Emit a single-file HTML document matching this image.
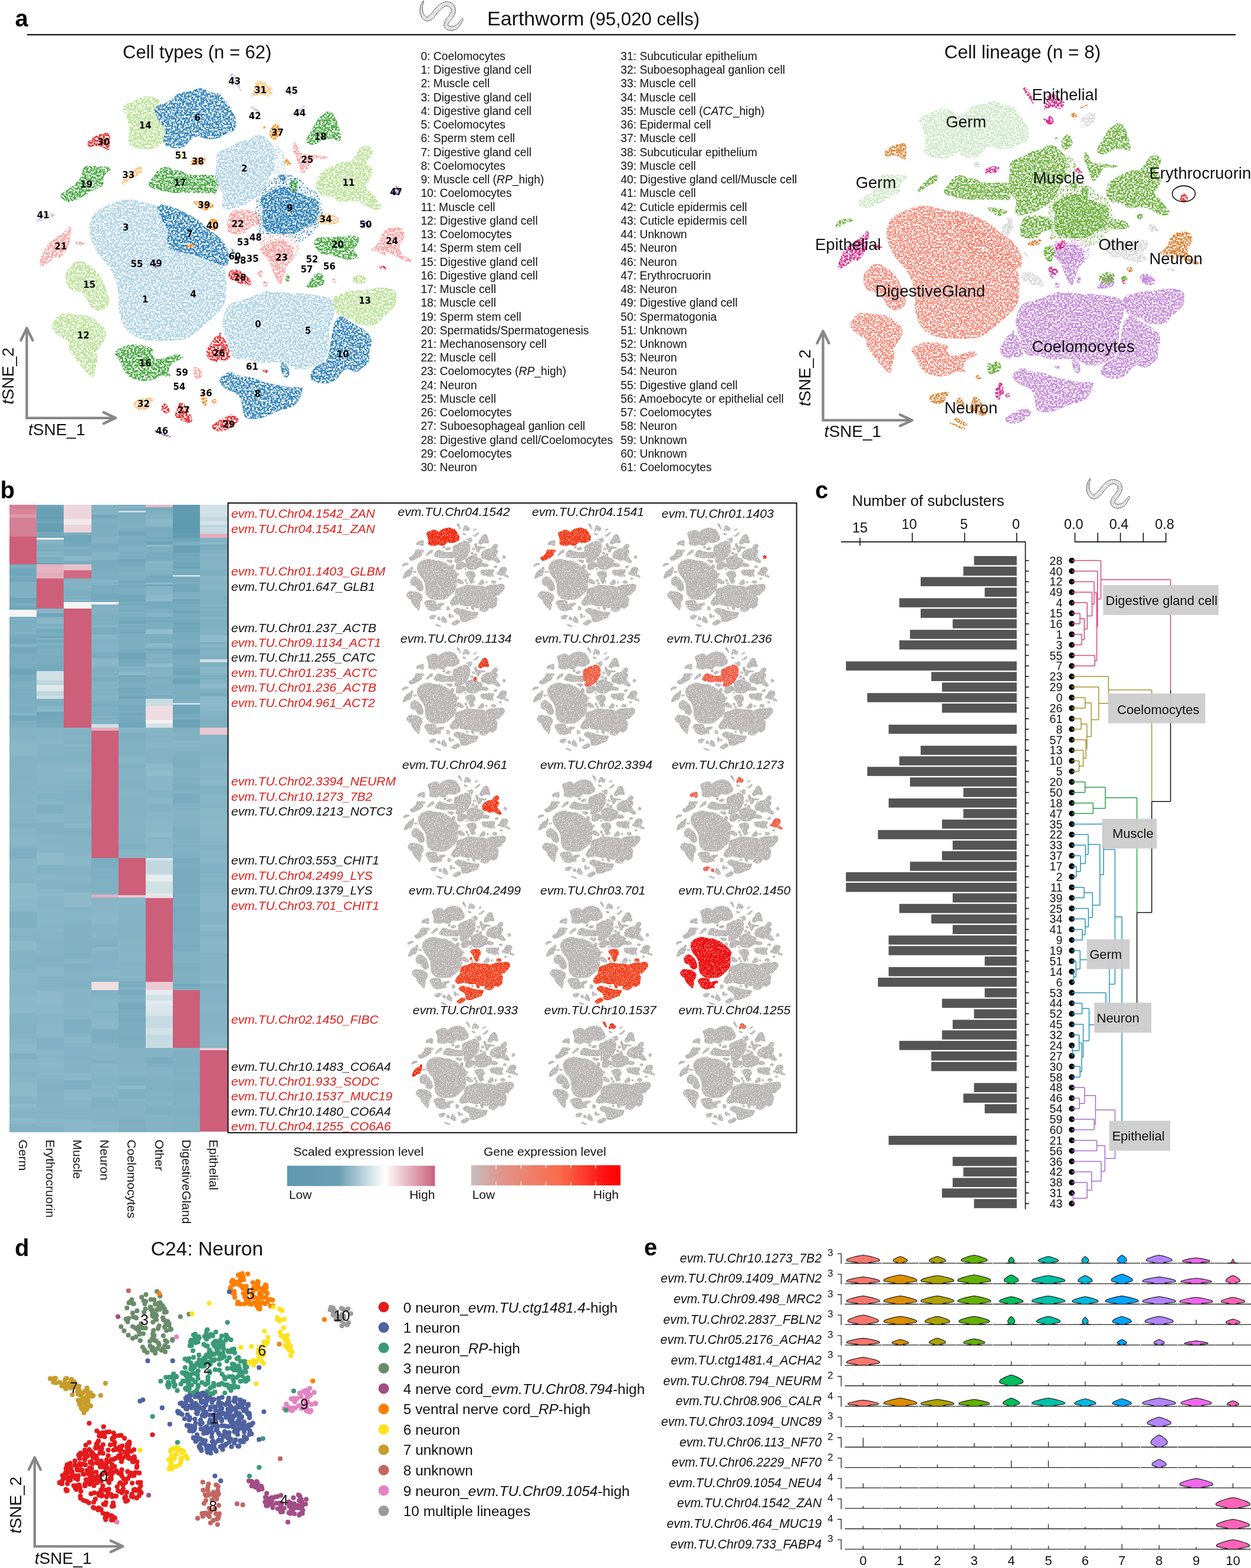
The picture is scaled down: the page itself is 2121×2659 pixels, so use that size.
<!DOCTYPE html>
<html><head><meta charset="utf-8"><title>Earthworm</title>
<style>html,body{margin:0;padding:0;background:#fff;} body{width:2121px;height:2659px;overflow:hidden;} svg{display:block;}</style>
</head><body>
<svg width="2121" height="2659" viewBox="0 0 2121 2659">
<rect width="2121" height="2659" fill="#fff"/>
<text x="25.5" y="45.0" font-size="40" text-anchor="start" font-weight="bold" font-style="normal" fill="#000" font-family='"Liberation Sans", Arial, sans-serif' >a</text>
<line x1="46" y1="58.8" x2="2095" y2="58.8" stroke="#111" stroke-width="2.2"/>
<text x="826" y="42.7" font-family='"Liberation Sans", Arial, sans-serif' fill="#111"><tspan font-size="34">Earthworm</tspan><tspan font-size="31.2"> (95,020 cells)</tspan></text>
<g id="worm1"><path d="M717.53,1.32 L717.15,1.83 L716.71,2.51 L716.21,3.32 L715.65,4.26 L715.08,5.30 L714.51,6.42 L713.96,7.60 L713.47,8.84 L713.06,10.11 L712.76,11.38 L712.54,12.65 L712.35,13.97 L712.20,15.36 L712.10,16.80 L712.04,18.26 L712.06,19.74 L712.15,21.21 L712.32,22.66 L712.61,24.08 L713.03,25.44 L713.57,26.74 L714.22,28.00 L714.97,29.23 L715.82,30.40 L716.73,31.52 L717.73,32.55 L718.79,33.49 L719.94,34.32 L721.20,35.01 L722.60,35.50 L724.11,35.71 L725.57,35.63 L726.93,35.34 L728.20,34.90 L729.39,34.35 L730.51,33.72 L731.55,33.01 L732.53,32.25 L733.48,31.48 L734.44,30.66 L735.47,29.70 L736.49,28.60 L737.45,27.46 L738.38,26.29 L739.28,25.10 L740.15,23.93 L741.00,22.80 L741.82,21.72 L742.61,20.74 L743.40,19.85 L744.24,18.94 L745.10,18.00 L745.95,17.09 L746.78,16.22 L747.60,15.39 L748.40,14.61 L749.17,13.90 L749.92,13.27 L750.63,12.72 L751.32,12.25 L752.04,11.83 L752.76,11.44 L753.48,11.10 L754.17,10.81 L754.85,10.58 L755.50,10.40 L756.12,10.27 L756.72,10.19 L757.28,10.15 L757.82,10.17 L758.38,10.24 L759.01,10.36 L759.67,10.55 L760.35,10.78 L761.02,11.07 L761.66,11.39 L762.25,11.74 L762.75,12.10 L763.17,12.46 L763.47,12.78 L763.74,13.13 L764.02,13.60 L764.28,14.16 L764.53,14.78 L764.74,15.47 L764.91,16.18 L765.03,16.89 L765.10,17.60 L765.12,18.27 L765.09,18.85 L765.02,19.38 L764.88,19.95 L764.66,20.58 L764.38,21.26 L764.03,21.99 L763.62,22.76 L763.17,23.55 L762.68,24.37 L762.16,25.20 L761.68,25.98 L761.22,26.66 L760.69,27.34 L760.07,28.06 L759.38,28.82 L758.64,29.62 L757.87,30.46 L757.10,31.35 L756.34,32.31 L755.63,33.34 L755.02,34.41 L754.55,35.42 L754.13,36.41 L753.74,37.44 L753.40,38.50 L753.12,39.60 L752.91,40.73 L752.80,41.90 L752.82,43.12 L753.03,44.40 L753.50,45.68 L754.19,46.83 L755.01,47.78 L755.92,48.60 L756.90,49.30 L757.95,49.91 L759.04,50.44 L760.18,50.87 L761.35,51.22 L762.56,51.47 L763.77,51.60 L764.96,51.63 L766.17,51.58 L767.42,51.44 L768.70,51.25 L769.97,50.86 L771.24,50.38 L772.50,49.82 L773.72,49.16 L774.90,48.41 L776.04,47.54 L777.14,46.50 L778.15,45.31 L779.09,44.03 L779.96,42.70 L780.78,41.34 L781.54,40.01 L782.24,38.75 L782.87,37.60 L783.41,36.61 L783.87,35.81 L784.26,35.15 L784.58,34.59 L784.83,34.11 L785.02,33.71 L785.16,33.37 L785.26,33.09 L785.33,32.87 L785.37,32.73 L785.38,32.67 L785.41,32.57 L783.19,31.43 L783.08,31.61 L782.98,31.82 L782.91,31.97 L782.85,32.09 L782.76,32.23 L782.64,32.41 L782.45,32.66 L782.19,33.00 L781.82,33.43 L781.33,33.99 L780.70,34.73 L779.96,35.64 L779.13,36.66 L778.24,37.75 L777.30,38.86 L776.34,39.94 L775.36,40.96 L774.42,41.85 L773.54,42.56 L772.76,43.06 L771.97,43.44 L771.11,43.78 L770.20,44.06 L769.27,44.28 L768.33,44.44 L767.40,44.54 L766.52,44.70 L765.67,44.79 L764.90,44.82 L764.23,44.80 L763.64,44.73 L763.02,44.60 L762.38,44.40 L761.76,44.16 L761.17,43.87 L760.65,43.56 L760.22,43.25 L759.91,42.97 L759.74,42.77 L759.70,42.72 L759.70,42.70 L759.68,42.53 L759.68,42.19 L759.73,41.71 L759.84,41.12 L760.02,40.45 L760.26,39.73 L760.54,38.99 L760.86,38.25 L761.18,37.59 L761.49,37.04 L761.90,36.46 L762.42,35.81 L763.05,35.10 L763.75,34.34 L764.50,33.54 L765.28,32.68 L766.07,31.78 L766.84,30.80 L767.52,29.82 L768.10,28.91 L768.65,28.03 L769.20,27.12 L769.75,26.17 L770.28,25.18 L770.78,24.15 L771.24,23.08 L771.62,21.95 L771.92,20.76 L772.11,19.55 L772.17,18.35 L772.14,17.17 L772.03,15.98 L771.84,14.80 L771.57,13.63 L771.23,12.48 L770.80,11.36 L770.28,10.27 L769.66,9.22 L768.93,8.22 L768.08,7.32 L767.15,6.51 L766.17,5.80 L765.14,5.17 L764.06,4.62 L762.96,4.14 L761.84,3.74 L760.69,3.41 L759.54,3.17 L758.38,3.03 L757.22,2.99 L756.08,3.04 L754.94,3.19 L753.83,3.41 L752.73,3.71 L751.65,4.08 L750.58,4.51 L749.54,5.00 L748.51,5.54 L747.48,6.15 L746.43,6.85 L745.40,7.62 L744.41,8.45 L743.44,9.32 L742.50,10.23 L741.58,11.15 L740.67,12.10 L739.78,13.04 L738.90,13.99 L738.00,14.95 L737.05,16.02 L736.10,17.18 L735.18,18.36 L734.29,19.53 L733.42,20.68 L732.58,21.78 L731.77,22.80 L730.99,23.72 L730.27,24.49 L729.56,25.14 L728.77,25.79 L727.96,26.45 L727.18,27.04 L726.45,27.57 L725.80,28.04 L725.23,28.40 L724.75,28.65 L724.40,28.79 L724.16,28.87 L724.00,28.90 L723.71,28.86 L723.21,28.67 L722.57,28.32 L721.85,27.83 L721.10,27.22 L720.36,26.52 L719.65,25.75 L719.00,24.95 L718.43,24.13 L717.97,23.36 L717.60,22.54 L717.26,21.57 L716.97,20.47 L716.73,19.28 L716.54,18.03 L716.40,16.74 L716.31,15.44 L716.25,14.17 L716.23,12.94 L716.24,11.82 L716.31,10.76 L716.47,9.65 L716.70,8.50 L716.98,7.34 L717.30,6.20 L717.62,5.10 L717.93,4.08 L718.19,3.15 L718.39,2.35 L718.47,1.68Z" fill="#fff" stroke="#333" stroke-width="0.9" stroke-linejoin="round"/><path d="M716.03,3.92L717.61,4.60M714.62,6.65L716.76,7.43M713.48,9.60L716.14,10.21M712.81,12.74L715.96,12.99M712.48,15.85L716.03,15.88M712.40,19.01L716.30,18.71M712.65,22.26L716.83,21.40M713.54,25.63L717.73,23.74M715.16,28.70L719.15,25.83M717.27,31.41L720.94,27.68M720.02,33.78L722.87,29.04M724.33,35.18L724.21,29.37M728.51,34.16L725.74,28.71M731.52,32.33L727.75,27.30M734.05,30.27L729.89,25.58M736.43,27.82L731.70,23.74M738.41,25.33L733.46,21.54M740.22,22.92L735.26,19.16M741.97,20.66L737.21,16.69M743.86,18.55L739.32,14.34M745.87,16.39L741.41,12.12M747.87,14.36L743.64,9.89M749.89,12.61L746.16,7.73M752.00,11.23L749.08,5.85M754.28,10.20L752.27,4.43M756.52,9.67L755.86,3.61M758.63,9.74L759.72,3.76M760.85,10.41L763.23,4.84M762.86,11.53L766.44,6.65M764.20,12.87L769.26,9.58M765.11,14.86L770.84,13.04M765.59,17.17L771.56,16.59M765.56,19.35L771.45,20.39M764.86,21.49L770.30,23.94M763.61,23.84L768.73,26.88M762.11,26.28L767.07,29.54M760.53,28.32L764.98,32.24M758.54,30.51L762.92,34.47M756.40,33.14L761.25,36.47M754.73,36.33L760.15,38.59M753.64,39.65L759.35,40.96M753.46,43.82L759.19,42.73M755.98,47.96L759.79,43.56M759.29,49.99L761.58,44.64M762.92,50.99L763.71,45.25M766.58,51.02L766.03,45.26M769.97,50.33L768.54,44.90M773.15,48.95L771.01,44.28M776.09,46.94L773.22,43.25M778.38,44.38L775.21,41.61M780.16,41.75L777.14,39.53M781.72,39.10L779.01,37.26M783.19,36.49L780.89,34.89" stroke="#555" stroke-width="0.55" fill="none"/></g>
<use href="#worm1" transform="translate(1130.3,810.2)"/>
<defs><filter id="spk" filterUnits="userSpaceOnUse" x="0" y="0" width="2121" height="2659" color-interpolation-filters="sRGB">
<feTurbulence type="fractalNoise" baseFrequency="0.32" numOctaves="2" seed="7" result="noise"/>
<feColorMatrix in="noise" type="matrix" values="0 0 0 0 0  0 0 0 0 0  0 0 0 0 0  7 0 0 0 -2.8" result="mask"/>
<feComposite in="SourceGraphic" in2="mask" operator="in"/>
</filter>
<filter id="spk3" filterUnits="userSpaceOnUse" x="0" y="0" width="2121" height="2659" color-interpolation-filters="sRGB">
<feTurbulence type="fractalNoise" baseFrequency="0.4" numOctaves="2" seed="11" result="noise"/>
<feColorMatrix in="noise" type="matrix" values="0 0 0 0 0  0 0 0 0 0  0 0 0 0 0  9 0 0 0 -5.0" result="mask"/>
<feComposite in="SourceGraphic" in2="mask" operator="in"/>
</filter></defs>
<defs><path id="k0" d="M152.5,397.5Q150.0,385.0 154.0,373.0Q158.0,361.0 168.0,355.0Q178.0,349.0 190.0,344.0Q202.0,339.0 212.0,338.0Q222.0,337.0 236.0,341.0Q250.0,345.0 259.0,347.0Q268.0,349.0 284.0,359.5Q300.0,370.0 320.0,385.0Q340.0,400.0 355.0,415.0Q370.0,430.0 377.0,445.0Q384.0,460.0 384.0,481.5Q384.0,503.0 381.0,513.0Q378.0,523.0 369.0,531.0Q360.0,539.0 350.0,548.5Q340.0,558.0 328.5,567.0Q317.0,576.0 303.0,577.0Q289.0,578.0 273.0,578.0Q257.0,578.0 245.5,576.0Q234.0,574.0 226.0,569.0Q218.0,564.0 212.0,555.5Q206.0,547.0 203.0,535.0Q200.0,523.0 201.0,513.0Q202.0,503.0 200.0,491.0Q198.0,479.0 194.0,469.5Q190.0,460.0 184.0,452.0Q178.0,444.0 171.5,437.0Q165.0,430.0 160.0,420.0Q155.0,410.0 152.5,397.5Z"/><path id="k1" d="M380.8,566.2Q375.8,554.4 377.8,542.5Q379.8,530.7 383.8,522.8Q387.7,514.9 398.5,511.9Q409.4,509.0 419.3,506.0Q429.2,503.0 438.1,498.1Q447.0,493.1 458.9,494.1Q470.7,495.1 480.6,496.1Q490.5,497.1 498.4,497.1Q506.3,497.1 517.1,498.1Q528.0,499.1 538.9,501.1Q549.8,503.0 557.7,505.0Q565.6,507.0 566.6,518.9Q567.6,530.7 562.7,544.5Q557.7,558.4 557.7,573.2Q557.7,588.0 555.7,598.9Q553.7,609.8 545.8,613.8Q537.9,617.7 530.0,621.7Q522.1,625.6 516.1,626.6Q510.2,627.6 504.3,626.6Q498.4,625.6 492.4,620.7Q486.5,615.7 478.6,614.7Q470.7,613.7 460.8,614.7Q450.9,615.7 443.0,615.7Q435.1,615.7 427.2,611.8Q419.3,607.8 409.4,608.8Q399.5,609.8 394.6,603.8Q389.7,597.9 387.7,588.0Q385.7,578.1 380.8,566.2Z"/><path id="k2" d="M366.9,270.0Q365.9,262.1 370.9,258.1Q375.8,254.2 382.8,252.2Q389.7,250.2 398.5,244.3Q407.4,238.4 416.3,237.4Q425.2,236.4 428.2,232.4Q431.2,228.5 438.1,228.5Q445.0,228.5 448.9,232.4Q452.9,236.4 457.9,241.4Q462.8,246.3 464.8,252.2Q466.7,258.1 464.8,266.1Q462.8,274.0 464.8,281.9Q466.7,289.8 461.8,293.8Q456.9,297.7 452.9,307.5Q449.0,317.4 444.1,324.4Q439.1,331.3 432.1,336.2Q425.2,341.2 418.3,345.1Q411.4,349.1 401.5,352.1Q391.6,355.0 384.7,356.0Q377.8,357.0 376.8,350.1Q375.8,343.1 377.8,335.2Q379.8,327.3 373.9,322.4Q367.9,317.4 365.9,307.5Q364.0,297.7 365.9,287.8Q367.9,277.9 366.9,270.0Z"/><path id="k3" d="M208.5,182.6Q209.0,178.1 219.4,174.1Q229.8,170.2 238.7,165.8Q247.6,161.3 259.4,164.8Q271.3,168.2 272.3,175.6Q273.3,183.0 270.3,188.9Q267.3,194.9 271.2,202.8Q275.2,210.7 279.1,216.6Q283.1,222.6 281.1,230.5Q279.2,238.4 273.2,244.3Q267.3,250.2 258.4,252.2Q249.5,254.2 238.7,252.2Q227.8,250.2 221.9,247.2Q215.9,244.3 217.9,235.4Q219.9,226.5 218.9,218.6Q217.9,210.7 215.9,202.8Q214.0,194.9 211.0,190.9Q208.0,187.0 208.5,182.6Z"/><path id="k4" d="M262.4,190.9Q259.4,183.0 265.4,180.1Q271.3,177.1 277.2,176.1Q283.1,175.1 292.0,166.2Q300.9,157.3 310.8,156.3Q320.7,155.3 331.5,151.4Q342.4,147.4 349.4,152.4Q356.3,157.3 368.1,158.3Q380.0,159.3 375.9,160.3Q371.9,161.3 377.8,166.2Q383.7,171.2 389.6,181.1Q395.6,190.9 398.6,198.8Q401.5,206.7 399.6,214.6Q397.6,222.6 390.6,224.6Q383.7,226.5 377.8,230.4Q371.9,234.4 362.1,235.4Q352.3,236.4 342.5,233.4Q332.6,230.5 326.6,234.4Q320.7,238.4 316.8,244.3Q312.8,250.2 305.9,251.2Q299.0,252.2 289.1,250.2Q279.2,248.3 277.2,242.4Q275.2,236.4 279.1,229.5Q283.1,222.6 278.2,216.6Q273.3,210.7 269.3,204.8Q265.3,198.8 262.4,190.9Z"/><path id="k5" d="M147.8,247.2Q144.8,244.3 149.8,239.4Q154.7,234.4 160.6,231.4Q166.5,228.5 172.4,226.5Q178.4,224.5 182.9,225.5Q187.3,226.5 186.8,232.4Q186.3,238.4 186.3,247.3Q186.3,256.2 182.4,254.2Q178.4,252.2 172.4,249.2Q166.5,246.3 158.6,248.2Q150.7,250.2 147.8,247.2Z"/><path id="k6" d="M105.2,336.7Q99.3,330.3 107.2,325.9Q115.1,321.4 123.0,315.4Q130.9,309.5 134.9,303.6Q138.8,297.7 140.3,288.8Q141.8,279.9 150.2,280.9Q158.6,281.9 166.5,281.9Q174.4,281.9 183.3,282.9Q192.2,283.8 189.2,286.8Q186.3,289.8 180.4,293.8Q174.4,297.7 175.4,306.6Q176.4,315.5 169.5,317.4Q162.6,319.4 155.6,324.4Q148.7,329.3 136.8,335.2Q125.0,341.2 118.1,342.1Q111.2,343.1 105.2,336.7Z"/><path id="k7" d="M208.1,313.5Q204.1,313.5 207.1,308.6Q210.0,303.6 216.9,296.7Q223.8,289.8 229.8,285.9Q235.7,281.9 239.1,282.4Q242.6,282.8 241.1,289.2Q239.7,295.7 234.8,297.7Q229.8,299.7 223.9,302.6Q217.9,305.6 214.9,309.6Q212.0,313.5 208.1,313.5Z"/><path id="k8" d="M253.4,315.4Q249.5,311.5 254.4,306.6Q259.4,301.6 262.4,295.7Q265.3,289.8 271.2,285.9Q277.2,281.9 282.1,282.9Q287.1,283.8 292.1,286.8Q297.0,289.8 300.9,288.8Q304.9,287.8 312.8,292.8Q320.7,297.7 334.5,296.7Q348.4,295.7 357.3,296.7Q366.2,297.7 368.1,301.6Q370.1,305.6 369.1,317.5Q368.1,329.3 362.2,328.3Q356.3,327.3 346.4,327.3Q336.5,327.3 326.6,327.3Q316.7,327.3 306.9,327.3Q297.0,327.3 285.1,325.4Q273.3,323.4 265.4,321.4Q257.4,319.4 253.4,315.4Z"/><path id="k9" d="M322.7,278.9Q320.7,277.9 323.6,273.9Q326.6,270.0 333.6,268.0Q340.5,266.0 345.4,267.0Q350.3,268.0 348.4,271.9Q346.4,275.9 343.4,277.9Q340.5,279.9 332.6,279.9Q324.7,279.9 322.7,278.9Z"/><path id="k10" d="M303.9,265.1Q302.9,260.1 308.9,259.1Q314.8,258.1 315.8,263.1Q316.7,268.0 310.8,269.0Q304.9,270.0 303.9,265.1Z"/><path id="k11" d="M267.0,353.0Q266.0,346.0 275.5,347.0Q285.0,348.0 297.5,353.0Q310.0,358.0 322.5,365.0Q335.0,372.0 345.0,381.0Q355.0,390.0 363.5,396.0Q372.0,402.0 378.5,410.0Q385.0,418.0 387.5,429.0Q390.0,440.0 387.5,446.0Q385.0,452.0 377.5,450.0Q370.0,448.0 360.0,444.0Q350.0,440.0 337.5,435.0Q325.0,430.0 312.5,429.0Q300.0,428.0 292.5,424.0Q285.0,420.0 283.5,412.5Q282.0,405.0 284.5,398.5Q287.0,392.0 281.0,383.5Q275.0,375.0 271.5,367.5Q268.0,360.0 267.0,353.0Z"/><path id="k12" d="M328.1,343.1Q327.6,341.2 334.1,341.2Q340.5,341.2 348.4,343.1Q356.3,345.1 360.8,347.1Q365.2,349.1 360.8,351.1Q356.3,353.0 352.4,356.0Q348.4,359.0 342.4,355.0Q336.5,351.0 332.6,348.1Q328.6,345.1 328.1,343.1Z"/><path id="k13" d="M353.3,378.8Q354.3,372.8 359.2,370.8Q364.2,368.8 367.1,372.8Q370.1,376.7 369.1,383.6Q368.1,390.6 363.2,391.6Q358.3,392.6 355.3,388.6Q352.3,384.7 353.3,378.8Z"/><path id="k14" d="M315.8,418.2Q314.8,416.3 319.8,414.3Q324.7,412.3 327.6,414.3Q330.6,416.3 327.6,418.2Q324.7,420.2 320.7,420.2Q316.7,420.2 315.8,418.2Z"/><path id="k15" d="M64.2,377.7Q60.8,378.7 63.2,371.8Q65.7,364.9 72.6,362.9Q79.5,360.9 87.4,361.9Q95.3,362.9 94.3,364.9Q93.4,366.9 86.5,367.9Q79.5,368.8 73.6,372.8Q67.7,376.7 64.2,377.7Z"/><path id="k16" d="M67.7,441.9Q67.7,440.0 71.7,430.1Q75.6,420.2 83.5,412.3Q91.4,404.4 100.3,399.4Q109.2,394.5 114.2,387.6Q119.1,380.7 120.0,384.6Q121.0,388.6 120.0,398.5Q119.1,408.4 115.2,418.2Q111.2,428.1 105.2,434.1Q99.3,440.0 99.3,435.9Q99.3,431.9 89.4,439.8Q79.5,447.7 73.6,450.6Q67.7,453.6 67.7,448.6Q67.7,443.7 67.7,441.9Z"/><path id="k17" d="M128.0,411.4Q127.0,408.4 132.9,409.4Q138.8,410.3 142.8,411.3Q146.7,412.3 141.8,414.3Q136.9,416.3 132.9,415.3Q129.0,414.3 128.0,411.4Z"/><path id="k18" d="M390.6,128.2Q389.7,124.7 393.6,124.7Q397.6,124.7 402.5,135.1Q407.4,145.5 408.4,151.4Q409.4,157.3 406.4,152.4Q403.5,147.4 397.6,139.5Q391.6,131.6 390.6,128.2Z"/><path id="k19" d="M428.2,164.2Q425.2,165.2 428.2,157.3Q431.2,149.4 432.1,143.5Q433.1,137.6 438.1,136.6Q443.0,135.6 446.9,138.6Q450.9,141.5 456.9,144.4Q462.8,147.4 462.3,153.4Q461.8,159.3 458.4,162.2Q454.9,165.2 448.9,162.2Q443.0,159.3 437.1,161.3Q431.2,163.3 428.2,164.2Z"/><path id="k20" d="M491.4,162.3Q488.5,161.3 493.4,159.3Q498.4,157.3 502.4,155.4Q506.3,153.4 500.4,158.4Q494.4,163.3 491.4,162.3Z"/><path id="k21" d="M492.4,196.4Q486.5,193.9 492.4,193.4Q498.4,192.9 504.3,186.9Q510.2,181.0 515.1,178.6Q520.1,176.1 516.2,182.6Q512.2,189.0 505.3,193.9Q498.4,198.8 492.4,196.4Z"/><path id="k22" d="M426.2,183.1Q425.2,179.1 428.2,181.1Q431.2,183.0 437.1,185.0Q443.0,187.0 440.1,188.9Q437.1,190.9 432.1,188.9Q427.2,187.0 426.2,183.1Z"/><path id="k23" d="M458.9,232.4Q454.9,226.5 457.9,220.6Q460.8,214.7 464.8,211.2Q468.7,207.7 471.7,211.2Q474.7,214.7 476.6,220.6Q478.6,226.5 474.6,230.4Q470.7,234.4 466.8,236.4Q462.8,238.4 458.9,232.4Z"/><path id="k24" d="M446.0,217.6Q445.0,216.6 447.9,214.6Q450.9,212.7 451.9,214.1Q452.9,215.6 449.9,217.1Q447.0,218.6 446.0,217.6Z"/><path id="k25" d="M520.1,241.4Q518.1,238.4 522.0,231.4Q526.0,224.5 530.0,217.6Q534.0,210.7 538.0,203.8Q541.9,196.9 546.8,192.9Q551.7,189.0 557.7,189.0Q563.6,189.0 567.5,196.9Q571.5,204.8 573.5,211.7Q575.5,218.6 577.5,227.5Q579.4,236.4 576.5,238.4Q573.5,240.3 569.5,237.4Q565.6,234.4 560.7,235.4Q555.7,236.4 550.8,236.4Q545.8,236.4 539.9,241.4Q534.0,246.3 528.0,245.3Q522.1,244.3 520.1,241.4Z"/><path id="k26" d="M496.4,249.2Q496.4,242.3 499.4,241.3Q502.3,240.3 505.3,249.2Q508.3,258.1 511.2,260.1Q514.2,262.1 521.1,262.1Q528.0,262.1 535.9,263.1Q543.8,264.1 550.8,265.1Q557.7,266.0 555.7,268.0Q553.7,270.0 542.9,269.0Q532.0,268.0 529.0,272.9Q526.0,277.9 523.0,283.9Q520.1,289.8 516.2,292.8Q512.2,295.7 510.2,289.8Q508.3,283.8 505.3,275.9Q502.3,268.0 499.4,262.1Q496.4,256.2 496.4,249.2Z"/><path id="k27" d="M481.6,275.9Q480.6,274.0 483.6,271.0Q486.5,268.0 488.5,271.0Q490.5,274.0 493.4,275.9Q496.4,277.9 492.4,279.4Q488.5,280.9 485.6,279.4Q482.6,277.9 481.6,275.9Z"/><path id="k28" d="M538.0,324.4Q534.0,317.4 536.0,307.5Q537.9,297.7 545.8,291.8Q553.7,285.8 561.6,281.9Q569.5,277.9 575.5,275.9Q581.4,274.0 589.3,274.0Q597.2,274.0 602.2,264.1Q607.1,254.2 612.0,250.2Q617.0,246.3 624.9,248.2Q632.8,250.2 631.8,257.1Q630.8,264.1 623.9,271.0Q617.0,277.9 624.9,280.9Q632.8,283.8 630.8,293.7Q628.8,303.6 622.9,310.5Q617.0,317.4 622.9,320.4Q628.8,323.4 632.8,330.3Q636.7,337.2 643.7,345.1Q650.6,353.0 641.7,355.0Q632.8,357.0 623.9,351.1Q615.0,345.1 606.1,342.1Q597.2,339.2 585.4,342.1Q573.5,345.1 569.5,339.2Q565.6,333.3 559.7,333.3Q553.7,333.3 547.8,332.3Q541.9,331.3 538.0,324.4Z"/><path id="k29" d="M665.4,329.3Q662.4,327.3 666.3,320.4Q670.3,313.5 673.3,315.4Q676.3,317.4 678.2,323.4Q680.2,329.3 674.3,330.3Q668.4,331.3 665.4,329.3Z"/><path id="k30" d="M443.1,347.1Q439.1,337.2 447.0,331.2Q454.9,325.3 466.8,320.4Q478.6,315.5 484.6,316.4Q490.5,317.4 496.4,320.4Q502.3,323.4 510.2,328.4Q518.1,333.3 528.0,335.2Q537.9,337.2 539.9,344.1Q541.9,351.0 539.9,359.9Q537.9,368.8 536.0,374.8Q534.0,380.7 526.0,381.7Q518.1,382.7 514.1,386.6Q510.2,390.6 504.3,393.6Q498.4,396.5 488.5,396.5Q478.6,396.5 470.7,395.5Q462.8,394.5 456.9,393.6Q450.9,392.6 446.9,384.6Q443.0,376.7 445.0,366.9Q447.0,357.0 443.1,347.1Z"/><path id="k31" d="M472.7,301.6Q470.7,297.7 474.6,295.7Q478.6,293.7 482.6,296.7Q486.5,299.7 484.6,303.6Q482.6,307.6 478.6,306.6Q474.7,305.6 472.7,301.6Z"/><path id="k32" d="M492.4,320.4Q488.5,315.5 491.4,310.6Q494.4,305.6 498.4,303.6Q502.3,301.6 504.3,307.6Q506.3,313.5 504.3,319.4Q502.3,325.3 499.4,325.3Q496.4,325.3 492.4,320.4Z"/><path id="k33" d="M539.8,376.8Q535.9,372.8 539.8,367.9Q543.8,362.9 550.8,361.9Q557.7,360.9 565.6,364.9Q573.5,368.8 575.5,372.8Q577.4,376.7 571.5,378.7Q565.6,380.7 554.7,380.7Q543.8,380.7 539.8,376.8Z"/><path id="k34" d="M614.0,385.6Q611.0,384.7 613.0,380.7Q615.0,376.7 621.0,376.7Q626.9,376.7 627.8,380.7Q628.8,384.7 622.9,385.6Q617.0,386.6 614.0,385.6Z"/><path id="k35" d="M390.6,395.6Q381.7,392.6 385.7,374.8Q389.7,357.0 399.5,356.0Q409.4,355.0 419.3,356.0Q429.2,357.0 434.1,360.9Q439.1,364.9 441.1,370.8Q443.0,376.7 439.1,379.7Q435.1,382.7 429.2,383.7Q423.3,384.7 419.3,390.6Q415.3,396.5 407.4,397.5Q399.5,398.5 390.6,395.6Z"/><path id="k36" d="M632.8,425.2Q624.9,424.2 632.8,420.2Q640.7,416.3 644.7,404.5Q648.6,392.6 654.5,388.6Q660.5,384.7 670.4,384.7Q680.2,384.7 684.2,391.6Q688.1,398.5 686.2,403.4Q684.2,408.4 680.2,412.4Q676.3,416.3 678.2,424.2Q680.2,432.1 690.1,436.1Q700.0,440.0 698.0,442.9Q696.0,445.7 688.1,442.8Q680.2,439.8 673.3,435.9Q666.4,431.9 659.5,428.9Q652.6,425.9 654.5,430.9Q656.5,436.0 648.6,431.1Q640.7,426.2 632.8,425.2Z"/><path id="k37" d="M533.0,414.3Q532.0,408.4 535.0,405.4Q537.9,402.4 547.8,402.4Q557.7,402.4 567.5,401.4Q577.4,400.5 587.3,399.5Q597.2,398.5 604.1,400.4Q611.0,402.4 608.0,409.4Q605.1,416.3 601.2,420.2Q597.2,424.2 603.2,430.1Q609.1,436.0 607.1,438.0Q605.1,440.0 606.1,436.9Q607.1,433.8 602.2,437.8Q597.2,441.7 587.3,439.8Q577.4,437.8 567.5,434.9Q557.7,431.9 551.8,432.0Q545.8,432.1 539.9,426.1Q534.0,420.2 533.0,414.3Z"/><path id="k38" d="M441.1,421.1Q443.0,418.3 448.9,415.3Q454.9,412.3 462.8,410.4Q470.7,408.4 476.6,408.4Q482.6,408.4 488.5,412.4Q494.4,416.3 496.4,428.1Q498.4,440.0 496.4,439.9Q494.4,439.8 488.5,449.6Q482.6,459.5 480.6,471.4Q478.6,483.3 473.6,480.3Q468.7,477.3 465.8,468.4Q462.8,459.5 458.9,449.6Q454.9,439.8 447.0,431.9Q439.1,424.0 441.1,421.1Z"/><path id="k39" d="M437.1,465.4Q435.1,459.5 440.1,458.6Q445.0,457.6 446.0,463.5Q447.0,469.4 443.1,470.4Q439.1,471.4 437.1,465.4Z"/><path id="k40" d="M446.0,480.2Q447.0,475.3 450.9,477.3Q454.9,479.3 453.9,483.2Q452.9,487.2 448.9,486.2Q445.0,485.2 446.0,480.2Z"/><path id="k41" d="M111.2,474.4Q109.2,465.5 116.1,455.6Q123.0,445.7 130.9,443.7Q138.8,441.7 146.8,446.6Q154.7,451.6 161.6,458.6Q168.5,465.5 173.4,474.4Q178.4,483.3 180.4,491.2Q182.3,499.1 184.3,504.1Q186.3,509.0 184.3,514.9Q182.3,520.8 175.4,524.8Q168.5,528.7 161.6,525.8Q154.7,522.8 150.7,514.9Q146.7,507.0 142.8,501.1Q138.8,495.1 129.9,494.1Q121.0,493.1 117.0,488.2Q113.1,483.3 111.2,474.4Z"/><path id="k42" d="M88.4,554.5Q87.4,550.5 93.3,541.6Q99.3,532.7 107.2,531.7Q115.1,530.7 122.0,532.7Q129.0,534.7 135.9,533.7Q142.8,532.7 148.8,535.7Q154.7,538.6 160.6,541.5Q166.5,544.5 173.4,551.5Q180.3,558.4 179.4,567.3Q178.4,576.2 173.4,582.1Q168.5,588.0 165.6,594.0Q162.6,599.9 164.6,601.8Q166.5,603.8 164.6,612.7Q162.6,621.6 160.6,632.5Q158.6,643.4 154.6,639.5Q150.7,635.5 142.8,626.6Q134.9,617.7 129.9,610.8Q125.0,603.8 121.0,597.9Q117.1,592.0 116.1,585.0Q115.1,578.1 107.2,574.2Q99.3,570.2 94.3,564.3Q89.4,558.4 88.4,554.5Z"/><path id="k43" d="M197.1,603.8Q192.2,597.9 197.1,594.0Q202.1,590.0 210.0,587.0Q217.9,584.1 227.8,584.1Q237.7,584.1 249.5,587.0Q261.4,590.0 259.4,596.0Q257.4,601.9 260.4,605.8Q263.4,609.8 270.3,608.8Q277.2,607.8 285.1,604.8Q293.0,601.9 298.9,600.9Q304.9,599.9 308.9,602.8Q312.8,605.8 306.9,608.8Q300.9,611.7 295.0,614.7Q289.1,617.7 287.1,623.6Q285.1,629.5 289.1,634.5Q293.0,639.4 283.1,638.4Q273.3,637.4 267.4,640.4Q261.4,643.4 253.5,645.3Q245.6,647.3 236.7,645.3Q227.8,643.4 220.9,639.5Q214.0,635.5 211.0,630.5Q208.0,625.6 205.1,617.7Q202.1,609.8 197.1,603.8Z"/><path id="k44" d="M327.6,633.5Q326.6,623.6 329.6,622.6Q332.6,621.6 338.5,625.5Q344.4,629.5 343.4,635.5Q342.4,641.4 335.5,642.4Q328.6,643.4 327.6,633.5Z"/><path id="k45" d="M226.8,688.8Q223.8,684.9 228.8,681.0Q233.7,677.0 240.6,676.0Q247.6,675.0 252.5,674.0Q257.4,673.0 260.4,675.0Q263.4,677.0 258.4,681.0Q253.5,684.9 253.5,688.8Q253.5,692.8 247.6,694.8Q241.6,696.7 235.7,694.8Q229.8,692.8 226.8,688.8Z"/><path id="k46" d="M274.2,696.8Q271.3,692.8 274.2,687.8Q277.2,682.9 281.1,684.9Q285.1,686.9 287.1,693.8Q289.1,700.7 283.1,700.7Q277.2,700.7 274.2,696.8Z"/><path id="k47" d="M298.9,707.7Q295.0,704.7 297.9,698.8Q300.9,692.8 302.9,685.9Q304.9,679.0 308.9,682.0Q312.8,684.9 314.8,688.8Q316.7,692.8 320.7,698.8Q324.7,704.7 325.6,710.6Q326.6,716.5 322.6,717.5Q318.7,718.5 310.8,714.5Q302.9,710.6 298.9,707.7Z"/><path id="k48" d="M341.4,677.0Q340.5,667.1 344.4,666.1Q348.4,665.1 350.4,671.0Q352.3,677.0 351.3,682.9Q350.3,688.8 346.4,687.8Q342.4,686.9 341.4,677.0Z"/><path id="k49" d="M359.2,682.0Q358.3,679.0 362.2,677.0Q366.2,675.0 367.1,679.0Q368.1,682.9 364.1,683.9Q360.2,684.9 359.2,682.0Z"/><path id="k50" d="M264.4,732.3Q257.4,728.4 262.4,729.3Q267.3,730.3 272.2,732.3Q277.2,734.3 284.1,737.2Q291.0,740.2 289.1,741.2Q287.1,742.2 279.2,739.2Q271.3,736.3 264.4,732.3Z"/><path id="k51" d="M350.4,601.9Q348.4,594.0 352.4,589.0Q356.3,584.1 360.2,577.2Q364.2,570.2 372.1,567.2Q380.0,564.3 373.9,564.3Q367.9,564.3 372.9,567.2Q377.8,570.2 381.8,576.2Q385.7,582.1 387.7,590.0Q389.7,597.9 390.6,603.8Q391.6,609.8 385.7,610.8Q379.8,611.7 373.9,610.8Q367.9,609.8 368.0,612.8Q368.1,615.7 360.2,612.8Q352.3,609.8 350.4,601.9Z"/><path id="k52" d="M361.2,727.3Q356.3,722.4 364.2,717.5Q372.1,712.6 372.0,712.6Q371.9,712.6 377.8,709.6Q383.7,706.6 388.6,703.7Q393.6,700.7 400.5,705.7Q407.4,710.6 403.4,714.5Q399.5,718.5 394.6,722.5Q389.7,726.4 382.8,729.3Q375.8,732.3 369.9,731.3Q364.0,730.3 365.1,731.3Q366.2,732.3 361.2,727.3Z"/><path id="k53" d="M387.7,469.4Q385.7,465.5 389.6,460.6Q393.6,455.6 399.6,456.6Q405.5,457.6 411.4,462.5Q417.3,467.4 422.2,471.4Q427.2,475.3 427.2,479.3Q427.2,483.3 421.2,484.2Q415.3,485.2 409.4,482.2Q403.5,479.3 396.6,476.4Q389.7,473.4 387.7,469.4Z"/><path id="k54" d="M565.6,516.9Q563.6,503.0 570.5,500.1Q577.4,497.1 587.3,495.1Q597.2,493.1 611.0,492.1Q624.9,491.2 634.8,489.2Q644.7,487.2 656.5,488.2Q668.4,489.2 671.3,496.1Q674.3,503.0 671.3,512.9Q668.4,522.8 662.5,526.8Q656.5,530.7 651.5,536.7Q646.6,542.6 643.7,546.5Q640.7,550.5 631.8,551.5Q622.9,552.4 615.0,551.5Q607.1,550.5 601.2,545.5Q595.2,540.6 588.3,538.6Q581.4,536.6 574.5,533.7Q567.6,530.7 565.6,516.9Z"/><path id="k55" d="M597.2,476.4Q595.2,473.4 599.2,469.4Q603.1,465.5 611.0,466.4Q619.0,467.4 621.0,472.4Q622.9,477.3 617.0,480.3Q611.0,483.3 605.1,481.3Q599.2,479.3 597.2,476.4Z"/><path id="k56" d="M559.7,586.0Q561.6,574.2 563.6,561.4Q565.6,548.5 568.5,543.5Q571.5,538.6 575.5,536.7Q579.4,534.7 584.3,538.7Q589.3,542.6 595.2,546.5Q601.2,550.5 609.1,554.5Q617.0,558.4 622.9,564.3Q628.8,570.2 629.8,576.2Q630.8,582.1 627.8,590.0Q624.9,597.9 625.9,605.8Q626.9,613.7 622.0,617.7Q617.0,621.6 610.0,627.5Q603.1,633.5 598.2,629.5Q593.3,625.6 587.3,626.6Q581.4,627.6 577.5,634.5Q573.5,641.4 565.6,646.3Q557.7,651.3 547.8,650.3Q537.9,649.3 531.0,646.3Q524.1,643.4 526.0,636.5Q528.0,629.5 533.0,623.6Q537.9,617.7 545.8,615.7Q553.7,613.7 555.7,605.8Q557.7,597.9 559.7,586.0Z"/><path id="k57" d="M376.8,654.2Q369.9,647.3 373.9,641.4Q377.8,635.5 384.7,632.5Q391.6,629.5 397.6,633.5Q403.5,637.4 415.4,638.4Q427.2,639.4 435.1,643.3Q443.0,647.3 452.9,649.3Q462.8,651.3 472.7,653.2Q482.6,655.2 490.5,656.2Q498.4,657.2 507.3,656.2Q516.2,655.2 513.2,662.2Q510.2,669.1 508.2,676.0Q506.3,682.9 498.4,687.8Q490.5,692.8 480.6,694.8Q470.7,696.7 462.8,700.7Q454.9,704.7 447.0,707.7Q439.1,710.6 427.2,710.6Q415.3,710.6 413.4,703.7Q411.4,696.7 410.4,686.9Q409.4,677.0 404.4,671.0Q399.5,665.1 391.6,663.2Q383.7,661.2 376.8,654.2Z"/><path id="k58" d="M475.6,622.6Q474.7,615.7 478.6,614.7Q482.6,613.7 486.6,619.7Q490.5,625.6 490.5,632.5Q490.5,639.4 486.6,640.4Q482.6,641.4 479.6,635.5Q476.6,629.5 475.6,622.6Z"/><path id="k59" d="M521.1,487.2Q518.1,485.2 522.0,480.2Q526.0,475.3 530.0,470.4Q534.0,465.5 538.0,462.5Q541.9,459.5 545.8,464.4Q549.8,469.4 549.8,476.4Q549.8,483.3 543.8,485.2Q537.9,487.2 531.0,488.2Q524.1,489.2 521.1,487.2Z"/><path id="k60" d="M486.6,477.3Q482.6,475.3 484.6,469.4Q486.5,463.5 489.4,464.5Q492.4,465.5 491.4,472.4Q490.5,479.3 486.6,477.3Z"/><path id="k61" d="M563.6,476.9Q561.6,473.4 564.6,472.4Q567.6,471.4 569.5,474.4Q571.5,477.3 568.5,478.8Q565.6,480.3 563.6,476.9Z"/><path id="k62" d="M436.6,397.5Q436.1,394.5 438.6,393.6Q441.0,392.6 442.0,395.6Q443.0,398.5 440.1,399.5Q437.1,400.5 436.6,397.5Z"/><path id="k63" d="M261.4,451.6Q259.4,447.7 262.4,445.7Q265.3,443.7 266.3,447.6Q267.3,451.6 265.4,453.6Q263.4,455.6 261.4,451.6Z"/><path id="k64" d="M391.6,424.1Q389.7,420.2 393.6,422.2Q397.6,424.2 398.6,428.1Q399.5,432.1 396.6,430.1Q393.6,428.1 391.6,424.1Z"/><path id="k65" d="M445.0,629.5Q443.0,627.6 447.9,626.6Q452.9,625.6 454.9,629.5Q456.9,633.5 451.9,632.5Q447.0,631.5 445.0,629.5Z"/><path id="k66" d="M642.7,453.6Q640.7,451.6 646.7,450.6Q652.6,449.7 654.5,453.6Q656.5,457.6 650.6,456.6Q644.7,455.6 642.7,453.6Z"/></defs>
<g transform="" filter="url(#spk3)">
<path d="M433.1,347.1Q435.1,327.3 444.0,318.4Q452.9,309.5 461.8,302.6Q470.7,295.7 484.5,295.7Q498.4,295.7 508.2,304.6Q518.1,313.5 528.0,319.4Q537.9,325.3 543.8,341.1Q549.8,357.0 544.8,372.8Q539.9,388.6 529.0,398.5Q518.1,408.4 503.3,412.4Q488.5,416.3 473.6,414.3Q458.8,412.3 449.0,404.4Q439.1,396.5 435.1,381.7Q431.2,366.9 433.1,347.1Z" fill="#1f78b4"/>
<path d="M458.9,262.1Q462.8,246.3 470.7,248.2Q478.6,250.2 482.6,264.0Q486.5,277.9 482.6,287.8Q478.6,297.7 470.7,297.7Q462.8,297.7 458.9,287.8Q454.9,277.9 458.9,262.1Z" fill="#a6cee3"/>
<path d="M442.1,424.2Q435.1,408.4 447.0,402.4Q458.8,396.5 478.6,398.5Q498.4,400.5 504.3,412.4Q510.2,424.2 504.3,432.1Q498.4,440.0 473.7,440.0Q449.0,440.0 442.1,424.2Z" fill="#fb9a99"/>
</g>
<g transform="" fill-opacity="0.9" filter="url(#spk)">
<use href="#k0" fill="#a6cee3"/>
<use href="#k1" fill="#a6cee3"/>
<use href="#k2" fill="#a6cee3"/>
<use href="#k3" fill="#b2df8a"/>
<use href="#k4" fill="#1f78b4"/>
<use href="#k5" fill="#e31a1c"/>
<use href="#k6" fill="#33a02c"/>
<use href="#k7" fill="#fdbf6f"/>
<use href="#k8" fill="#33a02c"/>
<use href="#k9" fill="#ff7f00"/>
<use href="#k10" fill="#ffff99"/>
<use href="#k11" fill="#1f78b4"/>
<use href="#k12" fill="#ff7f00"/>
<use href="#k13" fill="#ff7f00"/>
<use href="#k14" fill="#ff7f00"/>
<use href="#k15" fill="#cab2d6"/>
<use href="#k16" fill="#fb9a99"/>
<use href="#k17" fill="#fb9a99"/>
<use href="#k18" fill="#cab2d6"/>
<use href="#k19" fill="#fdbf6f"/>
<use href="#k20" fill="#cab2d6"/>
<use href="#k21" fill="#cab2d6"/>
<use href="#k22" fill="#cab2d6"/>
<use href="#k23" fill="#ff7f00"/>
<use href="#k24" fill="#ff7f00"/>
<use href="#k25" fill="#33a02c"/>
<use href="#k26" fill="#fb9a99"/>
<use href="#k27" fill="#ff7f00"/>
<use href="#k28" fill="#b2df8a"/>
<use href="#k29" fill="#6a3d9a"/>
<use href="#k30" fill="#1f78b4"/>
<use href="#k31" fill="#1f78b4"/>
<use href="#k32" fill="#33a02c"/>
<use href="#k33" fill="#fdbf6f"/>
<use href="#k34" fill="#6a3d9a"/>
<use href="#k35" fill="#fb9a99"/>
<use href="#k36" fill="#fb9a99"/>
<use href="#k37" fill="#33a02c"/>
<use href="#k38" fill="#fb9a99"/>
<use href="#k39" fill="#fb9a99"/>
<use href="#k40" fill="#fb9a99"/>
<use href="#k41" fill="#b2df8a"/>
<use href="#k42" fill="#b2df8a"/>
<use href="#k43" fill="#33a02c"/>
<use href="#k44" fill="#fb9a99"/>
<use href="#k45" fill="#fdbf6f"/>
<use href="#k46" fill="#e31a1c"/>
<use href="#k47" fill="#e31a1c"/>
<use href="#k48" fill="#ff7f00"/>
<use href="#k49" fill="#ff7f00"/>
<use href="#k50" fill="#6a3d9a"/>
<use href="#k51" fill="#e31a1c"/>
<use href="#k52" fill="#e31a1c"/>
<use href="#k53" fill="#e31a1c"/>
<use href="#k54" fill="#b2df8a"/>
<use href="#k55" fill="#b2df8a"/>
<use href="#k56" fill="#1f78b4"/>
<use href="#k57" fill="#1f78b4"/>
<use href="#k58" fill="#1f78b4"/>
<use href="#k59" fill="#33a02c"/>
<use href="#k60" fill="#33a02c"/>
<use href="#k61" fill="#fb9a99"/>
<use href="#k62" fill="#6a3d9a"/>
<use href="#k63" fill="#6a3d9a"/>
<use href="#k64" fill="#1f78b4"/>
<use href="#k65" fill="#e31a1c"/>
<use href="#k66" fill="#e31a1c"/>
</g>
<g>
<text x="397.6" y="142.5" font-size="15" font-weight="bold" text-anchor="middle" font-family="DejaVu Sans, sans-serif">43</text>
<text x="441.6" y="157.9" font-size="15" font-weight="bold" text-anchor="middle" font-family="DejaVu Sans, sans-serif">31</text>
<text x="494.5" y="159.1" font-size="15" font-weight="bold" text-anchor="middle" font-family="DejaVu Sans, sans-serif">45</text>
<text x="432.2" y="202.3" font-size="15" font-weight="bold" text-anchor="middle" font-family="DejaVu Sans, sans-serif">42</text>
<text x="508.0" y="196.6" font-size="15" font-weight="bold" text-anchor="middle" font-family="DejaVu Sans, sans-serif">44</text>
<text x="334.6" y="204.7" font-size="15" font-weight="bold" text-anchor="middle" font-family="DejaVu Sans, sans-serif">6</text>
<text x="246.2" y="218.2" font-size="15" font-weight="bold" text-anchor="middle" font-family="DejaVu Sans, sans-serif">14</text>
<text x="175.8" y="246.3" font-size="15" font-weight="bold" text-anchor="middle" font-family="DejaVu Sans, sans-serif">30</text>
<text x="470.5" y="230.0" font-size="15" font-weight="bold" text-anchor="middle" font-family="DejaVu Sans, sans-serif">37</text>
<text x="543.3" y="236.5" font-size="15" font-weight="bold" text-anchor="middle" font-family="DejaVu Sans, sans-serif">18</text>
<text x="307.3" y="269.0" font-size="15" font-weight="bold" text-anchor="middle" font-family="DejaVu Sans, sans-serif">51</text>
<text x="335.4" y="279.2" font-size="15" font-weight="bold" text-anchor="middle" font-family="DejaVu Sans, sans-serif">38</text>
<text x="521.0" y="276.0" font-size="15" font-weight="bold" text-anchor="middle" font-family="DejaVu Sans, sans-serif">25</text>
<text x="414.3" y="291.0" font-size="15" font-weight="bold" text-anchor="middle" font-family="DejaVu Sans, sans-serif">2</text>
<text x="217.7" y="302.4" font-size="15" font-weight="bold" text-anchor="middle" font-family="DejaVu Sans, sans-serif">33</text>
<text x="305.2" y="315.4" font-size="15" font-weight="bold" text-anchor="middle" font-family="DejaVu Sans, sans-serif">17</text>
<text x="146.5" y="317.5" font-size="15" font-weight="bold" text-anchor="middle" font-family="DejaVu Sans, sans-serif">19</text>
<text x="591.0" y="314.6" font-size="15" font-weight="bold" text-anchor="middle" font-family="DejaVu Sans, sans-serif">11</text>
<text x="671.6" y="330.9" font-size="15" font-weight="bold" text-anchor="middle" font-family="DejaVu Sans, sans-serif">47</text>
<text x="73.3" y="369.6" font-size="15" font-weight="bold" text-anchor="middle" font-family="DejaVu Sans, sans-serif">41</text>
<text x="346.0" y="352.5" font-size="15" font-weight="bold" text-anchor="middle" font-family="DejaVu Sans, sans-serif">39</text>
<text x="491.2" y="357.8" font-size="15" font-weight="bold" text-anchor="middle" font-family="DejaVu Sans, sans-serif">9</text>
<text x="552.3" y="376.9" font-size="15" font-weight="bold" text-anchor="middle" font-family="DejaVu Sans, sans-serif">34</text>
<text x="619.9" y="385.8" font-size="15" font-weight="bold" text-anchor="middle" font-family="DejaVu Sans, sans-serif">50</text>
<text x="213.3" y="391.1" font-size="15" font-weight="bold" text-anchor="middle" font-family="DejaVu Sans, sans-serif">3</text>
<text x="403.0" y="384.6" font-size="15" font-weight="bold" text-anchor="middle" font-family="DejaVu Sans, sans-serif">22</text>
<text x="360.2" y="387.9" font-size="15" font-weight="bold" text-anchor="middle" font-family="DejaVu Sans, sans-serif">40</text>
<text x="321.5" y="402.1" font-size="15" font-weight="bold" text-anchor="middle" font-family="DejaVu Sans, sans-serif">7</text>
<text x="412.3" y="415.6" font-size="15" font-weight="bold" text-anchor="middle" font-family="DejaVu Sans, sans-serif">53</text>
<text x="433.5" y="408.3" font-size="15" font-weight="bold" text-anchor="middle" font-family="DejaVu Sans, sans-serif">48</text>
<text x="664.6" y="414.3" font-size="15" font-weight="bold" text-anchor="middle" font-family="DejaVu Sans, sans-serif">24</text>
<text x="572.6" y="420.4" font-size="15" font-weight="bold" text-anchor="middle" font-family="DejaVu Sans, sans-serif">20</text>
<text x="103.0" y="422.5" font-size="15" font-weight="bold" text-anchor="middle" font-family="DejaVu Sans, sans-serif">21</text>
<text x="398.0" y="440.0" font-size="15" font-weight="bold" text-anchor="middle" font-family="DejaVu Sans, sans-serif">60</text>
<text x="407.0" y="446.9" font-size="15" font-weight="bold" text-anchor="middle" font-family="DejaVu Sans, sans-serif">58</text>
<text x="428.2" y="444.0" font-size="15" font-weight="bold" text-anchor="middle" font-family="DejaVu Sans, sans-serif">35</text>
<text x="477.4" y="441.6" font-size="15" font-weight="bold" text-anchor="middle" font-family="DejaVu Sans, sans-serif">23</text>
<text x="529.1" y="444.9" font-size="15" font-weight="bold" text-anchor="middle" font-family="DejaVu Sans, sans-serif">52</text>
<text x="558.4" y="457.1" font-size="15" font-weight="bold" text-anchor="middle" font-family="DejaVu Sans, sans-serif">56</text>
<text x="520.1" y="462.4" font-size="15" font-weight="bold" text-anchor="middle" font-family="DejaVu Sans, sans-serif">57</text>
<text x="232.0" y="453.0" font-size="15" font-weight="bold" text-anchor="middle" font-family="DejaVu Sans, sans-serif">55</text>
<text x="264.5" y="451.8" font-size="15" font-weight="bold" text-anchor="middle" font-family="DejaVu Sans, sans-serif">49</text>
<text x="407.0" y="476.2" font-size="15" font-weight="bold" text-anchor="middle" font-family="DejaVu Sans, sans-serif">28</text>
<text x="151.4" y="488.4" font-size="15" font-weight="bold" text-anchor="middle" font-family="DejaVu Sans, sans-serif">15</text>
<text x="618.6" y="514.9" font-size="15" font-weight="bold" text-anchor="middle" font-family="DejaVu Sans, sans-serif">13</text>
<text x="246.2" y="513.3" font-size="15" font-weight="bold" text-anchor="middle" font-family="DejaVu Sans, sans-serif">1</text>
<text x="327.6" y="503.9" font-size="15" font-weight="bold" text-anchor="middle" font-family="DejaVu Sans, sans-serif">4</text>
<text x="437.5" y="554.8" font-size="15" font-weight="bold" text-anchor="middle" font-family="DejaVu Sans, sans-serif">0</text>
<text x="522.2" y="565.7" font-size="15" font-weight="bold" text-anchor="middle" font-family="DejaVu Sans, sans-serif">5</text>
<text x="141.2" y="573.9" font-size="15" font-weight="bold" text-anchor="middle" font-family="DejaVu Sans, sans-serif">12</text>
<text x="581.2" y="605.6" font-size="15" font-weight="bold" text-anchor="middle" font-family="DejaVu Sans, sans-serif">10</text>
<text x="371.2" y="603.6" font-size="15" font-weight="bold" text-anchor="middle" font-family="DejaVu Sans, sans-serif">26</text>
<text x="246.2" y="620.7" font-size="15" font-weight="bold" text-anchor="middle" font-family="DejaVu Sans, sans-serif">16</text>
<text x="427.4" y="626.8" font-size="15" font-weight="bold" text-anchor="middle" font-family="DejaVu Sans, sans-serif">61</text>
<text x="308.5" y="637.0" font-size="15" font-weight="bold" text-anchor="middle" font-family="DejaVu Sans, sans-serif">59</text>
<text x="304.0" y="660.6" font-size="15" font-weight="bold" text-anchor="middle" font-family="DejaVu Sans, sans-serif">54</text>
<text x="349.2" y="671.6" font-size="15" font-weight="bold" text-anchor="middle" font-family="DejaVu Sans, sans-serif">36</text>
<text x="436.7" y="672.8" font-size="15" font-weight="bold" text-anchor="middle" font-family="DejaVu Sans, sans-serif">8</text>
<text x="243.4" y="689.9" font-size="15" font-weight="bold" text-anchor="middle" font-family="DejaVu Sans, sans-serif">32</text>
<text x="311.4" y="701.3" font-size="15" font-weight="bold" text-anchor="middle" font-family="DejaVu Sans, sans-serif">27</text>
<text x="387.9" y="724.9" font-size="15" font-weight="bold" text-anchor="middle" font-family="DejaVu Sans, sans-serif">29</text>
<text x="274.7" y="736.3" font-size="15" font-weight="bold" text-anchor="middle" font-family="DejaVu Sans, sans-serif">46</text>
</g>
<text x="208.0" y="99.0" font-size="31" text-anchor="start" font-weight="normal" font-style="normal" fill="#111" font-family='"Liberation Sans", Arial, sans-serif' >Cell types (n = 62)</text>
<path d="M45.4,557 V708.8 H195.6" fill="none" stroke="#878787" stroke-width="4.3"/>
<path d="M35.4,577 L45.4,556.5 L55.4,577" fill="none" stroke="#878787" stroke-width="4.3" stroke-linecap="round" stroke-linejoin="round"/>
<path d="M175.6,699.3 L196.1,708.8 L175.6,718.3" fill="none" stroke="#878787" stroke-width="4.3" stroke-linecap="round" stroke-linejoin="round"/>
<text x="48" y="737.6" font-size="28" font-family='"Liberation Sans", Arial, sans-serif' fill="#111"><tspan font-style="italic">t</tspan>SNE_1</text>
<text transform="translate(23,685.8) rotate(-90)" font-size="28" font-family='"Liberation Sans", Arial, sans-serif' fill="#111"><tspan font-style="italic">t</tspan>SNE_2</text>
<g font-size="19.3" font-family='"Liberation Sans", Arial, sans-serif' fill="#111">
<text x="713.4" y="101.9">0: Coelomocytes</text>
<text x="713.4" y="125.1">1: Digestive gland cell</text>
<text x="713.4" y="148.4">2: Muscle cell</text>
<text x="713.4" y="171.6">3: Digestive gland cell</text>
<text x="713.4" y="194.9">4: Digestive gland cell</text>
<text x="713.4" y="218.1">5: Coelomocytes</text>
<text x="713.4" y="241.3">6: Sperm stem cell</text>
<text x="713.4" y="264.6">7: Digestive gland cell</text>
<text x="713.4" y="287.8">8: Coelomocytes</text>
<text x="713.4" y="311.1">9: Muscle cell (<tspan font-style="italic">RP</tspan>_high)</text>
<text x="713.4" y="334.3">10: Coelomocytes</text>
<text x="713.4" y="357.5">11: Muscle cell</text>
<text x="713.4" y="380.8">12: Digestive gland cell</text>
<text x="713.4" y="404.0">13: Coelomocytes</text>
<text x="713.4" y="427.3">14: Sperm stem cell</text>
<text x="713.4" y="450.5">15: Digestive gland cell</text>
<text x="713.4" y="473.7">16: Digestive gland cell</text>
<text x="713.4" y="497.0">17: Muscle cell</text>
<text x="713.4" y="520.2">18: Muscle cell</text>
<text x="713.4" y="543.5">19: Sperm stem cell</text>
<text x="713.4" y="566.7">20: Spermatids/Spermatogenesis</text>
<text x="713.4" y="589.9">21: Mechanosensory cell</text>
<text x="713.4" y="613.2">22: Muscle cell</text>
<text x="713.4" y="636.4">23: Coelomocytes (<tspan font-style="italic">RP</tspan>_high)</text>
<text x="713.4" y="659.7">24: Neuron</text>
<text x="713.4" y="682.9">25: Muscle cell</text>
<text x="713.4" y="706.1">26: Coelomocytes</text>
<text x="713.4" y="729.4">27: Suboesophageal ganlion cell</text>
<text x="713.4" y="752.6">28: Digestive gland cell/Coelomocytes</text>
<text x="713.4" y="775.9">29: Coelomocytes</text>
<text x="713.4" y="799.1">30: Neuron</text>
<text x="1052.3" y="101.9">31: Subcuticular epithelium</text>
<text x="1052.3" y="125.1">32: Suboesophageal ganlion cell</text>
<text x="1052.3" y="148.4">33: Muscle cell</text>
<text x="1052.3" y="171.6">34: Muscle cell</text>
<text x="1052.3" y="194.9">35: Muscle cell (<tspan font-style="italic">CATC</tspan>_high)</text>
<text x="1052.3" y="218.1">36: Epidermal cell</text>
<text x="1052.3" y="241.3">37: Muscle cell</text>
<text x="1052.3" y="264.6">38: Subcuticular epithelium</text>
<text x="1052.3" y="287.8">39: Muscle cell</text>
<text x="1052.3" y="311.1">40: Digestive gland cell/Muscle cell</text>
<text x="1052.3" y="334.3">41: Muscle cell</text>
<text x="1052.3" y="357.5">42: Cuticle epidermis cell</text>
<text x="1052.3" y="380.8">43: Cuticle epidermis cell</text>
<text x="1052.3" y="404.0">44: Unknown</text>
<text x="1052.3" y="427.3">45: Neuron</text>
<text x="1052.3" y="450.5">46: Neuron</text>
<text x="1052.3" y="473.7">47: Erythrocruorin</text>
<text x="1052.3" y="497.0">48: Neuron</text>
<text x="1052.3" y="520.2">49: Digestive gland cell</text>
<text x="1052.3" y="543.5">50: Spermatogonia</text>
<text x="1052.3" y="566.7">51: Unknown</text>
<text x="1052.3" y="589.9">52: Unknown</text>
<text x="1052.3" y="613.2">53: Neuron</text>
<text x="1052.3" y="636.4">54: Neuron</text>
<text x="1052.3" y="659.7">55: Digestive gland cell</text>
<text x="1052.3" y="682.9">56: Amoebocyte or epithelial cell</text>
<text x="1052.3" y="706.1">57: Coelomocytes</text>
<text x="1052.3" y="729.4">58: Neuron</text>
<text x="1052.3" y="752.6">59: Unknown</text>
<text x="1052.3" y="775.9">60: Unknown</text>
<text x="1052.3" y="799.1">61: Coelomocytes</text>
</g>
<g transform="matrix(0.97,0,0,0.94,1356,31)" filter="url(#spk3)">
<path d="M433.1,347.1Q435.1,327.3 444.0,318.4Q452.9,309.5 461.8,302.6Q470.7,295.7 484.5,295.7Q498.4,295.7 508.2,304.6Q518.1,313.5 528.0,319.4Q537.9,325.3 543.8,341.1Q549.8,357.0 544.8,372.8Q539.9,388.6 529.0,398.5Q518.1,408.4 503.3,412.4Q488.5,416.3 473.6,414.3Q458.8,412.3 449.0,404.4Q439.1,396.5 435.1,381.7Q431.2,366.9 433.1,347.1Z" fill="#5fa82a"/>
<path d="M458.9,262.1Q462.8,246.3 470.7,248.2Q478.6,250.2 482.6,264.0Q486.5,277.9 482.6,287.8Q478.6,297.7 470.7,297.7Q462.8,297.7 458.9,287.8Q454.9,277.9 458.9,262.1Z" fill="#5fa82a"/>
<path d="M442.1,424.2Q435.1,408.4 447.0,402.4Q458.8,396.5 478.6,398.5Q498.4,400.5 504.3,412.4Q510.2,424.2 504.3,432.1Q498.4,440.0 473.7,440.0Q449.0,440.0 442.1,424.2Z" fill="#c07fd6"/>
</g>
<g transform="matrix(0.97,0,0,0.94,1356,31)" fill-opacity="0.9" filter="url(#spk)">
<use href="#k0" fill="#f4806e"/>
<use href="#k1" fill="#c07fd6"/>
<use href="#k2" fill="#5fa82a"/>
<use href="#k3" fill="#c8e6c0"/>
<use href="#k4" fill="#c8e6c0"/>
<use href="#k5" fill="#d9731a"/>
<use href="#k6" fill="#c8e6c0"/>
<use href="#k7" fill="#5fa82a"/>
<use href="#k8" fill="#5fa82a"/>
<use href="#k9" fill="#d4157f"/>
<use href="#k10" fill="#d4d4d4"/>
<use href="#k11" fill="#f4806e"/>
<use href="#k12" fill="#5fa82a"/>
<use href="#k13" fill="#d4d4d4"/>
<use href="#k14" fill="#d4d4d4"/>
<use href="#k15" fill="#5fa82a"/>
<use href="#k16" fill="#d4157f"/>
<use href="#k17" fill="#d4157f"/>
<use href="#k18" fill="#d4157f"/>
<use href="#k19" fill="#d4157f"/>
<use href="#k20" fill="#d9731a"/>
<use href="#k21" fill="#d4d4d4"/>
<use href="#k22" fill="#d4157f"/>
<use href="#k23" fill="#5fa82a"/>
<use href="#k24" fill="#5fa82a"/>
<use href="#k25" fill="#5fa82a"/>
<use href="#k26" fill="#5fa82a"/>
<use href="#k27" fill="#d4157f"/>
<use href="#k28" fill="#5fa82a"/>
<use href="#k29" fill="#e41a1c"/>
<use href="#k30" fill="#5fa82a"/>
<use href="#k31" fill="#5fa82a"/>
<use href="#k32" fill="#5fa82a"/>
<use href="#k33" fill="#5fa82a"/>
<use href="#k34" fill="#d4d4d4"/>
<use href="#k35" fill="#5fa82a"/>
<use href="#k36" fill="#d9731a"/>
<use href="#k37" fill="#d4d4d4"/>
<use href="#k38" fill="#c07fd6"/>
<use href="#k39" fill="#c07fd6"/>
<use href="#k40" fill="#c07fd6"/>
<use href="#k41" fill="#f4806e"/>
<use href="#k42" fill="#f4806e"/>
<use href="#k43" fill="#f4806e"/>
<use href="#k44" fill="#5fa82a"/>
<use href="#k45" fill="#d9731a"/>
<use href="#k46" fill="#d9731a"/>
<use href="#k47" fill="#d9731a"/>
<use href="#k48" fill="#d4157f"/>
<use href="#k49" fill="#d4157f"/>
<use href="#k50" fill="#d9731a"/>
<use href="#k51" fill="#c07fd6"/>
<use href="#k52" fill="#c07fd6"/>
<use href="#k53" fill="#d4d4d4"/>
<use href="#k54" fill="#c07fd6"/>
<use href="#k55" fill="#c07fd6"/>
<use href="#k56" fill="#c07fd6"/>
<use href="#k57" fill="#c07fd6"/>
<use href="#k58" fill="#c07fd6"/>
<use href="#k59" fill="#c07fd6"/>
<use href="#k60" fill="#c07fd6"/>
<use href="#k61" fill="#d4157f"/>
<use href="#k62" fill="#d9731a"/>
<use href="#k63" fill="#f4806e"/>
<use href="#k64" fill="#d4d4d4"/>
<use href="#k65" fill="#c07fd6"/>
<use href="#k66" fill="#d4d4d4"/>
</g>
<g filter="url(#spk)" fill-opacity="0.9"><path d="M1789.2,421.7Q1787.0,418.4 1792.5,412.9Q1798.0,407.3 1803.5,408.4Q1809.1,409.5 1806.9,415.1Q1804.7,420.6 1798.1,422.8Q1791.4,425.0 1789.2,421.7Z" fill="#d4157f"/><path d="M1778.1,459.3Q1775.9,453.8 1780.3,451.6Q1784.7,449.3 1790.2,454.9Q1795.8,460.4 1793.6,464.9Q1791.4,469.3 1785.8,467.1Q1780.3,464.8 1778.1,459.3Z" fill="#d4157f"/><path d="M1692.9,659.5Q1691.8,648.4 1696.2,648.4Q1700.7,648.4 1701.8,659.5Q1702.9,670.6 1698.5,670.6Q1694.0,670.6 1692.9,659.5Z" fill="#d4157f"/><path d="M1774.8,207.8Q1771.5,201.6 1777.0,198.2Q1782.5,194.9 1785.4,201.6Q1788.3,208.2 1783.2,211.1Q1778.1,214.0 1774.8,207.8Z" fill="#d4157f"/><path d="M1744.9,416.2Q1740.5,414.0 1744.9,410.6Q1749.3,407.3 1758.2,406.2Q1767.0,405.1 1765.9,409.6Q1764.8,414.0 1757.0,416.2Q1749.3,418.4 1744.9,416.2Z" fill="#d9731a"/><path d="M1816.8,196.7Q1813.5,192.7 1818.0,191.6Q1822.4,190.5 1825.7,193.8Q1829.0,197.2 1824.5,198.9Q1820.1,200.7 1816.8,196.7Z" fill="#d9731a"/><path d="M1654.2,640.7Q1652.0,637.4 1656.5,636.3Q1660.9,635.2 1663.1,638.5Q1665.3,641.8 1660.8,642.9Q1656.4,644.0 1654.2,640.7Z" fill="#d9731a"/><path d="M1624.3,717.0Q1614.4,710.4 1620.0,709.3Q1625.5,708.2 1634.3,714.9Q1643.2,721.5 1638.8,722.6Q1634.3,723.7 1624.3,717.0Z" fill="#d9731a"/><path d="M1910.4,458.2Q1908.6,453.8 1913.5,452.7Q1918.4,451.6 1920.2,456.0Q1921.9,460.4 1917.1,461.5Q1912.2,462.6 1910.4,458.2Z" fill="#d9731a"/><path d="M1770.3,432.8Q1767.0,422.8 1772.5,418.4Q1778.1,414.0 1783.7,418.4Q1789.2,422.8 1787.0,433.9Q1784.7,444.9 1779.2,443.8Q1773.7,442.7 1770.3,432.8Z" fill="#5fa82a"/><path d="M1864.4,477.0Q1860.0,471.5 1866.6,465.9Q1873.2,460.4 1882.1,461.5Q1890.9,462.6 1889.8,471.5Q1888.7,480.3 1878.8,481.4Q1868.8,482.5 1864.4,477.0Z" fill="#5fa82a"/><path d="M1900.9,473.7Q1899.8,469.3 1905.3,468.1Q1910.8,467.0 1911.9,471.4Q1913.1,475.9 1907.5,477.0Q1902.0,478.1 1900.9,473.7Z" fill="#5fa82a"/><path d="M1680.8,626.3Q1678.6,621.9 1683.0,616.3Q1687.4,610.8 1693.0,614.1Q1698.5,617.5 1697.4,624.1Q1696.3,630.8 1689.7,630.8Q1683.0,630.8 1680.8,626.3Z" fill="#5fa82a"/><path d="M1928.5,369.7Q1926.3,365.3 1930.8,363.1Q1935.2,360.9 1937.4,365.3Q1939.6,369.7 1935.2,371.9Q1930.8,374.1 1928.5,369.7Z" fill="#5fa82a"/><path d="M1933.0,472.6Q1930.8,467.0 1937.4,464.8Q1944.0,462.6 1950.7,467.1Q1957.3,471.5 1952.8,475.9Q1948.4,480.3 1941.8,479.2Q1935.2,478.1 1933.0,472.6Z" fill="#c07fd6"/><path d="M1832.3,208.2Q1829.0,206.0 1835.7,199.3Q1842.3,192.7 1851.2,190.5Q1860.0,188.3 1855.5,197.2Q1851.1,206.0 1843.3,208.2Q1835.6,210.4 1832.3,208.2Z" fill="#d4d4d4"/><path d="M1707.3,380.8Q1705.1,369.7 1709.5,367.5Q1714.0,365.3 1717.3,376.4Q1720.6,387.4 1715.0,389.6Q1709.5,391.8 1707.3,380.8Z" fill="#d4d4d4"/><path d="M1947.3,386.9Q1944.0,383.0 1949.5,380.8Q1955.1,378.6 1958.4,383.0Q1961.7,387.4 1956.2,389.1Q1950.7,390.9 1947.3,386.9Z" fill="#d4d4d4"/></g>
<text x="1601.0" y="99.0" font-size="31.5" text-anchor="start" font-weight="normal" font-style="normal" fill="#111" font-family='"Liberation Sans", Arial, sans-serif' >Cell lineage (n = 8)</text>
<g font-size="27.5" font-family='"Liberation Sans", Arial, sans-serif' fill="#111">
<text x="1603.4" y="215.8">Germ</text>
<text x="1749.4" y="169.7">Epithelial</text>
<text x="1450.7" y="318.8">Germ</text>
<text x="1751.6" y="311.3">Muscle</text>
<text x="1948.5" y="303.4">Erythrocruorin</text>
<text x="1382" y="423.7">Epithelial</text>
<text x="1862.2" y="423.7">Other</text>
<text x="1948.5" y="448">Neuron</text>
<text x="1483.9" y="502.5">DigestiveGland</text>
<text x="1749.4" y="596.7">Coelomocytes</text>
<text x="1601.2" y="700.7">Neuron</text>
</g>
<ellipse cx="2007" cy="328.6" rx="19.5" ry="13.5" fill="none" stroke="#111" stroke-width="1.6"/>
<path d="M1395.4,562 V712.7 H1546" fill="none" stroke="#878787" stroke-width="4.3"/>
<path d="M1385.4,582 L1395.4,561.5 L1405.4,582" fill="none" stroke="#878787" stroke-width="4.3" stroke-linecap="round" stroke-linejoin="round"/>
<path d="M1526,703.2 L1546.5,712.7 L1526,722.2" fill="none" stroke="#878787" stroke-width="4.3" stroke-linecap="round" stroke-linejoin="round"/>
<text x="1397.6" y="741.2" font-size="28" font-family='"Liberation Sans", Arial, sans-serif' fill="#111"><tspan font-style="italic">t</tspan>SNE_1</text>
<text transform="translate(1373.5,688.9) rotate(-90)" font-size="28" font-family='"Liberation Sans", Arial, sans-serif' fill="#111"><tspan font-style="italic">t</tspan>SNE_2</text>
<text x="0.5" y="845.4" font-size="40" text-anchor="start" font-weight="bold" font-style="normal" fill="#000" font-family='"Liberation Sans", Arial, sans-serif' >b</text>
<g shape-rendering="crispEdges">
<rect x="16.3" y="855.8" width="46.0" height="6.3" fill="#d57d94"/>
<rect x="16.3" y="861.8" width="46.0" height="10.3" fill="#d7869a"/>
<rect x="16.3" y="871.8" width="46.0" height="6.3" fill="#dc98a9"/>
<rect x="16.3" y="877.8" width="46.0" height="24.3" fill="#d58096"/>
<rect x="16.3" y="901.8" width="46.0" height="8.5" fill="#d57e94"/>
<rect x="16.3" y="910.0" width="46.0" height="47.0" fill="#cd5f7b"/>
<rect x="16.3" y="957.0" width="46.0" height="3.3" fill="#78abbe"/>
<rect x="16.3" y="960.0" width="46.0" height="4.3" fill="#7dafc0"/>
<rect x="16.3" y="964.0" width="46.0" height="12.3" fill="#71a7ba"/>
<rect x="16.3" y="976.0" width="46.0" height="2.3" fill="#7aadbf"/>
<rect x="16.3" y="978.0" width="46.0" height="3.3" fill="#75a9bc"/>
<rect x="16.3" y="981.0" width="46.0" height="6.3" fill="#72a7ba"/>
<rect x="16.3" y="987.0" width="46.0" height="8.3" fill="#80b1c2"/>
<rect x="16.3" y="995.0" width="46.0" height="2.3" fill="#7dafc0"/>
<rect x="16.3" y="997.0" width="46.0" height="12.3" fill="#80b1c2"/>
<rect x="16.3" y="1009.0" width="46.0" height="5.3" fill="#80b1c2"/>
<rect x="16.3" y="1014.0" width="46.0" height="6.3" fill="#6fa5b9"/>
<rect x="16.3" y="1020.0" width="46.0" height="4.3" fill="#73a8bb"/>
<rect x="16.3" y="1024.0" width="46.0" height="3.3" fill="#7eafc1"/>
<rect x="16.3" y="1027.0" width="46.0" height="7.3" fill="#6ea5b8"/>
<rect x="16.3" y="1034.0" width="46.0" height="12.3" fill="#f4f4f4"/>
<rect x="16.3" y="1046.0" width="46.0" height="3.3" fill="#7aadbf"/>
<rect x="16.3" y="1049.0" width="46.0" height="3.3" fill="#7fb0c1"/>
<rect x="16.3" y="1052.0" width="46.0" height="3.3" fill="#78acbe"/>
<rect x="16.3" y="1055.0" width="46.0" height="5.3" fill="#7baec0"/>
<rect x="16.3" y="1060.0" width="46.0" height="12.3" fill="#7dafc1"/>
<rect x="16.3" y="1072.0" width="46.0" height="2.3" fill="#81b2c3"/>
<rect x="16.3" y="1074.0" width="46.0" height="2.3" fill="#7eb0c1"/>
<rect x="16.3" y="1076.0" width="46.0" height="6.3" fill="#77abbd"/>
<rect x="16.3" y="1082.0" width="46.0" height="10.3" fill="#72a8bb"/>
<rect x="16.3" y="1092.0" width="46.0" height="5.3" fill="#84b4c4"/>
<rect x="16.3" y="1097.0" width="46.0" height="12.3" fill="#73a8bb"/>
<rect x="16.3" y="1109.0" width="46.0" height="8.3" fill="#7aadbf"/>
<rect x="16.3" y="1117.0" width="46.0" height="3.3" fill="#7aadbf"/>
<rect x="16.3" y="1120.0" width="46.0" height="3.3" fill="#7caec0"/>
<rect x="16.3" y="1123.0" width="46.0" height="3.3" fill="#7eafc1"/>
<rect x="16.3" y="1126.0" width="46.0" height="8.3" fill="#77abbd"/>
<rect x="16.3" y="1134.0" width="46.0" height="10.3" fill="#6ea4b8"/>
<rect x="16.3" y="1144.0" width="46.0" height="2.3" fill="#7aadbf"/>
<rect x="16.3" y="1146.0" width="46.0" height="3.3" fill="#79acbe"/>
<rect x="16.3" y="1149.0" width="46.0" height="6.3" fill="#76aabd"/>
<rect x="16.3" y="1155.0" width="46.0" height="8.3" fill="#7dafc0"/>
<rect x="16.3" y="1163.0" width="46.0" height="5.3" fill="#7dafc0"/>
<rect x="16.3" y="1168.0" width="46.0" height="3.3" fill="#7aadbf"/>
<rect x="16.3" y="1171.0" width="46.0" height="12.3" fill="#7caec0"/>
<rect x="16.3" y="1183.0" width="46.0" height="3.3" fill="#7aadbf"/>
<rect x="16.3" y="1186.0" width="46.0" height="12.3" fill="#7fb0c1"/>
<rect x="16.3" y="1198.0" width="46.0" height="6.3" fill="#7aadbf"/>
<rect x="16.3" y="1204.0" width="46.0" height="5.3" fill="#7cafc0"/>
<rect x="16.3" y="1209.0" width="46.0" height="4.3" fill="#86b5c5"/>
<rect x="16.3" y="1213.0" width="46.0" height="10.3" fill="#73a8bb"/>
<rect x="16.3" y="1223.0" width="46.0" height="10.8" fill="#7dafc0"/>
<rect x="16.3" y="1233.5" width="46.0" height="24.3" fill="#84b4c4"/>
<rect x="16.3" y="1257.5" width="46.0" height="24.3" fill="#88b7c6"/>
<rect x="16.3" y="1281.5" width="46.0" height="24.3" fill="#83b3c4"/>
<rect x="16.3" y="1305.5" width="46.0" height="8.3" fill="#85b4c5"/>
<rect x="16.3" y="1313.5" width="46.0" height="12.3" fill="#83b3c3"/>
<rect x="16.3" y="1325.5" width="46.0" height="24.3" fill="#83b3c4"/>
<rect x="16.3" y="1349.5" width="46.0" height="4.3" fill="#87b5c6"/>
<rect x="16.3" y="1353.5" width="46.0" height="8.3" fill="#85b5c5"/>
<rect x="16.3" y="1361.5" width="46.0" height="4.3" fill="#86b5c5"/>
<rect x="16.3" y="1365.5" width="46.0" height="4.3" fill="#87b5c6"/>
<rect x="16.3" y="1369.5" width="46.0" height="20.3" fill="#85b4c5"/>
<rect x="16.3" y="1389.5" width="46.0" height="6.3" fill="#85b4c4"/>
<rect x="16.3" y="1395.5" width="46.0" height="8.3" fill="#7fb0c1"/>
<rect x="16.3" y="1403.5" width="46.0" height="16.3" fill="#86b5c5"/>
<rect x="16.3" y="1419.5" width="46.0" height="16.3" fill="#87b6c6"/>
<rect x="16.3" y="1435.5" width="46.0" height="4.3" fill="#81b2c3"/>
<rect x="16.3" y="1439.5" width="46.0" height="16.3" fill="#7dafc1"/>
<rect x="16.3" y="1455.5" width="46.0" height="6.3" fill="#86b5c5"/>
<rect x="16.3" y="1461.5" width="46.0" height="16.3" fill="#88b6c6"/>
<rect x="16.3" y="1477.5" width="46.0" height="20.3" fill="#86b5c5"/>
<rect x="16.3" y="1497.5" width="46.0" height="24.3" fill="#8dbac9"/>
<rect x="16.3" y="1521.5" width="46.0" height="24.3" fill="#8ab8c8"/>
<rect x="16.3" y="1545.5" width="46.0" height="8.3" fill="#7eb0c1"/>
<rect x="16.3" y="1553.5" width="46.0" height="20.3" fill="#7fb0c2"/>
<rect x="16.3" y="1573.5" width="46.0" height="6.3" fill="#87b5c6"/>
<rect x="16.3" y="1579.5" width="46.0" height="16.3" fill="#85b4c5"/>
<rect x="16.3" y="1595.5" width="46.0" height="16.3" fill="#8cb9c8"/>
<rect x="16.3" y="1611.5" width="46.0" height="24.3" fill="#84b3c4"/>
<rect x="16.3" y="1635.5" width="46.0" height="8.3" fill="#83b3c3"/>
<rect x="16.3" y="1643.5" width="46.0" height="24.3" fill="#89b7c7"/>
<rect x="16.3" y="1667.5" width="46.0" height="20.3" fill="#87b6c6"/>
<rect x="16.3" y="1687.5" width="46.0" height="24.3" fill="#8bb8c8"/>
<rect x="16.3" y="1711.5" width="46.0" height="6.3" fill="#8dbac9"/>
<rect x="16.3" y="1717.5" width="46.0" height="6.3" fill="#85b4c5"/>
<rect x="16.3" y="1723.5" width="46.0" height="8.3" fill="#84b3c4"/>
<rect x="16.3" y="1731.5" width="46.0" height="4.3" fill="#83b3c4"/>
<rect x="16.3" y="1735.5" width="46.0" height="24.3" fill="#83b3c4"/>
<rect x="16.3" y="1759.5" width="46.0" height="10.3" fill="#87b6c6"/>
<rect x="16.3" y="1769.5" width="46.0" height="16.3" fill="#8bb8c8"/>
<rect x="16.3" y="1785.5" width="46.0" height="10.3" fill="#7eb0c1"/>
<rect x="16.3" y="1795.5" width="46.0" height="4.3" fill="#88b6c6"/>
<rect x="16.3" y="1799.5" width="46.0" height="6.3" fill="#88b6c6"/>
<rect x="16.3" y="1805.5" width="46.0" height="12.3" fill="#87b6c6"/>
<rect x="16.3" y="1817.5" width="46.0" height="8.3" fill="#84b4c4"/>
<rect x="16.3" y="1825.5" width="46.0" height="10.3" fill="#87b6c6"/>
<rect x="16.3" y="1835.5" width="46.0" height="24.3" fill="#8cb9c8"/>
<rect x="16.3" y="1859.5" width="46.0" height="6.3" fill="#86b5c5"/>
<rect x="16.3" y="1865.5" width="46.0" height="6.3" fill="#85b4c5"/>
<rect x="16.3" y="1871.5" width="46.0" height="6.3" fill="#8dbac9"/>
<rect x="16.3" y="1877.5" width="46.0" height="8.3" fill="#85b5c5"/>
<rect x="16.3" y="1885.5" width="46.0" height="10.3" fill="#84b3c4"/>
<rect x="16.3" y="1895.5" width="46.0" height="10.3" fill="#8bb9c8"/>
<rect x="16.3" y="1905.5" width="46.0" height="14.1" fill="#82b2c3"/>
<rect x="62.3" y="855.8" width="46.0" height="2.3" fill="#73a8bb"/>
<rect x="62.3" y="857.8" width="46.0" height="5.3" fill="#6ca3b7"/>
<rect x="62.3" y="862.8" width="46.0" height="10.3" fill="#67a0b5"/>
<rect x="62.3" y="872.8" width="46.0" height="3.3" fill="#6aa2b6"/>
<rect x="62.3" y="875.8" width="46.0" height="3.3" fill="#639db3"/>
<rect x="62.3" y="878.8" width="46.0" height="3.3" fill="#69a1b6"/>
<rect x="62.3" y="881.8" width="46.0" height="2.3" fill="#68a1b5"/>
<rect x="62.3" y="883.8" width="46.0" height="2.3" fill="#74a9bc"/>
<rect x="62.3" y="885.8" width="46.0" height="4.3" fill="#69a1b6"/>
<rect x="62.3" y="889.8" width="46.0" height="12.3" fill="#659fb4"/>
<rect x="62.3" y="901.8" width="46.0" height="8.3" fill="#73a8bb"/>
<rect x="62.3" y="909.8" width="46.0" height="2.5" fill="#6aa2b6"/>
<rect x="62.3" y="912.0" width="46.0" height="2.8" fill="#f4f4f4"/>
<rect x="62.3" y="914.5" width="46.0" height="8.3" fill="#85b5c5"/>
<rect x="62.3" y="922.5" width="46.0" height="8.3" fill="#7eafc1"/>
<rect x="62.3" y="930.5" width="46.0" height="4.3" fill="#7baebf"/>
<rect x="62.3" y="934.5" width="46.0" height="2.3" fill="#86b5c5"/>
<rect x="62.3" y="936.5" width="46.0" height="4.3" fill="#80b1c2"/>
<rect x="62.3" y="940.5" width="46.0" height="4.3" fill="#88b6c6"/>
<rect x="62.3" y="944.5" width="46.0" height="4.3" fill="#79acbe"/>
<rect x="62.3" y="948.5" width="46.0" height="5.3" fill="#7fb0c1"/>
<rect x="62.3" y="953.5" width="46.0" height="3.8" fill="#70a6b9"/>
<rect x="62.3" y="957.0" width="46.0" height="4.3" fill="#e5b0bf"/>
<rect x="62.3" y="961.0" width="46.0" height="10.3" fill="#e6b4c2"/>
<rect x="62.3" y="971.0" width="46.0" height="10.3" fill="#e4acbb"/>
<rect x="62.3" y="981.0" width="46.0" height="51.0" fill="#cd5f7b"/>
<rect x="62.3" y="1032.0" width="46.0" height="8.3" fill="#86b5c5"/>
<rect x="62.3" y="1040.0" width="46.0" height="6.3" fill="#6da4b8"/>
<rect x="62.3" y="1046.0" width="46.0" height="4.3" fill="#83b3c3"/>
<rect x="62.3" y="1050.0" width="46.0" height="8.3" fill="#89b7c7"/>
<rect x="62.3" y="1058.0" width="46.0" height="4.3" fill="#7caec0"/>
<rect x="62.3" y="1062.0" width="46.0" height="3.3" fill="#88b7c6"/>
<rect x="62.3" y="1065.0" width="46.0" height="3.3" fill="#78acbe"/>
<rect x="62.3" y="1068.0" width="46.0" height="5.3" fill="#74a9bc"/>
<rect x="62.3" y="1073.0" width="46.0" height="5.3" fill="#7caec0"/>
<rect x="62.3" y="1078.0" width="46.0" height="4.3" fill="#71a6ba"/>
<rect x="62.3" y="1082.0" width="46.0" height="3.3" fill="#83b3c3"/>
<rect x="62.3" y="1085.0" width="46.0" height="5.3" fill="#73a8bb"/>
<rect x="62.3" y="1090.0" width="46.0" height="4.3" fill="#82b2c3"/>
<rect x="62.3" y="1094.0" width="46.0" height="6.3" fill="#76aabd"/>
<rect x="62.3" y="1100.0" width="46.0" height="10.3" fill="#7eafc1"/>
<rect x="62.3" y="1110.0" width="46.0" height="3.3" fill="#7aadbf"/>
<rect x="62.3" y="1113.0" width="46.0" height="6.3" fill="#78acbe"/>
<rect x="62.3" y="1119.0" width="46.0" height="4.3" fill="#7aadbf"/>
<rect x="62.3" y="1123.0" width="46.0" height="2.3" fill="#79acbe"/>
<rect x="62.3" y="1125.0" width="46.0" height="10.3" fill="#75a9bc"/>
<rect x="62.3" y="1135.0" width="46.0" height="3.3" fill="#76aabd"/>
<rect x="62.3" y="1138.0" width="46.0" height="16.3" fill="#cedfe5"/>
<rect x="62.3" y="1154.0" width="46.0" height="8.3" fill="#bed6de"/>
<rect x="62.3" y="1162.0" width="46.0" height="4.3" fill="#e1eaed"/>
<rect x="62.3" y="1166.0" width="46.0" height="6.3" fill="#dce7ea"/>
<rect x="62.3" y="1172.0" width="46.0" height="8.3" fill="#bfd7df"/>
<rect x="62.3" y="1180.0" width="46.0" height="5.3" fill="#cddee4"/>
<rect x="62.3" y="1185.0" width="46.0" height="12.3" fill="#7caec0"/>
<rect x="62.3" y="1197.0" width="46.0" height="10.3" fill="#87b6c6"/>
<rect x="62.3" y="1207.0" width="46.0" height="12.3" fill="#71a7ba"/>
<rect x="62.3" y="1219.0" width="46.0" height="12.3" fill="#75a9bc"/>
<rect x="62.3" y="1231.0" width="46.0" height="2.8" fill="#79acbe"/>
<rect x="62.3" y="1233.5" width="46.0" height="20.3" fill="#86b5c5"/>
<rect x="62.3" y="1253.5" width="46.0" height="8.3" fill="#87b6c6"/>
<rect x="62.3" y="1261.5" width="46.0" height="20.3" fill="#84b3c4"/>
<rect x="62.3" y="1281.5" width="46.0" height="10.3" fill="#81b2c2"/>
<rect x="62.3" y="1291.5" width="46.0" height="12.3" fill="#88b6c6"/>
<rect x="62.3" y="1303.5" width="46.0" height="24.3" fill="#88b6c6"/>
<rect x="62.3" y="1327.5" width="46.0" height="6.3" fill="#87b5c6"/>
<rect x="62.3" y="1333.5" width="46.0" height="6.3" fill="#83b3c4"/>
<rect x="62.3" y="1339.5" width="46.0" height="4.3" fill="#87b6c6"/>
<rect x="62.3" y="1343.5" width="46.0" height="16.3" fill="#81b2c3"/>
<rect x="62.3" y="1359.5" width="46.0" height="4.3" fill="#8ab7c7"/>
<rect x="62.3" y="1363.5" width="46.0" height="16.3" fill="#7eafc1"/>
<rect x="62.3" y="1379.5" width="46.0" height="16.3" fill="#87b6c6"/>
<rect x="62.3" y="1395.5" width="46.0" height="16.3" fill="#81b1c2"/>
<rect x="62.3" y="1411.5" width="46.0" height="8.3" fill="#85b4c4"/>
<rect x="62.3" y="1419.5" width="46.0" height="10.3" fill="#85b4c5"/>
<rect x="62.3" y="1429.5" width="46.0" height="16.3" fill="#86b5c5"/>
<rect x="62.3" y="1445.5" width="46.0" height="20.3" fill="#8ebaca"/>
<rect x="62.3" y="1465.5" width="46.0" height="16.3" fill="#81b2c3"/>
<rect x="62.3" y="1481.5" width="46.0" height="4.3" fill="#89b7c7"/>
<rect x="62.3" y="1485.5" width="46.0" height="6.3" fill="#88b6c6"/>
<rect x="62.3" y="1491.5" width="46.0" height="16.3" fill="#84b4c4"/>
<rect x="62.3" y="1507.5" width="46.0" height="16.3" fill="#89b7c7"/>
<rect x="62.3" y="1523.5" width="46.0" height="16.3" fill="#86b5c5"/>
<rect x="62.3" y="1539.5" width="46.0" height="24.3" fill="#87b6c6"/>
<rect x="62.3" y="1563.5" width="46.0" height="12.3" fill="#86b5c5"/>
<rect x="62.3" y="1575.5" width="46.0" height="4.3" fill="#87b6c6"/>
<rect x="62.3" y="1579.5" width="46.0" height="8.3" fill="#86b5c5"/>
<rect x="62.3" y="1587.5" width="46.0" height="6.3" fill="#86b5c5"/>
<rect x="62.3" y="1593.5" width="46.0" height="6.3" fill="#84b3c4"/>
<rect x="62.3" y="1599.5" width="46.0" height="12.3" fill="#85b4c5"/>
<rect x="62.3" y="1611.5" width="46.0" height="6.3" fill="#86b5c5"/>
<rect x="62.3" y="1617.5" width="46.0" height="4.3" fill="#84b4c4"/>
<rect x="62.3" y="1621.5" width="46.0" height="16.3" fill="#82b2c3"/>
<rect x="62.3" y="1637.5" width="46.0" height="8.3" fill="#89b7c7"/>
<rect x="62.3" y="1645.5" width="46.0" height="10.3" fill="#89b7c7"/>
<rect x="62.3" y="1655.5" width="46.0" height="4.3" fill="#82b2c3"/>
<rect x="62.3" y="1659.5" width="46.0" height="16.3" fill="#85b4c5"/>
<rect x="62.3" y="1675.5" width="46.0" height="4.3" fill="#85b4c5"/>
<rect x="62.3" y="1679.5" width="46.0" height="20.3" fill="#8db9c9"/>
<rect x="62.3" y="1699.5" width="46.0" height="20.3" fill="#8bb8c8"/>
<rect x="62.3" y="1719.5" width="46.0" height="16.3" fill="#88b6c6"/>
<rect x="62.3" y="1735.5" width="46.0" height="24.3" fill="#89b7c7"/>
<rect x="62.3" y="1759.5" width="46.0" height="20.3" fill="#81b1c2"/>
<rect x="62.3" y="1779.5" width="46.0" height="8.3" fill="#88b6c6"/>
<rect x="62.3" y="1787.5" width="46.0" height="6.3" fill="#85b4c5"/>
<rect x="62.3" y="1793.5" width="46.0" height="16.3" fill="#89b7c7"/>
<rect x="62.3" y="1809.5" width="46.0" height="20.3" fill="#87b6c6"/>
<rect x="62.3" y="1829.5" width="46.0" height="10.3" fill="#84b4c4"/>
<rect x="62.3" y="1839.5" width="46.0" height="10.3" fill="#82b2c3"/>
<rect x="62.3" y="1849.5" width="46.0" height="8.3" fill="#84b4c4"/>
<rect x="62.3" y="1857.5" width="46.0" height="20.3" fill="#83b3c4"/>
<rect x="62.3" y="1877.5" width="46.0" height="20.3" fill="#85b4c5"/>
<rect x="62.3" y="1897.5" width="46.0" height="4.3" fill="#88b6c6"/>
<rect x="62.3" y="1901.5" width="46.0" height="10.3" fill="#87b6c6"/>
<rect x="62.3" y="1911.5" width="46.0" height="8.1" fill="#82b2c3"/>
<rect x="108.3" y="855.8" width="46.4" height="24.3" fill="#edd5dc"/>
<rect x="108.3" y="879.8" width="46.4" height="10.3" fill="#f2eaec"/>
<rect x="108.3" y="889.8" width="46.4" height="8.3" fill="#edd3da"/>
<rect x="108.3" y="897.8" width="46.4" height="5.5" fill="#edd3da"/>
<rect x="108.3" y="903.0" width="46.4" height="5.3" fill="#7dafc1"/>
<rect x="108.3" y="908.0" width="46.4" height="12.3" fill="#6fa6b9"/>
<rect x="108.3" y="920.0" width="46.4" height="5.3" fill="#73a8bb"/>
<rect x="108.3" y="925.0" width="46.4" height="3.3" fill="#79acbe"/>
<rect x="108.3" y="928.0" width="46.4" height="2.3" fill="#85b4c4"/>
<rect x="108.3" y="930.0" width="46.4" height="12.3" fill="#79acbe"/>
<rect x="108.3" y="942.0" width="46.4" height="10.3" fill="#89b7c7"/>
<rect x="108.3" y="952.0" width="46.4" height="2.3" fill="#77abbd"/>
<rect x="108.3" y="954.0" width="46.4" height="3.3" fill="#79acbe"/>
<rect x="108.3" y="957.0" width="46.4" height="10.3" fill="#e7c1cb"/>
<rect x="108.3" y="967.0" width="46.4" height="14.3" fill="#d06a84"/>
<rect x="108.3" y="981.0" width="46.4" height="3.3" fill="#7dafc1"/>
<rect x="108.3" y="984.0" width="46.4" height="2.3" fill="#80b1c2"/>
<rect x="108.3" y="986.0" width="46.4" height="5.3" fill="#83b3c3"/>
<rect x="108.3" y="991.0" width="46.4" height="8.3" fill="#81b2c3"/>
<rect x="108.3" y="999.0" width="46.4" height="4.3" fill="#80b1c2"/>
<rect x="108.3" y="1003.0" width="46.4" height="5.3" fill="#7aadbf"/>
<rect x="108.3" y="1008.0" width="46.4" height="8.3" fill="#7caec0"/>
<rect x="108.3" y="1016.0" width="46.4" height="3.3" fill="#86b5c5"/>
<rect x="108.3" y="1019.0" width="46.4" height="2.3" fill="#7caec0"/>
<rect x="108.3" y="1021.0" width="46.4" height="8.3" fill="#f4f4f4"/>
<rect x="108.3" y="1029.0" width="46.4" height="3.3" fill="#f4f4f4"/>
<rect x="108.3" y="1032.0" width="46.4" height="201.5" fill="#cd5f7b"/>
<rect x="108.3" y="1233.5" width="46.4" height="24.3" fill="#83b3c3"/>
<rect x="108.3" y="1257.5" width="46.4" height="4.3" fill="#80b1c2"/>
<rect x="108.3" y="1261.5" width="46.4" height="4.3" fill="#87b6c6"/>
<rect x="108.3" y="1265.5" width="46.4" height="10.3" fill="#84b3c4"/>
<rect x="108.3" y="1275.5" width="46.4" height="10.3" fill="#81b2c3"/>
<rect x="108.3" y="1285.5" width="46.4" height="8.3" fill="#81b2c2"/>
<rect x="108.3" y="1293.5" width="46.4" height="10.3" fill="#87b5c6"/>
<rect x="108.3" y="1303.5" width="46.4" height="6.3" fill="#8ab8c7"/>
<rect x="108.3" y="1309.5" width="46.4" height="10.3" fill="#87b6c6"/>
<rect x="108.3" y="1319.5" width="46.4" height="20.3" fill="#83b3c3"/>
<rect x="108.3" y="1339.5" width="46.4" height="24.3" fill="#80b1c2"/>
<rect x="108.3" y="1363.5" width="46.4" height="20.3" fill="#86b5c5"/>
<rect x="108.3" y="1383.5" width="46.4" height="12.3" fill="#85b4c5"/>
<rect x="108.3" y="1395.5" width="46.4" height="4.3" fill="#8cb9c8"/>
<rect x="108.3" y="1399.5" width="46.4" height="4.3" fill="#89b7c7"/>
<rect x="108.3" y="1403.5" width="46.4" height="10.3" fill="#80b1c2"/>
<rect x="108.3" y="1413.5" width="46.4" height="24.3" fill="#82b2c3"/>
<rect x="108.3" y="1437.5" width="46.4" height="10.3" fill="#87b5c5"/>
<rect x="108.3" y="1447.5" width="46.4" height="20.3" fill="#89b7c7"/>
<rect x="108.3" y="1467.5" width="46.4" height="20.3" fill="#83b3c4"/>
<rect x="108.3" y="1487.5" width="46.4" height="6.3" fill="#87b6c6"/>
<rect x="108.3" y="1493.5" width="46.4" height="20.3" fill="#83b3c3"/>
<rect x="108.3" y="1513.5" width="46.4" height="24.3" fill="#8db9c9"/>
<rect x="108.3" y="1537.5" width="46.4" height="6.3" fill="#84b3c4"/>
<rect x="108.3" y="1543.5" width="46.4" height="16.3" fill="#87b6c6"/>
<rect x="108.3" y="1559.5" width="46.4" height="4.3" fill="#82b3c3"/>
<rect x="108.3" y="1563.5" width="46.4" height="8.3" fill="#81b2c3"/>
<rect x="108.3" y="1571.5" width="46.4" height="20.3" fill="#81b1c2"/>
<rect x="108.3" y="1591.5" width="46.4" height="24.3" fill="#81b1c2"/>
<rect x="108.3" y="1615.5" width="46.4" height="10.3" fill="#80b1c2"/>
<rect x="108.3" y="1625.5" width="46.4" height="8.3" fill="#87b5c6"/>
<rect x="108.3" y="1633.5" width="46.4" height="10.3" fill="#81b1c2"/>
<rect x="108.3" y="1643.5" width="46.4" height="6.3" fill="#83b3c4"/>
<rect x="108.3" y="1649.5" width="46.4" height="6.3" fill="#84b3c4"/>
<rect x="108.3" y="1655.5" width="46.4" height="10.3" fill="#83b3c4"/>
<rect x="108.3" y="1665.5" width="46.4" height="10.3" fill="#81b2c3"/>
<rect x="108.3" y="1675.5" width="46.4" height="20.3" fill="#87b5c6"/>
<rect x="108.3" y="1695.5" width="46.4" height="16.3" fill="#86b5c5"/>
<rect x="108.3" y="1711.5" width="46.4" height="6.3" fill="#89b7c7"/>
<rect x="108.3" y="1717.5" width="46.4" height="10.3" fill="#86b5c5"/>
<rect x="108.3" y="1727.5" width="46.4" height="24.3" fill="#7eb0c1"/>
<rect x="108.3" y="1751.5" width="46.4" height="4.3" fill="#84b4c4"/>
<rect x="108.3" y="1755.5" width="46.4" height="20.3" fill="#87b6c6"/>
<rect x="108.3" y="1775.5" width="46.4" height="20.3" fill="#82b2c3"/>
<rect x="108.3" y="1795.5" width="46.4" height="24.3" fill="#84b4c4"/>
<rect x="108.3" y="1819.5" width="46.4" height="12.3" fill="#8bb8c8"/>
<rect x="108.3" y="1831.5" width="46.4" height="16.3" fill="#7eafc1"/>
<rect x="108.3" y="1847.5" width="46.4" height="16.3" fill="#8ab8c7"/>
<rect x="108.3" y="1863.5" width="46.4" height="16.3" fill="#86b5c5"/>
<rect x="108.3" y="1879.5" width="46.4" height="6.3" fill="#84b3c4"/>
<rect x="108.3" y="1885.5" width="46.4" height="12.3" fill="#85b4c5"/>
<rect x="108.3" y="1897.5" width="46.4" height="20.3" fill="#8bb8c8"/>
<rect x="108.3" y="1917.5" width="46.4" height="2.1" fill="#89b7c7"/>
<rect x="154.7" y="855.8" width="46.0" height="3.3" fill="#85b4c5"/>
<rect x="154.7" y="858.8" width="46.0" height="8.3" fill="#81b1c2"/>
<rect x="154.7" y="866.8" width="46.0" height="6.3" fill="#83b3c4"/>
<rect x="154.7" y="872.8" width="46.0" height="6.3" fill="#73a8bb"/>
<rect x="154.7" y="878.8" width="46.0" height="10.3" fill="#7dafc1"/>
<rect x="154.7" y="888.8" width="46.0" height="5.3" fill="#7baebf"/>
<rect x="154.7" y="893.8" width="46.0" height="3.3" fill="#7aadbf"/>
<rect x="154.7" y="896.8" width="46.0" height="3.3" fill="#7dafc1"/>
<rect x="154.7" y="899.8" width="46.0" height="5.3" fill="#7eafc1"/>
<rect x="154.7" y="904.8" width="46.0" height="5.3" fill="#7baebf"/>
<rect x="154.7" y="909.8" width="46.0" height="8.3" fill="#81b1c2"/>
<rect x="154.7" y="917.8" width="46.0" height="3.3" fill="#82b2c3"/>
<rect x="154.7" y="920.8" width="46.0" height="3.3" fill="#78acbe"/>
<rect x="154.7" y="923.8" width="46.0" height="10.3" fill="#79acbe"/>
<rect x="154.7" y="933.8" width="46.0" height="3.3" fill="#7dafc0"/>
<rect x="154.7" y="936.8" width="46.0" height="2.3" fill="#84b4c4"/>
<rect x="154.7" y="938.8" width="46.0" height="10.3" fill="#83b3c4"/>
<rect x="154.7" y="948.8" width="46.0" height="10.3" fill="#77abbd"/>
<rect x="154.7" y="958.8" width="46.0" height="5.3" fill="#79acbe"/>
<rect x="154.7" y="963.8" width="46.0" height="5.3" fill="#78abbe"/>
<rect x="154.7" y="968.8" width="46.0" height="8.3" fill="#7eafc1"/>
<rect x="154.7" y="976.8" width="46.0" height="6.3" fill="#7aadbf"/>
<rect x="154.7" y="982.8" width="46.0" height="5.3" fill="#87b5c6"/>
<rect x="154.7" y="987.8" width="46.0" height="2.3" fill="#7eafc1"/>
<rect x="154.7" y="989.8" width="46.0" height="2.3" fill="#84b4c4"/>
<rect x="154.7" y="991.8" width="46.0" height="5.3" fill="#77abbd"/>
<rect x="154.7" y="996.8" width="46.0" height="4.3" fill="#78acbe"/>
<rect x="154.7" y="1000.8" width="46.0" height="5.3" fill="#79acbe"/>
<rect x="154.7" y="1005.8" width="46.0" height="3.3" fill="#74a9bc"/>
<rect x="154.7" y="1008.8" width="46.0" height="5.3" fill="#74a8bb"/>
<rect x="154.7" y="1013.8" width="46.0" height="2.3" fill="#74a9bc"/>
<rect x="154.7" y="1015.8" width="46.0" height="5.3" fill="#78abbe"/>
<rect x="154.7" y="1020.8" width="46.0" height="0.5" fill="#7eafc1"/>
<rect x="154.7" y="1021.0" width="46.0" height="4.3" fill="#f4f4f4"/>
<rect x="154.7" y="1025.0" width="46.0" height="12.3" fill="#82b2c3"/>
<rect x="154.7" y="1037.0" width="46.0" height="5.3" fill="#81b2c3"/>
<rect x="154.7" y="1042.0" width="46.0" height="10.3" fill="#7baebf"/>
<rect x="154.7" y="1052.0" width="46.0" height="5.3" fill="#7fb0c1"/>
<rect x="154.7" y="1057.0" width="46.0" height="3.3" fill="#7aadbf"/>
<rect x="154.7" y="1060.0" width="46.0" height="4.3" fill="#85b4c5"/>
<rect x="154.7" y="1064.0" width="46.0" height="12.3" fill="#78acbe"/>
<rect x="154.7" y="1076.0" width="46.0" height="8.3" fill="#86b5c5"/>
<rect x="154.7" y="1084.0" width="46.0" height="5.3" fill="#80b1c2"/>
<rect x="154.7" y="1089.0" width="46.0" height="6.3" fill="#82b2c3"/>
<rect x="154.7" y="1095.0" width="46.0" height="12.3" fill="#82b2c3"/>
<rect x="154.7" y="1107.0" width="46.0" height="4.3" fill="#7aadbf"/>
<rect x="154.7" y="1111.0" width="46.0" height="5.3" fill="#79acbe"/>
<rect x="154.7" y="1116.0" width="46.0" height="3.3" fill="#88b6c6"/>
<rect x="154.7" y="1119.0" width="46.0" height="10.3" fill="#8ab7c7"/>
<rect x="154.7" y="1129.0" width="46.0" height="4.3" fill="#81b2c3"/>
<rect x="154.7" y="1133.0" width="46.0" height="12.3" fill="#7dafc0"/>
<rect x="154.7" y="1145.0" width="46.0" height="3.3" fill="#85b4c5"/>
<rect x="154.7" y="1148.0" width="46.0" height="8.3" fill="#7aadbf"/>
<rect x="154.7" y="1156.0" width="46.0" height="5.3" fill="#84b4c4"/>
<rect x="154.7" y="1161.0" width="46.0" height="4.3" fill="#80b1c2"/>
<rect x="154.7" y="1165.0" width="46.0" height="3.3" fill="#84b4c4"/>
<rect x="154.7" y="1168.0" width="46.0" height="6.3" fill="#7eb0c1"/>
<rect x="154.7" y="1174.0" width="46.0" height="5.3" fill="#80b1c2"/>
<rect x="154.7" y="1179.0" width="46.0" height="10.3" fill="#82b2c3"/>
<rect x="154.7" y="1189.0" width="46.0" height="4.3" fill="#7aadbf"/>
<rect x="154.7" y="1193.0" width="46.0" height="6.3" fill="#79acbe"/>
<rect x="154.7" y="1199.0" width="46.0" height="3.3" fill="#80b1c2"/>
<rect x="154.7" y="1202.0" width="46.0" height="12.3" fill="#7baec0"/>
<rect x="154.7" y="1214.0" width="46.0" height="4.3" fill="#81b1c2"/>
<rect x="154.7" y="1218.0" width="46.0" height="2.3" fill="#7baebf"/>
<rect x="154.7" y="1220.0" width="46.0" height="3.3" fill="#86b5c5"/>
<rect x="154.7" y="1223.0" width="46.0" height="3.3" fill="#7fb0c1"/>
<rect x="154.7" y="1226.0" width="46.0" height="2.3" fill="#83b3c3"/>
<rect x="154.7" y="1228.0" width="46.0" height="5.8" fill="#cfdfe5"/>
<rect x="154.7" y="1233.5" width="46.0" height="5.8" fill="#e4adbc"/>
<rect x="154.7" y="1239.0" width="46.0" height="215.5" fill="#cd5f7b"/>
<rect x="154.7" y="1454.5" width="46.0" height="16.3" fill="#7aadbf"/>
<rect x="154.7" y="1470.5" width="46.0" height="12.3" fill="#7eb0c1"/>
<rect x="154.7" y="1482.5" width="46.0" height="6.3" fill="#7dafc0"/>
<rect x="154.7" y="1488.5" width="46.0" height="24.3" fill="#80b1c2"/>
<rect x="154.7" y="1512.5" width="46.0" height="4.3" fill="#83b3c3"/>
<rect x="154.7" y="1516.5" width="46.0" height="0.8" fill="#81b1c2"/>
<rect x="154.7" y="1517.0" width="46.0" height="5.3" fill="#e4aebd"/>
<rect x="154.7" y="1522.0" width="46.0" height="6.3" fill="#85b4c5"/>
<rect x="154.7" y="1528.0" width="46.0" height="24.3" fill="#88b6c6"/>
<rect x="154.7" y="1552.0" width="46.0" height="16.3" fill="#8ab8c7"/>
<rect x="154.7" y="1568.0" width="46.0" height="16.3" fill="#86b5c5"/>
<rect x="154.7" y="1584.0" width="46.0" height="6.3" fill="#89b7c7"/>
<rect x="154.7" y="1590.0" width="46.0" height="8.3" fill="#82b2c3"/>
<rect x="154.7" y="1598.0" width="46.0" height="8.3" fill="#80b1c2"/>
<rect x="154.7" y="1606.0" width="46.0" height="6.3" fill="#89b7c7"/>
<rect x="154.7" y="1612.0" width="46.0" height="12.3" fill="#84b4c4"/>
<rect x="154.7" y="1624.0" width="46.0" height="20.3" fill="#83b3c4"/>
<rect x="154.7" y="1644.0" width="46.0" height="6.3" fill="#87b6c6"/>
<rect x="154.7" y="1650.0" width="46.0" height="6.3" fill="#87b5c6"/>
<rect x="154.7" y="1656.0" width="46.0" height="9.3" fill="#81b2c3"/>
<rect x="154.7" y="1665.0" width="46.0" height="14.3" fill="#efdee2"/>
<rect x="154.7" y="1679.0" width="46.0" height="4.3" fill="#82b2c3"/>
<rect x="154.7" y="1683.0" width="46.0" height="10.3" fill="#81b2c2"/>
<rect x="154.7" y="1693.0" width="46.0" height="20.3" fill="#87b6c6"/>
<rect x="154.7" y="1713.0" width="46.0" height="6.3" fill="#81b2c3"/>
<rect x="154.7" y="1719.0" width="46.0" height="10.3" fill="#87b6c6"/>
<rect x="154.7" y="1729.0" width="46.0" height="16.3" fill="#89b7c7"/>
<rect x="154.7" y="1745.0" width="46.0" height="24.3" fill="#7caec0"/>
<rect x="154.7" y="1769.0" width="46.0" height="10.3" fill="#86b5c5"/>
<rect x="154.7" y="1779.0" width="46.0" height="12.3" fill="#84b4c4"/>
<rect x="154.7" y="1791.0" width="46.0" height="6.3" fill="#87b5c5"/>
<rect x="154.7" y="1797.0" width="46.0" height="6.3" fill="#80b1c2"/>
<rect x="154.7" y="1803.0" width="46.0" height="4.3" fill="#87b6c6"/>
<rect x="154.7" y="1807.0" width="46.0" height="20.3" fill="#86b5c5"/>
<rect x="154.7" y="1827.0" width="46.0" height="12.3" fill="#82b3c3"/>
<rect x="154.7" y="1839.0" width="46.0" height="6.3" fill="#86b5c5"/>
<rect x="154.7" y="1845.0" width="46.0" height="6.3" fill="#86b5c5"/>
<rect x="154.7" y="1851.0" width="46.0" height="10.3" fill="#87b6c6"/>
<rect x="154.7" y="1861.0" width="46.0" height="16.3" fill="#80b1c2"/>
<rect x="154.7" y="1877.0" width="46.0" height="24.3" fill="#84b4c4"/>
<rect x="154.7" y="1901.0" width="46.0" height="16.3" fill="#87b6c6"/>
<rect x="154.7" y="1917.0" width="46.0" height="2.6" fill="#87b6c6"/>
<rect x="200.7" y="855.8" width="46.3" height="2.3" fill="#7aadbf"/>
<rect x="200.7" y="857.8" width="46.3" height="4.3" fill="#87b5c6"/>
<rect x="200.7" y="861.8" width="46.3" height="4.3" fill="#78abbe"/>
<rect x="200.7" y="865.8" width="46.3" height="3.3" fill="#cfdfe5"/>
<rect x="200.7" y="868.8" width="46.3" height="8.3" fill="#79acbe"/>
<rect x="200.7" y="876.8" width="46.3" height="12.3" fill="#7caec0"/>
<rect x="200.7" y="888.8" width="46.3" height="6.3" fill="#81b1c2"/>
<rect x="200.7" y="894.8" width="46.3" height="2.3" fill="#7caec0"/>
<rect x="200.7" y="896.8" width="46.3" height="3.3" fill="#7baec0"/>
<rect x="200.7" y="899.8" width="46.3" height="8.3" fill="#71a7ba"/>
<rect x="200.7" y="907.8" width="46.3" height="8.3" fill="#7caec0"/>
<rect x="200.7" y="915.8" width="46.3" height="10.3" fill="#77abbd"/>
<rect x="200.7" y="925.8" width="46.3" height="6.3" fill="#80b1c2"/>
<rect x="200.7" y="931.8" width="46.3" height="8.3" fill="#7caec0"/>
<rect x="200.7" y="939.8" width="46.3" height="8.3" fill="#7dafc0"/>
<rect x="200.7" y="947.8" width="46.3" height="3.3" fill="#70a6b9"/>
<rect x="200.7" y="950.8" width="46.3" height="3.3" fill="#73a8bb"/>
<rect x="200.7" y="953.8" width="46.3" height="6.3" fill="#76aabd"/>
<rect x="200.7" y="959.8" width="46.3" height="3.3" fill="#77abbd"/>
<rect x="200.7" y="962.8" width="46.3" height="3.3" fill="#7aadbf"/>
<rect x="200.7" y="965.8" width="46.3" height="3.3" fill="#7badbf"/>
<rect x="200.7" y="968.8" width="46.3" height="10.3" fill="#7fb0c2"/>
<rect x="200.7" y="978.8" width="46.3" height="6.3" fill="#7caec0"/>
<rect x="200.7" y="984.8" width="46.3" height="3.3" fill="#71a7ba"/>
<rect x="200.7" y="987.8" width="46.3" height="5.3" fill="#79acbe"/>
<rect x="200.7" y="992.8" width="46.3" height="3.3" fill="#70a6b9"/>
<rect x="200.7" y="995.8" width="46.3" height="10.3" fill="#7caec0"/>
<rect x="200.7" y="1005.8" width="46.3" height="3.3" fill="#78abbe"/>
<rect x="200.7" y="1008.8" width="46.3" height="12.3" fill="#71a7ba"/>
<rect x="200.7" y="1020.8" width="46.3" height="2.3" fill="#7caec0"/>
<rect x="200.7" y="1022.8" width="46.3" height="4.3" fill="#74a9bc"/>
<rect x="200.7" y="1026.8" width="46.3" height="2.3" fill="#7caec0"/>
<rect x="200.7" y="1028.8" width="46.3" height="6.3" fill="#79acbe"/>
<rect x="200.7" y="1034.8" width="46.3" height="2.3" fill="#76aabd"/>
<rect x="200.7" y="1036.8" width="46.3" height="10.3" fill="#7eafc1"/>
<rect x="200.7" y="1046.8" width="46.3" height="6.3" fill="#76aabd"/>
<rect x="200.7" y="1052.8" width="46.3" height="5.3" fill="#6fa6b9"/>
<rect x="200.7" y="1057.8" width="46.3" height="2.3" fill="#7dafc0"/>
<rect x="200.7" y="1059.8" width="46.3" height="6.3" fill="#79acbe"/>
<rect x="200.7" y="1065.8" width="46.3" height="5.3" fill="#78abbe"/>
<rect x="200.7" y="1070.8" width="46.3" height="3.3" fill="#73a8bb"/>
<rect x="200.7" y="1073.8" width="46.3" height="6.3" fill="#7dafc0"/>
<rect x="200.7" y="1079.8" width="46.3" height="8.3" fill="#7dafc0"/>
<rect x="200.7" y="1087.8" width="46.3" height="12.3" fill="#7dafc0"/>
<rect x="200.7" y="1099.8" width="46.3" height="6.3" fill="#7aadbf"/>
<rect x="200.7" y="1105.8" width="46.3" height="12.3" fill="#6fa5b9"/>
<rect x="200.7" y="1117.8" width="46.3" height="8.3" fill="#76aabc"/>
<rect x="200.7" y="1125.8" width="46.3" height="4.3" fill="#77abbd"/>
<rect x="200.7" y="1129.8" width="46.3" height="10.3" fill="#80b1c2"/>
<rect x="200.7" y="1139.8" width="46.3" height="5.3" fill="#8fbbca"/>
<rect x="200.7" y="1144.8" width="46.3" height="3.3" fill="#70a6b9"/>
<rect x="200.7" y="1147.8" width="46.3" height="12.3" fill="#76aabd"/>
<rect x="200.7" y="1159.8" width="46.3" height="6.3" fill="#7caec0"/>
<rect x="200.7" y="1165.8" width="46.3" height="3.3" fill="#71a7ba"/>
<rect x="200.7" y="1168.8" width="46.3" height="3.3" fill="#76aabd"/>
<rect x="200.7" y="1171.8" width="46.3" height="4.3" fill="#75a9bc"/>
<rect x="200.7" y="1175.8" width="46.3" height="5.3" fill="#77abbd"/>
<rect x="200.7" y="1180.8" width="46.3" height="4.3" fill="#6da4b8"/>
<rect x="200.7" y="1184.8" width="46.3" height="10.3" fill="#7aadbf"/>
<rect x="200.7" y="1194.8" width="46.3" height="10.3" fill="#75a9bc"/>
<rect x="200.7" y="1204.8" width="46.3" height="5.3" fill="#78abbe"/>
<rect x="200.7" y="1209.8" width="46.3" height="3.3" fill="#70a6ba"/>
<rect x="200.7" y="1212.8" width="46.3" height="3.3" fill="#78abbe"/>
<rect x="200.7" y="1215.8" width="46.3" height="6.3" fill="#75aabc"/>
<rect x="200.7" y="1221.8" width="46.3" height="3.3" fill="#75aabc"/>
<rect x="200.7" y="1224.8" width="46.3" height="3.3" fill="#70a6b9"/>
<rect x="200.7" y="1227.8" width="46.3" height="5.3" fill="#70a6ba"/>
<rect x="200.7" y="1232.8" width="46.3" height="1.0" fill="#79acbe"/>
<rect x="200.7" y="1233.5" width="46.3" height="8.3" fill="#86b5c5"/>
<rect x="200.7" y="1241.5" width="46.3" height="16.3" fill="#7dafc0"/>
<rect x="200.7" y="1257.5" width="46.3" height="24.3" fill="#81b2c3"/>
<rect x="200.7" y="1281.5" width="46.3" height="8.3" fill="#86b5c5"/>
<rect x="200.7" y="1289.5" width="46.3" height="6.3" fill="#86b5c5"/>
<rect x="200.7" y="1295.5" width="46.3" height="6.3" fill="#7fb1c2"/>
<rect x="200.7" y="1301.5" width="46.3" height="20.3" fill="#83b3c4"/>
<rect x="200.7" y="1321.5" width="46.3" height="20.3" fill="#82b2c3"/>
<rect x="200.7" y="1341.5" width="46.3" height="6.3" fill="#86b5c5"/>
<rect x="200.7" y="1347.5" width="46.3" height="24.3" fill="#84b4c4"/>
<rect x="200.7" y="1371.5" width="46.3" height="10.3" fill="#84b3c4"/>
<rect x="200.7" y="1381.5" width="46.3" height="20.3" fill="#85b4c5"/>
<rect x="200.7" y="1401.5" width="46.3" height="20.3" fill="#83b3c4"/>
<rect x="200.7" y="1421.5" width="46.3" height="8.3" fill="#83b3c4"/>
<rect x="200.7" y="1429.5" width="46.3" height="10.3" fill="#7fb0c2"/>
<rect x="200.7" y="1439.5" width="46.3" height="15.3" fill="#86b5c5"/>
<rect x="200.7" y="1454.5" width="46.3" height="63.1" fill="#cd5f7b"/>
<rect x="200.7" y="1517.6" width="46.3" height="4.7" fill="#ebc9d2"/>
<rect x="200.7" y="1522.0" width="46.3" height="12.3" fill="#87b6c6"/>
<rect x="200.7" y="1534.0" width="46.3" height="24.3" fill="#85b4c5"/>
<rect x="200.7" y="1558.0" width="46.3" height="16.3" fill="#84b4c4"/>
<rect x="200.7" y="1574.0" width="46.3" height="12.3" fill="#83b3c4"/>
<rect x="200.7" y="1586.0" width="46.3" height="4.3" fill="#83b3c3"/>
<rect x="200.7" y="1590.0" width="46.3" height="6.3" fill="#85b4c4"/>
<rect x="200.7" y="1596.0" width="46.3" height="12.3" fill="#86b5c5"/>
<rect x="200.7" y="1608.0" width="46.3" height="6.3" fill="#86b5c5"/>
<rect x="200.7" y="1614.0" width="46.3" height="20.3" fill="#87b6c6"/>
<rect x="200.7" y="1634.0" width="46.3" height="6.3" fill="#83b3c4"/>
<rect x="200.7" y="1640.0" width="46.3" height="20.3" fill="#86b5c5"/>
<rect x="200.7" y="1660.0" width="46.3" height="4.3" fill="#84b4c4"/>
<rect x="200.7" y="1664.0" width="46.3" height="10.3" fill="#7aadbf"/>
<rect x="200.7" y="1674.0" width="46.3" height="5.3" fill="#83b3c3"/>
<rect x="200.7" y="1679.0" width="46.3" height="8.3" fill="#78abbe"/>
<rect x="200.7" y="1687.0" width="46.3" height="12.3" fill="#80b1c2"/>
<rect x="200.7" y="1699.0" width="46.3" height="12.3" fill="#76aabd"/>
<rect x="200.7" y="1711.0" width="46.3" height="16.3" fill="#7badbf"/>
<rect x="200.7" y="1727.0" width="46.3" height="6.3" fill="#76aabc"/>
<rect x="200.7" y="1733.0" width="46.3" height="24.3" fill="#7aadbf"/>
<rect x="200.7" y="1757.0" width="46.3" height="6.3" fill="#79acbe"/>
<rect x="200.7" y="1763.0" width="46.3" height="6.3" fill="#78acbe"/>
<rect x="200.7" y="1769.0" width="46.3" height="8.3" fill="#7caec0"/>
<rect x="200.7" y="1777.0" width="46.3" height="20.3" fill="#84b3c4"/>
<rect x="200.7" y="1797.0" width="46.3" height="16.3" fill="#84b3c4"/>
<rect x="200.7" y="1813.0" width="46.3" height="12.3" fill="#85b4c5"/>
<rect x="200.7" y="1825.0" width="46.3" height="16.3" fill="#80b1c2"/>
<rect x="200.7" y="1841.0" width="46.3" height="6.3" fill="#8bb9c8"/>
<rect x="200.7" y="1847.0" width="46.3" height="16.3" fill="#7eb0c1"/>
<rect x="200.7" y="1863.0" width="46.3" height="4.3" fill="#86b5c5"/>
<rect x="200.7" y="1867.0" width="46.3" height="20.3" fill="#83b3c4"/>
<rect x="200.7" y="1887.0" width="46.3" height="12.3" fill="#82b2c3"/>
<rect x="200.7" y="1899.0" width="46.3" height="4.3" fill="#7eafc1"/>
<rect x="200.7" y="1903.0" width="46.3" height="12.3" fill="#7fb0c1"/>
<rect x="200.7" y="1915.0" width="46.3" height="4.6" fill="#7eb0c1"/>
<rect x="247.0" y="855.8" width="46.0" height="4.5" fill="#e7b8c5"/>
<rect x="247.0" y="860.0" width="46.0" height="3.3" fill="#7aadbf"/>
<rect x="247.0" y="863.0" width="46.0" height="3.3" fill="#77abbd"/>
<rect x="247.0" y="866.0" width="46.0" height="5.3" fill="#7fb0c2"/>
<rect x="247.0" y="871.0" width="46.0" height="10.3" fill="#82b2c3"/>
<rect x="247.0" y="881.0" width="46.0" height="10.3" fill="#8ab8c8"/>
<rect x="247.0" y="891.0" width="46.0" height="3.3" fill="#85b4c4"/>
<rect x="247.0" y="894.0" width="46.0" height="10.3" fill="#78abbe"/>
<rect x="247.0" y="904.0" width="46.0" height="6.3" fill="#79acbe"/>
<rect x="247.0" y="910.0" width="46.0" height="5.3" fill="#74a9bb"/>
<rect x="247.0" y="915.0" width="46.0" height="3.3" fill="#7badbf"/>
<rect x="247.0" y="918.0" width="46.0" height="6.3" fill="#6ca4b7"/>
<rect x="247.0" y="924.0" width="46.0" height="3.3" fill="#8ebac9"/>
<rect x="247.0" y="927.0" width="46.0" height="10.3" fill="#7eafc1"/>
<rect x="247.0" y="937.0" width="46.0" height="12.3" fill="#77abbd"/>
<rect x="247.0" y="949.0" width="46.0" height="3.3" fill="#7badbf"/>
<rect x="247.0" y="952.0" width="46.0" height="3.3" fill="#87b6c6"/>
<rect x="247.0" y="955.0" width="46.0" height="10.3" fill="#82b3c3"/>
<rect x="247.0" y="965.0" width="46.0" height="8.3" fill="#81b1c2"/>
<rect x="247.0" y="973.0" width="46.0" height="3.3" fill="#7caec0"/>
<rect x="247.0" y="976.0" width="46.0" height="12.3" fill="#75aabc"/>
<rect x="247.0" y="988.0" width="46.0" height="3.3" fill="#8dbac9"/>
<rect x="247.0" y="991.0" width="46.0" height="3.3" fill="#6ea5b8"/>
<rect x="247.0" y="994.0" width="46.0" height="3.3" fill="#87b5c6"/>
<rect x="247.0" y="997.0" width="46.0" height="5.3" fill="#83b3c4"/>
<rect x="247.0" y="1002.0" width="46.0" height="6.3" fill="#85b5c5"/>
<rect x="247.0" y="1008.0" width="46.0" height="12.3" fill="#8cb9c8"/>
<rect x="247.0" y="1020.0" width="46.0" height="12.3" fill="#75aabc"/>
<rect x="247.0" y="1032.0" width="46.0" height="5.3" fill="#7caec0"/>
<rect x="247.0" y="1037.0" width="46.0" height="3.3" fill="#7dafc0"/>
<rect x="247.0" y="1040.0" width="46.0" height="6.3" fill="#85b4c5"/>
<rect x="247.0" y="1046.0" width="46.0" height="2.3" fill="#76aabd"/>
<rect x="247.0" y="1048.0" width="46.0" height="5.3" fill="#77abbd"/>
<rect x="247.0" y="1053.0" width="46.0" height="2.3" fill="#73a8bb"/>
<rect x="247.0" y="1055.0" width="46.0" height="12.3" fill="#7aadbf"/>
<rect x="247.0" y="1067.0" width="46.0" height="8.3" fill="#93becc"/>
<rect x="247.0" y="1075.0" width="46.0" height="3.3" fill="#7dafc1"/>
<rect x="247.0" y="1078.0" width="46.0" height="10.3" fill="#7badbf"/>
<rect x="247.0" y="1088.0" width="46.0" height="3.3" fill="#7aadbf"/>
<rect x="247.0" y="1091.0" width="46.0" height="6.3" fill="#8bb9c8"/>
<rect x="247.0" y="1097.0" width="46.0" height="3.3" fill="#80b1c2"/>
<rect x="247.0" y="1100.0" width="46.0" height="4.3" fill="#75a9bc"/>
<rect x="247.0" y="1104.0" width="46.0" height="5.3" fill="#7badbf"/>
<rect x="247.0" y="1109.0" width="46.0" height="8.3" fill="#81b1c2"/>
<rect x="247.0" y="1117.0" width="46.0" height="8.3" fill="#7fb0c2"/>
<rect x="247.0" y="1125.0" width="46.0" height="6.3" fill="#90bccb"/>
<rect x="247.0" y="1131.0" width="46.0" height="6.3" fill="#81b2c2"/>
<rect x="247.0" y="1137.0" width="46.0" height="10.3" fill="#84b3c4"/>
<rect x="247.0" y="1147.0" width="46.0" height="5.3" fill="#7baec0"/>
<rect x="247.0" y="1152.0" width="46.0" height="10.3" fill="#7fb0c2"/>
<rect x="247.0" y="1162.0" width="46.0" height="4.3" fill="#7dafc0"/>
<rect x="247.0" y="1166.0" width="46.0" height="10.3" fill="#7eafc1"/>
<rect x="247.0" y="1176.0" width="46.0" height="2.3" fill="#84b4c4"/>
<rect x="247.0" y="1178.0" width="46.0" height="6.3" fill="#78abbe"/>
<rect x="247.0" y="1184.0" width="46.0" height="1.3" fill="#82b2c3"/>
<rect x="247.0" y="1185.0" width="46.0" height="12.3" fill="#c8dce2"/>
<rect x="247.0" y="1197.0" width="46.0" height="24.3" fill="#efdce1"/>
<rect x="247.0" y="1221.0" width="46.0" height="6.3" fill="#f4f0f1"/>
<rect x="247.0" y="1227.0" width="46.0" height="6.8" fill="#d5e3e8"/>
<rect x="247.0" y="1233.5" width="46.0" height="12.3" fill="#86b5c5"/>
<rect x="247.0" y="1245.5" width="46.0" height="8.3" fill="#83b3c4"/>
<rect x="247.0" y="1253.5" width="46.0" height="4.3" fill="#84b3c4"/>
<rect x="247.0" y="1257.5" width="46.0" height="12.3" fill="#87b6c6"/>
<rect x="247.0" y="1269.5" width="46.0" height="24.3" fill="#82b2c3"/>
<rect x="247.0" y="1293.5" width="46.0" height="12.3" fill="#8bb9c8"/>
<rect x="247.0" y="1305.5" width="46.0" height="10.3" fill="#8fbbca"/>
<rect x="247.0" y="1315.5" width="46.0" height="24.3" fill="#88b6c6"/>
<rect x="247.0" y="1339.5" width="46.0" height="10.3" fill="#82b2c3"/>
<rect x="247.0" y="1349.5" width="46.0" height="4.3" fill="#82b3c3"/>
<rect x="247.0" y="1353.5" width="46.0" height="10.3" fill="#8ab7c7"/>
<rect x="247.0" y="1363.5" width="46.0" height="4.3" fill="#84b3c4"/>
<rect x="247.0" y="1367.5" width="46.0" height="8.3" fill="#84b4c4"/>
<rect x="247.0" y="1375.5" width="46.0" height="20.3" fill="#88b6c6"/>
<rect x="247.0" y="1395.5" width="46.0" height="16.3" fill="#8ab8c7"/>
<rect x="247.0" y="1411.5" width="46.0" height="8.3" fill="#8ebac9"/>
<rect x="247.0" y="1419.5" width="46.0" height="4.3" fill="#87b6c6"/>
<rect x="247.0" y="1423.5" width="46.0" height="16.3" fill="#89b7c7"/>
<rect x="247.0" y="1439.5" width="46.0" height="15.3" fill="#8ab8c7"/>
<rect x="247.0" y="1454.5" width="46.0" height="4.3" fill="#d8e5e9"/>
<rect x="247.0" y="1458.5" width="46.0" height="24.3" fill="#c1d8df"/>
<rect x="247.0" y="1482.5" width="46.0" height="12.3" fill="#e6edef"/>
<rect x="247.0" y="1494.5" width="46.0" height="20.3" fill="#d0e0e5"/>
<rect x="247.0" y="1514.5" width="46.0" height="3.4" fill="#e4ebee"/>
<rect x="247.0" y="1517.6" width="46.0" height="5.2" fill="#f0e0e5"/>
<rect x="247.0" y="1522.5" width="46.0" height="142.5" fill="#cd5f7b"/>
<rect x="247.0" y="1665.0" width="46.0" height="12.3" fill="#ebcad3"/>
<rect x="247.0" y="1677.0" width="46.0" height="2.3" fill="#ecced6"/>
<rect x="247.0" y="1679.0" width="46.0" height="8.3" fill="#e4ebee"/>
<rect x="247.0" y="1687.0" width="46.0" height="10.3" fill="#d1e1e6"/>
<rect x="247.0" y="1697.0" width="46.0" height="8.3" fill="#e3ebee"/>
<rect x="247.0" y="1705.0" width="46.0" height="10.3" fill="#dbe6ea"/>
<rect x="247.0" y="1715.0" width="46.0" height="8.3" fill="#d8e4e9"/>
<rect x="247.0" y="1723.0" width="46.0" height="20.3" fill="#c6dae1"/>
<rect x="247.0" y="1743.0" width="46.0" height="12.3" fill="#d1e1e6"/>
<rect x="247.0" y="1755.0" width="46.0" height="10.3" fill="#c4dae1"/>
<rect x="247.0" y="1765.0" width="46.0" height="12.3" fill="#c9dce3"/>
<rect x="247.0" y="1777.0" width="46.0" height="16.3" fill="#84b3c4"/>
<rect x="247.0" y="1793.0" width="46.0" height="10.3" fill="#79acbe"/>
<rect x="247.0" y="1803.0" width="46.0" height="6.3" fill="#7eb0c1"/>
<rect x="247.0" y="1809.0" width="46.0" height="20.3" fill="#83b3c4"/>
<rect x="247.0" y="1829.0" width="46.0" height="24.3" fill="#80b1c2"/>
<rect x="247.0" y="1853.0" width="46.0" height="6.3" fill="#84b4c4"/>
<rect x="247.0" y="1859.0" width="46.0" height="8.3" fill="#80b1c2"/>
<rect x="247.0" y="1867.0" width="46.0" height="8.3" fill="#85b4c5"/>
<rect x="247.0" y="1875.0" width="46.0" height="16.3" fill="#7eb0c1"/>
<rect x="247.0" y="1891.0" width="46.0" height="6.3" fill="#84b3c4"/>
<rect x="247.0" y="1897.0" width="46.0" height="22.6" fill="#82b2c3"/>
<rect x="293.0" y="855.8" width="46.4" height="20.3" fill="#609bb1"/>
<rect x="293.0" y="875.8" width="46.4" height="8.3" fill="#609bb1"/>
<rect x="293.0" y="883.8" width="46.4" height="4.3" fill="#5e9ab0"/>
<rect x="293.0" y="887.8" width="46.4" height="6.3" fill="#5f9bb0"/>
<rect x="293.0" y="893.8" width="46.4" height="4.3" fill="#5f9ab0"/>
<rect x="293.0" y="897.8" width="46.4" height="6.3" fill="#5e9ab0"/>
<rect x="293.0" y="903.8" width="46.4" height="4.3" fill="#629db2"/>
<rect x="293.0" y="907.8" width="46.4" height="4.5" fill="#619cb1"/>
<rect x="293.0" y="912.0" width="46.4" height="5.3" fill="#70a6ba"/>
<rect x="293.0" y="917.0" width="46.4" height="2.3" fill="#72a7ba"/>
<rect x="293.0" y="919.0" width="46.4" height="6.3" fill="#7baebf"/>
<rect x="293.0" y="925.0" width="46.4" height="12.3" fill="#68a1b5"/>
<rect x="293.0" y="937.0" width="46.4" height="12.3" fill="#72a7bb"/>
<rect x="293.0" y="949.0" width="46.4" height="4.3" fill="#76aabc"/>
<rect x="293.0" y="953.0" width="46.4" height="5.3" fill="#6fa6b9"/>
<rect x="293.0" y="958.0" width="46.4" height="2.3" fill="#73a8bb"/>
<rect x="293.0" y="960.0" width="46.4" height="4.3" fill="#6aa2b6"/>
<rect x="293.0" y="964.0" width="46.4" height="8.3" fill="#77abbd"/>
<rect x="293.0" y="972.0" width="46.4" height="3.3" fill="#6ea5b8"/>
<rect x="293.0" y="975.0" width="46.4" height="3.3" fill="#cfdfe5"/>
<rect x="293.0" y="978.0" width="46.4" height="8.3" fill="#76aabc"/>
<rect x="293.0" y="986.0" width="46.4" height="5.3" fill="#78acbe"/>
<rect x="293.0" y="991.0" width="46.4" height="2.3" fill="#73a8bb"/>
<rect x="293.0" y="993.0" width="46.4" height="6.3" fill="#73a8bb"/>
<rect x="293.0" y="999.0" width="46.4" height="5.3" fill="#72a7ba"/>
<rect x="293.0" y="1004.0" width="46.4" height="12.3" fill="#7eb0c1"/>
<rect x="293.0" y="1016.0" width="46.4" height="3.3" fill="#6ea5b9"/>
<rect x="293.0" y="1019.0" width="46.4" height="5.3" fill="#71a7ba"/>
<rect x="293.0" y="1024.0" width="46.4" height="10.3" fill="#77abbd"/>
<rect x="293.0" y="1034.0" width="46.4" height="6.3" fill="#6ea5b8"/>
<rect x="293.0" y="1040.0" width="46.4" height="12.3" fill="#77abbd"/>
<rect x="293.0" y="1052.0" width="46.4" height="4.3" fill="#75a9bc"/>
<rect x="293.0" y="1056.0" width="46.4" height="3.3" fill="#6ba3b7"/>
<rect x="293.0" y="1059.0" width="46.4" height="12.3" fill="#73a8bb"/>
<rect x="293.0" y="1071.0" width="46.4" height="2.3" fill="#72a7ba"/>
<rect x="293.0" y="1073.0" width="46.4" height="12.3" fill="#76aabd"/>
<rect x="293.0" y="1085.0" width="46.4" height="12.3" fill="#7badbf"/>
<rect x="293.0" y="1097.0" width="46.4" height="4.3" fill="#73a8bb"/>
<rect x="293.0" y="1101.0" width="46.4" height="10.3" fill="#6ea4b8"/>
<rect x="293.0" y="1111.0" width="46.4" height="10.3" fill="#78abbe"/>
<rect x="293.0" y="1121.0" width="46.4" height="12.3" fill="#78acbe"/>
<rect x="293.0" y="1133.0" width="46.4" height="5.3" fill="#73a8bb"/>
<rect x="293.0" y="1138.0" width="46.4" height="4.3" fill="#6ea5b9"/>
<rect x="293.0" y="1142.0" width="46.4" height="2.3" fill="#6ca3b7"/>
<rect x="293.0" y="1144.0" width="46.4" height="2.3" fill="#78abbe"/>
<rect x="293.0" y="1146.0" width="46.4" height="3.3" fill="#7aadbf"/>
<rect x="293.0" y="1149.0" width="46.4" height="3.3" fill="#73a8bb"/>
<rect x="293.0" y="1152.0" width="46.4" height="8.3" fill="#6ca3b7"/>
<rect x="293.0" y="1160.0" width="46.4" height="8.3" fill="#7caec0"/>
<rect x="293.0" y="1168.0" width="46.4" height="12.3" fill="#7baebf"/>
<rect x="293.0" y="1180.0" width="46.4" height="12.3" fill="#7caec0"/>
<rect x="293.0" y="1192.0" width="46.4" height="3.3" fill="#cfdfe5"/>
<rect x="293.0" y="1195.0" width="46.4" height="2.3" fill="#70a6b9"/>
<rect x="293.0" y="1197.0" width="46.4" height="10.3" fill="#71a6ba"/>
<rect x="293.0" y="1207.0" width="46.4" height="4.3" fill="#6ea4b8"/>
<rect x="293.0" y="1211.0" width="46.4" height="6.3" fill="#76aabd"/>
<rect x="293.0" y="1217.0" width="46.4" height="3.3" fill="#77abbd"/>
<rect x="293.0" y="1220.0" width="46.4" height="8.3" fill="#6aa2b6"/>
<rect x="293.0" y="1228.0" width="46.4" height="4.3" fill="#6ba3b7"/>
<rect x="293.0" y="1232.0" width="46.4" height="1.8" fill="#6fa5b9"/>
<rect x="293.0" y="1233.5" width="46.4" height="4.3" fill="#7eb0c1"/>
<rect x="293.0" y="1237.5" width="46.4" height="4.3" fill="#7eb0c1"/>
<rect x="293.0" y="1241.5" width="46.4" height="4.3" fill="#82b2c3"/>
<rect x="293.0" y="1245.5" width="46.4" height="10.3" fill="#81b2c2"/>
<rect x="293.0" y="1255.5" width="46.4" height="12.3" fill="#88b6c6"/>
<rect x="293.0" y="1267.5" width="46.4" height="6.3" fill="#84b4c4"/>
<rect x="293.0" y="1273.5" width="46.4" height="10.3" fill="#80b1c2"/>
<rect x="293.0" y="1283.5" width="46.4" height="6.3" fill="#7eafc1"/>
<rect x="293.0" y="1289.5" width="46.4" height="12.3" fill="#7eafc1"/>
<rect x="293.0" y="1301.5" width="46.4" height="16.3" fill="#81b2c2"/>
<rect x="293.0" y="1317.5" width="46.4" height="6.3" fill="#7dafc1"/>
<rect x="293.0" y="1323.5" width="46.4" height="6.3" fill="#80b1c2"/>
<rect x="293.0" y="1329.5" width="46.4" height="10.3" fill="#7caec0"/>
<rect x="293.0" y="1339.5" width="46.4" height="6.3" fill="#83b3c3"/>
<rect x="293.0" y="1345.5" width="46.4" height="16.3" fill="#79acbe"/>
<rect x="293.0" y="1361.5" width="46.4" height="6.3" fill="#7eb0c1"/>
<rect x="293.0" y="1367.5" width="46.4" height="6.3" fill="#82b2c3"/>
<rect x="293.0" y="1373.5" width="46.4" height="12.3" fill="#85b4c5"/>
<rect x="293.0" y="1385.5" width="46.4" height="10.3" fill="#83b3c4"/>
<rect x="293.0" y="1395.5" width="46.4" height="4.3" fill="#82b2c3"/>
<rect x="293.0" y="1399.5" width="46.4" height="24.3" fill="#7fb0c1"/>
<rect x="293.0" y="1423.5" width="46.4" height="8.3" fill="#82b2c3"/>
<rect x="293.0" y="1431.5" width="46.4" height="4.3" fill="#7eb0c1"/>
<rect x="293.0" y="1435.5" width="46.4" height="8.3" fill="#82b2c3"/>
<rect x="293.0" y="1443.5" width="46.4" height="11.3" fill="#80b1c2"/>
<rect x="293.0" y="1454.5" width="46.4" height="8.3" fill="#78abbd"/>
<rect x="293.0" y="1462.5" width="46.4" height="10.3" fill="#7baebf"/>
<rect x="293.0" y="1472.5" width="46.4" height="24.3" fill="#78abbe"/>
<rect x="293.0" y="1496.5" width="46.4" height="20.3" fill="#77abbd"/>
<rect x="293.0" y="1516.5" width="46.4" height="20.3" fill="#7aadbf"/>
<rect x="293.0" y="1536.5" width="46.4" height="12.3" fill="#77abbd"/>
<rect x="293.0" y="1548.5" width="46.4" height="8.3" fill="#79acbe"/>
<rect x="293.0" y="1556.5" width="46.4" height="16.3" fill="#79acbe"/>
<rect x="293.0" y="1572.5" width="46.4" height="8.3" fill="#78abbe"/>
<rect x="293.0" y="1580.5" width="46.4" height="20.3" fill="#7caec0"/>
<rect x="293.0" y="1600.5" width="46.4" height="12.3" fill="#79acbe"/>
<rect x="293.0" y="1612.5" width="46.4" height="20.3" fill="#80b1c2"/>
<rect x="293.0" y="1632.5" width="46.4" height="12.3" fill="#7caec0"/>
<rect x="293.0" y="1644.5" width="46.4" height="24.3" fill="#7eb0c1"/>
<rect x="293.0" y="1668.5" width="46.4" height="4.3" fill="#73a8bb"/>
<rect x="293.0" y="1672.5" width="46.4" height="4.3" fill="#79acbe"/>
<rect x="293.0" y="1676.5" width="46.4" height="2.8" fill="#7dafc0"/>
<rect x="293.0" y="1679.0" width="46.4" height="98.0" fill="#cd5f7b"/>
<rect x="293.0" y="1777.0" width="46.4" height="6.3" fill="#83b3c3"/>
<rect x="293.0" y="1783.0" width="46.4" height="24.3" fill="#7eb0c1"/>
<rect x="293.0" y="1807.0" width="46.4" height="20.3" fill="#7fb1c2"/>
<rect x="293.0" y="1827.0" width="46.4" height="4.3" fill="#83b3c4"/>
<rect x="293.0" y="1831.0" width="46.4" height="24.3" fill="#7fb0c2"/>
<rect x="293.0" y="1855.0" width="46.4" height="24.3" fill="#80b1c2"/>
<rect x="293.0" y="1879.0" width="46.4" height="16.3" fill="#7fb0c1"/>
<rect x="293.0" y="1895.0" width="46.4" height="6.3" fill="#80b1c2"/>
<rect x="293.0" y="1901.0" width="46.4" height="8.3" fill="#80b1c2"/>
<rect x="293.0" y="1909.0" width="46.4" height="10.3" fill="#80b1c2"/>
<rect x="293.0" y="1919.0" width="46.4" height="0.6" fill="#7dafc0"/>
<rect x="339.4" y="855.8" width="46.4" height="20.3" fill="#d2e1e6"/>
<rect x="339.4" y="875.8" width="46.4" height="8.3" fill="#c5dae1"/>
<rect x="339.4" y="883.8" width="46.4" height="6.3" fill="#d6e3e8"/>
<rect x="339.4" y="889.8" width="46.4" height="4.3" fill="#bbd5dd"/>
<rect x="339.4" y="893.8" width="46.4" height="11.5" fill="#c9dce3"/>
<rect x="339.4" y="905.0" width="46.4" height="7.3" fill="#e4adbc"/>
<rect x="339.4" y="912.0" width="46.4" height="2.3" fill="#81b2c3"/>
<rect x="339.4" y="914.0" width="46.4" height="6.3" fill="#80b1c2"/>
<rect x="339.4" y="920.0" width="46.4" height="3.3" fill="#8cb9c8"/>
<rect x="339.4" y="923.0" width="46.4" height="10.3" fill="#7aadbf"/>
<rect x="339.4" y="933.0" width="46.4" height="3.3" fill="#80b1c2"/>
<rect x="339.4" y="936.0" width="46.4" height="2.3" fill="#7eafc1"/>
<rect x="339.4" y="938.0" width="46.4" height="6.3" fill="#86b5c5"/>
<rect x="339.4" y="944.0" width="46.4" height="8.3" fill="#82b2c3"/>
<rect x="339.4" y="952.0" width="46.4" height="5.3" fill="#84b4c4"/>
<rect x="339.4" y="957.0" width="46.4" height="8.3" fill="#85b5c5"/>
<rect x="339.4" y="965.0" width="46.4" height="12.3" fill="#7dafc1"/>
<rect x="339.4" y="977.0" width="46.4" height="3.3" fill="#8ab8c7"/>
<rect x="339.4" y="980.0" width="46.4" height="6.3" fill="#88b6c6"/>
<rect x="339.4" y="986.0" width="46.4" height="6.3" fill="#84b4c4"/>
<rect x="339.4" y="992.0" width="46.4" height="8.3" fill="#87b6c6"/>
<rect x="339.4" y="1000.0" width="46.4" height="10.3" fill="#81b2c2"/>
<rect x="339.4" y="1010.0" width="46.4" height="6.3" fill="#7dafc0"/>
<rect x="339.4" y="1016.0" width="46.4" height="8.3" fill="#80b1c2"/>
<rect x="339.4" y="1024.0" width="46.4" height="5.3" fill="#85b4c4"/>
<rect x="339.4" y="1029.0" width="46.4" height="3.3" fill="#79acbe"/>
<rect x="339.4" y="1032.0" width="46.4" height="3.3" fill="#82b2c3"/>
<rect x="339.4" y="1035.0" width="46.4" height="2.3" fill="#7dafc0"/>
<rect x="339.4" y="1037.0" width="46.4" height="10.3" fill="#7fb0c1"/>
<rect x="339.4" y="1047.0" width="46.4" height="3.3" fill="#85b5c5"/>
<rect x="339.4" y="1050.0" width="46.4" height="12.3" fill="#7dafc0"/>
<rect x="339.4" y="1062.0" width="46.4" height="6.3" fill="#80b1c2"/>
<rect x="339.4" y="1068.0" width="46.4" height="6.3" fill="#82b3c3"/>
<rect x="339.4" y="1074.0" width="46.4" height="3.3" fill="#81b2c3"/>
<rect x="339.4" y="1077.0" width="46.4" height="12.3" fill="#8fbbca"/>
<rect x="339.4" y="1089.0" width="46.4" height="3.3" fill="#79acbe"/>
<rect x="339.4" y="1092.0" width="46.4" height="3.3" fill="#85b4c5"/>
<rect x="339.4" y="1095.0" width="46.4" height="3.3" fill="#86b5c5"/>
<rect x="339.4" y="1098.0" width="46.4" height="5.3" fill="#7caec0"/>
<rect x="339.4" y="1103.0" width="46.4" height="5.3" fill="#85b4c5"/>
<rect x="339.4" y="1108.0" width="46.4" height="10.3" fill="#7fb0c1"/>
<rect x="339.4" y="1118.0" width="46.4" height="5.3" fill="#cfdfe5"/>
<rect x="339.4" y="1123.0" width="46.4" height="8.3" fill="#7eb0c1"/>
<rect x="339.4" y="1131.0" width="46.4" height="6.3" fill="#89b7c7"/>
<rect x="339.4" y="1137.0" width="46.4" height="8.3" fill="#86b5c5"/>
<rect x="339.4" y="1145.0" width="46.4" height="3.3" fill="#78abbe"/>
<rect x="339.4" y="1148.0" width="46.4" height="4.3" fill="#7eb0c1"/>
<rect x="339.4" y="1152.0" width="46.4" height="6.3" fill="#82b3c3"/>
<rect x="339.4" y="1158.0" width="46.4" height="10.3" fill="#8bb9c8"/>
<rect x="339.4" y="1168.0" width="46.4" height="5.3" fill="#80b1c2"/>
<rect x="339.4" y="1173.0" width="46.4" height="8.3" fill="#79acbe"/>
<rect x="339.4" y="1181.0" width="46.4" height="12.3" fill="#8cb9c8"/>
<rect x="339.4" y="1193.0" width="46.4" height="12.3" fill="#8bb8c8"/>
<rect x="339.4" y="1205.0" width="46.4" height="4.3" fill="#83b3c4"/>
<rect x="339.4" y="1209.0" width="46.4" height="5.3" fill="#83b3c4"/>
<rect x="339.4" y="1214.0" width="46.4" height="8.3" fill="#80b1c2"/>
<rect x="339.4" y="1222.0" width="46.4" height="3.3" fill="#7fb0c2"/>
<rect x="339.4" y="1225.0" width="46.4" height="8.3" fill="#7fb0c1"/>
<rect x="339.4" y="1233.0" width="46.4" height="0.8" fill="#7badbf"/>
<rect x="339.4" y="1233.5" width="46.4" height="12.4" fill="#eac8d1"/>
<rect x="339.4" y="1245.6" width="46.4" height="16.3" fill="#87b6c6"/>
<rect x="339.4" y="1261.6" width="46.4" height="12.3" fill="#84b4c4"/>
<rect x="339.4" y="1273.6" width="46.4" height="6.3" fill="#80b1c2"/>
<rect x="339.4" y="1279.6" width="46.4" height="8.3" fill="#84b4c4"/>
<rect x="339.4" y="1287.6" width="46.4" height="4.3" fill="#83b3c4"/>
<rect x="339.4" y="1291.6" width="46.4" height="16.3" fill="#89b7c7"/>
<rect x="339.4" y="1307.6" width="46.4" height="6.3" fill="#85b4c5"/>
<rect x="339.4" y="1313.6" width="46.4" height="10.3" fill="#87b6c6"/>
<rect x="339.4" y="1323.6" width="46.4" height="8.3" fill="#8bb9c8"/>
<rect x="339.4" y="1331.6" width="46.4" height="16.3" fill="#81b2c2"/>
<rect x="339.4" y="1347.6" width="46.4" height="6.3" fill="#87b6c6"/>
<rect x="339.4" y="1353.6" width="46.4" height="4.3" fill="#83b3c4"/>
<rect x="339.4" y="1357.6" width="46.4" height="6.3" fill="#86b5c5"/>
<rect x="339.4" y="1363.6" width="46.4" height="6.3" fill="#84b4c4"/>
<rect x="339.4" y="1369.6" width="46.4" height="24.3" fill="#88b7c6"/>
<rect x="339.4" y="1393.6" width="46.4" height="20.3" fill="#8ab8c7"/>
<rect x="339.4" y="1413.6" width="46.4" height="6.3" fill="#89b7c7"/>
<rect x="339.4" y="1419.6" width="46.4" height="6.3" fill="#89b7c7"/>
<rect x="339.4" y="1425.6" width="46.4" height="6.3" fill="#86b5c5"/>
<rect x="339.4" y="1431.6" width="46.4" height="8.3" fill="#82b2c3"/>
<rect x="339.4" y="1439.6" width="46.4" height="16.3" fill="#85b5c5"/>
<rect x="339.4" y="1455.6" width="46.4" height="8.3" fill="#87b6c6"/>
<rect x="339.4" y="1463.6" width="46.4" height="16.3" fill="#81b2c3"/>
<rect x="339.4" y="1479.6" width="46.4" height="8.3" fill="#82b3c3"/>
<rect x="339.4" y="1487.6" width="46.4" height="8.3" fill="#87b6c6"/>
<rect x="339.4" y="1495.6" width="46.4" height="6.3" fill="#80b1c2"/>
<rect x="339.4" y="1501.6" width="46.4" height="12.3" fill="#83b3c4"/>
<rect x="339.4" y="1513.6" width="46.4" height="20.3" fill="#8ab7c7"/>
<rect x="339.4" y="1533.6" width="46.4" height="12.3" fill="#89b7c7"/>
<rect x="339.4" y="1545.6" width="46.4" height="16.3" fill="#83b3c4"/>
<rect x="339.4" y="1561.6" width="46.4" height="6.3" fill="#84b4c4"/>
<rect x="339.4" y="1567.6" width="46.4" height="10.3" fill="#8ab8c7"/>
<rect x="339.4" y="1577.6" width="46.4" height="12.3" fill="#84b3c4"/>
<rect x="339.4" y="1589.6" width="46.4" height="10.3" fill="#88b6c6"/>
<rect x="339.4" y="1599.6" width="46.4" height="16.3" fill="#88b6c6"/>
<rect x="339.4" y="1615.6" width="46.4" height="6.3" fill="#83b3c3"/>
<rect x="339.4" y="1621.6" width="46.4" height="24.3" fill="#84b4c4"/>
<rect x="339.4" y="1645.6" width="46.4" height="6.3" fill="#82b2c3"/>
<rect x="339.4" y="1651.6" width="46.4" height="12.3" fill="#85b4c4"/>
<rect x="339.4" y="1663.6" width="46.4" height="4.3" fill="#8bb9c8"/>
<rect x="339.4" y="1667.6" width="46.4" height="8.3" fill="#80b1c2"/>
<rect x="339.4" y="1675.6" width="46.4" height="24.3" fill="#82b2c3"/>
<rect x="339.4" y="1699.6" width="46.4" height="16.3" fill="#86b5c5"/>
<rect x="339.4" y="1715.6" width="46.4" height="20.3" fill="#84b4c4"/>
<rect x="339.4" y="1735.6" width="46.4" height="8.3" fill="#86b5c5"/>
<rect x="339.4" y="1743.6" width="46.4" height="10.3" fill="#86b5c5"/>
<rect x="339.4" y="1753.6" width="46.4" height="20.3" fill="#89b7c7"/>
<rect x="339.4" y="1773.6" width="46.4" height="3.7" fill="#83b3c4"/>
<rect x="339.4" y="1777.0" width="46.4" height="4.3" fill="#ebcad3"/>
<rect x="339.4" y="1781.0" width="46.4" height="138.3" fill="#cd5f7b"/>
</g>
<rect x="386.6" y="853" width="964" height="1067.8" fill="none" stroke="#111" stroke-width="2"/>
<g font-size="21.1" font-style="italic" font-family='"Liberation Sans", Arial, sans-serif'>
<text x="392" y="878" fill="#e0201c">evm.TU.Chr04.1542_ZAN</text>
<text x="392" y="903.8" fill="#e0201c">evm.TU.Chr04.1541_ZAN</text>
<text x="392" y="976.2" fill="#e0201c">evm.TU.Chr01.1403_GLBM</text>
<text x="392" y="1001.5" fill="#111">evm.TU.Chr01.647_GLB1</text>
<text x="392" y="1071.9" fill="#111">evm.TU.Chr01.237_ACTB</text>
<text x="392" y="1097.1" fill="#e0201c">evm.TU.Chr09.1134_ACT1</text>
<text x="392" y="1122.3" fill="#111">evm.TU.Chr11.255_CATC</text>
<text x="392" y="1148" fill="#e0201c">evm.TU.Chr01.235_ACTC</text>
<text x="392" y="1173.2" fill="#e0201c">evm.TU.Chr01.236_ACTB</text>
<text x="392" y="1198.9" fill="#e0201c">evm.TU.Chr04.961_ACT2</text>
<text x="392" y="1332.3" fill="#e0201c">evm.TU.Chr02.3394_NEURM</text>
<text x="392" y="1357.6" fill="#e0201c">evm.TU.Chr10.1273_7B2</text>
<text x="392" y="1382.8" fill="#111">evm.TU.Chr09.1213_NOTC3</text>
<text x="392" y="1466.3" fill="#111">evm.TU.Chr03.553_CHIT1</text>
<text x="392" y="1491.9" fill="#e0201c">evm.TU.Chr04.2499_LYS</text>
<text x="392" y="1517.2" fill="#111">evm.TU.Chr09.1379_LYS</text>
<text x="392" y="1542.8" fill="#e0201c">evm.TU.Chr03.701_CHIT1</text>
<text x="392" y="1736.1" fill="#e0201c">evm.TU.Chr02.1450_FIBC</text>
<text x="392" y="1815.5" fill="#111">evm.TU.Chr10.1483_CO6A4</text>
<text x="392" y="1841.1" fill="#e0201c">evm.TU.Chr01.933_SODC</text>
<text x="392" y="1866.4" fill="#e0201c">evm.TU.Chr10.1537_MUC19</text>
<text x="392" y="1892" fill="#111">evm.TU.Chr10.1480_CO6A4</text>
<text x="392" y="1917.2" fill="#e0201c">evm.TU.Chr04.1255_CO6A6</text>
</g>
<g font-size="21.1" font-family='"Liberation Sans", Arial, sans-serif' fill="#111">
<text transform="translate(31.9,1932.5) rotate(90)">Germ</text>
<text transform="translate(77.9,1932.5) rotate(90)">Erythrocruorin</text>
<text transform="translate(124.1,1932.5) rotate(90)">Muscle</text>
<text transform="translate(170.3,1932.5) rotate(90)">Neuron</text>
<text transform="translate(216.4,1932.5) rotate(90)">Coelomocytes</text>
<text transform="translate(262.6,1932.5) rotate(90)">Other</text>
<text transform="translate(308.8,1932.5) rotate(90)">DigestiveGland</text>
<text transform="translate(355.2,1932.5) rotate(90)">Epithelial</text>
</g>
<defs><linearGradient id="gsc" x1="0" x2="1" y1="0" y2="0"><stop offset="0" stop-color="#5e98ae"/><stop offset="0.35" stop-color="#6a9fb4"/><stop offset="0.66" stop-color="#ffffff"/><stop offset="1" stop-color="#c9617c"/></linearGradient>
<linearGradient id="gge" x1="0" x2="1" y1="0" y2="0"><stop offset="0" stop-color="#c4c0c0"/><stop offset="0.2" stop-color="#e0958a"/><stop offset="0.6" stop-color="#fb6a4a"/><stop offset="0.9" stop-color="#ff1010"/><stop offset="1" stop-color="#ff0000"/></linearGradient></defs>
<rect x="486.8" y="1976.8" width="250.6" height="34.5" fill="url(#gsc)"/>
<rect x="798.8" y="1976" width="253.2" height="34.2" fill="url(#gge)"/>
<line x1="841" y1="1976" x2="841" y2="1982" stroke="#fff" stroke-width="1.2"/><line x1="841" y1="2004" x2="841" y2="2010.2" stroke="#fff" stroke-width="1.2"/>
<line x1="883.2" y1="1976" x2="883.2" y2="1982" stroke="#fff" stroke-width="1.2"/><line x1="883.2" y1="2004" x2="883.2" y2="2010.2" stroke="#fff" stroke-width="1.2"/>
<line x1="925.4" y1="1976" x2="925.4" y2="1982" stroke="#fff" stroke-width="1.2"/><line x1="925.4" y1="2004" x2="925.4" y2="2010.2" stroke="#fff" stroke-width="1.2"/>
<line x1="967.6" y1="1976" x2="967.6" y2="1982" stroke="#fff" stroke-width="1.2"/><line x1="967.6" y1="2004" x2="967.6" y2="2010.2" stroke="#fff" stroke-width="1.2"/>
<line x1="1009.8" y1="1976" x2="1009.8" y2="1982" stroke="#fff" stroke-width="1.2"/><line x1="1009.8" y1="2004" x2="1009.8" y2="2010.2" stroke="#fff" stroke-width="1.2"/>
<g font-size="21" font-family='"Liberation Sans", Arial, sans-serif' fill="#111">
<text x="497.6" y="1959.5">Scaled expression level</text><text x="819.9" y="1959.5">Gene expression level</text>
<text x="489.9" y="2033.2">Low</text><text x="737.4" y="2033.2" text-anchor="end">High</text>
<text x="800.7" y="2033.2">Low</text><text x="1049" y="2033.2" text-anchor="end">High</text>
</g>
<defs><filter id="spk2" filterUnits="userSpaceOnUse" x="0" y="0" width="2121" height="2659" color-interpolation-filters="sRGB">
<feTurbulence type="fractalNoise" baseFrequency="0.2" numOctaves="2" seed="3" result="noise"/>
<feColorMatrix in="noise" type="matrix" values="0 0 0 0 0  0 0 0 0 0  0 0 0 0 0  7 0 0 0 -1.9" result="mask"/>
<feComposite in="SourceGraphic" in2="mask" operator="in"/>
</filter></defs>
<defs><g id="lay">
<use href="#k0"/>
<use href="#k1"/>
<use href="#k2"/>
<use href="#k3"/>
<use href="#k4"/>
<use href="#k5"/>
<use href="#k6"/>
<use href="#k7"/>
<use href="#k8"/>
<use href="#k9"/>
<use href="#k10"/>
<use href="#k11"/>
<use href="#k12"/>
<use href="#k13"/>
<use href="#k14"/>
<use href="#k15"/>
<use href="#k16"/>
<use href="#k17"/>
<use href="#k18"/>
<use href="#k19"/>
<use href="#k20"/>
<use href="#k21"/>
<use href="#k22"/>
<use href="#k23"/>
<use href="#k24"/>
<use href="#k25"/>
<use href="#k26"/>
<use href="#k27"/>
<use href="#k28"/>
<use href="#k29"/>
<use href="#k30"/>
<use href="#k31"/>
<use href="#k32"/>
<use href="#k33"/>
<use href="#k34"/>
<use href="#k35"/>
<use href="#k36"/>
<use href="#k37"/>
<use href="#k38"/>
<use href="#k39"/>
<use href="#k40"/>
<use href="#k41"/>
<use href="#k42"/>
<use href="#k43"/>
<use href="#k44"/>
<use href="#k45"/>
<use href="#k46"/>
<use href="#k47"/>
<use href="#k48"/>
<use href="#k49"/>
<use href="#k50"/>
<use href="#k51"/>
<use href="#k52"/>
<use href="#k53"/>
<use href="#k54"/>
<use href="#k55"/>
<use href="#k56"/>
<use href="#k57"/>
<use href="#k58"/>
<use href="#k59"/>
<use href="#k60"/>
<use href="#k61"/>
<use href="#k62"/>
<use href="#k63"/>
<use href="#k64"/>
<use href="#k65"/>
<use href="#k66"/>
</g></defs>
<g transform="matrix(0.282,0,0,0.282,665.1,853.4)" filter="url(#spk2)"><use href="#lay" fill="#bab5b5" stroke="#bab5b5" stroke-width="7" stroke-linejoin="round"/>
<g fill="#f42a10" stroke="#f42a10" stroke-width="7" stroke-linejoin="round"><use href="#k3"/><use href="#k4"/></g>
</g>
<text x="674.5" y="875.3" font-size="21.1" font-style="italic" font-family='"Liberation Sans", Arial, sans-serif' fill="#111">evm.TU.Chr04.1542</text>
<g transform="matrix(0.282,0,0,0.282,888.1,853.4)" filter="url(#spk2)"><use href="#lay" fill="#bab5b5" stroke="#bab5b5" stroke-width="7" stroke-linejoin="round"/>
<g fill="#f43a18" stroke="#f43a18" stroke-width="7" stroke-linejoin="round"><use href="#k3"/><use href="#k4"/><use href="#k6"/></g>
</g>
<text x="902" y="875.3" font-size="21.1" font-style="italic" font-family='"Liberation Sans", Arial, sans-serif' fill="#111">evm.TU.Chr04.1541</text>
<g transform="matrix(0.282,0,0,0.282,1107.1,853.4)" filter="url(#spk2)"><use href="#lay" fill="#bab5b5" stroke="#bab5b5" stroke-width="7" stroke-linejoin="round"/>
<g fill="#f42a10" stroke="#f42a10" stroke-width="7" stroke-linejoin="round"><use href="#k29"/></g>
</g>
<text x="1121.7" y="877.6" font-size="21.1" font-style="italic" font-family='"Liberation Sans", Arial, sans-serif' fill="#111">evm.TU.Chr01.1403</text>
<g transform="matrix(0.282,0,0,0.282,665.1,1063.2)" filter="url(#spk2)"><use href="#lay" fill="#bab5b5" stroke="#bab5b5" stroke-width="7" stroke-linejoin="round"/>
<g fill="#f43a18" stroke="#f43a18" stroke-width="7" stroke-linejoin="round"><use href="#k25"/><use href="#k32"/></g>
</g>
<text x="679" y="1089.7" font-size="21.1" font-style="italic" font-family='"Liberation Sans", Arial, sans-serif' fill="#111">evm.TU.Chr09.1134</text>
<g transform="matrix(0.282,0,0,0.282,886.1,1063.2)" filter="url(#spk2)"><use href="#lay" fill="#bab5b5" stroke="#bab5b5" stroke-width="7" stroke-linejoin="round"/>
<g fill="#f45a40" stroke="#f45a40" stroke-width="7" stroke-linejoin="round"><use href="#k2"/></g>
</g>
<text x="907.3" y="1089.7" font-size="21.1" font-style="italic" font-family='"Liberation Sans", Arial, sans-serif' fill="#111">evm.TU.Chr01.235</text>
<g transform="matrix(0.282,0,0,0.282,1120.1,1063.2)" filter="url(#spk2)"><use href="#lay" fill="#bab5b5" stroke="#bab5b5" stroke-width="7" stroke-linejoin="round"/>
<g fill="#f45a40" stroke="#f45a40" stroke-width="7" stroke-linejoin="round"><use href="#k2"/><use href="#k8"/></g>
</g>
<text x="1130.5" y="1089.7" font-size="21.1" font-style="italic" font-family='"Liberation Sans", Arial, sans-serif' fill="#111">evm.TU.Chr01.236</text>
<g transform="matrix(0.282,0,0,0.282,667.1,1280.2)" filter="url(#spk2)"><use href="#lay" fill="#bab5b5" stroke="#bab5b5" stroke-width="7" stroke-linejoin="round"/>
<g fill="#f43a18" stroke="#f43a18" stroke-width="7" stroke-linejoin="round"><use href="#k28"/></g>
</g>
<text x="682" y="1304" font-size="21.1" font-style="italic" font-family='"Liberation Sans", Arial, sans-serif' fill="#111">evm.TU.Chr04.961</text>
<g transform="matrix(0.282,0,0,0.282,895.1,1280.2)" filter="url(#spk2)"><use href="#lay" fill="#bab5b5" stroke="#bab5b5" stroke-width="7" stroke-linejoin="round"/>
</g>
<text x="916" y="1304" font-size="21.1" font-style="italic" font-family='"Liberation Sans", Arial, sans-serif' fill="#111">evm.TU.Chr02.3394</text>
<g transform="matrix(0.282,0,0,0.282,1129.1,1280.2)" filter="url(#spk2)"><use href="#lay" fill="#bab5b5" stroke="#bab5b5" stroke-width="7" stroke-linejoin="round"/>
<g fill="#f45a40" stroke="#f45a40" stroke-width="7" stroke-linejoin="round"><use href="#k5"/><use href="#k36"/><use href="#k45"/><use href="#k46"/><use href="#k19"/></g>
</g>
<text x="1139" y="1304" font-size="21.1" font-style="italic" font-family='"Liberation Sans", Arial, sans-serif' fill="#111">evm.TU.Chr10.1273</text>
<g transform="matrix(0.282,0,0,0.282,674.1,1494.5)" filter="url(#spk2)"><use href="#lay" fill="#bab5b5" stroke="#bab5b5" stroke-width="7" stroke-linejoin="round"/>
<g fill="#f5401c" stroke="#f5401c" stroke-width="7" stroke-linejoin="round"><use href="#k1"/><use href="#k51"/><use href="#k52"/><use href="#k54"/><use href="#k55"/><use href="#k56"/><use href="#k57"/><use href="#k58"/><use href="#k38"/><use href="#k39"/></g>
</g>
<text x="693" y="1516.5" font-size="21.1" font-style="italic" font-family='"Liberation Sans", Arial, sans-serif' fill="#111">evm.TU.Chr04.2499</text>
<g transform="matrix(0.282,0,0,0.282,908.1,1494.5)" filter="url(#spk2)"><use href="#lay" fill="#bab5b5" stroke="#bab5b5" stroke-width="7" stroke-linejoin="round"/>
<g fill="#f5401c" stroke="#f5401c" stroke-width="7" stroke-linejoin="round"><use href="#k1"/><use href="#k51"/><use href="#k52"/><use href="#k54"/><use href="#k55"/><use href="#k56"/><use href="#k57"/><use href="#k58"/><use href="#k38"/><use href="#k39"/></g>
</g>
<text x="916" y="1516.5" font-size="21.1" font-style="italic" font-family='"Liberation Sans", Arial, sans-serif' fill="#111">evm.TU.Chr03.701</text>
<g transform="matrix(0.282,0,0,0.282,1129.1,1494.5)" filter="url(#spk2)"><use href="#lay" fill="#bab5b5" stroke="#bab5b5" stroke-width="7" stroke-linejoin="round"/>
<g fill="#f00a0a" stroke="#f00a0a" stroke-width="7" stroke-linejoin="round"><use href="#k0"/><use href="#k11"/><use href="#k41"/><use href="#k42"/><use href="#k43"/></g>
</g>
<text x="1150.4" y="1516.5" font-size="21.1" font-style="italic" font-family='"Liberation Sans", Arial, sans-serif' fill="#111">evm.TU.Chr02.1450</text>
<g transform="matrix(0.282,0,0,0.282,680.8,1697.8)" filter="url(#spk2)"><use href="#lay" fill="#bab5b5" stroke="#bab5b5" stroke-width="7" stroke-linejoin="round"/>
<g fill="#f42a10" stroke="#f42a10" stroke-width="7" stroke-linejoin="round"><use href="#k16"/></g>
</g>
<text x="699.7" y="1719.8" font-size="21.1" font-style="italic" font-family='"Liberation Sans", Arial, sans-serif' fill="#111">evm.TU.Chr01.933</text>
<g transform="matrix(0.282,0,0,0.282,912.7,1697.8)" filter="url(#spk2)"><use href="#lay" fill="#bab5b5" stroke="#bab5b5" stroke-width="7" stroke-linejoin="round"/>
<g fill="#f42a10" stroke="#f42a10" stroke-width="7" stroke-linejoin="round"><use href="#k19"/><use href="#k18"/></g>
</g>
<text x="922.8" y="1719.8" font-size="21.1" font-style="italic" font-family='"Liberation Sans", Arial, sans-serif' fill="#111">evm.TU.Chr10.1537</text>
<g transform="matrix(0.282,0,0,0.282,1133.7,1697.8)" filter="url(#spk2)"><use href="#lay" fill="#bab5b5" stroke="#bab5b5" stroke-width="7" stroke-linejoin="round"/>
<g fill="#f45a40" stroke="#f45a40" stroke-width="7" stroke-linejoin="round"><use href="#k19"/></g>
</g>
<text x="1150.4" y="1719.8" font-size="21.1" font-style="italic" font-family='"Liberation Sans", Arial, sans-serif' fill="#111">evm.TU.Chr04.1255</text>
<text x="1382.0" y="845.2" font-size="40" text-anchor="start" font-weight="bold" font-style="normal" fill="#000" font-family='"Liberation Sans", Arial, sans-serif' >c</text>
<text x="1444.6" y="858.2" font-size="25.8" text-anchor="start" font-weight="normal" font-style="normal" fill="#111" font-family='"Liberation Sans", Arial, sans-serif' >Number of subclusters</text>
<g fill="#555555">
<rect x="1651.4" y="942.9" width="72.4" height="15.5"/>
<rect x="1633.3" y="960.8" width="90.5" height="15.5"/>
<rect x="1560.9" y="978.6" width="162.9" height="15.5"/>
<rect x="1669.5" y="996.5" width="54.3" height="15.5"/>
<rect x="1524.7" y="1014.4" width="199.1" height="15.5"/>
<rect x="1560.9" y="1032.3" width="162.9" height="15.5"/>
<rect x="1615.2" y="1050.1" width="108.6" height="15.5"/>
<rect x="1542.8" y="1068.0" width="181.0" height="15.5"/>
<rect x="1524.7" y="1085.9" width="199.1" height="15.5"/>
<rect x="1434.2" y="1121.6" width="289.6" height="15.5"/>
<rect x="1579.0" y="1139.5" width="144.8" height="15.5"/>
<rect x="1597.1" y="1157.4" width="126.7" height="15.5"/>
<rect x="1470.4" y="1175.3" width="253.4" height="15.5"/>
<rect x="1597.1" y="1193.1" width="126.7" height="15.5"/>
<rect x="1506.6" y="1228.9" width="217.2" height="15.5"/>
<rect x="1560.9" y="1264.6" width="162.9" height="15.5"/>
<rect x="1524.7" y="1282.5" width="199.1" height="15.5"/>
<rect x="1470.4" y="1300.4" width="253.4" height="15.5"/>
<rect x="1542.8" y="1318.3" width="181.0" height="15.5"/>
<rect x="1633.3" y="1336.1" width="90.5" height="15.5"/>
<rect x="1506.6" y="1354.0" width="217.2" height="15.5"/>
<rect x="1633.3" y="1371.9" width="90.5" height="15.5"/>
<rect x="1597.1" y="1389.8" width="126.7" height="15.5"/>
<rect x="1488.5" y="1407.6" width="235.3" height="15.5"/>
<rect x="1615.2" y="1425.5" width="108.6" height="15.5"/>
<rect x="1597.1" y="1443.4" width="126.7" height="15.5"/>
<rect x="1542.8" y="1461.3" width="181.0" height="15.5"/>
<rect x="1434.2" y="1479.1" width="289.6" height="15.5"/>
<rect x="1434.2" y="1497.0" width="289.6" height="15.5"/>
<rect x="1615.2" y="1514.9" width="108.6" height="15.5"/>
<rect x="1524.7" y="1532.8" width="199.1" height="15.5"/>
<rect x="1579.0" y="1550.6" width="144.8" height="15.5"/>
<rect x="1615.2" y="1568.5" width="108.6" height="15.5"/>
<rect x="1506.6" y="1586.4" width="217.2" height="15.5"/>
<rect x="1506.6" y="1604.3" width="217.2" height="15.5"/>
<rect x="1669.5" y="1622.1" width="54.3" height="15.5"/>
<rect x="1506.6" y="1640.0" width="217.2" height="15.5"/>
<rect x="1488.5" y="1657.9" width="235.3" height="15.5"/>
<rect x="1669.5" y="1675.8" width="54.3" height="15.5"/>
<rect x="1597.1" y="1693.6" width="126.7" height="15.5"/>
<rect x="1651.4" y="1711.5" width="72.4" height="15.5"/>
<rect x="1615.2" y="1729.4" width="108.6" height="15.5"/>
<rect x="1597.1" y="1747.3" width="126.7" height="15.5"/>
<rect x="1524.7" y="1765.1" width="199.1" height="15.5"/>
<rect x="1579.0" y="1783.0" width="144.8" height="15.5"/>
<rect x="1579.0" y="1800.9" width="144.8" height="15.5"/>
<rect x="1651.4" y="1836.6" width="72.4" height="15.5"/>
<rect x="1633.3" y="1854.5" width="90.5" height="15.5"/>
<rect x="1669.5" y="1872.4" width="54.3" height="15.5"/>
<rect x="1506.6" y="1926.0" width="217.2" height="15.5"/>
<rect x="1615.2" y="1961.8" width="108.6" height="15.5"/>
<rect x="1633.3" y="1979.6" width="90.5" height="15.5"/>
<rect x="1615.2" y="1997.5" width="108.6" height="15.5"/>
<rect x="1597.1" y="2015.4" width="126.7" height="15.5"/>
<rect x="1651.4" y="2033.3" width="72.4" height="15.5"/>
</g>
<g stroke="#111" stroke-width="1.6" fill="none">
<line x1="1426" y1="918.9" x2="1739" y2="918.9"/>
<line x1="1738.5" y1="918.1" x2="1738.5" y2="2050.6"/>
<line x1="1458" y1="912" x2="1458" y2="925.5"/>
<line x1="1546.7" y1="903.4" x2="1546.7" y2="918.9"/>
<line x1="1635.5" y1="903.4" x2="1635.5" y2="918.9"/>
<line x1="1723.8" y1="903.4" x2="1723.8" y2="918.9"/>
<line x1="1738.5" y1="950.6" x2="1744.5" y2="950.6"/>
<line x1="1738.5" y1="968.5" x2="1744.5" y2="968.5"/>
<line x1="1738.5" y1="986.4" x2="1744.5" y2="986.4"/>
<line x1="1738.5" y1="1004.2" x2="1744.5" y2="1004.2"/>
<line x1="1738.5" y1="1022.1" x2="1744.5" y2="1022.1"/>
<line x1="1738.5" y1="1040.0" x2="1744.5" y2="1040.0"/>
<line x1="1738.5" y1="1057.8" x2="1744.5" y2="1057.8"/>
<line x1="1738.5" y1="1075.7" x2="1744.5" y2="1075.7"/>
<line x1="1738.5" y1="1093.6" x2="1744.5" y2="1093.6"/>
<line x1="1738.5" y1="1111.5" x2="1744.5" y2="1111.5"/>
<line x1="1738.5" y1="1129.3" x2="1744.5" y2="1129.3"/>
<line x1="1738.5" y1="1147.2" x2="1744.5" y2="1147.2"/>
<line x1="1738.5" y1="1165.1" x2="1744.5" y2="1165.1"/>
<line x1="1738.5" y1="1183.0" x2="1744.5" y2="1183.0"/>
<line x1="1738.5" y1="1200.8" x2="1744.5" y2="1200.8"/>
<line x1="1738.5" y1="1218.7" x2="1744.5" y2="1218.7"/>
<line x1="1738.5" y1="1236.6" x2="1744.5" y2="1236.6"/>
<line x1="1738.5" y1="1254.5" x2="1744.5" y2="1254.5"/>
<line x1="1738.5" y1="1272.3" x2="1744.5" y2="1272.3"/>
<line x1="1738.5" y1="1290.2" x2="1744.5" y2="1290.2"/>
<line x1="1738.5" y1="1308.1" x2="1744.5" y2="1308.1"/>
<line x1="1738.5" y1="1326.0" x2="1744.5" y2="1326.0"/>
<line x1="1738.5" y1="1343.8" x2="1744.5" y2="1343.8"/>
<line x1="1738.5" y1="1361.7" x2="1744.5" y2="1361.7"/>
<line x1="1738.5" y1="1379.6" x2="1744.5" y2="1379.6"/>
<line x1="1738.5" y1="1397.5" x2="1744.5" y2="1397.5"/>
<line x1="1738.5" y1="1415.3" x2="1744.5" y2="1415.3"/>
<line x1="1738.5" y1="1433.2" x2="1744.5" y2="1433.2"/>
<line x1="1738.5" y1="1451.1" x2="1744.5" y2="1451.1"/>
<line x1="1738.5" y1="1469.0" x2="1744.5" y2="1469.0"/>
<line x1="1738.5" y1="1486.8" x2="1744.5" y2="1486.8"/>
<line x1="1738.5" y1="1504.7" x2="1744.5" y2="1504.7"/>
<line x1="1738.5" y1="1522.6" x2="1744.5" y2="1522.6"/>
<line x1="1738.5" y1="1540.5" x2="1744.5" y2="1540.5"/>
<line x1="1738.5" y1="1558.3" x2="1744.5" y2="1558.3"/>
<line x1="1738.5" y1="1576.2" x2="1744.5" y2="1576.2"/>
<line x1="1738.5" y1="1594.1" x2="1744.5" y2="1594.1"/>
<line x1="1738.5" y1="1612.0" x2="1744.5" y2="1612.0"/>
<line x1="1738.5" y1="1629.8" x2="1744.5" y2="1629.8"/>
<line x1="1738.5" y1="1647.7" x2="1744.5" y2="1647.7"/>
<line x1="1738.5" y1="1665.6" x2="1744.5" y2="1665.6"/>
<line x1="1738.5" y1="1683.5" x2="1744.5" y2="1683.5"/>
<line x1="1738.5" y1="1701.3" x2="1744.5" y2="1701.3"/>
<line x1="1738.5" y1="1719.2" x2="1744.5" y2="1719.2"/>
<line x1="1738.5" y1="1737.1" x2="1744.5" y2="1737.1"/>
<line x1="1738.5" y1="1755.0" x2="1744.5" y2="1755.0"/>
<line x1="1738.5" y1="1772.8" x2="1744.5" y2="1772.8"/>
<line x1="1738.5" y1="1790.7" x2="1744.5" y2="1790.7"/>
<line x1="1738.5" y1="1808.6" x2="1744.5" y2="1808.6"/>
<line x1="1738.5" y1="1826.5" x2="1744.5" y2="1826.5"/>
<line x1="1738.5" y1="1844.3" x2="1744.5" y2="1844.3"/>
<line x1="1738.5" y1="1862.2" x2="1744.5" y2="1862.2"/>
<line x1="1738.5" y1="1880.1" x2="1744.5" y2="1880.1"/>
<line x1="1738.5" y1="1898.0" x2="1744.5" y2="1898.0"/>
<line x1="1738.5" y1="1915.8" x2="1744.5" y2="1915.8"/>
<line x1="1738.5" y1="1933.7" x2="1744.5" y2="1933.7"/>
<line x1="1738.5" y1="1951.6" x2="1744.5" y2="1951.6"/>
<line x1="1738.5" y1="1969.5" x2="1744.5" y2="1969.5"/>
<line x1="1738.5" y1="1987.3" x2="1744.5" y2="1987.3"/>
<line x1="1738.5" y1="2005.2" x2="1744.5" y2="2005.2"/>
<line x1="1738.5" y1="2023.1" x2="1744.5" y2="2023.1"/>
<line x1="1738.5" y1="2041.0" x2="1744.5" y2="2041.0"/>
</g>
<g font-size="23.5" font-family='"Liberation Sans", Arial, sans-serif' fill="#111" text-anchor="middle">
<text x="1458" y="903.4">15</text><text x="1541.6" y="896.5">10</text><text x="1634.2" y="896.5">5</text><text x="1722.5" y="896.5">0</text>
<text x="1820.3" y="897">0.0</text><text x="1897" y="897">0.4</text><text x="1974.6" y="897">0.8</text>
</g>
<g stroke="#111" stroke-width="1.6" fill="none">
<line x1="1822.5" y1="918.9" x2="1976.7" y2="918.9"/>
<line x1="1822.5" y1="903.4" x2="1822.5" y2="919.5"/>
<line x1="1861.2" y1="903.4" x2="1861.2" y2="919.5"/>
<line x1="1899.6" y1="903.4" x2="1899.6" y2="919.5"/>
<line x1="1938.4" y1="903.4" x2="1938.4" y2="919.5"/>
<line x1="1976.7" y1="903.4" x2="1976.7" y2="919.5"/>
</g>
<g font-size="19.5" font-family='"Liberation Sans", Arial, sans-serif' fill="#111" text-anchor="end">
<text x="1801.3" y="957.6">28</text>
<text x="1801.3" y="975.5">40</text>
<text x="1801.3" y="993.4">12</text>
<text x="1801.3" y="1011.2">49</text>
<text x="1801.3" y="1029.1">4</text>
<text x="1801.3" y="1047.0">15</text>
<text x="1801.3" y="1064.8">16</text>
<text x="1801.3" y="1082.7">1</text>
<text x="1801.3" y="1100.6">3</text>
<text x="1801.3" y="1118.5">55</text>
<text x="1801.3" y="1136.3">7</text>
<text x="1801.3" y="1154.2">23</text>
<text x="1801.3" y="1172.1">29</text>
<text x="1801.3" y="1190.0">0</text>
<text x="1801.3" y="1207.8">26</text>
<text x="1801.3" y="1225.7">61</text>
<text x="1801.3" y="1243.6">8</text>
<text x="1801.3" y="1261.5">57</text>
<text x="1801.3" y="1279.3">13</text>
<text x="1801.3" y="1297.2">10</text>
<text x="1801.3" y="1315.1">5</text>
<text x="1801.3" y="1333.0">20</text>
<text x="1801.3" y="1350.8">50</text>
<text x="1801.3" y="1368.7">18</text>
<text x="1801.3" y="1386.6">47</text>
<text x="1801.3" y="1404.5">35</text>
<text x="1801.3" y="1422.3">22</text>
<text x="1801.3" y="1440.2">33</text>
<text x="1801.3" y="1458.1">37</text>
<text x="1801.3" y="1476.0">17</text>
<text x="1801.3" y="1493.8">2</text>
<text x="1801.3" y="1511.7">11</text>
<text x="1801.3" y="1529.6">39</text>
<text x="1801.3" y="1547.5">25</text>
<text x="1801.3" y="1565.3">34</text>
<text x="1801.3" y="1583.2">41</text>
<text x="1801.3" y="1601.1">9</text>
<text x="1801.3" y="1619.0">19</text>
<text x="1801.3" y="1636.8">51</text>
<text x="1801.3" y="1654.7">14</text>
<text x="1801.3" y="1672.6">6</text>
<text x="1801.3" y="1690.5">53</text>
<text x="1801.3" y="1708.3">44</text>
<text x="1801.3" y="1726.2">52</text>
<text x="1801.3" y="1744.1">45</text>
<text x="1801.3" y="1762.0">32</text>
<text x="1801.3" y="1779.8">24</text>
<text x="1801.3" y="1797.7">27</text>
<text x="1801.3" y="1815.6">30</text>
<text x="1801.3" y="1833.5">58</text>
<text x="1801.3" y="1851.3">48</text>
<text x="1801.3" y="1869.2">46</text>
<text x="1801.3" y="1887.1">54</text>
<text x="1801.3" y="1905.0">59</text>
<text x="1801.3" y="1922.8">60</text>
<text x="1801.3" y="1940.7">21</text>
<text x="1801.3" y="1958.6">56</text>
<text x="1801.3" y="1976.5">36</text>
<text x="1801.3" y="1994.3">42</text>
<text x="1801.3" y="2012.2">38</text>
<text x="1801.3" y="2030.1">31</text>
<text x="1801.3" y="2048.0">43</text>
</g><g fill="#000">
<circle cx="1817.1" cy="950.6" r="4.9"/>
<circle cx="1817.1" cy="968.5" r="4.9"/>
<circle cx="1817.1" cy="986.4" r="4.9"/>
<circle cx="1817.1" cy="1004.2" r="4.9"/>
<circle cx="1817.1" cy="1022.1" r="4.9"/>
<circle cx="1817.1" cy="1040.0" r="4.9"/>
<circle cx="1817.1" cy="1057.8" r="4.9"/>
<circle cx="1817.1" cy="1075.7" r="4.9"/>
<circle cx="1817.1" cy="1093.6" r="4.9"/>
<circle cx="1817.1" cy="1111.5" r="4.9"/>
<circle cx="1817.1" cy="1129.3" r="4.9"/>
<circle cx="1817.1" cy="1147.2" r="4.9"/>
<circle cx="1817.1" cy="1165.1" r="4.9"/>
<circle cx="1817.1" cy="1183.0" r="4.9"/>
<circle cx="1817.1" cy="1200.8" r="4.9"/>
<circle cx="1817.1" cy="1218.7" r="4.9"/>
<circle cx="1817.1" cy="1236.6" r="4.9"/>
<circle cx="1817.1" cy="1254.5" r="4.9"/>
<circle cx="1817.1" cy="1272.3" r="4.9"/>
<circle cx="1817.1" cy="1290.2" r="4.9"/>
<circle cx="1817.1" cy="1308.1" r="4.9"/>
<circle cx="1817.1" cy="1326.0" r="4.9"/>
<circle cx="1817.1" cy="1343.8" r="4.9"/>
<circle cx="1817.1" cy="1361.7" r="4.9"/>
<circle cx="1817.1" cy="1379.6" r="4.9"/>
<circle cx="1817.1" cy="1397.5" r="4.9"/>
<circle cx="1817.1" cy="1415.3" r="4.9"/>
<circle cx="1817.1" cy="1433.2" r="4.9"/>
<circle cx="1817.1" cy="1451.1" r="4.9"/>
<circle cx="1817.1" cy="1469.0" r="4.9"/>
<circle cx="1817.1" cy="1486.8" r="4.9"/>
<circle cx="1817.1" cy="1504.7" r="4.9"/>
<circle cx="1817.1" cy="1522.6" r="4.9"/>
<circle cx="1817.1" cy="1540.5" r="4.9"/>
<circle cx="1817.1" cy="1558.3" r="4.9"/>
<circle cx="1817.1" cy="1576.2" r="4.9"/>
<circle cx="1817.1" cy="1594.1" r="4.9"/>
<circle cx="1817.1" cy="1612.0" r="4.9"/>
<circle cx="1817.1" cy="1629.8" r="4.9"/>
<circle cx="1817.1" cy="1647.7" r="4.9"/>
<circle cx="1817.1" cy="1665.6" r="4.9"/>
<circle cx="1817.1" cy="1683.5" r="4.9"/>
<circle cx="1817.1" cy="1701.3" r="4.9"/>
<circle cx="1817.1" cy="1719.2" r="4.9"/>
<circle cx="1817.1" cy="1737.1" r="4.9"/>
<circle cx="1817.1" cy="1755.0" r="4.9"/>
<circle cx="1817.1" cy="1772.8" r="4.9"/>
<circle cx="1817.1" cy="1790.7" r="4.9"/>
<circle cx="1817.1" cy="1808.6" r="4.9"/>
<circle cx="1817.1" cy="1826.5" r="4.9"/>
<circle cx="1817.1" cy="1844.3" r="4.9"/>
<circle cx="1817.1" cy="1862.2" r="4.9"/>
<circle cx="1817.1" cy="1880.1" r="4.9"/>
<circle cx="1817.1" cy="1898.0" r="4.9"/>
<circle cx="1817.1" cy="1915.8" r="4.9"/>
<circle cx="1817.1" cy="1933.7" r="4.9"/>
<circle cx="1817.1" cy="1951.6" r="4.9"/>
<circle cx="1817.1" cy="1969.5" r="4.9"/>
<circle cx="1817.1" cy="1987.3" r="4.9"/>
<circle cx="1817.1" cy="2005.2" r="4.9"/>
<circle cx="1817.1" cy="2023.1" r="4.9"/>
<circle cx="1817.1" cy="2041.0" r="4.9"/>
</g>
<path d="M1817.1,1040.0L1831.0,1040.0M1817.1,1057.8L1831.0,1057.8M1831.0,1040.0L1831.0,1057.8M1817.1,1075.7L1834.0,1075.7M1817.1,1093.6L1834.0,1093.6M1834.0,1075.7L1834.0,1093.6M1831.0,1048.9L1838.3,1048.9M1834.0,1084.7L1838.3,1084.7M1838.3,1048.9L1838.3,1084.7M1817.1,1022.1L1843.3,1022.1M1838.3,1066.8L1843.3,1066.8M1843.3,1022.1L1843.3,1066.8M1817.1,1004.2L1851.5,1004.2M1843.3,1044.4L1851.5,1044.4M1851.5,1004.2L1851.5,1044.4M1817.1,986.4L1855.0,986.4M1851.5,1024.3L1855.0,1024.3M1855.0,986.4L1855.0,1024.3M1817.1,1111.5L1856.3,1111.5M1817.1,1129.3L1856.3,1129.3M1856.3,1111.5L1856.3,1129.3M1855.0,1005.3L1859.5,1005.3M1856.3,1120.4L1859.5,1120.4M1859.5,1005.3L1859.5,1120.4M1817.1,968.5L1860.8,968.5M1859.5,1062.9L1860.8,1062.9M1860.8,968.5L1860.8,1062.9M1817.1,950.6L1866.5,950.6M1860.8,1015.7L1866.5,1015.7M1866.5,950.6L1866.5,1015.7M1866.5,983.1L1984.6,983.1M1984.6,983.1L1984.6,1170.0" stroke="#d4487a" stroke-width="1.5" fill="none"/>
<path d="M1817.1,1290.2L1829.6,1290.2M1817.1,1308.1L1829.6,1308.1M1829.6,1290.2L1829.6,1308.1M1817.1,1272.3L1836.5,1272.3M1829.6,1299.2L1836.5,1299.2M1836.5,1272.3L1836.5,1299.2M1817.1,1254.5L1841.1,1254.5M1836.5,1285.8L1841.1,1285.8M1841.1,1254.5L1841.1,1285.8M1817.1,1218.7L1833.0,1218.7M1817.1,1236.6L1833.0,1236.6M1833.0,1218.7L1833.0,1236.6M1833.0,1227.7L1842.8,1227.7M1841.1,1270.1L1842.8,1270.1M1842.8,1227.7L1842.8,1270.1M1817.1,1183.0L1839.8,1183.0M1817.1,1200.8L1839.8,1200.8M1839.8,1183.0L1839.8,1200.8M1839.8,1191.9L1850.2,1191.9M1842.8,1248.9L1850.2,1248.9M1850.2,1191.9L1850.2,1248.9M1817.1,1165.1L1862.8,1165.1M1850.2,1220.4L1862.8,1220.4M1862.8,1165.1L1862.8,1220.4M1817.1,1147.2L1879.4,1147.2M1862.8,1192.8L1879.4,1192.8M1879.4,1147.2L1879.4,1192.8M1879.4,1170.0L1952.7,1170.0M1952.7,1170.0L1952.7,1359.3" stroke="#a8942c" stroke-width="1.5" fill="none"/>
<path d="M1817.1,1326.0L1839.6,1326.0M1817.1,1343.8L1839.6,1343.8M1839.6,1326.0L1839.6,1343.8M1817.1,1361.7L1853.3,1361.7M1817.1,1379.6L1853.3,1379.6M1853.3,1361.7L1853.3,1379.6M1839.6,1334.9L1874.0,1334.9M1853.3,1370.7L1874.0,1370.7M1874.0,1334.9L1874.0,1370.7M1874.0,1352.8L1927.6,1352.8M1927.6,1352.8L1927.6,1547.5" stroke="#2f9e49" stroke-width="1.5" fill="none"/>
<path d="M1817.1,1469.0L1825.0,1469.0M1817.1,1486.8L1825.0,1486.8M1825.0,1469.0L1825.0,1486.8M1817.1,1451.1L1831.9,1451.1M1825.0,1477.9L1831.9,1477.9M1831.9,1451.1L1831.9,1477.9M1817.1,1433.2L1840.3,1433.2M1831.9,1464.5L1840.3,1464.5M1840.3,1433.2L1840.3,1464.5M1817.1,1415.3L1845.0,1415.3M1840.3,1448.9L1845.0,1448.9M1845.0,1415.3L1845.0,1448.9M1817.1,1504.7L1838.0,1504.7M1817.1,1522.6L1838.0,1522.6M1838.0,1504.7L1838.0,1522.6M1817.1,1576.2L1835.0,1576.2M1817.1,1594.1L1835.0,1594.1M1835.0,1576.2L1835.0,1594.1M1817.1,1558.3L1839.9,1558.3M1835.0,1585.2L1839.9,1585.2M1839.9,1558.3L1839.9,1585.2M1817.1,1540.5L1845.4,1540.5M1839.9,1571.8L1845.4,1571.8M1845.4,1540.5L1845.4,1571.8M1838.0,1513.7L1852.3,1513.7M1845.4,1556.1L1852.3,1556.1M1852.3,1513.7L1852.3,1556.1M1845.0,1432.1L1864.8,1432.1M1852.3,1534.9L1864.8,1534.9M1864.8,1432.1L1864.8,1534.9M1817.1,1397.5L1871.0,1397.5M1864.8,1483.5L1871.0,1483.5M1871.0,1397.5L1871.0,1483.5M1817.1,1647.7L1820.4,1647.7M1817.1,1665.6L1820.4,1665.6M1820.4,1647.7L1820.4,1665.6M1817.1,1629.8L1824.3,1629.8M1820.4,1656.7L1824.3,1656.7M1824.3,1629.8L1824.3,1656.7M1817.1,1612.0L1831.2,1612.0M1824.3,1643.3L1831.2,1643.3M1831.2,1612.0L1831.2,1643.3M1817.1,1701.3L1834.5,1701.3M1817.1,1719.2L1834.5,1719.2M1834.5,1701.3L1834.5,1719.2M1817.1,1772.8L1818.0,1772.8M1817.1,1790.7L1818.0,1790.7M1818.0,1772.8L1818.0,1790.7M1817.1,1755.0L1829.6,1755.0M1818.0,1781.8L1829.6,1781.8M1829.6,1755.0L1829.6,1781.8M1817.1,1808.6L1831.2,1808.6M1817.1,1826.5L1831.2,1826.5M1831.2,1808.6L1831.2,1826.5M1829.6,1768.4L1834.0,1768.4M1831.2,1817.5L1834.0,1817.5M1834.0,1768.4L1834.0,1817.5M1817.1,1737.1L1836.5,1737.1M1834.0,1793.0L1836.5,1793.0M1836.5,1737.1L1836.5,1793.0M1834.5,1710.3L1846.5,1710.3M1836.5,1765.0L1846.5,1765.0M1846.5,1710.3L1846.5,1765.0M1817.1,1683.5L1875.0,1683.5M1846.5,1737.7L1875.0,1737.7M1875.0,1683.5L1875.0,1737.7M1831.2,1627.6L1880.9,1627.6M1875.0,1710.6L1880.9,1710.6M1880.9,1627.6L1880.9,1710.6M1871.0,1440.5L1890.4,1440.5M1880.9,1669.1L1890.4,1669.1M1890.4,1440.5L1890.4,1669.1M1890.4,1554.8L1902.2,1554.8M1890.5,1923.4L1902.2,1923.4M1902.2,1554.8L1902.2,1923.4" stroke="#2a93b8" stroke-width="1.5" fill="none"/>
<path d="M1817.1,1862.2L1830.2,1862.2M1817.1,1880.1L1830.2,1880.1M1830.2,1862.2L1830.2,1880.1M1817.1,1844.3L1838.9,1844.3M1830.2,1871.2L1838.9,1871.2M1838.9,1844.3L1838.9,1871.2M1817.1,1898.0L1855.2,1898.0M1817.1,1915.8L1855.2,1915.8M1855.2,1898.0L1855.2,1915.8M1838.9,1857.8L1857.4,1857.8M1855.2,1906.9L1857.4,1906.9M1857.4,1857.8L1857.4,1906.9M1817.1,2023.1L1819.5,2023.1M1817.1,2041.0L1819.5,2041.0M1819.5,2023.1L1819.5,2041.0M1817.1,2005.2L1843.2,2005.2M1819.5,2032.0L1843.2,2032.0M1843.2,2005.2L1843.2,2032.0M1817.1,1987.3L1850.9,1987.3M1843.2,2018.6L1850.9,2018.6M1850.9,1987.3L1850.9,2018.6M1817.1,1969.5L1866.9,1969.5M1850.9,2003.0L1866.9,2003.0M1866.9,1969.5L1866.9,2003.0M1817.1,1933.7L1859.5,1933.7M1817.1,1951.6L1859.5,1951.6M1859.5,1933.7L1859.5,1951.6M1859.5,1942.7L1873.3,1942.7M1866.9,1986.2L1873.3,1986.2M1873.3,1942.7L1873.3,1986.2M1857.4,1882.3L1890.5,1882.3M1873.3,1964.4L1890.5,1964.4M1890.5,1882.3L1890.5,1964.4" stroke="#a86bd0" stroke-width="1.5" fill="none"/>
<path d="M1984.6,1170.0L1984.6,1359.3M1952.7,1359.3L1984.6,1359.3M1952.7,1359.3L1952.7,1547.5M1927.6,1547.5L1952.7,1547.5M1927.6,1547.5L1927.6,1739.1M1902.2,1739.1L1927.6,1739.1" stroke="#111" stroke-width="1.5" fill="none"/>
<rect x="1870.3" y="992" width="195.7" height="51" fill="#cccccc" fill-opacity="0.95"/>
<text x="1874.6" y="1026.2" font-size="22" font-family='"Liberation Sans", Arial, sans-serif' fill="#111">Digestive gland cell</text>
<rect x="1879" y="1176" width="164.5" height="50.5" fill="#cccccc" fill-opacity="0.95"/>
<text x="1894" y="1210.6" font-size="22" font-family='"Liberation Sans", Arial, sans-serif' fill="#111">Coelomocytes</text>
<rect x="1868.6" y="1388.4" width="92.6" height="50.5" fill="#cccccc" fill-opacity="0.95"/>
<text x="1886" y="1421.3" font-size="22" font-family='"Liberation Sans", Arial, sans-serif' fill="#111">Muscle</text>
<rect x="1842.6" y="1592.8" width="72.7" height="50.5" fill="#cccccc" fill-opacity="0.95"/>
<text x="1847.2" y="1626" font-size="22" font-family='"Liberation Sans", Arial, sans-serif' fill="#111">Germ</text>
<rect x="1855.2" y="1700.4" width="96.8" height="50.8" fill="#cccccc" fill-opacity="0.95"/>
<text x="1859.5" y="1733.6" font-size="22" font-family='"Liberation Sans", Arial, sans-serif' fill="#111">Neuron</text>
<rect x="1880.6" y="1900.6" width="103.4" height="50.9" fill="#cccccc" fill-opacity="0.95"/>
<text x="1885.4" y="1934.3" font-size="22" font-family='"Liberation Sans", Arial, sans-serif' fill="#111">Epithelial</text>
<text x="25.0" y="2129.6" font-size="40" text-anchor="start" font-weight="bold" font-style="normal" fill="#000" font-family='"Liberation Sans", Arial, sans-serif' >d</text>
<text x="255.8" y="2129.2" font-size="33.6" text-anchor="start" font-weight="normal" font-style="normal" fill="#111" font-family='"Liberation Sans", Arial, sans-serif' >C24: Neuron</text>
<g>
<g fill="#e41a1c"><circle cx="145.5" cy="2450.6" r="4.1"/><circle cx="192.3" cy="2438.1" r="4.1"/><circle cx="175.8" cy="2484.9" r="4.1"/><circle cx="107.4" cy="2507.5" r="4.1"/><circle cx="189.0" cy="2577.7" r="4.1"/><circle cx="181.7" cy="2489.8" r="4.1"/><circle cx="222.1" cy="2472.7" r="4.1"/><circle cx="125.0" cy="2519.3" r="4.1"/><circle cx="190.6" cy="2485.9" r="4.1"/><circle cx="177.5" cy="2436.5" r="4.1"/><circle cx="196.5" cy="2494.7" r="4.1"/><circle cx="144.1" cy="2519.9" r="4.1"/><circle cx="164.0" cy="2474.3" r="4.1"/><circle cx="212.9" cy="2538.0" r="4.1"/><circle cx="134.0" cy="2518.2" r="4.1"/><circle cx="174.3" cy="2566.1" r="4.1"/><circle cx="203.6" cy="2472.4" r="4.1"/><circle cx="159.0" cy="2547.3" r="4.1"/><circle cx="120.8" cy="2504.5" r="4.1"/><circle cx="208.6" cy="2517.9" r="4.1"/><circle cx="224.5" cy="2476.6" r="4.1"/><circle cx="198.7" cy="2521.3" r="4.1"/><circle cx="182.1" cy="2499.3" r="4.1"/><circle cx="167.0" cy="2532.5" r="4.1"/><circle cx="216.8" cy="2471.9" r="4.1"/><circle cx="154.3" cy="2533.2" r="4.1"/><circle cx="110.6" cy="2498.2" r="4.1"/><circle cx="177.8" cy="2567.4" r="4.1"/><circle cx="139.0" cy="2492.8" r="4.1"/><circle cx="132.5" cy="2503.9" r="4.1"/><circle cx="183.5" cy="2468.4" r="4.1"/><circle cx="152.0" cy="2516.9" r="4.1"/><circle cx="235.6" cy="2536.7" r="4.1"/><circle cx="172.9" cy="2525.0" r="4.1"/><circle cx="195.9" cy="2435.1" r="4.1"/><circle cx="155.3" cy="2490.2" r="4.1"/><circle cx="113.9" cy="2527.7" r="4.1"/><circle cx="113.6" cy="2484.5" r="4.1"/><circle cx="187.0" cy="2450.2" r="4.1"/><circle cx="135.2" cy="2481.9" r="4.1"/><circle cx="151.2" cy="2446.1" r="4.1"/><circle cx="165.8" cy="2503.7" r="4.1"/><circle cx="148.2" cy="2468.7" r="4.1"/><circle cx="217.8" cy="2452.3" r="4.1"/><circle cx="174.7" cy="2449.9" r="4.1"/><circle cx="176.9" cy="2430.8" r="4.1"/><circle cx="222.7" cy="2537.6" r="4.1"/><circle cx="136.5" cy="2485.0" r="4.1"/><circle cx="175.4" cy="2550.8" r="4.1"/><circle cx="146.3" cy="2462.1" r="4.1"/><circle cx="216.3" cy="2544.5" r="4.1"/><circle cx="131.6" cy="2509.1" r="4.1"/><circle cx="136.2" cy="2537.0" r="4.1"/><circle cx="236.1" cy="2497.9" r="4.1"/><circle cx="188.5" cy="2570.1" r="4.1"/><circle cx="219.5" cy="2503.0" r="4.1"/><circle cx="192.6" cy="2554.1" r="4.1"/><circle cx="206.5" cy="2502.8" r="4.1"/><circle cx="202.9" cy="2453.6" r="4.1"/><circle cx="239.5" cy="2531.4" r="4.1"/><circle cx="149.3" cy="2514.0" r="4.1"/><circle cx="238.2" cy="2530.2" r="4.1"/><circle cx="217.4" cy="2460.2" r="4.1"/><circle cx="135.1" cy="2473.3" r="4.1"/><circle cx="133.5" cy="2520.1" r="4.1"/><circle cx="136.2" cy="2493.4" r="4.1"/><circle cx="149.8" cy="2499.6" r="4.1"/><circle cx="182.6" cy="2570.8" r="4.1"/><circle cx="170.9" cy="2511.4" r="4.1"/><circle cx="174.1" cy="2429.5" r="4.1"/><circle cx="162.1" cy="2455.7" r="4.1"/><circle cx="123.8" cy="2502.1" r="4.1"/><circle cx="203.0" cy="2515.3" r="4.1"/><circle cx="145.8" cy="2509.2" r="4.1"/><circle cx="178.6" cy="2551.6" r="4.1"/><circle cx="114.3" cy="2515.9" r="4.1"/><circle cx="134.7" cy="2470.7" r="4.1"/><circle cx="209.7" cy="2507.5" r="4.1"/><circle cx="179.5" cy="2547.8" r="4.1"/><circle cx="229.8" cy="2497.2" r="4.1"/><circle cx="186.8" cy="2507.2" r="4.1"/><circle cx="172.4" cy="2537.0" r="4.1"/><circle cx="163.9" cy="2511.6" r="4.1"/><circle cx="179.2" cy="2577.0" r="4.1"/><circle cx="219.4" cy="2448.4" r="4.1"/><circle cx="116.5" cy="2497.0" r="4.1"/><circle cx="193.7" cy="2449.3" r="4.1"/><circle cx="156.1" cy="2504.2" r="4.1"/><circle cx="122.2" cy="2495.4" r="4.1"/><circle cx="172.9" cy="2480.6" r="4.1"/><circle cx="127.1" cy="2477.3" r="4.1"/><circle cx="178.4" cy="2496.8" r="4.1"/><circle cx="188.5" cy="2508.2" r="4.1"/><circle cx="216.4" cy="2467.8" r="4.1"/><circle cx="180.8" cy="2538.3" r="4.1"/><circle cx="197.7" cy="2494.4" r="4.1"/><circle cx="190.0" cy="2554.4" r="4.1"/><circle cx="164.1" cy="2480.6" r="4.1"/><circle cx="178.3" cy="2574.3" r="4.1"/><circle cx="174.6" cy="2464.6" r="4.1"/><circle cx="143.8" cy="2475.2" r="4.1"/><circle cx="207.9" cy="2472.8" r="4.1"/><circle cx="170.7" cy="2454.9" r="4.1"/><circle cx="204.1" cy="2514.4" r="4.1"/><circle cx="126.2" cy="2502.3" r="4.1"/><circle cx="216.4" cy="2495.5" r="4.1"/><circle cx="170.0" cy="2559.7" r="4.1"/><circle cx="155.4" cy="2507.3" r="4.1"/><circle cx="200.3" cy="2528.0" r="4.1"/><circle cx="157.0" cy="2482.0" r="4.1"/><circle cx="223.8" cy="2533.5" r="4.1"/><circle cx="139.5" cy="2465.2" r="4.1"/><circle cx="141.1" cy="2499.8" r="4.1"/><circle cx="121.6" cy="2497.6" r="4.1"/><circle cx="238.4" cy="2513.8" r="4.1"/><circle cx="143.4" cy="2483.4" r="4.1"/><circle cx="167.1" cy="2506.7" r="4.1"/><circle cx="127.9" cy="2507.0" r="4.1"/><circle cx="111.9" cy="2490.2" r="4.1"/><circle cx="142.7" cy="2463.7" r="4.1"/><circle cx="183.0" cy="2510.9" r="4.1"/><circle cx="206.6" cy="2531.4" r="4.1"/><circle cx="154.9" cy="2478.5" r="4.1"/><circle cx="202.8" cy="2529.1" r="4.1"/><circle cx="226.8" cy="2526.6" r="4.1"/><circle cx="119.0" cy="2510.1" r="4.1"/><circle cx="171.3" cy="2559.7" r="4.1"/><circle cx="182.7" cy="2568.9" r="4.1"/><circle cx="196.9" cy="2537.1" r="4.1"/><circle cx="118.1" cy="2484.1" r="4.1"/><circle cx="179.1" cy="2526.7" r="4.1"/><circle cx="188.8" cy="2535.1" r="4.1"/><circle cx="213.3" cy="2545.9" r="4.1"/><circle cx="171.1" cy="2511.9" r="4.1"/><circle cx="193.5" cy="2437.0" r="4.1"/><circle cx="204.6" cy="2466.7" r="4.1"/><circle cx="203.6" cy="2459.3" r="4.1"/><circle cx="169.8" cy="2487.5" r="4.1"/><circle cx="167.7" cy="2535.6" r="4.1"/><circle cx="208.9" cy="2524.9" r="4.1"/><circle cx="191.1" cy="2438.9" r="4.1"/><circle cx="205.5" cy="2475.1" r="4.1"/><circle cx="180.4" cy="2428.5" r="4.1"/><circle cx="195.3" cy="2536.9" r="4.1"/><circle cx="195.9" cy="2472.9" r="4.1"/><circle cx="173.1" cy="2500.6" r="4.1"/><circle cx="165.9" cy="2445.4" r="4.1"/><circle cx="227.1" cy="2458.3" r="4.1"/><circle cx="163.5" cy="2469.4" r="4.1"/><circle cx="129.3" cy="2519.3" r="4.1"/><circle cx="119.4" cy="2510.1" r="4.1"/><circle cx="216.6" cy="2507.7" r="4.1"/><circle cx="226.1" cy="2538.7" r="4.1"/><circle cx="168.7" cy="2430.5" r="4.1"/><circle cx="163.6" cy="2474.7" r="4.1"/><circle cx="119.2" cy="2481.4" r="4.1"/><circle cx="219.3" cy="2445.7" r="4.1"/><circle cx="231.8" cy="2540.3" r="4.1"/><circle cx="228.2" cy="2472.8" r="4.1"/><circle cx="152.4" cy="2489.2" r="4.1"/><circle cx="150.7" cy="2494.8" r="4.1"/><circle cx="134.8" cy="2468.9" r="4.1"/><circle cx="172.3" cy="2456.8" r="4.1"/><circle cx="189.4" cy="2572.2" r="4.1"/><circle cx="233.8" cy="2514.1" r="4.1"/><circle cx="202.2" cy="2434.4" r="4.1"/><circle cx="204.0" cy="2498.4" r="4.1"/><circle cx="206.9" cy="2529.3" r="4.1"/><circle cx="166.7" cy="2481.3" r="4.1"/><circle cx="141.7" cy="2544.4" r="4.1"/><circle cx="193.0" cy="2474.5" r="4.1"/><circle cx="178.9" cy="2489.4" r="4.1"/><circle cx="170.3" cy="2461.6" r="4.1"/><circle cx="163.5" cy="2448.8" r="4.1"/><circle cx="133.3" cy="2467.7" r="4.1"/><circle cx="180.7" cy="2568.1" r="4.1"/><circle cx="206.5" cy="2492.4" r="4.1"/><circle cx="158.4" cy="2510.1" r="4.1"/><circle cx="153.1" cy="2480.5" r="4.1"/><circle cx="171.2" cy="2527.0" r="4.1"/><circle cx="222.7" cy="2461.0" r="4.1"/><circle cx="137.9" cy="2466.1" r="4.1"/><circle cx="156.3" cy="2497.6" r="4.1"/><circle cx="227.4" cy="2502.0" r="4.1"/><circle cx="173.9" cy="2535.3" r="4.1"/><circle cx="191.8" cy="2548.5" r="4.1"/><circle cx="164.6" cy="2514.5" r="4.1"/><circle cx="191.5" cy="2475.0" r="4.1"/><circle cx="190.2" cy="2538.0" r="4.1"/><circle cx="174.2" cy="2519.5" r="4.1"/><circle cx="154.7" cy="2462.2" r="4.1"/><circle cx="185.2" cy="2428.2" r="4.1"/><circle cx="142.3" cy="2500.0" r="4.1"/><circle cx="236.4" cy="2529.3" r="4.1"/><circle cx="225.7" cy="2502.3" r="4.1"/><circle cx="170.5" cy="2534.1" r="4.1"/><circle cx="159.2" cy="2467.6" r="4.1"/><circle cx="194.7" cy="2574.1" r="4.1"/><circle cx="147.5" cy="2493.6" r="4.1"/><circle cx="196.9" cy="2458.1" r="4.1"/><circle cx="213.3" cy="2544.4" r="4.1"/><circle cx="171.4" cy="2459.3" r="4.1"/><circle cx="216.5" cy="2463.3" r="4.1"/><circle cx="170.1" cy="2456.4" r="4.1"/><circle cx="131.1" cy="2493.0" r="4.1"/><circle cx="194.4" cy="2577.9" r="4.1"/><circle cx="120.0" cy="2489.3" r="4.1"/><circle cx="232.5" cy="2479.0" r="4.1"/><circle cx="194.3" cy="2486.9" r="4.1"/><circle cx="152.6" cy="2479.4" r="4.1"/><circle cx="139.2" cy="2482.6" r="4.1"/><circle cx="216.8" cy="2495.5" r="4.1"/><circle cx="106.1" cy="2502.0" r="4.1"/><circle cx="126.7" cy="2484.6" r="4.1"/><circle cx="157.9" cy="2556.0" r="4.1"/><circle cx="147.6" cy="2470.0" r="4.1"/><circle cx="236.3" cy="2524.9" r="4.1"/><circle cx="136.6" cy="2540.8" r="4.1"/><circle cx="144.4" cy="2470.5" r="4.1"/><circle cx="230.4" cy="2527.7" r="4.1"/><circle cx="132.6" cy="2502.3" r="4.1"/><circle cx="154.4" cy="2466.6" r="4.1"/><circle cx="160.7" cy="2505.2" r="4.1"/><circle cx="214.0" cy="2544.3" r="4.1"/><circle cx="186.1" cy="2478.8" r="4.1"/><circle cx="144.8" cy="2484.2" r="4.1"/><circle cx="211.1" cy="2439.1" r="4.1"/><circle cx="103.9" cy="2514.7" r="4.1"/><circle cx="112.9" cy="2506.0" r="4.1"/><circle cx="200.7" cy="2497.8" r="4.1"/><circle cx="132.6" cy="2493.0" r="4.1"/><circle cx="187.9" cy="2534.1" r="4.1"/><circle cx="194.3" cy="2445.8" r="4.1"/><circle cx="219.5" cy="2473.4" r="4.1"/><circle cx="180.3" cy="2486.0" r="4.1"/><circle cx="204.8" cy="2458.3" r="4.1"/><circle cx="181.9" cy="2478.6" r="4.1"/><circle cx="171.7" cy="2463.4" r="4.1"/><circle cx="214.9" cy="2530.7" r="4.1"/><circle cx="167.1" cy="2557.2" r="4.1"/><circle cx="238.5" cy="2519.6" r="4.1"/><circle cx="232.3" cy="2485.9" r="4.1"/><circle cx="223.1" cy="2498.2" r="4.1"/><circle cx="184.5" cy="2525.4" r="4.1"/><circle cx="130.2" cy="2485.3" r="4.1"/><circle cx="135.6" cy="2522.1" r="4.1"/><circle cx="192.4" cy="2459.0" r="4.1"/><circle cx="196.2" cy="2456.0" r="4.1"/><circle cx="143.8" cy="2459.0" r="4.1"/><circle cx="213.0" cy="2513.9" r="4.1"/><circle cx="155.7" cy="2514.3" r="4.1"/><circle cx="190.6" cy="2441.1" r="4.1"/><circle cx="157.8" cy="2471.7" r="4.1"/><circle cx="143.8" cy="2516.9" r="4.1"/><circle cx="150.2" cy="2492.9" r="4.1"/><circle cx="151.2" cy="2458.0" r="4.1"/><circle cx="203.4" cy="2459.0" r="4.1"/><circle cx="159.8" cy="2557.4" r="4.1"/><circle cx="165.1" cy="2452.4" r="4.1"/><circle cx="101.2" cy="2514.5" r="4.1"/><circle cx="190.8" cy="2571.7" r="4.1"/><circle cx="111.8" cy="2525.8" r="4.1"/><circle cx="152.2" cy="2507.0" r="4.1"/><circle cx="114.7" cy="2504.8" r="4.1"/><circle cx="168.2" cy="2435.0" r="4.1"/><circle cx="231.7" cy="2488.4" r="4.1"/><circle cx="228.6" cy="2525.5" r="4.1"/><circle cx="217.2" cy="2452.1" r="4.1"/><circle cx="211.6" cy="2461.9" r="4.1"/><circle cx="217.9" cy="2455.7" r="4.1"/><circle cx="130.3" cy="2490.3" r="4.1"/><circle cx="173.3" cy="2487.7" r="4.1"/><circle cx="105.0" cy="2516.2" r="4.1"/><circle cx="219.1" cy="2445.3" r="4.1"/><circle cx="185.0" cy="2514.3" r="4.1"/><circle cx="188.9" cy="2475.4" r="4.1"/><circle cx="159.2" cy="2519.5" r="4.1"/><circle cx="160.1" cy="2531.6" r="4.1"/><circle cx="163.1" cy="2496.4" r="4.1"/><circle cx="169.2" cy="2464.0" r="4.1"/><circle cx="164.7" cy="2455.2" r="4.1"/><circle cx="166.9" cy="2443.6" r="4.1"/><circle cx="117.5" cy="2495.2" r="4.1"/><circle cx="112.2" cy="2497.0" r="4.1"/><circle cx="172.2" cy="2433.0" r="4.1"/><circle cx="190.2" cy="2439.6" r="4.1"/><circle cx="172.3" cy="2435.2" r="4.1"/><circle cx="171.3" cy="2486.8" r="4.1"/><circle cx="207.4" cy="2451.8" r="4.1"/><circle cx="227.5" cy="2470.4" r="4.1"/><circle cx="215.9" cy="2449.4" r="4.1"/><circle cx="171.6" cy="2477.4" r="4.1"/><circle cx="115.6" cy="2511.2" r="4.1"/><circle cx="190.2" cy="2483.9" r="4.1"/><circle cx="224.1" cy="2515.1" r="4.1"/><circle cx="182.2" cy="2567.3" r="4.1"/><circle cx="189.3" cy="2489.4" r="4.1"/><circle cx="213.3" cy="2468.7" r="4.1"/><circle cx="150.7" cy="2548.5" r="4.1"/><circle cx="162.4" cy="2454.7" r="4.1"/><circle cx="205.6" cy="2434.2" r="4.1"/><circle cx="216.5" cy="2467.0" r="4.1"/><circle cx="183.0" cy="2532.4" r="4.1"/><circle cx="187.3" cy="2495.5" r="4.1"/><circle cx="192.6" cy="2430.1" r="4.1"/><circle cx="114.3" cy="2483.5" r="4.1"/><circle cx="131.2" cy="2519.6" r="4.1"/><circle cx="183.5" cy="2459.1" r="4.1"/><circle cx="188.5" cy="2502.3" r="4.1"/><circle cx="112.8" cy="2528.3" r="4.1"/><circle cx="156.7" cy="2468.7" r="4.1"/><circle cx="179.6" cy="2482.4" r="4.1"/><circle cx="191.6" cy="2497.3" r="4.1"/><circle cx="105.4" cy="2511.3" r="4.1"/><circle cx="157.2" cy="2464.4" r="4.1"/><circle cx="100.8" cy="2514.4" r="4.1"/><circle cx="127.7" cy="2523.5" r="4.1"/><circle cx="171.7" cy="2528.9" r="4.1"/><circle cx="215.6" cy="2454.4" r="4.1"/><circle cx="143.4" cy="2474.4" r="4.1"/><circle cx="211.2" cy="2540.6" r="4.1"/><circle cx="205.8" cy="2500.7" r="4.1"/><circle cx="205.3" cy="2498.7" r="4.1"/><circle cx="147.1" cy="2546.1" r="4.1"/><circle cx="201.0" cy="2468.9" r="4.1"/><circle cx="178.4" cy="2496.1" r="4.1"/><circle cx="212.0" cy="2510.0" r="4.1"/><circle cx="137.1" cy="2528.9" r="4.1"/><circle cx="136.4" cy="2464.2" r="4.1"/><circle cx="206.0" cy="2478.7" r="4.1"/><circle cx="225.2" cy="2478.9" r="4.1"/><circle cx="189.4" cy="2537.0" r="4.1"/><circle cx="166.3" cy="2560.5" r="4.1"/><circle cx="161.7" cy="2542.1" r="4.1"/><circle cx="180.8" cy="2475.6" r="4.1"/><circle cx="129.4" cy="2525.8" r="4.1"/></g>
<g fill="#c79c2b"><circle cx="94.1" cy="2337.0" r="4.1"/><circle cx="109.7" cy="2344.1" r="4.1"/><circle cx="85.0" cy="2337.9" r="4.1"/><circle cx="136.9" cy="2374.6" r="4.1"/><circle cx="137.3" cy="2380.9" r="4.1"/><circle cx="146.8" cy="2390.5" r="4.1"/><circle cx="91.5" cy="2337.5" r="4.1"/><circle cx="149.0" cy="2385.6" r="4.1"/><circle cx="132.1" cy="2353.1" r="4.1"/><circle cx="90.6" cy="2341.4" r="4.1"/><circle cx="111.5" cy="2355.2" r="4.1"/><circle cx="158.1" cy="2366.5" r="4.1"/><circle cx="149.3" cy="2373.6" r="4.1"/><circle cx="124.8" cy="2348.7" r="4.1"/><circle cx="142.3" cy="2395.8" r="4.1"/><circle cx="105.0" cy="2348.6" r="4.1"/><circle cx="137.4" cy="2366.2" r="4.1"/><circle cx="137.3" cy="2384.0" r="4.1"/><circle cx="131.9" cy="2357.3" r="4.1"/><circle cx="153.2" cy="2366.4" r="4.1"/><circle cx="141.6" cy="2375.3" r="4.1"/><circle cx="134.5" cy="2381.2" r="4.1"/><circle cx="143.2" cy="2371.2" r="4.1"/><circle cx="137.7" cy="2387.5" r="4.1"/><circle cx="94.9" cy="2345.0" r="4.1"/><circle cx="123.6" cy="2345.3" r="4.1"/><circle cx="108.4" cy="2347.1" r="4.1"/><circle cx="140.1" cy="2362.3" r="4.1"/><circle cx="113.1" cy="2337.4" r="4.1"/><circle cx="137.0" cy="2366.3" r="4.1"/><circle cx="132.2" cy="2364.0" r="4.1"/><circle cx="153.7" cy="2362.0" r="4.1"/><circle cx="115.7" cy="2349.5" r="4.1"/><circle cx="139.2" cy="2389.8" r="4.1"/><circle cx="143.3" cy="2378.7" r="4.1"/><circle cx="149.4" cy="2377.4" r="4.1"/><circle cx="132.9" cy="2363.4" r="4.1"/><circle cx="143.9" cy="2379.5" r="4.1"/><circle cx="132.0" cy="2350.8" r="4.1"/><circle cx="131.4" cy="2360.7" r="4.1"/><circle cx="143.6" cy="2359.4" r="4.1"/><circle cx="156.3" cy="2367.5" r="4.1"/><circle cx="147.6" cy="2367.6" r="4.1"/><circle cx="110.6" cy="2338.9" r="4.1"/><circle cx="110.3" cy="2351.8" r="4.1"/><circle cx="156.2" cy="2368.0" r="4.1"/><circle cx="113.4" cy="2348.5" r="4.1"/><circle cx="146.1" cy="2374.6" r="4.1"/><circle cx="146.8" cy="2385.8" r="4.1"/><circle cx="119.4" cy="2353.6" r="4.1"/><circle cx="125.6" cy="2343.1" r="4.1"/><circle cx="147.9" cy="2357.3" r="4.1"/><circle cx="112.2" cy="2351.0" r="4.1"/><circle cx="116.1" cy="2346.8" r="4.1"/><circle cx="104.8" cy="2350.5" r="4.1"/><circle cx="134.3" cy="2357.8" r="4.1"/><circle cx="153.6" cy="2383.8" r="4.1"/><circle cx="134.0" cy="2350.8" r="4.1"/><circle cx="90.7" cy="2344.2" r="4.1"/><circle cx="109.9" cy="2344.8" r="4.1"/><circle cx="153.4" cy="2384.3" r="4.1"/><circle cx="144.4" cy="2387.2" r="4.1"/><circle cx="126.2" cy="2351.7" r="4.1"/><circle cx="101.1" cy="2344.0" r="4.1"/><circle cx="121.3" cy="2339.0" r="4.1"/><circle cx="119.3" cy="2344.3" r="4.1"/><circle cx="132.6" cy="2374.7" r="4.1"/><circle cx="122.7" cy="2365.3" r="4.1"/><circle cx="138.9" cy="2374.0" r="4.1"/><circle cx="147.4" cy="2353.5" r="4.1"/><circle cx="147.5" cy="2360.3" r="4.1"/><circle cx="122.2" cy="2352.2" r="4.1"/></g>
<g fill="#6b8c6b"><circle cx="249.5" cy="2293.6" r="4.1"/><circle cx="263.9" cy="2273.9" r="4.1"/><circle cx="232.3" cy="2222.9" r="4.1"/><circle cx="229.2" cy="2251.8" r="4.1"/><circle cx="262.0" cy="2273.1" r="4.1"/><circle cx="286.5" cy="2247.4" r="4.1"/><circle cx="290.0" cy="2254.2" r="4.1"/><circle cx="264.3" cy="2273.6" r="4.1"/><circle cx="288.9" cy="2254.6" r="4.1"/><circle cx="260.2" cy="2256.2" r="4.1"/><circle cx="268.0" cy="2252.9" r="4.1"/><circle cx="266.5" cy="2211.7" r="4.1"/><circle cx="265.1" cy="2238.0" r="4.1"/><circle cx="275.7" cy="2287.0" r="4.1"/><circle cx="264.0" cy="2228.5" r="4.1"/><circle cx="280.3" cy="2273.3" r="4.1"/><circle cx="254.9" cy="2216.6" r="4.1"/><circle cx="229.5" cy="2234.2" r="4.1"/><circle cx="231.1" cy="2235.1" r="4.1"/><circle cx="262.7" cy="2289.2" r="4.1"/><circle cx="205.3" cy="2249.8" r="4.1"/><circle cx="279.1" cy="2250.7" r="4.1"/><circle cx="257.8" cy="2289.6" r="4.1"/><circle cx="240.3" cy="2199.8" r="4.1"/><circle cx="263.0" cy="2211.6" r="4.1"/><circle cx="270.3" cy="2214.9" r="4.1"/><circle cx="271.6" cy="2209.0" r="4.1"/><circle cx="269.7" cy="2280.8" r="4.1"/><circle cx="271.3" cy="2197.9" r="4.1"/><circle cx="261.4" cy="2265.0" r="4.1"/><circle cx="245.0" cy="2289.0" r="4.1"/><circle cx="230.4" cy="2267.2" r="4.1"/><circle cx="247.5" cy="2195.3" r="4.1"/><circle cx="235.9" cy="2250.6" r="4.1"/><circle cx="242.9" cy="2261.6" r="4.1"/><circle cx="235.5" cy="2258.1" r="4.1"/><circle cx="261.5" cy="2233.7" r="4.1"/><circle cx="237.7" cy="2273.3" r="4.1"/><circle cx="292.3" cy="2273.1" r="4.1"/><circle cx="255.4" cy="2220.3" r="4.1"/><circle cx="268.7" cy="2277.7" r="4.1"/><circle cx="232.4" cy="2253.9" r="4.1"/><circle cx="258.7" cy="2222.0" r="4.1"/><circle cx="241.9" cy="2284.3" r="4.1"/><circle cx="236.8" cy="2262.4" r="4.1"/><circle cx="258.8" cy="2285.1" r="4.1"/><circle cx="278.9" cy="2219.3" r="4.1"/><circle cx="241.3" cy="2251.9" r="4.1"/><circle cx="279.7" cy="2284.2" r="4.1"/><circle cx="279.3" cy="2282.0" r="4.1"/><circle cx="255.9" cy="2218.3" r="4.1"/><circle cx="283.1" cy="2275.5" r="4.1"/><circle cx="266.9" cy="2287.0" r="4.1"/><circle cx="254.1" cy="2274.5" r="4.1"/><circle cx="259.3" cy="2261.6" r="4.1"/><circle cx="245.5" cy="2211.0" r="4.1"/><circle cx="224.9" cy="2269.5" r="4.1"/><circle cx="277.3" cy="2238.2" r="4.1"/><circle cx="275.4" cy="2213.9" r="4.1"/><circle cx="256.6" cy="2285.2" r="4.1"/><circle cx="286.5" cy="2244.9" r="4.1"/><circle cx="246.6" cy="2252.2" r="4.1"/><circle cx="218.5" cy="2209.5" r="4.1"/><circle cx="217.6" cy="2264.2" r="4.1"/><circle cx="235.4" cy="2249.5" r="4.1"/><circle cx="239.3" cy="2244.4" r="4.1"/><circle cx="210.4" cy="2256.8" r="4.1"/><circle cx="258.3" cy="2225.9" r="4.1"/><circle cx="284.6" cy="2241.1" r="4.1"/><circle cx="255.4" cy="2216.9" r="4.1"/><circle cx="276.1" cy="2234.6" r="4.1"/><circle cx="292.4" cy="2271.3" r="4.1"/><circle cx="280.0" cy="2292.4" r="4.1"/><circle cx="219.6" cy="2208.3" r="4.1"/><circle cx="254.4" cy="2282.4" r="4.1"/><circle cx="244.8" cy="2290.6" r="4.1"/><circle cx="258.4" cy="2231.5" r="4.1"/><circle cx="225.1" cy="2249.5" r="4.1"/><circle cx="262.6" cy="2291.6" r="4.1"/><circle cx="265.4" cy="2231.1" r="4.1"/><circle cx="243.8" cy="2206.0" r="4.1"/><circle cx="225.0" cy="2226.7" r="4.1"/><circle cx="276.8" cy="2265.1" r="4.1"/><circle cx="263.2" cy="2294.7" r="4.1"/><circle cx="273.7" cy="2289.8" r="4.1"/><circle cx="266.1" cy="2220.9" r="4.1"/><circle cx="257.8" cy="2270.3" r="4.1"/><circle cx="247.0" cy="2206.9" r="4.1"/><circle cx="223.3" cy="2204.2" r="4.1"/><circle cx="266.2" cy="2190.2" r="4.1"/><circle cx="270.1" cy="2209.8" r="4.1"/><circle cx="284.7" cy="2284.3" r="4.1"/><circle cx="213.7" cy="2236.9" r="4.1"/><circle cx="282.3" cy="2256.4" r="4.1"/><circle cx="244.2" cy="2225.3" r="4.1"/><circle cx="280.4" cy="2240.1" r="4.1"/><circle cx="261.4" cy="2204.2" r="4.1"/><circle cx="269.7" cy="2248.3" r="4.1"/><circle cx="226.0" cy="2233.1" r="4.1"/><circle cx="215.2" cy="2218.0" r="4.1"/><circle cx="282.0" cy="2224.8" r="4.1"/><circle cx="216.4" cy="2241.6" r="4.1"/><circle cx="265.3" cy="2211.5" r="4.1"/><circle cx="246.6" cy="2219.6" r="4.1"/><circle cx="225.2" cy="2210.5" r="4.1"/><circle cx="271.0" cy="2220.4" r="4.1"/><circle cx="278.8" cy="2225.5" r="4.1"/><circle cx="281.3" cy="2245.4" r="4.1"/><circle cx="218.1" cy="2235.6" r="4.1"/><circle cx="255.8" cy="2203.7" r="4.1"/><circle cx="269.5" cy="2210.0" r="4.1"/><circle cx="259.4" cy="2242.1" r="4.1"/><circle cx="226.8" cy="2211.0" r="4.1"/><circle cx="259.8" cy="2264.9" r="4.1"/></g>
<g fill="#3a9a77"><circle cx="392.6" cy="2320.4" r="4.1"/><circle cx="380.5" cy="2300.5" r="4.1"/><circle cx="392.4" cy="2292.2" r="4.1"/><circle cx="397.2" cy="2352.5" r="4.1"/><circle cx="407.7" cy="2308.3" r="4.1"/><circle cx="296.8" cy="2348.7" r="4.1"/><circle cx="324.5" cy="2272.6" r="4.1"/><circle cx="325.2" cy="2321.7" r="4.1"/><circle cx="336.6" cy="2312.7" r="4.1"/><circle cx="286.9" cy="2335.4" r="4.1"/><circle cx="393.3" cy="2352.6" r="4.1"/><circle cx="317.5" cy="2335.0" r="4.1"/><circle cx="326.7" cy="2339.6" r="4.1"/><circle cx="414.4" cy="2310.3" r="4.1"/><circle cx="346.9" cy="2314.4" r="4.1"/><circle cx="350.6" cy="2256.3" r="4.1"/><circle cx="306.7" cy="2347.1" r="4.1"/><circle cx="375.3" cy="2276.2" r="4.1"/><circle cx="356.6" cy="2313.5" r="4.1"/><circle cx="375.9" cy="2265.7" r="4.1"/><circle cx="401.4" cy="2335.7" r="4.1"/><circle cx="343.9" cy="2311.0" r="4.1"/><circle cx="330.4" cy="2269.6" r="4.1"/><circle cx="358.9" cy="2352.1" r="4.1"/><circle cx="382.6" cy="2272.7" r="4.1"/><circle cx="327.9" cy="2301.9" r="4.1"/><circle cx="396.9" cy="2313.8" r="4.1"/><circle cx="328.9" cy="2361.2" r="4.1"/><circle cx="387.3" cy="2292.5" r="4.1"/><circle cx="335.0" cy="2365.8" r="4.1"/><circle cx="391.5" cy="2358.0" r="4.1"/><circle cx="393.1" cy="2350.5" r="4.1"/><circle cx="365.2" cy="2295.5" r="4.1"/><circle cx="349.6" cy="2261.8" r="4.1"/><circle cx="334.6" cy="2311.5" r="4.1"/><circle cx="416.8" cy="2342.4" r="4.1"/><circle cx="411.7" cy="2326.1" r="4.1"/><circle cx="392.2" cy="2354.7" r="4.1"/><circle cx="366.5" cy="2284.2" r="4.1"/><circle cx="372.2" cy="2285.1" r="4.1"/><circle cx="351.3" cy="2359.3" r="4.1"/><circle cx="363.4" cy="2282.5" r="4.1"/><circle cx="348.0" cy="2303.4" r="4.1"/><circle cx="315.1" cy="2327.7" r="4.1"/><circle cx="414.7" cy="2312.5" r="4.1"/><circle cx="350.1" cy="2270.9" r="4.1"/><circle cx="396.9" cy="2323.5" r="4.1"/><circle cx="355.6" cy="2328.1" r="4.1"/><circle cx="299.2" cy="2334.9" r="4.1"/><circle cx="338.9" cy="2316.4" r="4.1"/><circle cx="362.1" cy="2307.4" r="4.1"/><circle cx="327.0" cy="2320.7" r="4.1"/><circle cx="353.6" cy="2310.0" r="4.1"/><circle cx="313.6" cy="2341.9" r="4.1"/><circle cx="401.7" cy="2304.1" r="4.1"/><circle cx="335.7" cy="2337.8" r="4.1"/><circle cx="415.2" cy="2338.1" r="4.1"/><circle cx="322.3" cy="2330.9" r="4.1"/><circle cx="362.7" cy="2350.8" r="4.1"/><circle cx="394.0" cy="2313.0" r="4.1"/><circle cx="381.4" cy="2338.7" r="4.1"/><circle cx="384.6" cy="2308.1" r="4.1"/><circle cx="388.5" cy="2334.7" r="4.1"/><circle cx="385.5" cy="2320.7" r="4.1"/><circle cx="344.6" cy="2363.7" r="4.1"/><circle cx="355.9" cy="2301.6" r="4.1"/><circle cx="388.3" cy="2353.4" r="4.1"/><circle cx="361.3" cy="2297.2" r="4.1"/><circle cx="337.6" cy="2306.1" r="4.1"/><circle cx="379.0" cy="2287.3" r="4.1"/><circle cx="328.2" cy="2317.2" r="4.1"/><circle cx="327.2" cy="2290.6" r="4.1"/><circle cx="388.8" cy="2350.8" r="4.1"/><circle cx="344.8" cy="2304.6" r="4.1"/><circle cx="357.4" cy="2264.0" r="4.1"/><circle cx="397.4" cy="2349.5" r="4.1"/><circle cx="333.6" cy="2357.7" r="4.1"/><circle cx="354.8" cy="2310.6" r="4.1"/><circle cx="409.2" cy="2342.1" r="4.1"/><circle cx="350.8" cy="2367.7" r="4.1"/><circle cx="347.6" cy="2312.9" r="4.1"/><circle cx="373.2" cy="2298.3" r="4.1"/><circle cx="323.1" cy="2321.7" r="4.1"/><circle cx="322.1" cy="2362.0" r="4.1"/><circle cx="371.9" cy="2313.8" r="4.1"/><circle cx="329.7" cy="2317.9" r="4.1"/><circle cx="356.2" cy="2354.2" r="4.1"/><circle cx="416.0" cy="2309.4" r="4.1"/><circle cx="335.7" cy="2325.1" r="4.1"/><circle cx="349.5" cy="2346.9" r="4.1"/><circle cx="346.8" cy="2266.5" r="4.1"/><circle cx="405.3" cy="2332.6" r="4.1"/><circle cx="404.3" cy="2301.9" r="4.1"/><circle cx="346.7" cy="2311.5" r="4.1"/><circle cx="364.8" cy="2322.7" r="4.1"/><circle cx="322.4" cy="2367.2" r="4.1"/><circle cx="365.8" cy="2258.8" r="4.1"/><circle cx="331.3" cy="2343.7" r="4.1"/><circle cx="315.3" cy="2332.7" r="4.1"/><circle cx="397.2" cy="2320.8" r="4.1"/><circle cx="370.6" cy="2276.4" r="4.1"/><circle cx="344.6" cy="2317.0" r="4.1"/><circle cx="309.1" cy="2327.7" r="4.1"/><circle cx="349.7" cy="2367.6" r="4.1"/><circle cx="356.3" cy="2300.8" r="4.1"/><circle cx="384.6" cy="2266.1" r="4.1"/><circle cx="348.3" cy="2347.8" r="4.1"/><circle cx="362.2" cy="2345.9" r="4.1"/><circle cx="386.3" cy="2290.7" r="4.1"/><circle cx="377.9" cy="2294.3" r="4.1"/><circle cx="357.5" cy="2293.7" r="4.1"/><circle cx="337.2" cy="2297.9" r="4.1"/><circle cx="357.5" cy="2363.3" r="4.1"/><circle cx="335.6" cy="2324.6" r="4.1"/><circle cx="316.5" cy="2356.4" r="4.1"/><circle cx="393.2" cy="2288.6" r="4.1"/><circle cx="360.6" cy="2363.4" r="4.1"/><circle cx="344.2" cy="2362.2" r="4.1"/><circle cx="378.3" cy="2279.2" r="4.1"/><circle cx="315.7" cy="2353.7" r="4.1"/><circle cx="342.5" cy="2344.3" r="4.1"/><circle cx="323.2" cy="2275.2" r="4.1"/><circle cx="354.3" cy="2267.0" r="4.1"/><circle cx="350.0" cy="2297.9" r="4.1"/><circle cx="287.2" cy="2348.1" r="4.1"/><circle cx="322.1" cy="2281.9" r="4.1"/><circle cx="370.0" cy="2292.9" r="4.1"/><circle cx="292.2" cy="2334.4" r="4.1"/><circle cx="336.2" cy="2349.3" r="4.1"/><circle cx="391.5" cy="2272.1" r="4.1"/><circle cx="322.4" cy="2336.3" r="4.1"/><circle cx="326.0" cy="2363.2" r="4.1"/><circle cx="345.6" cy="2279.9" r="4.1"/><circle cx="337.6" cy="2268.9" r="4.1"/><circle cx="376.5" cy="2283.7" r="4.1"/><circle cx="406.0" cy="2320.9" r="4.1"/><circle cx="324.7" cy="2282.0" r="4.1"/><circle cx="361.4" cy="2278.2" r="4.1"/><circle cx="346.9" cy="2315.8" r="4.1"/><circle cx="309.8" cy="2341.9" r="4.1"/><circle cx="327.3" cy="2328.9" r="4.1"/><circle cx="355.2" cy="2289.4" r="4.1"/><circle cx="328.0" cy="2263.8" r="4.1"/><circle cx="295.5" cy="2350.9" r="4.1"/><circle cx="317.5" cy="2329.5" r="4.1"/><circle cx="323.7" cy="2311.0" r="4.1"/><circle cx="287.7" cy="2335.6" r="4.1"/><circle cx="407.5" cy="2342.3" r="4.1"/><circle cx="403.5" cy="2352.1" r="4.1"/><circle cx="369.9" cy="2294.0" r="4.1"/><circle cx="331.5" cy="2329.1" r="4.1"/><circle cx="375.4" cy="2282.3" r="4.1"/><circle cx="397.9" cy="2294.1" r="4.1"/><circle cx="364.6" cy="2274.7" r="4.1"/><circle cx="380.7" cy="2335.2" r="4.1"/><circle cx="366.0" cy="2274.4" r="4.1"/><circle cx="396.8" cy="2318.9" r="4.1"/><circle cx="378.0" cy="2283.0" r="4.1"/><circle cx="334.9" cy="2331.9" r="4.1"/><circle cx="396.0" cy="2342.4" r="4.1"/><circle cx="399.1" cy="2323.2" r="4.1"/><circle cx="285.4" cy="2344.1" r="4.1"/><circle cx="300.5" cy="2358.2" r="4.1"/><circle cx="383.1" cy="2263.8" r="4.1"/><circle cx="374.7" cy="2298.8" r="4.1"/><circle cx="382.8" cy="2348.4" r="4.1"/><circle cx="410.7" cy="2332.8" r="4.1"/><circle cx="381.4" cy="2348.5" r="4.1"/><circle cx="364.5" cy="2305.5" r="4.1"/><circle cx="333.9" cy="2312.3" r="4.1"/><circle cx="375.9" cy="2345.8" r="4.1"/><circle cx="416.7" cy="2326.6" r="4.1"/><circle cx="351.6" cy="2282.4" r="4.1"/><circle cx="331.4" cy="2276.9" r="4.1"/><circle cx="376.6" cy="2330.3" r="4.1"/><circle cx="347.2" cy="2304.7" r="4.1"/><circle cx="314.2" cy="2354.8" r="4.1"/><circle cx="319.4" cy="2346.9" r="4.1"/><circle cx="352.3" cy="2340.6" r="4.1"/><circle cx="294.3" cy="2329.9" r="4.1"/><circle cx="360.0" cy="2306.5" r="4.1"/><circle cx="385.6" cy="2348.7" r="4.1"/><circle cx="323.5" cy="2277.5" r="4.1"/><circle cx="298.5" cy="2333.9" r="4.1"/><circle cx="336.9" cy="2266.8" r="4.1"/><circle cx="318.0" cy="2307.4" r="4.1"/><circle cx="323.9" cy="2273.1" r="4.1"/><circle cx="420.2" cy="2339.5" r="4.1"/><circle cx="281.2" cy="2335.7" r="4.1"/><circle cx="418.4" cy="2318.2" r="4.1"/><circle cx="334.8" cy="2275.6" r="4.1"/><circle cx="351.5" cy="2254.9" r="4.1"/><circle cx="409.1" cy="2327.4" r="4.1"/><circle cx="364.4" cy="2360.5" r="4.1"/><circle cx="368.2" cy="2282.6" r="4.1"/><circle cx="272.6" cy="2342.2" r="4.1"/><circle cx="396.8" cy="2287.7" r="4.1"/><circle cx="294.2" cy="2343.4" r="4.1"/><circle cx="395.4" cy="2338.5" r="4.1"/><circle cx="394.7" cy="2290.4" r="4.1"/><circle cx="324.8" cy="2316.8" r="4.1"/><circle cx="324.9" cy="2348.7" r="4.1"/><circle cx="355.1" cy="2325.5" r="4.1"/><circle cx="393.8" cy="2334.4" r="4.1"/><circle cx="344.0" cy="2310.9" r="4.1"/><circle cx="357.3" cy="2263.1" r="4.1"/><circle cx="373.6" cy="2272.6" r="4.1"/><circle cx="336.2" cy="2364.5" r="4.1"/><circle cx="335.6" cy="2275.7" r="4.1"/><circle cx="397.0" cy="2351.4" r="4.1"/><circle cx="388.8" cy="2302.4" r="4.1"/><circle cx="311.7" cy="2329.3" r="4.1"/><circle cx="347.1" cy="2302.0" r="4.1"/><circle cx="320.2" cy="2303.9" r="4.1"/><circle cx="370.3" cy="2348.1" r="4.1"/><circle cx="313.6" cy="2304.5" r="4.1"/><circle cx="354.6" cy="2293.6" r="4.1"/><circle cx="317.9" cy="2306.4" r="4.1"/><circle cx="415.6" cy="2324.6" r="4.1"/><circle cx="371.9" cy="2323.4" r="4.1"/><circle cx="313.8" cy="2319.0" r="4.1"/><circle cx="414.2" cy="2308.7" r="4.1"/><circle cx="367.4" cy="2288.1" r="4.1"/><circle cx="320.9" cy="2354.8" r="4.1"/><circle cx="372.2" cy="2304.9" r="4.1"/><circle cx="325.3" cy="2320.1" r="4.1"/><circle cx="332.1" cy="2314.3" r="4.1"/><circle cx="354.8" cy="2299.1" r="4.1"/><circle cx="404.6" cy="2316.4" r="4.1"/><circle cx="285.6" cy="2352.2" r="4.1"/><circle cx="349.6" cy="2282.6" r="4.1"/><circle cx="343.2" cy="2317.1" r="4.1"/><circle cx="358.4" cy="2263.1" r="4.1"/><circle cx="330.8" cy="2262.3" r="4.1"/><circle cx="335.6" cy="2352.3" r="4.1"/><circle cx="352.6" cy="2335.4" r="4.1"/><circle cx="384.2" cy="2267.0" r="4.1"/><circle cx="420.0" cy="2336.2" r="4.1"/><circle cx="284.0" cy="2348.6" r="4.1"/><circle cx="328.4" cy="2273.5" r="4.1"/><circle cx="415.3" cy="2318.1" r="4.1"/><circle cx="387.0" cy="2269.5" r="4.1"/><circle cx="376.6" cy="2302.5" r="4.1"/><circle cx="404.4" cy="2324.7" r="4.1"/><circle cx="401.8" cy="2318.1" r="4.1"/><circle cx="294.1" cy="2338.9" r="4.1"/><circle cx="320.6" cy="2341.0" r="4.1"/><circle cx="372.5" cy="2348.0" r="4.1"/><circle cx="381.2" cy="2362.0" r="4.1"/><circle cx="360.8" cy="2265.3" r="4.1"/><circle cx="352.4" cy="2345.5" r="4.1"/><circle cx="371.7" cy="2283.0" r="4.1"/></g>
<g fill="#4f62a0"><circle cx="320.8" cy="2407.9" r="4.1"/><circle cx="409.0" cy="2422.0" r="4.1"/><circle cx="319.8" cy="2419.1" r="4.1"/><circle cx="334.1" cy="2433.0" r="4.1"/><circle cx="346.5" cy="2376.4" r="4.1"/><circle cx="414.1" cy="2417.5" r="4.1"/><circle cx="388.7" cy="2445.6" r="4.1"/><circle cx="341.2" cy="2377.1" r="4.1"/><circle cx="363.0" cy="2452.4" r="4.1"/><circle cx="387.3" cy="2402.3" r="4.1"/><circle cx="359.5" cy="2377.9" r="4.1"/><circle cx="410.0" cy="2402.4" r="4.1"/><circle cx="413.8" cy="2425.0" r="4.1"/><circle cx="304.8" cy="2395.7" r="4.1"/><circle cx="317.6" cy="2399.0" r="4.1"/><circle cx="358.4" cy="2421.5" r="4.1"/><circle cx="347.5" cy="2398.2" r="4.1"/><circle cx="340.1" cy="2363.5" r="4.1"/><circle cx="357.2" cy="2464.2" r="4.1"/><circle cx="386.2" cy="2389.8" r="4.1"/><circle cx="331.8" cy="2413.5" r="4.1"/><circle cx="330.3" cy="2420.7" r="4.1"/><circle cx="366.6" cy="2461.1" r="4.1"/><circle cx="371.1" cy="2441.7" r="4.1"/><circle cx="413.7" cy="2442.1" r="4.1"/><circle cx="381.0" cy="2427.5" r="4.1"/><circle cx="344.0" cy="2390.7" r="4.1"/><circle cx="403.2" cy="2452.3" r="4.1"/><circle cx="422.8" cy="2432.4" r="4.1"/><circle cx="336.0" cy="2440.9" r="4.1"/><circle cx="395.5" cy="2414.4" r="4.1"/><circle cx="381.3" cy="2397.9" r="4.1"/><circle cx="369.7" cy="2403.7" r="4.1"/><circle cx="302.7" cy="2396.5" r="4.1"/><circle cx="360.3" cy="2399.7" r="4.1"/><circle cx="327.7" cy="2385.9" r="4.1"/><circle cx="342.2" cy="2375.5" r="4.1"/><circle cx="356.4" cy="2407.8" r="4.1"/><circle cx="372.2" cy="2392.9" r="4.1"/><circle cx="317.5" cy="2368.3" r="4.1"/><circle cx="335.6" cy="2393.5" r="4.1"/><circle cx="393.8" cy="2418.8" r="4.1"/><circle cx="422.6" cy="2396.9" r="4.1"/><circle cx="420.4" cy="2422.2" r="4.1"/><circle cx="305.4" cy="2380.0" r="4.1"/><circle cx="343.2" cy="2442.1" r="4.1"/><circle cx="353.0" cy="2451.9" r="4.1"/><circle cx="417.4" cy="2390.1" r="4.1"/><circle cx="316.9" cy="2389.3" r="4.1"/><circle cx="390.7" cy="2384.1" r="4.1"/><circle cx="349.1" cy="2382.3" r="4.1"/><circle cx="376.9" cy="2451.4" r="4.1"/><circle cx="383.0" cy="2381.9" r="4.1"/><circle cx="376.6" cy="2369.7" r="4.1"/><circle cx="405.1" cy="2452.6" r="4.1"/><circle cx="341.1" cy="2375.6" r="4.1"/><circle cx="320.2" cy="2417.3" r="4.1"/><circle cx="414.1" cy="2428.1" r="4.1"/><circle cx="420.6" cy="2383.5" r="4.1"/><circle cx="339.1" cy="2439.5" r="4.1"/><circle cx="383.2" cy="2403.6" r="4.1"/><circle cx="387.3" cy="2396.6" r="4.1"/><circle cx="340.2" cy="2412.9" r="4.1"/><circle cx="376.2" cy="2388.2" r="4.1"/><circle cx="420.9" cy="2420.2" r="4.1"/><circle cx="378.4" cy="2436.8" r="4.1"/><circle cx="339.4" cy="2371.1" r="4.1"/><circle cx="315.8" cy="2376.3" r="4.1"/><circle cx="399.3" cy="2370.8" r="4.1"/><circle cx="405.7" cy="2405.5" r="4.1"/><circle cx="368.1" cy="2422.7" r="4.1"/><circle cx="370.3" cy="2429.9" r="4.1"/><circle cx="376.7" cy="2395.9" r="4.1"/><circle cx="395.8" cy="2388.3" r="4.1"/><circle cx="391.7" cy="2440.9" r="4.1"/><circle cx="400.5" cy="2393.6" r="4.1"/><circle cx="356.4" cy="2390.4" r="4.1"/><circle cx="366.0" cy="2459.4" r="4.1"/><circle cx="359.5" cy="2429.7" r="4.1"/><circle cx="400.3" cy="2399.2" r="4.1"/><circle cx="397.9" cy="2370.8" r="4.1"/><circle cx="370.3" cy="2380.3" r="4.1"/><circle cx="422.9" cy="2399.5" r="4.1"/><circle cx="314.8" cy="2379.9" r="4.1"/><circle cx="400.8" cy="2386.7" r="4.1"/><circle cx="428.7" cy="2413.4" r="4.1"/><circle cx="381.4" cy="2397.3" r="4.1"/><circle cx="403.9" cy="2409.3" r="4.1"/><circle cx="338.7" cy="2455.5" r="4.1"/><circle cx="349.4" cy="2451.4" r="4.1"/><circle cx="350.5" cy="2457.2" r="4.1"/><circle cx="423.6" cy="2426.7" r="4.1"/><circle cx="325.1" cy="2387.6" r="4.1"/><circle cx="330.3" cy="2406.6" r="4.1"/><circle cx="326.1" cy="2382.6" r="4.1"/><circle cx="398.2" cy="2428.4" r="4.1"/><circle cx="324.0" cy="2420.7" r="4.1"/><circle cx="413.3" cy="2389.2" r="4.1"/><circle cx="397.2" cy="2447.1" r="4.1"/><circle cx="333.1" cy="2395.9" r="4.1"/><circle cx="360.8" cy="2454.2" r="4.1"/><circle cx="376.1" cy="2408.6" r="4.1"/><circle cx="373.6" cy="2453.4" r="4.1"/><circle cx="343.7" cy="2442.6" r="4.1"/><circle cx="412.5" cy="2380.4" r="4.1"/><circle cx="335.1" cy="2363.9" r="4.1"/><circle cx="307.8" cy="2379.0" r="4.1"/><circle cx="387.8" cy="2370.8" r="4.1"/><circle cx="340.8" cy="2457.1" r="4.1"/><circle cx="392.4" cy="2453.3" r="4.1"/><circle cx="363.4" cy="2385.5" r="4.1"/><circle cx="353.3" cy="2372.3" r="4.1"/><circle cx="337.7" cy="2452.9" r="4.1"/><circle cx="313.0" cy="2406.0" r="4.1"/><circle cx="362.9" cy="2373.1" r="4.1"/><circle cx="342.8" cy="2413.1" r="4.1"/><circle cx="420.0" cy="2397.8" r="4.1"/><circle cx="415.2" cy="2437.6" r="4.1"/><circle cx="331.7" cy="2379.9" r="4.1"/><circle cx="330.6" cy="2368.6" r="4.1"/><circle cx="350.2" cy="2419.4" r="4.1"/><circle cx="344.0" cy="2362.5" r="4.1"/><circle cx="388.5" cy="2429.4" r="4.1"/><circle cx="368.8" cy="2418.6" r="4.1"/><circle cx="413.9" cy="2436.2" r="4.1"/><circle cx="349.0" cy="2394.6" r="4.1"/><circle cx="351.7" cy="2462.8" r="4.1"/><circle cx="347.3" cy="2401.6" r="4.1"/><circle cx="350.5" cy="2376.3" r="4.1"/><circle cx="377.5" cy="2457.9" r="4.1"/><circle cx="329.2" cy="2425.0" r="4.1"/><circle cx="346.0" cy="2386.5" r="4.1"/><circle cx="321.6" cy="2373.5" r="4.1"/><circle cx="409.7" cy="2443.1" r="4.1"/><circle cx="389.3" cy="2395.2" r="4.1"/><circle cx="382.8" cy="2418.6" r="4.1"/><circle cx="411.1" cy="2414.5" r="4.1"/><circle cx="326.5" cy="2427.0" r="4.1"/><circle cx="396.1" cy="2400.9" r="4.1"/><circle cx="391.8" cy="2402.4" r="4.1"/><circle cx="366.4" cy="2425.2" r="4.1"/><circle cx="387.0" cy="2395.0" r="4.1"/><circle cx="380.4" cy="2418.0" r="4.1"/><circle cx="324.9" cy="2425.2" r="4.1"/><circle cx="359.1" cy="2436.6" r="4.1"/><circle cx="365.8" cy="2411.1" r="4.1"/><circle cx="324.7" cy="2376.2" r="4.1"/><circle cx="421.2" cy="2416.5" r="4.1"/><circle cx="366.1" cy="2416.4" r="4.1"/><circle cx="405.6" cy="2386.3" r="4.1"/><circle cx="357.4" cy="2428.1" r="4.1"/><circle cx="346.6" cy="2448.1" r="4.1"/><circle cx="406.2" cy="2374.2" r="4.1"/><circle cx="315.5" cy="2387.6" r="4.1"/><circle cx="308.5" cy="2398.6" r="4.1"/><circle cx="404.3" cy="2415.7" r="4.1"/><circle cx="356.3" cy="2370.6" r="4.1"/><circle cx="389.5" cy="2408.2" r="4.1"/><circle cx="359.8" cy="2444.6" r="4.1"/><circle cx="398.2" cy="2377.0" r="4.1"/><circle cx="387.4" cy="2399.6" r="4.1"/><circle cx="365.6" cy="2386.2" r="4.1"/><circle cx="345.1" cy="2396.8" r="4.1"/><circle cx="346.5" cy="2363.2" r="4.1"/><circle cx="321.9" cy="2420.8" r="4.1"/><circle cx="392.6" cy="2390.0" r="4.1"/><circle cx="338.7" cy="2386.6" r="4.1"/><circle cx="381.4" cy="2450.9" r="4.1"/><circle cx="322.0" cy="2405.5" r="4.1"/><circle cx="402.8" cy="2425.8" r="4.1"/><circle cx="345.2" cy="2366.0" r="4.1"/><circle cx="354.9" cy="2399.6" r="4.1"/><circle cx="391.9" cy="2392.2" r="4.1"/><circle cx="350.2" cy="2428.9" r="4.1"/><circle cx="405.3" cy="2398.1" r="4.1"/><circle cx="347.1" cy="2421.7" r="4.1"/><circle cx="420.9" cy="2381.4" r="4.1"/><circle cx="345.3" cy="2430.7" r="4.1"/><circle cx="339.5" cy="2368.8" r="4.1"/><circle cx="397.8" cy="2400.9" r="4.1"/><circle cx="366.3" cy="2413.1" r="4.1"/><circle cx="417.7" cy="2440.3" r="4.1"/><circle cx="357.7" cy="2409.5" r="4.1"/><circle cx="409.2" cy="2404.6" r="4.1"/><circle cx="359.2" cy="2454.2" r="4.1"/><circle cx="354.6" cy="2412.6" r="4.1"/><circle cx="364.4" cy="2447.3" r="4.1"/><circle cx="386.1" cy="2438.5" r="4.1"/><circle cx="349.3" cy="2365.6" r="4.1"/><circle cx="387.4" cy="2419.1" r="4.1"/><circle cx="399.6" cy="2441.6" r="4.1"/><circle cx="310.6" cy="2384.4" r="4.1"/><circle cx="397.4" cy="2420.2" r="4.1"/><circle cx="391.7" cy="2411.7" r="4.1"/><circle cx="351.6" cy="2422.2" r="4.1"/><circle cx="413.7" cy="2376.6" r="4.1"/><circle cx="340.1" cy="2415.4" r="4.1"/><circle cx="332.0" cy="2388.7" r="4.1"/><circle cx="337.2" cy="2388.0" r="4.1"/><circle cx="411.9" cy="2419.3" r="4.1"/><circle cx="364.3" cy="2405.2" r="4.1"/><circle cx="301.4" cy="2393.1" r="4.1"/><circle cx="412.9" cy="2444.9" r="4.1"/><circle cx="411.6" cy="2388.2" r="4.1"/><circle cx="322.0" cy="2366.8" r="4.1"/><circle cx="367.8" cy="2400.3" r="4.1"/><circle cx="357.9" cy="2412.3" r="4.1"/><circle cx="374.2" cy="2399.5" r="4.1"/><circle cx="404.0" cy="2382.3" r="4.1"/><circle cx="420.1" cy="2419.3" r="4.1"/><circle cx="301.4" cy="2394.1" r="4.1"/><circle cx="367.3" cy="2404.0" r="4.1"/><circle cx="371.7" cy="2395.1" r="4.1"/><circle cx="331.8" cy="2444.3" r="4.1"/><circle cx="334.3" cy="2435.4" r="4.1"/><circle cx="404.2" cy="2423.1" r="4.1"/><circle cx="356.6" cy="2458.8" r="4.1"/><circle cx="355.3" cy="2452.9" r="4.1"/><circle cx="376.0" cy="2380.2" r="4.1"/><circle cx="420.6" cy="2419.8" r="4.1"/><circle cx="403.9" cy="2413.3" r="4.1"/><circle cx="386.6" cy="2431.7" r="4.1"/><circle cx="334.7" cy="2383.4" r="4.1"/><circle cx="409.1" cy="2376.6" r="4.1"/><circle cx="419.9" cy="2383.0" r="4.1"/><circle cx="351.1" cy="2430.0" r="4.1"/><circle cx="388.2" cy="2377.5" r="4.1"/><circle cx="334.6" cy="2385.6" r="4.1"/><circle cx="374.0" cy="2394.6" r="4.1"/><circle cx="371.1" cy="2377.4" r="4.1"/><circle cx="419.1" cy="2395.2" r="4.1"/><circle cx="409.5" cy="2377.2" r="4.1"/><circle cx="348.0" cy="2364.8" r="4.1"/><circle cx="346.4" cy="2428.2" r="4.1"/><circle cx="325.0" cy="2418.3" r="4.1"/><circle cx="394.0" cy="2406.2" r="4.1"/><circle cx="387.3" cy="2373.3" r="4.1"/><circle cx="407.7" cy="2374.1" r="4.1"/><circle cx="422.9" cy="2416.2" r="4.1"/><circle cx="334.2" cy="2397.6" r="4.1"/><circle cx="397.0" cy="2413.1" r="4.1"/><circle cx="360.7" cy="2451.4" r="4.1"/><circle cx="376.2" cy="2417.7" r="4.1"/><circle cx="410.0" cy="2385.1" r="4.1"/><circle cx="341.5" cy="2459.8" r="4.1"/><circle cx="340.0" cy="2408.2" r="4.1"/><circle cx="328.2" cy="2438.7" r="4.1"/><circle cx="335.2" cy="2368.6" r="4.1"/><circle cx="370.9" cy="2371.4" r="4.1"/><circle cx="369.8" cy="2443.5" r="4.1"/><circle cx="375.9" cy="2409.5" r="4.1"/><circle cx="342.7" cy="2400.4" r="4.1"/><circle cx="385.1" cy="2378.5" r="4.1"/><circle cx="339.8" cy="2449.2" r="4.1"/><circle cx="413.9" cy="2411.4" r="4.1"/><circle cx="314.8" cy="2371.2" r="4.1"/><circle cx="362.3" cy="2417.2" r="4.1"/><circle cx="316.8" cy="2417.2" r="4.1"/><circle cx="363.7" cy="2399.6" r="4.1"/><circle cx="321.5" cy="2403.5" r="4.1"/><circle cx="322.2" cy="2374.6" r="4.1"/><circle cx="363.0" cy="2454.2" r="4.1"/><circle cx="361.2" cy="2443.8" r="4.1"/><circle cx="372.4" cy="2433.2" r="4.1"/><circle cx="315.4" cy="2388.9" r="4.1"/><circle cx="365.3" cy="2391.8" r="4.1"/><circle cx="373.5" cy="2385.8" r="4.1"/><circle cx="375.8" cy="2443.1" r="4.1"/><circle cx="328.0" cy="2423.8" r="4.1"/><circle cx="379.0" cy="2433.5" r="4.1"/><circle cx="405.8" cy="2397.0" r="4.1"/><circle cx="405.3" cy="2409.5" r="4.1"/><circle cx="423.0" cy="2404.3" r="4.1"/><circle cx="350.1" cy="2370.6" r="4.1"/><circle cx="327.9" cy="2437.8" r="4.1"/><circle cx="387.2" cy="2377.2" r="4.1"/><circle cx="341.5" cy="2376.0" r="4.1"/><circle cx="321.5" cy="2384.3" r="4.1"/><circle cx="360.0" cy="2413.2" r="4.1"/><circle cx="397.2" cy="2427.7" r="4.1"/><circle cx="321.6" cy="2426.5" r="4.1"/><circle cx="410.1" cy="2443.3" r="4.1"/><circle cx="342.2" cy="2378.3" r="4.1"/><circle cx="426.5" cy="2431.5" r="4.1"/><circle cx="396.4" cy="2375.5" r="4.1"/><circle cx="418.1" cy="2439.0" r="4.1"/><circle cx="408.3" cy="2445.0" r="4.1"/><circle cx="375.1" cy="2406.7" r="4.1"/><circle cx="407.3" cy="2443.1" r="4.1"/><circle cx="413.5" cy="2392.5" r="4.1"/><circle cx="425.8" cy="2416.8" r="4.1"/><circle cx="326.2" cy="2382.0" r="4.1"/><circle cx="357.0" cy="2386.1" r="4.1"/><circle cx="361.8" cy="2456.0" r="4.1"/><circle cx="388.1" cy="2435.4" r="4.1"/><circle cx="348.0" cy="2443.1" r="4.1"/><circle cx="402.9" cy="2432.5" r="4.1"/><circle cx="350.0" cy="2370.5" r="4.1"/><circle cx="383.6" cy="2448.5" r="4.1"/><circle cx="340.9" cy="2423.4" r="4.1"/></g>
<g fill="#fe7f00"><circle cx="453.7" cy="2207.9" r="4.1"/><circle cx="451.7" cy="2183.5" r="4.1"/><circle cx="434.8" cy="2186.1" r="4.1"/><circle cx="412.9" cy="2170.2" r="4.1"/><circle cx="414.4" cy="2211.3" r="4.1"/><circle cx="436.0" cy="2175.3" r="4.1"/><circle cx="392.7" cy="2173.9" r="4.1"/><circle cx="442.7" cy="2185.1" r="4.1"/><circle cx="439.4" cy="2208.8" r="4.1"/><circle cx="400.6" cy="2174.0" r="4.1"/><circle cx="435.3" cy="2214.5" r="4.1"/><circle cx="417.7" cy="2188.8" r="4.1"/><circle cx="422.6" cy="2209.0" r="4.1"/><circle cx="406.0" cy="2179.2" r="4.1"/><circle cx="393.8" cy="2192.3" r="4.1"/><circle cx="415.0" cy="2199.3" r="4.1"/><circle cx="437.0" cy="2180.8" r="4.1"/><circle cx="428.1" cy="2200.3" r="4.1"/><circle cx="441.2" cy="2192.6" r="4.1"/><circle cx="422.0" cy="2205.2" r="4.1"/><circle cx="458.1" cy="2203.7" r="4.1"/><circle cx="412.1" cy="2165.2" r="4.1"/><circle cx="463.1" cy="2214.3" r="4.1"/><circle cx="397.3" cy="2194.5" r="4.1"/><circle cx="417.5" cy="2204.9" r="4.1"/><circle cx="437.8" cy="2174.6" r="4.1"/><circle cx="429.9" cy="2183.7" r="4.1"/><circle cx="451.1" cy="2200.3" r="4.1"/><circle cx="443.3" cy="2201.3" r="4.1"/><circle cx="408.2" cy="2166.8" r="4.1"/><circle cx="432.4" cy="2210.1" r="4.1"/><circle cx="450.2" cy="2178.9" r="4.1"/><circle cx="397.0" cy="2189.9" r="4.1"/><circle cx="411.0" cy="2159.8" r="4.1"/><circle cx="409.8" cy="2181.2" r="4.1"/><circle cx="400.8" cy="2176.4" r="4.1"/><circle cx="411.7" cy="2184.8" r="4.1"/><circle cx="394.4" cy="2173.2" r="4.1"/><circle cx="417.6" cy="2181.4" r="4.1"/><circle cx="422.2" cy="2210.8" r="4.1"/><circle cx="437.4" cy="2207.0" r="4.1"/><circle cx="411.2" cy="2166.2" r="4.1"/><circle cx="447.2" cy="2186.9" r="4.1"/><circle cx="431.1" cy="2199.9" r="4.1"/><circle cx="428.7" cy="2175.1" r="4.1"/><circle cx="436.9" cy="2173.2" r="4.1"/><circle cx="452.9" cy="2193.2" r="4.1"/><circle cx="407.2" cy="2172.1" r="4.1"/><circle cx="446.9" cy="2200.4" r="4.1"/><circle cx="419.2" cy="2208.9" r="4.1"/><circle cx="394.6" cy="2176.3" r="4.1"/><circle cx="438.1" cy="2219.3" r="4.1"/><circle cx="437.2" cy="2201.3" r="4.1"/><circle cx="448.6" cy="2182.0" r="4.1"/><circle cx="462.1" cy="2204.6" r="4.1"/><circle cx="413.4" cy="2181.8" r="4.1"/><circle cx="428.9" cy="2190.2" r="4.1"/><circle cx="440.1" cy="2215.0" r="4.1"/><circle cx="396.5" cy="2178.3" r="4.1"/><circle cx="390.9" cy="2183.2" r="4.1"/><circle cx="426.5" cy="2211.8" r="4.1"/><circle cx="439.9" cy="2193.9" r="4.1"/><circle cx="418.4" cy="2193.6" r="4.1"/><circle cx="407.9" cy="2211.3" r="4.1"/><circle cx="449.8" cy="2210.9" r="4.1"/><circle cx="397.9" cy="2200.0" r="4.1"/><circle cx="447.0" cy="2188.9" r="4.1"/><circle cx="458.7" cy="2214.8" r="4.1"/><circle cx="446.1" cy="2209.7" r="4.1"/><circle cx="438.4" cy="2213.5" r="4.1"/><circle cx="442.9" cy="2196.2" r="4.1"/><circle cx="408.0" cy="2160.7" r="4.1"/><circle cx="434.7" cy="2210.0" r="4.1"/><circle cx="407.8" cy="2170.2" r="4.1"/><circle cx="403.8" cy="2162.4" r="4.1"/><circle cx="440.6" cy="2219.8" r="4.1"/><circle cx="450.9" cy="2179.7" r="4.1"/><circle cx="396.9" cy="2174.2" r="4.1"/><circle cx="390.4" cy="2185.3" r="4.1"/><circle cx="430.7" cy="2208.9" r="4.1"/><circle cx="394.6" cy="2170.9" r="4.1"/><circle cx="436.8" cy="2178.4" r="4.1"/><circle cx="412.5" cy="2193.3" r="4.1"/><circle cx="403.3" cy="2207.9" r="4.1"/><circle cx="402.6" cy="2210.9" r="4.1"/><circle cx="451.4" cy="2191.3" r="4.1"/><circle cx="420.1" cy="2160.4" r="4.1"/><circle cx="436.9" cy="2203.5" r="4.1"/><circle cx="433.2" cy="2182.3" r="4.1"/><circle cx="427.3" cy="2194.6" r="4.1"/></g>
<g fill="#fde31c"><circle cx="429.5" cy="2307.2" r="4.1"/><circle cx="437.7" cy="2295.2" r="4.1"/><circle cx="446.8" cy="2280.3" r="4.1"/><circle cx="441.5" cy="2296.4" r="4.1"/><circle cx="447.3" cy="2297.5" r="4.1"/><circle cx="447.3" cy="2291.7" r="4.1"/><circle cx="434.1" cy="2309.2" r="4.1"/><circle cx="450.2" cy="2280.3" r="4.1"/><circle cx="438.5" cy="2304.2" r="4.1"/><circle cx="441.6" cy="2283.8" r="4.1"/><circle cx="422.2" cy="2309.9" r="4.1"/><circle cx="446.8" cy="2312.3" r="4.1"/><circle cx="447.6" cy="2275.7" r="4.1"/><circle cx="443.8" cy="2308.3" r="4.1"/><circle cx="438.7" cy="2292.3" r="4.1"/><circle cx="453.8" cy="2275.6" r="4.1"/><circle cx="437.7" cy="2288.8" r="4.1"/><circle cx="444.2" cy="2296.7" r="4.1"/><circle cx="445.5" cy="2297.2" r="4.1"/><circle cx="446.2" cy="2281.4" r="4.1"/><circle cx="426.5" cy="2309.9" r="4.1"/><circle cx="429.9" cy="2315.0" r="4.1"/><circle cx="444.1" cy="2299.0" r="4.1"/><circle cx="430.0" cy="2311.3" r="4.1"/><circle cx="454.3" cy="2267.8" r="4.1"/><circle cx="448.5" cy="2257.5" r="4.1"/></g>
<g fill="#fde31c"><circle cx="495.2" cy="2292.2" r="4.1"/><circle cx="480.1" cy="2266.1" r="4.1"/><circle cx="483.7" cy="2281.9" r="4.1"/><circle cx="463.5" cy="2216.4" r="4.1"/><circle cx="481.8" cy="2237.2" r="4.1"/><circle cx="492.9" cy="2283.0" r="4.1"/><circle cx="478.4" cy="2222.4" r="4.1"/><circle cx="477.2" cy="2221.3" r="4.1"/><circle cx="474.2" cy="2219.9" r="4.1"/><circle cx="489.0" cy="2286.3" r="4.1"/><circle cx="474.8" cy="2238.2" r="4.1"/><circle cx="487.5" cy="2264.3" r="4.1"/><circle cx="480.8" cy="2251.7" r="4.1"/><circle cx="476.4" cy="2265.3" r="4.1"/><circle cx="489.1" cy="2281.7" r="4.1"/><circle cx="487.1" cy="2286.3" r="4.1"/><circle cx="470.3" cy="2238.0" r="4.1"/><circle cx="474.1" cy="2240.1" r="4.1"/><circle cx="493.2" cy="2299.0" r="4.1"/><circle cx="495.1" cy="2292.6" r="4.1"/><circle cx="490.7" cy="2289.8" r="4.1"/><circle cx="474.8" cy="2258.9" r="4.1"/><circle cx="481.2" cy="2268.8" r="4.1"/><circle cx="487.3" cy="2272.3" r="4.1"/><circle cx="489.6" cy="2277.8" r="4.1"/><circle cx="470.2" cy="2234.2" r="4.1"/><circle cx="483.6" cy="2269.3" r="4.1"/><circle cx="483.8" cy="2272.7" r="4.1"/></g>
<g fill="#fde31c"><circle cx="295.5" cy="2456.7" r="4.1"/><circle cx="285.8" cy="2475.0" r="4.1"/><circle cx="292.1" cy="2489.4" r="4.1"/><circle cx="293.2" cy="2470.6" r="4.1"/><circle cx="308.3" cy="2472.5" r="4.1"/><circle cx="307.6" cy="2463.8" r="4.1"/><circle cx="307.2" cy="2458.7" r="4.1"/><circle cx="306.9" cy="2479.0" r="4.1"/><circle cx="295.6" cy="2486.9" r="4.1"/><circle cx="286.8" cy="2490.4" r="4.1"/><circle cx="291.2" cy="2468.4" r="4.1"/><circle cx="301.8" cy="2455.1" r="4.1"/><circle cx="291.1" cy="2490.8" r="4.1"/><circle cx="292.5" cy="2469.1" r="4.1"/><circle cx="311.3" cy="2461.0" r="4.1"/><circle cx="289.0" cy="2460.7" r="4.1"/><circle cx="296.4" cy="2468.3" r="4.1"/><circle cx="306.5" cy="2473.9" r="4.1"/><circle cx="298.5" cy="2455.3" r="4.1"/><circle cx="299.4" cy="2486.4" r="4.1"/><circle cx="300.1" cy="2458.4" r="4.1"/><circle cx="290.4" cy="2472.2" r="4.1"/><circle cx="295.5" cy="2473.7" r="4.1"/><circle cx="290.8" cy="2458.2" r="4.1"/><circle cx="317.5" cy="2473.3" r="4.1"/><circle cx="299.1" cy="2465.9" r="4.1"/><circle cx="289.4" cy="2483.8" r="4.1"/><circle cx="295.5" cy="2455.5" r="4.1"/><circle cx="306.9" cy="2476.1" r="4.1"/><circle cx="290.5" cy="2475.3" r="4.1"/><circle cx="305.0" cy="2483.2" r="4.1"/><circle cx="287.1" cy="2491.2" r="4.1"/><circle cx="314.9" cy="2468.5" r="4.1"/><circle cx="290.3" cy="2480.5" r="4.1"/><circle cx="298.5" cy="2456.6" r="4.1"/><circle cx="288.9" cy="2488.3" r="4.1"/></g>
<g fill="#9a9a9a"><circle cx="579.6" cy="2248.3" r="4.1"/><circle cx="571.9" cy="2238.2" r="4.1"/><circle cx="564.7" cy="2230.3" r="4.1"/><circle cx="581.2" cy="2220.1" r="4.1"/><circle cx="590.2" cy="2219.5" r="4.1"/><circle cx="568.5" cy="2227.5" r="4.1"/><circle cx="569.4" cy="2237.8" r="4.1"/><circle cx="565.8" cy="2229.4" r="4.1"/><circle cx="578.7" cy="2239.4" r="4.1"/><circle cx="560.7" cy="2221.0" r="4.1"/><circle cx="561.2" cy="2217.0" r="4.1"/><circle cx="577.0" cy="2234.3" r="4.1"/><circle cx="564.8" cy="2218.2" r="4.1"/><circle cx="579.7" cy="2229.3" r="4.1"/><circle cx="582.9" cy="2245.2" r="4.1"/><circle cx="594.8" cy="2227.6" r="4.1"/><circle cx="567.1" cy="2222.9" r="4.1"/><circle cx="572.7" cy="2232.3" r="4.1"/><circle cx="590.8" cy="2243.2" r="4.1"/><circle cx="582.5" cy="2231.7" r="4.1"/><circle cx="559.8" cy="2221.2" r="4.1"/><circle cx="582.7" cy="2234.5" r="4.1"/><circle cx="588.8" cy="2246.7" r="4.1"/><circle cx="579.0" cy="2218.7" r="4.1"/><circle cx="584.2" cy="2221.6" r="4.1"/><circle cx="564.9" cy="2225.9" r="4.1"/></g>
<g fill="#e383c3"><circle cx="510.7" cy="2385.9" r="4.1"/><circle cx="484.3" cy="2389.4" r="4.1"/><circle cx="516.6" cy="2374.5" r="4.1"/><circle cx="519.4" cy="2392.6" r="4.1"/><circle cx="519.7" cy="2387.6" r="4.1"/><circle cx="517.9" cy="2358.3" r="4.1"/><circle cx="493.6" cy="2372.2" r="4.1"/><circle cx="532.7" cy="2361.2" r="4.1"/><circle cx="523.1" cy="2368.3" r="4.1"/><circle cx="518.9" cy="2390.8" r="4.1"/><circle cx="503.8" cy="2371.7" r="4.1"/><circle cx="535.2" cy="2380.3" r="4.1"/><circle cx="500.8" cy="2387.4" r="4.1"/><circle cx="519.6" cy="2357.3" r="4.1"/><circle cx="524.9" cy="2394.6" r="4.1"/><circle cx="517.6" cy="2383.5" r="4.1"/><circle cx="491.5" cy="2390.8" r="4.1"/><circle cx="528.1" cy="2381.6" r="4.1"/><circle cx="514.5" cy="2359.3" r="4.1"/><circle cx="522.5" cy="2363.5" r="4.1"/><circle cx="490.2" cy="2386.9" r="4.1"/><circle cx="495.5" cy="2387.7" r="4.1"/><circle cx="499.7" cy="2377.3" r="4.1"/><circle cx="498.8" cy="2371.5" r="4.1"/><circle cx="508.1" cy="2362.7" r="4.1"/><circle cx="516.6" cy="2386.9" r="4.1"/><circle cx="495.4" cy="2392.2" r="4.1"/><circle cx="522.7" cy="2367.3" r="4.1"/><circle cx="534.4" cy="2379.4" r="4.1"/><circle cx="520.6" cy="2369.7" r="4.1"/><circle cx="522.0" cy="2361.1" r="4.1"/><circle cx="526.7" cy="2392.8" r="4.1"/><circle cx="485.5" cy="2380.8" r="4.1"/><circle cx="491.2" cy="2387.5" r="4.1"/><circle cx="527.1" cy="2392.2" r="4.1"/><circle cx="518.9" cy="2379.6" r="4.1"/><circle cx="517.2" cy="2361.7" r="4.1"/><circle cx="495.2" cy="2371.8" r="4.1"/><circle cx="511.2" cy="2388.5" r="4.1"/><circle cx="481.8" cy="2388.5" r="4.1"/><circle cx="517.5" cy="2386.6" r="4.1"/><circle cx="518.8" cy="2362.8" r="4.1"/><circle cx="525.2" cy="2394.1" r="4.1"/><circle cx="526.6" cy="2365.5" r="4.1"/><circle cx="498.5" cy="2388.3" r="4.1"/><circle cx="510.6" cy="2368.5" r="4.1"/><circle cx="522.0" cy="2377.7" r="4.1"/><circle cx="525.4" cy="2354.3" r="4.1"/><circle cx="508.3" cy="2362.4" r="4.1"/><circle cx="519.2" cy="2360.7" r="4.1"/><circle cx="498.7" cy="2374.8" r="4.1"/><circle cx="521.7" cy="2391.0" r="4.1"/><circle cx="501.8" cy="2373.1" r="4.1"/><circle cx="506.7" cy="2383.6" r="4.1"/></g>
<g fill="#c46660"><circle cx="362.2" cy="2531.3" r="4.1"/><circle cx="342.5" cy="2566.6" r="4.1"/><circle cx="367.6" cy="2542.1" r="4.1"/><circle cx="367.5" cy="2518.5" r="4.1"/><circle cx="343.8" cy="2513.4" r="4.1"/><circle cx="345.9" cy="2549.5" r="4.1"/><circle cx="369.8" cy="2521.1" r="4.1"/><circle cx="346.2" cy="2567.7" r="4.1"/><circle cx="355.2" cy="2534.3" r="4.1"/><circle cx="344.4" cy="2526.9" r="4.1"/><circle cx="349.3" cy="2565.8" r="4.1"/><circle cx="356.9" cy="2582.6" r="4.1"/><circle cx="361.6" cy="2530.5" r="4.1"/><circle cx="356.7" cy="2563.9" r="4.1"/><circle cx="366.3" cy="2518.0" r="4.1"/><circle cx="343.8" cy="2571.5" r="4.1"/><circle cx="352.1" cy="2527.3" r="4.1"/><circle cx="349.1" cy="2544.6" r="4.1"/><circle cx="370.6" cy="2533.0" r="4.1"/><circle cx="346.2" cy="2566.1" r="4.1"/><circle cx="352.2" cy="2522.6" r="4.1"/><circle cx="355.0" cy="2572.1" r="4.1"/><circle cx="370.9" cy="2552.8" r="4.1"/><circle cx="361.7" cy="2578.2" r="4.1"/><circle cx="370.4" cy="2571.9" r="4.1"/><circle cx="349.5" cy="2536.5" r="4.1"/><circle cx="353.4" cy="2535.5" r="4.1"/><circle cx="353.5" cy="2516.5" r="4.1"/><circle cx="354.7" cy="2557.6" r="4.1"/><circle cx="371.8" cy="2566.9" r="4.1"/><circle cx="368.8" cy="2585.3" r="4.1"/><circle cx="366.1" cy="2566.9" r="4.1"/><circle cx="369.1" cy="2527.7" r="4.1"/><circle cx="363.5" cy="2537.7" r="4.1"/><circle cx="359.3" cy="2534.2" r="4.1"/><circle cx="369.4" cy="2534.9" r="4.1"/><circle cx="370.2" cy="2574.2" r="4.1"/><circle cx="364.2" cy="2558.9" r="4.1"/><circle cx="359.6" cy="2543.5" r="4.1"/><circle cx="352.2" cy="2569.1" r="4.1"/><circle cx="368.0" cy="2575.9" r="4.1"/><circle cx="347.7" cy="2534.5" r="4.1"/></g>
<g fill="#a24d86"><circle cx="425.3" cy="2512.1" r="4.1"/><circle cx="499.1" cy="2566.9" r="4.1"/><circle cx="449.4" cy="2547.0" r="4.1"/><circle cx="508.4" cy="2537.0" r="4.1"/><circle cx="508.9" cy="2553.3" r="4.1"/><circle cx="477.4" cy="2559.2" r="4.1"/><circle cx="470.5" cy="2537.8" r="4.1"/><circle cx="514.9" cy="2551.0" r="4.1"/><circle cx="461.8" cy="2552.3" r="4.1"/><circle cx="471.0" cy="2558.7" r="4.1"/><circle cx="507.3" cy="2569.3" r="4.1"/><circle cx="489.8" cy="2565.4" r="4.1"/><circle cx="438.5" cy="2526.6" r="4.1"/><circle cx="451.3" cy="2553.2" r="4.1"/><circle cx="468.6" cy="2549.3" r="4.1"/><circle cx="519.1" cy="2542.6" r="4.1"/><circle cx="510.0" cy="2542.0" r="4.1"/><circle cx="494.8" cy="2561.6" r="4.1"/><circle cx="509.0" cy="2567.0" r="4.1"/><circle cx="481.8" cy="2557.6" r="4.1"/><circle cx="460.9" cy="2545.2" r="4.1"/><circle cx="444.3" cy="2525.0" r="4.1"/><circle cx="460.6" cy="2539.7" r="4.1"/><circle cx="490.5" cy="2554.2" r="4.1"/><circle cx="442.1" cy="2523.7" r="4.1"/><circle cx="479.0" cy="2563.8" r="4.1"/><circle cx="490.9" cy="2554.3" r="4.1"/><circle cx="490.0" cy="2551.9" r="4.1"/><circle cx="426.9" cy="2512.2" r="4.1"/><circle cx="498.6" cy="2549.8" r="4.1"/><circle cx="442.9" cy="2520.2" r="4.1"/><circle cx="434.5" cy="2521.4" r="4.1"/><circle cx="426.7" cy="2519.9" r="4.1"/><circle cx="450.0" cy="2539.1" r="4.1"/><circle cx="435.2" cy="2512.4" r="4.1"/><circle cx="503.9" cy="2553.0" r="4.1"/><circle cx="453.9" cy="2546.9" r="4.1"/><circle cx="474.1" cy="2548.9" r="4.1"/><circle cx="492.3" cy="2566.6" r="4.1"/><circle cx="504.1" cy="2556.8" r="4.1"/><circle cx="477.7" cy="2549.8" r="4.1"/><circle cx="436.6" cy="2515.0" r="4.1"/><circle cx="508.7" cy="2557.4" r="4.1"/><circle cx="466.5" cy="2538.6" r="4.1"/><circle cx="453.4" cy="2540.8" r="4.1"/><circle cx="511.9" cy="2547.4" r="4.1"/><circle cx="457.2" cy="2545.6" r="4.1"/><circle cx="433.0" cy="2522.0" r="4.1"/><circle cx="492.2" cy="2552.5" r="4.1"/><circle cx="510.0" cy="2566.5" r="4.1"/><circle cx="493.6" cy="2561.0" r="4.1"/><circle cx="506.2" cy="2554.5" r="4.1"/><circle cx="422.0" cy="2511.4" r="4.1"/><circle cx="489.6" cy="2546.9" r="4.1"/><circle cx="429.5" cy="2517.9" r="4.1"/><circle cx="443.7" cy="2522.3" r="4.1"/><circle cx="436.3" cy="2517.3" r="4.1"/><circle cx="453.6" cy="2553.5" r="4.1"/><circle cx="462.5" cy="2556.8" r="4.1"/><circle cx="476.2" cy="2535.8" r="4.1"/><circle cx="507.1" cy="2545.1" r="4.1"/><circle cx="452.2" cy="2532.4" r="4.1"/><circle cx="513.4" cy="2561.1" r="4.1"/><circle cx="510.5" cy="2542.6" r="4.1"/><circle cx="432.5" cy="2518.7" r="4.1"/><circle cx="456.8" cy="2550.6" r="4.1"/><circle cx="497.5" cy="2539.8" r="4.1"/><circle cx="459.9" cy="2549.3" r="4.1"/><circle cx="475.7" cy="2553.0" r="4.1"/><circle cx="509.4" cy="2556.9" r="4.1"/><circle cx="497.7" cy="2558.7" r="4.1"/><circle cx="518.1" cy="2550.5" r="4.1"/><circle cx="512.0" cy="2554.7" r="4.1"/><circle cx="476.0" cy="2564.0" r="4.1"/><circle cx="506.1" cy="2535.2" r="4.1"/><circle cx="491.9" cy="2548.0" r="4.1"/><circle cx="461.2" cy="2543.3" r="4.1"/><circle cx="499.7" cy="2554.8" r="4.1"/></g>
<g><circle cx="151.2" cy="2413.5" r="4.1" fill="#e41a1c"/><circle cx="164.2" cy="2426.5" r="4.1" fill="#e41a1c"/><circle cx="175.6" cy="2419.4" r="4.1" fill="#e41a1c"/><circle cx="258.6" cy="2433.0" r="4.1" fill="#e41a1c"/><circle cx="170.7" cy="2366.3" r="4.1" fill="#c79c2b"/><circle cx="178.8" cy="2345.8" r="4.1" fill="#c79c2b"/><circle cx="200.0" cy="2232.8" r="4.1" fill="#a24d86"/><circle cx="217.9" cy="2188.8" r="4.1" fill="#c46660"/><circle cx="299.3" cy="2267.0" r="4.1" fill="#e383c3"/><circle cx="305.8" cy="2232.8" r="4.1" fill="#6b8c6b"/><circle cx="320.5" cy="2228.6" r="4.1" fill="#6b8c6b"/><circle cx="325.4" cy="2227.9" r="4.1" fill="#fde31c"/><circle cx="354.7" cy="2210.0" r="4.1" fill="#fde31c"/><circle cx="385.6" cy="2242.6" r="4.1" fill="#3a9a77"/><circle cx="237.4" cy="2376.0" r="4.1" fill="#4f62a0"/><circle cx="242.3" cy="2373.8" r="4.1" fill="#4f62a0"/><circle cx="274.9" cy="2387.4" r="4.1" fill="#4f62a0"/><circle cx="287.9" cy="2415.1" r="4.1" fill="#4f62a0"/><circle cx="250.5" cy="2307.7" r="4.1" fill="#4f62a0"/><circle cx="292.8" cy="2307.7" r="4.1" fill="#4f62a0"/><circle cx="258.6" cy="2402.1" r="4.1" fill="#3a9a77"/><circle cx="439.3" cy="2319.1" r="4.1" fill="#4f62a0"/><circle cx="447.4" cy="2394.0" r="4.1" fill="#4f62a0"/><circle cx="439.3" cy="2441.2" r="4.1" fill="#4f62a0"/><circle cx="445.8" cy="2439.5" r="4.1" fill="#3a9a77"/><circle cx="475.1" cy="2473.7" r="4.1" fill="#c46660"/><circle cx="439.3" cy="2488.4" r="4.1" fill="#3a9a77"/><circle cx="423.0" cy="2503.0" r="4.1" fill="#3a9a77"/><circle cx="401.9" cy="2550.2" r="4.1" fill="#c46660"/><circle cx="411.6" cy="2551.9" r="4.1" fill="#c46660"/><circle cx="335.1" cy="2574.7" r="4.1" fill="#c46660"/><circle cx="364.4" cy="2503.0" r="4.1" fill="#4f62a0"/><circle cx="374.2" cy="2511.2" r="4.1" fill="#4f62a0"/><circle cx="497.9" cy="2358.8" r="4.1" fill="#3a9a77"/><circle cx="484.9" cy="2391.4" r="4.1" fill="#3a9a77"/><circle cx="530.5" cy="2341.9" r="4.1" fill="#fe7f00"/><circle cx="550.0" cy="2237.7" r="4.1" fill="#fe7f00"/><circle cx="473.5" cy="2279.4" r="4.1" fill="#fe7f00"/><circle cx="388.8" cy="2190.5" r="4.1" fill="#4f62a0"/><circle cx="270.0" cy="2193.7" r="4.1" fill="#fe7f00"/><circle cx="237.4" cy="2459.1" r="4.1" fill="#fde31c"/><circle cx="434.4" cy="2346.7" r="4.1" fill="#fde31c"/><circle cx="408.4" cy="2284.9" r="4.1" fill="#fde31c"/><circle cx="426.3" cy="2283.3" r="4.1" fill="#fde31c"/><circle cx="300.9" cy="2446.0" r="4.1" fill="#3a9a77"/><circle cx="252.1" cy="2535.6" r="4.1" fill="#a24d86"/><circle cx="198.4" cy="2581.2" r="4.1" fill="#e383c3"/><circle cx="488.1" cy="2581.2" r="4.1" fill="#a24d86"/><circle cx="512.6" cy="2566.5" r="4.1" fill="#a24d86"/></g>
</g>
<g font-size="25" font-family='"Liberation Sans", Arial, sans-serif' fill="#111" text-anchor="middle">
<text x="175.6" y="2512">0</text>
<text x="125.1" y="2362.3">7</text>
<text x="245" y="2246.7">3</text>
<text x="351.4" y="2328.1">2</text>
<text x="362.8" y="2414.4">1</text>
<text x="424.7" y="2202.7">5</text>
<text x="444.2" y="2298.8">6</text>
<text x="579.4" y="2240.2">10</text>
<text x="515.9" y="2390">9</text>
<text x="361.2" y="2562.5">8</text>
<text x="481.7" y="2552.8">4</text>
</g>
<path d="M58.8,2472 V2622.3 H207.8" fill="none" stroke="#878787" stroke-width="4.3"/>
<path d="M48.8,2492 L58.8,2471.5 L68.8,2492" fill="none" stroke="#878787" stroke-width="4.3" stroke-linecap="round" stroke-linejoin="round"/>
<path d="M187.8,2612.8 L208.3,2622.3 L187.8,2631.8" fill="none" stroke="#878787" stroke-width="4.3" stroke-linecap="round" stroke-linejoin="round"/>
<text x="58.8" y="2652.4" font-size="28" font-family='"Liberation Sans", Arial, sans-serif' fill="#111"><tspan font-style="italic">t</tspan>SNE_1</text>
<text transform="translate(35.5,2600.4) rotate(-90)" font-size="28" font-family='"Liberation Sans", Arial, sans-serif' fill="#111"><tspan font-style="italic">t</tspan>SNE_2</text>
<circle cx="650.5" cy="2216.5" r="9" fill="#e41a1c"/>
<text x="683.8" y="2225.5" font-size="24.4" font-family='"Liberation Sans", Arial, sans-serif' fill="#111">0 neuron_<tspan font-style="italic">evm.TU.ctg1481.4</tspan>-high</text>
<circle cx="650.5" cy="2251.1" r="9" fill="#4f62a0"/>
<text x="683.8" y="2260.1" font-size="24.4" font-family='"Liberation Sans", Arial, sans-serif' fill="#111">1 neuron</text>
<circle cx="650.5" cy="2285.6" r="9" fill="#3a9a77"/>
<text x="683.8" y="2294.6" font-size="24.4" font-family='"Liberation Sans", Arial, sans-serif' fill="#111">2 neuron_<tspan font-style="italic">RP</tspan>-high</text>
<circle cx="650.5" cy="2320.2" r="9" fill="#6b8c6b"/>
<text x="683.8" y="2329.2" font-size="24.4" font-family='"Liberation Sans", Arial, sans-serif' fill="#111">3 neuron</text>
<circle cx="650.5" cy="2354.7" r="9" fill="#a24d86"/>
<text x="683.8" y="2363.7" font-size="24.4" font-family='"Liberation Sans", Arial, sans-serif' fill="#111">4 nerve cord_<tspan font-style="italic">evm.TU.Chr08.794</tspan>-high</text>
<circle cx="650.5" cy="2389.3" r="9" fill="#fe7f00"/>
<text x="683.8" y="2398.3" font-size="24.4" font-family='"Liberation Sans", Arial, sans-serif' fill="#111">5 ventral nerve cord_<tspan font-style="italic">RP</tspan>-high</text>
<circle cx="650.5" cy="2423.9" r="9" fill="#fde31c"/>
<text x="683.8" y="2432.9" font-size="24.4" font-family='"Liberation Sans", Arial, sans-serif' fill="#111">6 neuron</text>
<circle cx="650.5" cy="2458.4" r="9" fill="#c79c2b"/>
<text x="683.8" y="2467.4" font-size="24.4" font-family='"Liberation Sans", Arial, sans-serif' fill="#111">7 unknown</text>
<circle cx="650.5" cy="2493.0" r="9" fill="#c46660"/>
<text x="683.8" y="2502.0" font-size="24.4" font-family='"Liberation Sans", Arial, sans-serif' fill="#111">8 unknown</text>
<circle cx="650.5" cy="2527.5" r="9" fill="#e383c3"/>
<text x="683.8" y="2536.5" font-size="24.4" font-family='"Liberation Sans", Arial, sans-serif' fill="#111">9 neuron_<tspan font-style="italic">evm.TU.Chr09.1054</tspan>-high</text>
<circle cx="650.5" cy="2562.1" r="9" fill="#9a9a9a"/>
<text x="683.8" y="2571.1" font-size="24.4" font-family='"Liberation Sans", Arial, sans-serif' fill="#111">10 multiple lineages</text>
<text x="1092.0" y="2129.0" font-size="40" text-anchor="start" font-weight="bold" font-style="normal" fill="#000" font-family='"Liberation Sans", Arial, sans-serif' >e</text>
<g font-size="21.2" font-style="italic" font-family='"Liberation Sans", Arial, sans-serif' fill="#111" text-anchor="end">
<text x="1393" y="2140.7">evm.TU.Chr10.1273_7B2</text>
<text x="1393" y="2175.3">evm.TU.Chr09.1409_MATN2</text>
<text x="1393" y="2210.0">evm.TU.Chr09.498_MRC2</text>
<text x="1393" y="2244.6">evm.TU.Chr02.2837_FBLN2</text>
<text x="1393" y="2279.3">evm.TU.Chr05.2176_ACHA2</text>
<text x="1393" y="2313.9">evm.TU.ctg1481.4_ACHA2</text>
<text x="1393" y="2348.5">evm.TU.Chr08.794_NEURM</text>
<text x="1393" y="2383.2">evm.TU.Chr08.906_CALR</text>
<text x="1393" y="2417.8">evm.TU.Chr03.1094_UNC89</text>
<text x="1393" y="2452.5">evm.TU.Chr06.113_NF70</text>
<text x="1393" y="2487.1">evm.TU.Chr06.2229_NF70</text>
<text x="1393" y="2521.7">evm.TU.Chr09.1054_NEU4</text>
<text x="1393" y="2556.4">evm.TU.Chr04.1542_ZAN</text>
<text x="1393" y="2591.0">evm.TU.Chr06.464_MUC19</text>
<text x="1393" y="2625.7">evm.TU.Chr09.733_FABP4</text>
</g>
<g font-size="17" font-family='"Liberation Sans", Arial, sans-serif' fill="#111">
<text x="1403" y="2130.2">3</text>
<text x="1403" y="2164.8">3</text>
<text x="1403" y="2199.5">3</text>
<text x="1403" y="2234.1">3</text>
<text x="1403" y="2268.8">3</text>
<text x="1403" y="2303.4">3</text>
<text x="1403" y="2338.0">2</text>
<text x="1403" y="2372.7">4</text>
<text x="1403" y="2407.3">3</text>
<text x="1403" y="2442.0">2</text>
<text x="1403" y="2476.6">2</text>
<text x="1403" y="2511.2">4</text>
<text x="1403" y="2545.9">4</text>
<text x="1403" y="2580.5">4</text>
<text x="1403" y="2615.2">3</text>
</g>
<g stroke="#222" stroke-width="1.3" fill="none">
<path d="M1420,2126.2 H1426.2 V2143.2"/>
<line x1="1432.4" y1="2142.2" x2="1494.4" y2="2142.2"/>
<line x1="1495.4" y1="2142.2" x2="1557.4" y2="2142.2"/>
<line x1="1558.3" y1="2142.2" x2="1620.3" y2="2142.2"/>
<line x1="1620.7" y1="2142.2" x2="1682.7" y2="2142.2"/>
<line x1="1683.6" y1="2142.2" x2="1745.6" y2="2142.2"/>
<line x1="1746.5" y1="2142.2" x2="1808.5" y2="2142.2"/>
<line x1="1808.9" y1="2142.2" x2="1870.9" y2="2142.2"/>
<line x1="1871.2" y1="2142.2" x2="1933.2" y2="2142.2"/>
<line x1="1934.2" y1="2142.2" x2="1996.2" y2="2142.2"/>
<line x1="1997.1" y1="2142.2" x2="2059.1" y2="2142.2"/>
<line x1="2059.4" y1="2142.2" x2="2121.4" y2="2142.2"/>
<path d="M1420,2160.8 H1426.2 V2177.8"/>
<line x1="1432.4" y1="2176.8" x2="1494.4" y2="2176.8"/>
<line x1="1495.4" y1="2176.8" x2="1557.4" y2="2176.8"/>
<line x1="1558.3" y1="2176.8" x2="1620.3" y2="2176.8"/>
<line x1="1620.7" y1="2176.8" x2="1682.7" y2="2176.8"/>
<line x1="1683.6" y1="2176.8" x2="1745.6" y2="2176.8"/>
<line x1="1746.5" y1="2176.8" x2="1808.5" y2="2176.8"/>
<line x1="1808.9" y1="2176.8" x2="1870.9" y2="2176.8"/>
<line x1="1871.2" y1="2176.8" x2="1933.2" y2="2176.8"/>
<line x1="1934.2" y1="2176.8" x2="1996.2" y2="2176.8"/>
<line x1="1997.1" y1="2176.8" x2="2059.1" y2="2176.8"/>
<line x1="2059.4" y1="2176.8" x2="2121.4" y2="2176.8"/>
<path d="M1420,2195.5 H1426.2 V2212.5"/>
<line x1="1432.4" y1="2211.5" x2="1494.4" y2="2211.5"/>
<line x1="1495.4" y1="2211.5" x2="1557.4" y2="2211.5"/>
<line x1="1558.3" y1="2211.5" x2="1620.3" y2="2211.5"/>
<line x1="1620.7" y1="2211.5" x2="1682.7" y2="2211.5"/>
<line x1="1683.6" y1="2211.5" x2="1745.6" y2="2211.5"/>
<line x1="1746.5" y1="2211.5" x2="1808.5" y2="2211.5"/>
<line x1="1808.9" y1="2211.5" x2="1870.9" y2="2211.5"/>
<line x1="1871.2" y1="2211.5" x2="1933.2" y2="2211.5"/>
<line x1="1934.2" y1="2211.5" x2="1996.2" y2="2211.5"/>
<line x1="1997.1" y1="2211.5" x2="2059.1" y2="2211.5"/>
<line x1="2059.4" y1="2211.5" x2="2121.4" y2="2211.5"/>
<path d="M1420,2230.1 H1426.2 V2247.1"/>
<line x1="1432.4" y1="2246.1" x2="1494.4" y2="2246.1"/>
<line x1="1495.4" y1="2246.1" x2="1557.4" y2="2246.1"/>
<line x1="1558.3" y1="2246.1" x2="1620.3" y2="2246.1"/>
<line x1="1620.7" y1="2246.1" x2="1682.7" y2="2246.1"/>
<line x1="1683.6" y1="2246.1" x2="1745.6" y2="2246.1"/>
<line x1="1746.5" y1="2246.1" x2="1808.5" y2="2246.1"/>
<line x1="1808.9" y1="2246.1" x2="1870.9" y2="2246.1"/>
<line x1="1871.2" y1="2246.1" x2="1933.2" y2="2246.1"/>
<line x1="1934.2" y1="2246.1" x2="1996.2" y2="2246.1"/>
<line x1="1997.1" y1="2246.1" x2="2059.1" y2="2246.1"/>
<line x1="2059.4" y1="2246.1" x2="2121.4" y2="2246.1"/>
<path d="M1420,2264.8 H1426.2 V2281.8"/>
<line x1="1432.4" y1="2280.8" x2="1494.4" y2="2280.8"/>
<line x1="1495.4" y1="2280.8" x2="1557.4" y2="2280.8"/>
<line x1="1558.3" y1="2280.8" x2="1620.3" y2="2280.8"/>
<line x1="1620.7" y1="2280.8" x2="1682.7" y2="2280.8"/>
<line x1="1683.6" y1="2280.8" x2="1745.6" y2="2280.8"/>
<line x1="1746.5" y1="2280.8" x2="1808.5" y2="2280.8"/>
<line x1="1808.9" y1="2280.8" x2="1870.9" y2="2280.8"/>
<line x1="1871.2" y1="2280.8" x2="1933.2" y2="2280.8"/>
<line x1="1934.2" y1="2280.8" x2="1996.2" y2="2280.8"/>
<line x1="1997.1" y1="2280.8" x2="2059.1" y2="2280.8"/>
<line x1="2059.4" y1="2280.8" x2="2121.4" y2="2280.8"/>
<path d="M1420,2299.4 H1426.2 V2316.4"/>
<line x1="1432.4" y1="2315.4" x2="1494.4" y2="2315.4"/>
<line x1="1495.4" y1="2315.4" x2="1557.4" y2="2315.4"/>
<line x1="1558.3" y1="2315.4" x2="1620.3" y2="2315.4"/>
<line x1="1620.7" y1="2315.4" x2="1682.7" y2="2315.4"/>
<line x1="1683.6" y1="2315.4" x2="1745.6" y2="2315.4"/>
<line x1="1746.5" y1="2315.4" x2="1808.5" y2="2315.4"/>
<line x1="1808.9" y1="2315.4" x2="1870.9" y2="2315.4"/>
<line x1="1871.2" y1="2315.4" x2="1933.2" y2="2315.4"/>
<line x1="1934.2" y1="2315.4" x2="1996.2" y2="2315.4"/>
<line x1="1997.1" y1="2315.4" x2="2059.1" y2="2315.4"/>
<line x1="2059.4" y1="2315.4" x2="2121.4" y2="2315.4"/>
<path d="M1420,2334.0 H1426.2 V2351.0"/>
<line x1="1432.4" y1="2350.0" x2="1494.4" y2="2350.0"/>
<line x1="1495.4" y1="2350.0" x2="1557.4" y2="2350.0"/>
<line x1="1558.3" y1="2350.0" x2="1620.3" y2="2350.0"/>
<line x1="1620.7" y1="2350.0" x2="1682.7" y2="2350.0"/>
<line x1="1683.6" y1="2350.0" x2="1745.6" y2="2350.0"/>
<line x1="1746.5" y1="2350.0" x2="1808.5" y2="2350.0"/>
<line x1="1808.9" y1="2350.0" x2="1870.9" y2="2350.0"/>
<line x1="1871.2" y1="2350.0" x2="1933.2" y2="2350.0"/>
<line x1="1934.2" y1="2350.0" x2="1996.2" y2="2350.0"/>
<line x1="1997.1" y1="2350.0" x2="2059.1" y2="2350.0"/>
<line x1="2059.4" y1="2350.0" x2="2121.4" y2="2350.0"/>
<path d="M1420,2368.7 H1426.2 V2385.7"/>
<line x1="1432.4" y1="2384.7" x2="1494.4" y2="2384.7"/>
<line x1="1495.4" y1="2384.7" x2="1557.4" y2="2384.7"/>
<line x1="1558.3" y1="2384.7" x2="1620.3" y2="2384.7"/>
<line x1="1620.7" y1="2384.7" x2="1682.7" y2="2384.7"/>
<line x1="1683.6" y1="2384.7" x2="1745.6" y2="2384.7"/>
<line x1="1746.5" y1="2384.7" x2="1808.5" y2="2384.7"/>
<line x1="1808.9" y1="2384.7" x2="1870.9" y2="2384.7"/>
<line x1="1871.2" y1="2384.7" x2="1933.2" y2="2384.7"/>
<line x1="1934.2" y1="2384.7" x2="1996.2" y2="2384.7"/>
<line x1="1997.1" y1="2384.7" x2="2059.1" y2="2384.7"/>
<line x1="2059.4" y1="2384.7" x2="2121.4" y2="2384.7"/>
<path d="M1420,2403.3 H1426.2 V2420.3"/>
<line x1="1432.4" y1="2419.3" x2="1494.4" y2="2419.3"/>
<line x1="1495.4" y1="2419.3" x2="1557.4" y2="2419.3"/>
<line x1="1558.3" y1="2419.3" x2="1620.3" y2="2419.3"/>
<line x1="1620.7" y1="2419.3" x2="1682.7" y2="2419.3"/>
<line x1="1683.6" y1="2419.3" x2="1745.6" y2="2419.3"/>
<line x1="1746.5" y1="2419.3" x2="1808.5" y2="2419.3"/>
<line x1="1808.9" y1="2419.3" x2="1870.9" y2="2419.3"/>
<line x1="1871.2" y1="2419.3" x2="1933.2" y2="2419.3"/>
<line x1="1934.2" y1="2419.3" x2="1996.2" y2="2419.3"/>
<line x1="1997.1" y1="2419.3" x2="2059.1" y2="2419.3"/>
<line x1="2059.4" y1="2419.3" x2="2121.4" y2="2419.3"/>
<path d="M1420,2438.0 H1426.2 V2455.0"/>
<line x1="1432.4" y1="2454.0" x2="1494.4" y2="2454.0"/>
<line x1="1495.4" y1="2454.0" x2="1557.4" y2="2454.0"/>
<line x1="1558.3" y1="2454.0" x2="1620.3" y2="2454.0"/>
<line x1="1620.7" y1="2454.0" x2="1682.7" y2="2454.0"/>
<line x1="1683.6" y1="2454.0" x2="1745.6" y2="2454.0"/>
<line x1="1746.5" y1="2454.0" x2="1808.5" y2="2454.0"/>
<line x1="1808.9" y1="2454.0" x2="1870.9" y2="2454.0"/>
<line x1="1871.2" y1="2454.0" x2="1933.2" y2="2454.0"/>
<line x1="1934.2" y1="2454.0" x2="1996.2" y2="2454.0"/>
<line x1="1997.1" y1="2454.0" x2="2059.1" y2="2454.0"/>
<line x1="2059.4" y1="2454.0" x2="2121.4" y2="2454.0"/>
<path d="M1420,2472.6 H1426.2 V2489.6"/>
<line x1="1432.4" y1="2488.6" x2="1494.4" y2="2488.6"/>
<line x1="1495.4" y1="2488.6" x2="1557.4" y2="2488.6"/>
<line x1="1558.3" y1="2488.6" x2="1620.3" y2="2488.6"/>
<line x1="1620.7" y1="2488.6" x2="1682.7" y2="2488.6"/>
<line x1="1683.6" y1="2488.6" x2="1745.6" y2="2488.6"/>
<line x1="1746.5" y1="2488.6" x2="1808.5" y2="2488.6"/>
<line x1="1808.9" y1="2488.6" x2="1870.9" y2="2488.6"/>
<line x1="1871.2" y1="2488.6" x2="1933.2" y2="2488.6"/>
<line x1="1934.2" y1="2488.6" x2="1996.2" y2="2488.6"/>
<line x1="1997.1" y1="2488.6" x2="2059.1" y2="2488.6"/>
<line x1="2059.4" y1="2488.6" x2="2121.4" y2="2488.6"/>
<path d="M1420,2507.2 H1426.2 V2524.2"/>
<line x1="1432.4" y1="2523.2" x2="1494.4" y2="2523.2"/>
<line x1="1495.4" y1="2523.2" x2="1557.4" y2="2523.2"/>
<line x1="1558.3" y1="2523.2" x2="1620.3" y2="2523.2"/>
<line x1="1620.7" y1="2523.2" x2="1682.7" y2="2523.2"/>
<line x1="1683.6" y1="2523.2" x2="1745.6" y2="2523.2"/>
<line x1="1746.5" y1="2523.2" x2="1808.5" y2="2523.2"/>
<line x1="1808.9" y1="2523.2" x2="1870.9" y2="2523.2"/>
<line x1="1871.2" y1="2523.2" x2="1933.2" y2="2523.2"/>
<line x1="1934.2" y1="2523.2" x2="1996.2" y2="2523.2"/>
<line x1="1997.1" y1="2523.2" x2="2059.1" y2="2523.2"/>
<line x1="2059.4" y1="2523.2" x2="2121.4" y2="2523.2"/>
<path d="M1420,2541.9 H1426.2 V2558.9"/>
<line x1="1432.4" y1="2557.9" x2="1494.4" y2="2557.9"/>
<line x1="1495.4" y1="2557.9" x2="1557.4" y2="2557.9"/>
<line x1="1558.3" y1="2557.9" x2="1620.3" y2="2557.9"/>
<line x1="1620.7" y1="2557.9" x2="1682.7" y2="2557.9"/>
<line x1="1683.6" y1="2557.9" x2="1745.6" y2="2557.9"/>
<line x1="1746.5" y1="2557.9" x2="1808.5" y2="2557.9"/>
<line x1="1808.9" y1="2557.9" x2="1870.9" y2="2557.9"/>
<line x1="1871.2" y1="2557.9" x2="1933.2" y2="2557.9"/>
<line x1="1934.2" y1="2557.9" x2="1996.2" y2="2557.9"/>
<line x1="1997.1" y1="2557.9" x2="2059.1" y2="2557.9"/>
<line x1="2059.4" y1="2557.9" x2="2121.4" y2="2557.9"/>
<path d="M1420,2576.5 H1426.2 V2593.5"/>
<line x1="1432.4" y1="2592.5" x2="1494.4" y2="2592.5"/>
<line x1="1495.4" y1="2592.5" x2="1557.4" y2="2592.5"/>
<line x1="1558.3" y1="2592.5" x2="1620.3" y2="2592.5"/>
<line x1="1620.7" y1="2592.5" x2="1682.7" y2="2592.5"/>
<line x1="1683.6" y1="2592.5" x2="1745.6" y2="2592.5"/>
<line x1="1746.5" y1="2592.5" x2="1808.5" y2="2592.5"/>
<line x1="1808.9" y1="2592.5" x2="1870.9" y2="2592.5"/>
<line x1="1871.2" y1="2592.5" x2="1933.2" y2="2592.5"/>
<line x1="1934.2" y1="2592.5" x2="1996.2" y2="2592.5"/>
<line x1="1997.1" y1="2592.5" x2="2059.1" y2="2592.5"/>
<line x1="2059.4" y1="2592.5" x2="2121.4" y2="2592.5"/>
<path d="M1420,2611.2 H1426.2 V2628.2"/>
<line x1="1432.4" y1="2627.2" x2="1494.4" y2="2627.2"/>
<line x1="1495.4" y1="2627.2" x2="1557.4" y2="2627.2"/>
<line x1="1558.3" y1="2627.2" x2="1620.3" y2="2627.2"/>
<line x1="1620.7" y1="2627.2" x2="1682.7" y2="2627.2"/>
<line x1="1683.6" y1="2627.2" x2="1745.6" y2="2627.2"/>
<line x1="1746.5" y1="2627.2" x2="1808.5" y2="2627.2"/>
<line x1="1808.9" y1="2627.2" x2="1870.9" y2="2627.2"/>
<line x1="1871.2" y1="2627.2" x2="1933.2" y2="2627.2"/>
<line x1="1934.2" y1="2627.2" x2="1996.2" y2="2627.2"/>
<line x1="1997.1" y1="2627.2" x2="2059.1" y2="2627.2"/>
<line x1="2059.4" y1="2627.2" x2="2121.4" y2="2627.2"/>
</g>
<path d="M1484.4,2142.2 L1478.3,2141.8 L1472.9,2141.3 L1473.7,2140.8 L1477.4,2140.2 L1483.4,2139.5 L1489.2,2138.8 L1491.2,2137.8 L1491.4,2136.7 L1490.6,2135.6 L1488.6,2134.5 L1485.1,2133.2 L1480.8,2132.0 L1476.3,2130.8 L1471.8,2129.8 L1467.0,2129.0 L1463.4,2128.4 L1463.4,2128.4 L1459.8,2129.0 L1455.0,2129.8 L1450.5,2130.8 L1446.0,2132.0 L1441.7,2133.2 L1438.2,2134.5 L1436.2,2135.6 L1435.4,2136.7 L1435.6,2137.8 L1437.6,2138.8 L1443.4,2139.5 L1449.4,2140.2 L1453.1,2140.8 L1454.0,2141.3 L1448.5,2141.8 L1442.4,2142.2Z" fill="#F8766D" stroke="#222" stroke-width="1.2"/>
<path d="M1535.4,2142.2 L1532.8,2141.8 L1530.5,2141.3 L1530.8,2140.7 L1532.4,2140.2 L1535.0,2139.8 L1537.4,2139.3 L1538.3,2138.5 L1538.4,2137.6 L1538.1,2136.7 L1537.2,2135.8 L1535.7,2134.7 L1533.8,2133.7 L1531.9,2132.7 L1530.0,2131.8 L1528.0,2131.2 L1526.4,2130.7 L1526.4,2130.7 L1524.8,2131.2 L1522.8,2131.8 L1520.9,2132.7 L1519.0,2133.7 L1517.1,2134.7 L1515.6,2135.8 L1514.7,2136.7 L1514.4,2137.6 L1514.5,2138.5 L1515.4,2139.3 L1517.8,2139.8 L1520.4,2140.2 L1522.0,2140.7 L1522.4,2141.3 L1520.0,2141.8 L1517.4,2142.2Z" fill="#DB8E00" stroke="#222" stroke-width="1.2"/>
<path d="M1599.8,2142.2 L1596.8,2141.8 L1594.0,2141.3 L1594.4,2140.7 L1596.3,2140.2 L1599.3,2139.8 L1602.2,2139.3 L1603.2,2138.5 L1603.3,2137.6 L1602.9,2136.7 L1601.9,2135.8 L1600.1,2134.7 L1598.0,2133.7 L1595.8,2132.7 L1593.5,2131.8 L1591.1,2131.2 L1589.3,2130.7 L1589.3,2130.7 L1587.5,2131.2 L1585.1,2131.8 L1582.8,2132.7 L1580.6,2133.7 L1578.5,2134.7 L1576.7,2135.8 L1575.7,2136.7 L1575.3,2137.6 L1575.4,2138.5 L1576.4,2139.3 L1579.3,2139.8 L1582.3,2140.2 L1584.2,2140.7 L1584.6,2141.3 L1581.8,2141.8 L1578.8,2142.2Z" fill="#AEA200" stroke="#222" stroke-width="1.2"/>
<path d="M1668.2,2142.2 L1663.4,2141.8 L1659.1,2141.3 L1659.8,2140.8 L1662.7,2140.2 L1667.4,2139.5 L1671.9,2138.8 L1673.5,2137.8 L1673.7,2136.7 L1673.1,2135.6 L1671.5,2134.5 L1668.7,2133.2 L1665.3,2132.0 L1661.8,2130.8 L1658.3,2129.8 L1654.6,2129.0 L1651.7,2128.4 L1651.7,2128.4 L1648.8,2129.0 L1645.1,2129.8 L1641.6,2130.8 L1638.1,2132.0 L1634.7,2133.2 L1631.9,2134.5 L1630.3,2135.6 L1629.7,2136.7 L1629.9,2137.8 L1631.5,2138.8 L1636.0,2139.5 L1640.7,2140.2 L1643.6,2140.8 L1644.3,2141.3 L1640.0,2141.8 L1635.2,2142.2Z" fill="#64B200" stroke="#222" stroke-width="1.2"/>
<path d="M1723.6,2142.2 L1721.2,2141.8 L1718.6,2141.3 L1717.4,2140.7 L1717.1,2140.2 L1718.0,2139.9 L1719.2,2139.6 L1719.6,2138.9 L1719.6,2138.1 L1719.5,2137.3 L1719.1,2136.4 L1718.5,2135.5 L1717.7,2134.5 L1716.9,2133.7 L1716.1,2132.9 L1715.2,2132.3 L1714.6,2131.8 L1714.6,2131.8 L1714.0,2132.3 L1713.1,2132.9 L1712.3,2133.7 L1711.5,2134.5 L1710.7,2135.5 L1710.1,2136.4 L1709.7,2137.3 L1709.6,2138.1 L1709.6,2138.9 L1710.0,2139.6 L1711.2,2139.9 L1712.1,2140.2 L1711.8,2140.7 L1710.5,2141.3 L1708.0,2141.8 L1705.6,2142.2Z" fill="#00BD5C" stroke="#222" stroke-width="1.2"/>
<path d="M1790.2,2142.2 L1786.6,2141.8 L1783.2,2141.3 L1783.7,2140.7 L1786.0,2140.2 L1789.7,2139.8 L1793.1,2139.3 L1794.4,2138.5 L1794.5,2137.6 L1794.0,2136.7 L1792.8,2135.8 L1790.7,2134.7 L1788.0,2133.7 L1785.3,2132.7 L1782.6,2131.8 L1779.7,2131.2 L1777.5,2130.7 L1777.5,2130.7 L1775.3,2131.2 L1772.4,2131.8 L1769.7,2132.7 L1767.0,2133.7 L1764.3,2134.7 L1762.2,2135.8 L1761.0,2136.7 L1760.5,2137.6 L1760.6,2138.5 L1761.9,2139.3 L1765.3,2139.8 L1769.0,2140.2 L1771.3,2140.7 L1771.8,2141.3 L1768.4,2141.8 L1764.8,2142.2Z" fill="#00C1A7" stroke="#222" stroke-width="1.2"/>
<path d="M1848.9,2142.2 L1846.5,2141.8 L1844.0,2141.3 L1843.0,2140.7 L1842.9,2140.2 L1844.1,2139.8 L1845.4,2139.3 L1845.9,2138.5 L1845.9,2137.6 L1845.7,2136.7 L1845.3,2135.8 L1844.5,2134.7 L1843.6,2133.7 L1842.7,2132.7 L1841.7,2131.8 L1840.7,2131.2 L1839.9,2130.7 L1839.9,2130.7 L1839.1,2131.2 L1838.1,2131.8 L1837.1,2132.7 L1836.2,2133.7 L1835.3,2134.7 L1834.5,2135.8 L1834.1,2136.7 L1833.9,2137.6 L1833.9,2138.5 L1834.4,2139.3 L1835.7,2139.8 L1836.9,2140.2 L1836.8,2140.7 L1835.9,2141.3 L1833.3,2141.8 L1830.9,2142.2Z" fill="#00BADE" stroke="#222" stroke-width="1.2"/>
<path d="M1911.2,2142.2 L1908.7,2141.8 L1906.2,2141.3 L1905.7,2140.8 L1906.2,2140.2 L1907.8,2139.5 L1909.6,2138.8 L1910.1,2137.8 L1910.2,2136.7 L1910.0,2135.6 L1909.4,2134.5 L1908.4,2133.2 L1907.2,2132.0 L1905.9,2130.8 L1904.6,2129.8 L1903.2,2129.0 L1902.2,2128.4 L1902.2,2128.4 L1901.2,2129.0 L1899.8,2129.8 L1898.5,2130.8 L1897.2,2132.0 L1896.0,2133.2 L1895.0,2134.5 L1894.4,2135.6 L1894.2,2136.7 L1894.3,2137.8 L1894.8,2138.8 L1896.6,2139.5 L1898.2,2140.2 L1898.7,2140.8 L1898.2,2141.3 L1895.7,2141.8 L1893.2,2142.2Z" fill="#00A6FF" stroke="#222" stroke-width="1.2"/>
<path d="M1981.7,2142.2 L1976.9,2141.8 L1972.6,2141.3 L1973.3,2140.8 L1976.2,2140.2 L1980.9,2139.5 L1985.4,2138.8 L1987.0,2137.8 L1987.2,2136.7 L1986.6,2135.6 L1985.0,2134.5 L1982.2,2133.2 L1978.8,2132.0 L1975.3,2130.8 L1971.8,2129.8 L1968.1,2129.0 L1965.2,2128.4 L1965.2,2128.4 L1962.3,2129.0 L1958.6,2129.8 L1955.1,2130.8 L1951.6,2132.0 L1948.2,2133.2 L1945.4,2134.5 L1943.8,2135.6 L1943.2,2136.7 L1943.4,2137.8 L1945.0,2138.8 L1949.5,2139.5 L1954.2,2140.2 L1957.1,2140.8 L1957.8,2141.3 L1953.5,2141.8 L1948.7,2142.2Z" fill="#B385FF" stroke="#222" stroke-width="1.2"/>
<path d="M2045.3,2142.2 L2040.4,2141.8 L2035.9,2141.3 L2036.5,2140.7 L2039.6,2140.2 L2044.5,2140.1 L2049.3,2139.9 L2050.9,2139.3 L2051.1,2138.5 L2050.5,2137.8 L2048.8,2137.0 L2045.9,2136.2 L2042.4,2135.4 L2038.7,2134.6 L2035.0,2133.9 L2031.1,2133.4 L2028.1,2133.0 L2028.1,2133.0 L2025.1,2133.4 L2021.2,2133.9 L2017.5,2134.6 L2013.8,2135.4 L2010.3,2136.2 L2007.4,2137.0 L2005.7,2137.8 L2005.1,2138.5 L2005.3,2139.3 L2006.9,2139.9 L2011.7,2140.1 L2016.6,2140.2 L2019.7,2140.7 L2020.3,2141.3 L2015.8,2141.8 L2010.8,2142.2Z" fill="#EF67EB" stroke="#222" stroke-width="1.2"/>
<path d="M2099.4,2142.2 L2097.1,2141.8 L2094.5,2141.3 L2092.6,2140.7 L2091.4,2140.2 L2091.6,2140.3 L2092.2,2140.5 L2092.4,2140.0 L2092.4,2139.4 L2092.3,2138.9 L2092.2,2138.3 L2091.9,2137.7 L2091.6,2137.1 L2091.3,2136.5 L2091.0,2136.0 L2090.7,2135.6 L2090.4,2135.3 L2090.4,2135.3 L2090.1,2135.6 L2089.8,2136.0 L2089.5,2136.5 L2089.2,2137.1 L2088.9,2137.7 L2088.6,2138.3 L2088.5,2138.9 L2088.4,2139.4 L2088.4,2140.0 L2088.6,2140.5 L2089.2,2140.3 L2089.4,2140.2 L2088.2,2140.7 L2086.3,2141.3 L2083.7,2141.8 L2081.4,2142.2Z" fill="#FF63B6" stroke="#222" stroke-width="1.2"/>
<path d="M1484.4,2176.8 L1478.3,2176.5 L1472.9,2175.9 L1473.7,2175.4 L1477.4,2174.8 L1483.4,2174.4 L1489.2,2174.0 L1491.2,2173.2 L1491.4,2172.2 L1490.6,2171.3 L1488.6,2170.4 L1485.1,2169.4 L1480.8,2168.3 L1476.3,2167.4 L1471.8,2166.5 L1467.0,2165.8 L1463.4,2165.3 L1463.4,2165.3 L1459.8,2165.8 L1455.0,2166.5 L1450.5,2167.4 L1446.0,2168.3 L1441.7,2169.4 L1438.2,2170.4 L1436.2,2171.3 L1435.4,2172.2 L1435.6,2173.2 L1437.6,2174.0 L1443.4,2174.4 L1449.4,2174.8 L1453.1,2175.4 L1454.0,2175.9 L1448.5,2176.5 L1442.4,2176.8Z" fill="#F8766D" stroke="#222" stroke-width="1.2"/>
<path d="M1547.4,2176.8 L1541.3,2176.5 L1535.9,2175.9 L1536.7,2175.4 L1540.4,2174.8 L1546.4,2174.0 L1552.2,2173.1 L1554.2,2172.0 L1554.4,2170.9 L1553.6,2169.7 L1551.6,2168.5 L1548.1,2167.1 L1543.8,2165.8 L1539.3,2164.5 L1534.8,2163.4 L1530.0,2162.5 L1526.4,2161.9 L1526.4,2161.9 L1522.8,2162.5 L1518.0,2163.4 L1513.5,2164.5 L1509.0,2165.8 L1504.7,2167.1 L1501.2,2168.5 L1499.2,2169.7 L1498.4,2170.9 L1498.6,2172.0 L1500.6,2173.1 L1506.4,2174.0 L1512.4,2174.8 L1516.1,2175.4 L1517.0,2175.9 L1511.5,2176.5 L1505.4,2176.8Z" fill="#DB8E00" stroke="#222" stroke-width="1.2"/>
<path d="M1610.3,2176.8 L1604.2,2176.5 L1598.8,2175.9 L1599.6,2175.4 L1603.3,2174.8 L1609.3,2174.2 L1615.1,2173.4 L1617.1,2172.4 L1617.3,2171.3 L1616.5,2170.2 L1614.5,2169.1 L1611.0,2167.9 L1606.7,2166.6 L1602.2,2165.5 L1597.7,2164.4 L1592.9,2163.6 L1589.3,2163.0 L1589.3,2163.0 L1585.7,2163.6 L1580.9,2164.4 L1576.4,2165.5 L1571.9,2166.6 L1567.6,2167.9 L1564.1,2169.1 L1562.1,2170.2 L1561.3,2171.3 L1561.5,2172.4 L1563.5,2173.4 L1569.3,2174.2 L1575.3,2174.8 L1579.0,2175.4 L1579.8,2175.9 L1574.4,2176.5 L1568.3,2176.8Z" fill="#AEA200" stroke="#222" stroke-width="1.2"/>
<path d="M1672.7,2176.8 L1666.6,2176.5 L1661.2,2175.9 L1662.0,2175.4 L1665.7,2174.8 L1671.7,2174.0 L1677.5,2173.1 L1679.5,2172.0 L1679.7,2170.9 L1678.9,2169.7 L1676.9,2168.5 L1673.4,2167.1 L1669.1,2165.8 L1664.6,2164.5 L1660.1,2163.4 L1655.3,2162.5 L1651.7,2161.9 L1651.7,2161.9 L1648.1,2162.5 L1643.3,2163.4 L1638.8,2164.5 L1634.3,2165.8 L1630.0,2167.1 L1626.5,2168.5 L1624.5,2169.7 L1623.7,2170.9 L1623.9,2172.0 L1625.9,2173.1 L1631.7,2174.0 L1637.7,2174.8 L1641.4,2175.4 L1642.2,2175.9 L1636.8,2176.5 L1630.7,2176.8Z" fill="#64B200" stroke="#222" stroke-width="1.2"/>
<path d="M1723.6,2176.8 L1721.0,2176.5 L1718.6,2175.9 L1719.0,2175.4 L1720.6,2174.8 L1723.2,2174.0 L1725.6,2173.1 L1726.5,2172.0 L1726.6,2170.9 L1726.3,2169.7 L1725.4,2168.5 L1723.9,2167.1 L1722.0,2165.8 L1720.1,2164.5 L1718.2,2163.4 L1716.2,2162.5 L1714.6,2161.9 L1714.6,2161.9 L1713.0,2162.5 L1711.0,2163.4 L1709.1,2164.5 L1707.2,2165.8 L1705.3,2167.1 L1703.8,2168.5 L1702.9,2169.7 L1702.6,2170.9 L1702.7,2172.0 L1703.6,2173.1 L1706.0,2174.0 L1708.6,2174.8 L1710.2,2175.4 L1710.5,2175.9 L1708.2,2176.5 L1705.6,2176.8Z" fill="#00BD5C" stroke="#222" stroke-width="1.2"/>
<path d="M1798.5,2176.8 L1792.4,2176.5 L1787.0,2175.9 L1787.8,2175.4 L1791.5,2174.8 L1797.5,2174.2 L1803.3,2173.4 L1805.3,2172.4 L1805.5,2171.3 L1804.7,2170.2 L1802.7,2169.1 L1799.2,2167.9 L1794.9,2166.6 L1790.4,2165.5 L1785.9,2164.4 L1781.1,2163.6 L1777.5,2163.0 L1777.5,2163.0 L1773.9,2163.6 L1769.1,2164.4 L1764.6,2165.5 L1760.1,2166.6 L1755.8,2167.9 L1752.3,2169.1 L1750.3,2170.2 L1749.5,2171.3 L1749.7,2172.4 L1751.7,2173.4 L1757.5,2174.2 L1763.5,2174.8 L1767.2,2175.4 L1768.0,2175.9 L1762.6,2176.5 L1756.5,2176.8Z" fill="#00C1A7" stroke="#222" stroke-width="1.2"/>
<path d="M1848.9,2176.8 L1846.3,2176.5 L1844.0,2175.9 L1844.3,2175.4 L1845.9,2174.8 L1848.5,2174.2 L1850.9,2173.4 L1851.8,2172.4 L1851.9,2171.3 L1851.6,2170.2 L1850.7,2169.1 L1849.2,2167.9 L1847.3,2166.6 L1845.4,2165.5 L1843.5,2164.4 L1841.5,2163.6 L1839.9,2163.0 L1839.9,2163.0 L1838.3,2163.6 L1836.3,2164.4 L1834.4,2165.5 L1832.5,2166.6 L1830.6,2167.9 L1829.1,2169.1 L1828.2,2170.2 L1827.9,2171.3 L1828.0,2172.4 L1828.9,2173.4 L1831.3,2174.2 L1833.9,2174.8 L1835.5,2175.4 L1835.9,2175.9 L1833.5,2176.5 L1830.9,2176.8Z" fill="#00BADE" stroke="#222" stroke-width="1.2"/>
<path d="M1915.7,2176.8 L1911.8,2176.5 L1908.3,2175.9 L1908.8,2175.5 L1911.2,2174.8 L1915.1,2173.9 L1918.8,2172.8 L1920.1,2171.6 L1920.2,2170.4 L1919.7,2169.1 L1918.4,2167.8 L1916.1,2166.4 L1913.4,2164.9 L1910.5,2163.6 L1907.6,2162.3 L1904.5,2161.4 L1902.2,2160.7 L1902.2,2160.7 L1899.9,2161.4 L1896.8,2162.3 L1893.9,2163.6 L1891.0,2164.9 L1888.3,2166.4 L1886.0,2167.8 L1884.7,2169.1 L1884.2,2170.4 L1884.3,2171.6 L1885.6,2172.8 L1889.3,2173.9 L1893.2,2174.8 L1895.6,2175.5 L1896.1,2175.9 L1892.6,2176.5 L1888.7,2176.8Z" fill="#00A6FF" stroke="#222" stroke-width="1.2"/>
<path d="M1986.2,2176.8 L1980.1,2176.5 L1974.7,2175.9 L1975.5,2175.4 L1979.2,2174.8 L1985.2,2174.4 L1991.0,2174.0 L1993.0,2173.2 L1993.2,2172.2 L1992.4,2171.3 L1990.4,2170.4 L1986.9,2169.4 L1982.6,2168.3 L1978.1,2167.4 L1973.6,2166.5 L1968.8,2165.8 L1965.2,2165.3 L1965.2,2165.3 L1961.6,2165.8 L1956.8,2166.5 L1952.3,2167.4 L1947.8,2168.3 L1943.5,2169.4 L1940.0,2170.4 L1938.0,2171.3 L1937.2,2172.2 L1937.4,2173.2 L1939.4,2174.0 L1945.2,2174.4 L1951.2,2174.8 L1954.9,2175.4 L1955.8,2175.9 L1950.3,2176.5 L1944.2,2176.8Z" fill="#B385FF" stroke="#222" stroke-width="1.2"/>
<path d="M2047.6,2176.8 L2042.0,2176.5 L2036.9,2175.9 L2037.6,2175.4 L2041.1,2174.8 L2046.7,2174.7 L2052.0,2174.5 L2053.9,2173.9 L2054.1,2173.2 L2053.4,2172.4 L2051.5,2171.7 L2048.2,2170.9 L2044.2,2170.0 L2040.1,2169.2 L2035.9,2168.6 L2031.5,2168.0 L2028.1,2167.6 L2028.1,2167.6 L2024.7,2168.0 L2020.3,2168.6 L2016.1,2169.2 L2012.0,2170.0 L2008.0,2170.9 L2004.7,2171.7 L2002.8,2172.4 L2002.1,2173.2 L2002.3,2173.9 L2004.2,2174.5 L2009.5,2174.7 L2015.1,2174.8 L2018.6,2175.4 L2019.3,2175.9 L2014.2,2176.5 L2008.6,2176.8Z" fill="#EF67EB" stroke="#222" stroke-width="1.2"/>
<path d="M2099.4,2176.8 L2096.8,2176.5 L2094.5,2175.9 L2094.8,2175.4 L2096.4,2174.8 L2099.0,2174.2 L2101.4,2173.4 L2102.3,2172.4 L2102.4,2171.3 L2102.1,2170.2 L2101.2,2169.1 L2099.7,2167.9 L2097.8,2166.6 L2095.9,2165.5 L2094.0,2164.4 L2092.0,2163.6 L2090.4,2163.0 L2090.4,2163.0 L2088.8,2163.6 L2086.8,2164.4 L2084.9,2165.5 L2083.0,2166.6 L2081.1,2167.9 L2079.6,2169.1 L2078.7,2170.2 L2078.4,2171.3 L2078.5,2172.4 L2079.4,2173.4 L2081.8,2174.2 L2084.4,2174.8 L2086.0,2175.4 L2086.3,2175.9 L2084.0,2176.5 L2081.4,2176.8Z" fill="#FF63B6" stroke="#222" stroke-width="1.2"/>
<path d="M1484.4,2211.5 L1478.3,2211.1 L1472.9,2210.6 L1473.7,2210.1 L1477.4,2209.5 L1483.4,2208.8 L1489.2,2208.0 L1491.2,2207.0 L1491.4,2206.0 L1490.6,2204.9 L1488.6,2203.8 L1485.1,2202.5 L1480.8,2201.3 L1476.3,2200.1 L1471.8,2199.1 L1467.0,2198.2 L1463.4,2197.7 L1463.4,2197.7 L1459.8,2198.2 L1455.0,2199.1 L1450.5,2200.1 L1446.0,2201.3 L1441.7,2202.5 L1438.2,2203.8 L1436.2,2204.9 L1435.4,2206.0 L1435.6,2207.0 L1437.6,2208.0 L1443.4,2208.8 L1449.4,2209.5 L1453.1,2210.1 L1454.0,2210.6 L1448.5,2211.1 L1442.4,2211.5Z" fill="#F8766D" stroke="#222" stroke-width="1.2"/>
<path d="M1547.4,2211.5 L1541.3,2211.1 L1535.9,2210.6 L1536.7,2210.1 L1540.4,2209.5 L1546.4,2208.8 L1552.2,2208.0 L1554.2,2207.0 L1554.4,2206.0 L1553.6,2204.9 L1551.6,2203.8 L1548.1,2202.5 L1543.8,2201.3 L1539.3,2200.1 L1534.8,2199.1 L1530.0,2198.2 L1526.4,2197.7 L1526.4,2197.7 L1522.8,2198.2 L1518.0,2199.1 L1513.5,2200.1 L1509.0,2201.3 L1504.7,2202.5 L1501.2,2203.8 L1499.2,2204.9 L1498.4,2206.0 L1498.6,2207.0 L1500.6,2208.0 L1506.4,2208.8 L1512.4,2209.5 L1516.1,2210.1 L1517.0,2210.6 L1511.5,2211.1 L1505.4,2211.5Z" fill="#DB8E00" stroke="#222" stroke-width="1.2"/>
<path d="M1610.3,2211.5 L1604.2,2211.1 L1598.8,2210.6 L1599.6,2210.1 L1603.3,2209.5 L1609.3,2208.8 L1615.1,2208.0 L1617.1,2207.0 L1617.3,2206.0 L1616.5,2204.9 L1614.5,2203.8 L1611.0,2202.5 L1606.7,2201.3 L1602.2,2200.1 L1597.7,2199.1 L1592.9,2198.2 L1589.3,2197.7 L1589.3,2197.7 L1585.7,2198.2 L1580.9,2199.1 L1576.4,2200.1 L1571.9,2201.3 L1567.6,2202.5 L1564.1,2203.8 L1562.1,2204.9 L1561.3,2206.0 L1561.5,2207.0 L1563.5,2208.0 L1569.3,2208.8 L1575.3,2209.5 L1579.0,2210.1 L1579.8,2210.6 L1574.4,2211.1 L1568.3,2211.5Z" fill="#AEA200" stroke="#222" stroke-width="1.2"/>
<path d="M1672.7,2211.5 L1666.6,2211.1 L1661.2,2210.6 L1662.0,2210.1 L1665.7,2209.5 L1671.7,2208.8 L1677.5,2208.0 L1679.5,2207.0 L1679.7,2206.0 L1678.9,2204.9 L1676.9,2203.8 L1673.4,2202.5 L1669.1,2201.3 L1664.6,2200.1 L1660.1,2199.1 L1655.3,2198.2 L1651.7,2197.7 L1651.7,2197.7 L1648.1,2198.2 L1643.3,2199.1 L1638.8,2200.1 L1634.3,2201.3 L1630.0,2202.5 L1626.5,2203.8 L1624.5,2204.9 L1623.7,2206.0 L1623.9,2207.0 L1625.9,2208.0 L1631.7,2208.8 L1637.7,2209.5 L1641.4,2210.1 L1642.2,2210.6 L1636.8,2211.1 L1630.7,2211.5Z" fill="#64B200" stroke="#222" stroke-width="1.2"/>
<path d="M1729.6,2211.5 L1725.3,2211.1 L1721.3,2210.6 L1721.9,2210.0 L1724.6,2209.5 L1728.9,2208.9 L1733.0,2208.3 L1734.5,2207.4 L1734.6,2206.4 L1734.0,2205.4 L1732.6,2204.4 L1730.1,2203.3 L1727.0,2202.1 L1723.8,2201.0 L1720.6,2200.1 L1717.2,2199.3 L1714.6,2198.8 L1714.6,2198.8 L1712.0,2199.3 L1708.6,2200.1 L1705.4,2201.0 L1702.2,2202.1 L1699.1,2203.3 L1696.6,2204.4 L1695.1,2205.4 L1694.6,2206.4 L1694.7,2207.4 L1696.2,2208.3 L1700.3,2208.9 L1704.6,2209.5 L1707.3,2210.0 L1707.8,2210.6 L1703.9,2211.1 L1699.6,2211.5Z" fill="#00BD5C" stroke="#222" stroke-width="1.2"/>
<path d="M1798.5,2211.5 L1792.4,2211.1 L1787.0,2210.6 L1787.8,2210.1 L1791.5,2209.5 L1797.5,2208.8 L1803.3,2208.0 L1805.3,2207.0 L1805.5,2206.0 L1804.7,2204.9 L1802.7,2203.8 L1799.2,2202.5 L1794.9,2201.3 L1790.4,2200.1 L1785.9,2199.1 L1781.1,2198.2 L1777.5,2197.7 L1777.5,2197.7 L1773.9,2198.2 L1769.1,2199.1 L1764.6,2200.1 L1760.1,2201.3 L1755.8,2202.5 L1752.3,2203.8 L1750.3,2204.9 L1749.5,2206.0 L1749.7,2207.0 L1751.7,2208.0 L1757.5,2208.8 L1763.5,2209.5 L1767.2,2210.1 L1768.0,2210.6 L1762.6,2211.1 L1756.5,2211.5Z" fill="#00C1A7" stroke="#222" stroke-width="1.2"/>
<path d="M1856.4,2211.5 L1851.6,2211.1 L1847.3,2210.6 L1848.0,2210.0 L1850.9,2209.5 L1855.6,2208.9 L1860.1,2208.3 L1861.7,2207.4 L1861.9,2206.4 L1861.3,2205.4 L1859.7,2204.4 L1856.9,2203.3 L1853.5,2202.1 L1850.0,2201.0 L1846.5,2200.1 L1842.8,2199.3 L1839.9,2198.8 L1839.9,2198.8 L1837.0,2199.3 L1833.3,2200.1 L1829.8,2201.0 L1826.3,2202.1 L1822.9,2203.3 L1820.1,2204.4 L1818.5,2205.4 L1817.9,2206.4 L1818.1,2207.4 L1819.7,2208.3 L1824.2,2208.9 L1828.9,2209.5 L1831.8,2210.0 L1832.5,2210.6 L1828.2,2211.1 L1823.4,2211.5Z" fill="#00BADE" stroke="#222" stroke-width="1.2"/>
<path d="M1923.2,2211.5 L1917.1,2211.1 L1911.7,2210.6 L1912.5,2210.1 L1916.2,2209.5 L1922.2,2208.8 L1928.0,2208.0 L1930.0,2207.0 L1930.2,2206.0 L1929.4,2204.9 L1927.4,2203.8 L1923.9,2202.5 L1919.6,2201.3 L1915.1,2200.1 L1910.6,2199.1 L1905.8,2198.2 L1902.2,2197.7 L1902.2,2197.7 L1898.6,2198.2 L1893.8,2199.1 L1889.3,2200.1 L1884.8,2201.3 L1880.5,2202.5 L1877.0,2203.8 L1875.0,2204.9 L1874.2,2206.0 L1874.4,2207.0 L1876.4,2208.0 L1882.2,2208.8 L1888.2,2209.5 L1891.9,2210.1 L1892.8,2210.6 L1887.3,2211.1 L1881.2,2211.5Z" fill="#00A6FF" stroke="#222" stroke-width="1.2"/>
<path d="M1986.2,2211.5 L1980.1,2211.1 L1974.7,2210.6 L1975.5,2210.0 L1979.2,2209.5 L1985.2,2208.9 L1991.0,2208.3 L1993.0,2207.4 L1993.2,2206.4 L1992.4,2205.4 L1990.4,2204.4 L1986.9,2203.3 L1982.6,2202.1 L1978.1,2201.0 L1973.6,2200.1 L1968.8,2199.3 L1965.2,2198.8 L1965.2,2198.8 L1961.6,2199.3 L1956.8,2200.1 L1952.3,2201.0 L1947.8,2202.1 L1943.5,2203.3 L1940.0,2204.4 L1938.0,2205.4 L1937.2,2206.4 L1937.4,2207.4 L1939.4,2208.3 L1945.2,2208.9 L1951.2,2209.5 L1954.9,2210.0 L1955.8,2210.6 L1950.3,2211.1 L1944.2,2211.5Z" fill="#B385FF" stroke="#222" stroke-width="1.2"/>
<path d="M2049.1,2211.5 L2043.0,2211.1 L2037.5,2210.6 L2038.4,2210.0 L2042.1,2209.5 L2048.1,2209.1 L2053.9,2208.6 L2055.9,2207.8 L2056.1,2206.9 L2055.3,2206.0 L2053.3,2205.0 L2049.8,2204.0 L2045.5,2203.0 L2041.0,2202.0 L2036.5,2201.1 L2031.7,2200.4 L2028.1,2200.0 L2028.1,2200.0 L2024.5,2200.4 L2019.7,2201.1 L2015.2,2202.0 L2010.7,2203.0 L2006.4,2204.0 L2002.9,2205.0 L2000.9,2206.0 L2000.1,2206.9 L2000.3,2207.8 L2002.3,2208.6 L2008.1,2209.1 L2014.1,2209.5 L2017.8,2210.0 L2018.6,2210.6 L2013.2,2211.1 L2007.1,2211.5Z" fill="#EF67EB" stroke="#222" stroke-width="1.2"/>
<path d="M2105.4,2211.5 L2101.1,2211.1 L2097.2,2210.6 L2097.7,2210.0 L2100.4,2209.5 L2104.7,2209.1 L2108.8,2208.6 L2110.2,2207.8 L2110.4,2206.9 L2109.9,2206.0 L2108.4,2205.0 L2105.9,2204.0 L2102.8,2203.0 L2099.6,2202.0 L2096.4,2201.1 L2093.0,2200.4 L2090.4,2200.0 L2090.4,2200.0 L2087.8,2200.4 L2084.4,2201.1 L2081.2,2202.0 L2078.0,2203.0 L2074.9,2204.0 L2072.4,2205.0 L2070.9,2206.0 L2070.4,2206.9 L2070.6,2207.8 L2072.0,2208.6 L2076.1,2209.1 L2080.4,2209.5 L2083.1,2210.0 L2083.7,2210.6 L2079.7,2211.1 L2075.4,2211.5Z" fill="#FF63B6" stroke="#222" stroke-width="1.2"/>
<path d="M1482.9,2246.1 L1477.3,2245.7 L1472.2,2245.2 L1472.9,2244.7 L1476.4,2244.1 L1482.0,2243.2 L1487.3,2242.1 L1489.2,2240.9 L1489.4,2239.7 L1488.7,2238.4 L1486.8,2237.1 L1483.5,2235.7 L1479.5,2234.2 L1475.4,2232.8 L1471.2,2231.6 L1466.8,2230.7 L1463.4,2230.0 L1463.4,2230.0 L1460.0,2230.7 L1455.6,2231.6 L1451.4,2232.8 L1447.3,2234.2 L1443.3,2235.7 L1440.0,2237.1 L1438.1,2238.4 L1437.4,2239.7 L1437.6,2240.9 L1439.5,2242.1 L1444.8,2243.2 L1450.4,2244.1 L1453.9,2244.7 L1454.6,2245.2 L1449.5,2245.7 L1443.9,2246.1Z" fill="#F8766D" stroke="#222" stroke-width="1.2"/>
<path d="M1547.4,2246.1 L1541.3,2245.7 L1535.9,2245.2 L1536.7,2244.7 L1540.4,2244.1 L1546.4,2243.5 L1552.2,2242.7 L1554.2,2241.7 L1554.4,2240.6 L1553.6,2239.5 L1551.6,2238.4 L1548.1,2237.1 L1543.8,2235.9 L1539.3,2234.7 L1534.8,2233.7 L1530.0,2232.9 L1526.4,2232.3 L1526.4,2232.3 L1522.8,2232.9 L1518.0,2233.7 L1513.5,2234.7 L1509.0,2235.9 L1504.7,2237.1 L1501.2,2238.4 L1499.2,2239.5 L1498.4,2240.6 L1498.6,2241.7 L1500.6,2242.7 L1506.4,2243.5 L1512.4,2244.1 L1516.1,2244.7 L1517.0,2245.2 L1511.5,2245.7 L1505.4,2246.1Z" fill="#DB8E00" stroke="#222" stroke-width="1.2"/>
<path d="M1605.0,2246.1 L1600.5,2245.7 L1596.4,2245.2 L1597.0,2244.7 L1599.8,2244.1 L1604.3,2243.5 L1608.6,2242.7 L1610.1,2241.7 L1610.3,2240.6 L1609.7,2239.5 L1608.2,2238.4 L1605.5,2237.1 L1602.3,2235.9 L1599.0,2234.7 L1595.6,2233.7 L1592.0,2232.9 L1589.3,2232.3 L1589.3,2232.3 L1586.6,2232.9 L1583.0,2233.7 L1579.6,2234.7 L1576.3,2235.9 L1573.1,2237.1 L1570.4,2238.4 L1568.9,2239.5 L1568.3,2240.6 L1568.5,2241.7 L1570.0,2242.7 L1574.3,2243.5 L1578.8,2244.1 L1581.6,2244.7 L1582.2,2245.2 L1578.1,2245.7 L1573.5,2246.1Z" fill="#AEA200" stroke="#222" stroke-width="1.2"/>
<path d="M1671.2,2246.1 L1665.6,2245.7 L1660.5,2245.2 L1661.2,2244.7 L1664.7,2244.1 L1670.3,2243.5 L1675.6,2242.7 L1677.5,2241.7 L1677.7,2240.6 L1677.0,2239.5 L1675.1,2238.4 L1671.8,2237.1 L1667.8,2235.9 L1663.7,2234.7 L1659.5,2233.7 L1655.1,2232.9 L1651.7,2232.3 L1651.7,2232.3 L1648.3,2232.9 L1643.9,2233.7 L1639.7,2234.7 L1635.6,2235.9 L1631.6,2237.1 L1628.3,2238.4 L1626.4,2239.5 L1625.7,2240.6 L1625.9,2241.7 L1627.8,2242.7 L1633.1,2243.5 L1638.7,2244.1 L1642.2,2244.7 L1642.9,2245.2 L1637.8,2245.7 L1632.2,2246.1Z" fill="#64B200" stroke="#222" stroke-width="1.2"/>
<path d="M1723.6,2246.1 L1721.2,2245.7 L1718.6,2245.2 L1717.7,2244.7 L1717.6,2244.1 L1718.8,2243.5 L1720.1,2242.7 L1720.6,2241.7 L1720.6,2240.6 L1720.4,2239.5 L1720.0,2238.4 L1719.2,2237.1 L1718.3,2235.9 L1717.4,2234.7 L1716.4,2233.7 L1715.4,2232.9 L1714.6,2232.3 L1714.6,2232.3 L1713.8,2232.9 L1712.8,2233.7 L1711.8,2234.7 L1710.9,2235.9 L1710.0,2237.1 L1709.2,2238.4 L1708.8,2239.5 L1708.6,2240.6 L1708.6,2241.7 L1709.1,2242.7 L1710.4,2243.5 L1711.6,2244.1 L1711.5,2244.7 L1710.5,2245.2 L1708.0,2245.7 L1705.6,2246.1Z" fill="#00BD5C" stroke="#222" stroke-width="1.2"/>
<path d="M1792.5,2246.1 L1788.2,2245.7 L1784.2,2245.2 L1784.8,2244.7 L1787.5,2244.1 L1791.8,2243.5 L1795.9,2242.7 L1797.4,2241.7 L1797.5,2240.6 L1797.0,2239.5 L1795.5,2238.4 L1793.0,2237.1 L1789.9,2235.9 L1786.7,2234.7 L1783.5,2233.7 L1780.1,2232.9 L1777.5,2232.3 L1777.5,2232.3 L1774.9,2232.9 L1771.5,2233.7 L1768.3,2234.7 L1765.1,2235.9 L1762.0,2237.1 L1759.5,2238.4 L1758.0,2239.5 L1757.5,2240.6 L1757.6,2241.7 L1759.1,2242.7 L1763.2,2243.5 L1767.5,2244.1 L1770.2,2244.7 L1770.8,2245.2 L1766.8,2245.7 L1762.5,2246.1Z" fill="#00C1A7" stroke="#222" stroke-width="1.2"/>
<path d="M1848.9,2246.1 L1846.5,2245.7 L1844.0,2245.2 L1842.7,2244.7 L1842.4,2244.1 L1843.3,2243.6 L1844.5,2243.0 L1844.9,2242.1 L1844.9,2241.1 L1844.8,2240.1 L1844.4,2239.0 L1843.8,2237.9 L1843.0,2236.8 L1842.2,2235.7 L1841.4,2234.7 L1840.6,2234.0 L1839.9,2233.5 L1839.9,2233.5 L1839.2,2234.0 L1838.4,2234.7 L1837.6,2235.7 L1836.8,2236.8 L1836.0,2237.9 L1835.4,2239.0 L1835.0,2240.1 L1834.9,2241.1 L1834.9,2242.1 L1835.3,2243.0 L1836.5,2243.6 L1837.4,2244.1 L1837.1,2244.7 L1835.9,2245.2 L1833.3,2245.7 L1830.9,2246.1Z" fill="#00BADE" stroke="#222" stroke-width="1.2"/>
<path d="M1914.2,2246.1 L1910.7,2245.7 L1907.6,2245.2 L1908.1,2244.7 L1910.2,2244.1 L1913.6,2243.5 L1916.9,2242.7 L1918.1,2241.7 L1918.2,2240.6 L1917.8,2239.5 L1916.6,2238.4 L1914.6,2237.1 L1912.1,2235.9 L1909.6,2234.7 L1907.0,2233.7 L1904.3,2232.9 L1902.2,2232.3 L1902.2,2232.3 L1900.1,2232.9 L1897.4,2233.7 L1894.8,2234.7 L1892.3,2235.9 L1889.8,2237.1 L1887.8,2238.4 L1886.6,2239.5 L1886.2,2240.6 L1886.3,2241.7 L1887.5,2242.7 L1890.8,2243.5 L1894.2,2244.1 L1896.3,2244.7 L1896.8,2245.2 L1893.7,2245.7 L1890.2,2246.1Z" fill="#00A6FF" stroke="#222" stroke-width="1.2"/>
<path d="M1983.2,2246.1 L1978.0,2245.7 L1973.3,2245.2 L1974.0,2244.7 L1977.2,2244.1 L1982.4,2243.5 L1987.3,2242.7 L1989.0,2241.7 L1989.2,2240.6 L1988.5,2239.5 L1986.8,2238.4 L1983.8,2237.1 L1980.1,2235.9 L1976.3,2234.7 L1972.4,2233.7 L1968.3,2232.9 L1965.2,2232.3 L1965.2,2232.3 L1962.1,2232.9 L1958.0,2233.7 L1954.1,2234.7 L1950.3,2235.9 L1946.6,2237.1 L1943.6,2238.4 L1941.9,2239.5 L1941.2,2240.6 L1941.4,2241.7 L1943.1,2242.7 L1948.0,2243.5 L1953.2,2244.1 L1956.4,2244.7 L1957.1,2245.2 L1952.4,2245.7 L1947.2,2246.1Z" fill="#B385FF" stroke="#222" stroke-width="1.2"/>
<line x1="2028.1" y1="2246.1" x2="2028.1" y2="2238.1" stroke="#222" stroke-width="1.3"/>
<path d="M2099.4,2246.1 L2096.8,2245.7 L2094.5,2245.2 L2094.8,2244.6 L2096.4,2244.1 L2099.0,2244.0 L2101.4,2243.8 L2102.3,2243.2 L2102.4,2242.4 L2102.1,2241.7 L2101.2,2241.0 L2099.7,2240.1 L2097.8,2239.3 L2095.9,2238.5 L2094.0,2237.8 L2092.0,2237.3 L2090.4,2236.9 L2090.4,2236.9 L2088.8,2237.3 L2086.8,2237.8 L2084.9,2238.5 L2083.0,2239.3 L2081.1,2240.1 L2079.6,2241.0 L2078.7,2241.7 L2078.4,2242.4 L2078.5,2243.2 L2079.4,2243.8 L2081.8,2244.0 L2084.4,2244.1 L2086.0,2244.6 L2086.3,2245.2 L2084.0,2245.7 L2081.4,2246.1Z" fill="#FF63B6" stroke="#222" stroke-width="1.2"/>
<path d="M1484.4,2280.8 L1478.3,2280.4 L1472.9,2279.9 L1473.7,2279.3 L1477.4,2278.8 L1483.4,2278.4 L1489.2,2277.9 L1491.2,2277.1 L1491.4,2276.2 L1490.6,2275.3 L1488.6,2274.3 L1485.1,2273.3 L1480.8,2272.2 L1476.3,2271.3 L1471.8,2270.4 L1467.0,2269.7 L1463.4,2269.3 L1463.4,2269.3 L1459.8,2269.7 L1455.0,2270.4 L1450.5,2271.3 L1446.0,2272.2 L1441.7,2273.3 L1438.2,2274.3 L1436.2,2275.3 L1435.4,2276.2 L1435.6,2277.1 L1437.6,2277.9 L1443.4,2278.4 L1449.4,2278.8 L1453.1,2279.3 L1454.0,2279.9 L1448.5,2280.4 L1442.4,2280.8Z" fill="#F8766D" stroke="#222" stroke-width="1.2"/>
<path d="M1536.9,2280.8 L1533.9,2280.4 L1531.1,2279.9 L1531.5,2279.3 L1533.4,2278.8 L1536.4,2278.6 L1539.3,2278.5 L1540.3,2277.8 L1540.4,2277.1 L1540.0,2276.4 L1539.0,2275.6 L1537.2,2274.8 L1535.1,2274.0 L1532.9,2273.2 L1530.6,2272.5 L1528.2,2271.9 L1526.4,2271.6 L1526.4,2271.6 L1524.6,2271.9 L1522.2,2272.5 L1519.9,2273.2 L1517.7,2274.0 L1515.6,2274.8 L1513.8,2275.6 L1512.8,2276.4 L1512.4,2277.1 L1512.5,2277.8 L1513.5,2278.5 L1516.4,2278.6 L1519.4,2278.8 L1521.3,2279.3 L1521.7,2279.9 L1518.9,2280.4 L1515.9,2280.8Z" fill="#DB8E00" stroke="#222" stroke-width="1.2"/>
<path d="M1599.8,2280.8 L1596.8,2280.4 L1594.0,2279.9 L1594.4,2279.3 L1596.3,2278.8 L1599.3,2278.4 L1602.2,2277.9 L1603.2,2277.1 L1603.3,2276.2 L1602.9,2275.3 L1601.9,2274.3 L1600.1,2273.3 L1598.0,2272.2 L1595.8,2271.3 L1593.5,2270.4 L1591.1,2269.7 L1589.3,2269.3 L1589.3,2269.3 L1587.5,2269.7 L1585.1,2270.4 L1582.8,2271.3 L1580.6,2272.2 L1578.5,2273.3 L1576.7,2274.3 L1575.7,2275.3 L1575.3,2276.2 L1575.4,2277.1 L1576.4,2277.9 L1579.3,2278.4 L1582.3,2278.8 L1584.2,2279.3 L1584.6,2279.9 L1581.8,2280.4 L1578.8,2280.8Z" fill="#AEA200" stroke="#222" stroke-width="1.2"/>
<path d="M1665.2,2280.8 L1661.3,2280.4 L1657.8,2279.9 L1658.3,2279.3 L1660.7,2278.8 L1664.6,2278.5 L1668.3,2278.2 L1669.6,2277.5 L1669.7,2276.6 L1669.2,2275.8 L1667.9,2275.0 L1665.6,2274.0 L1662.9,2273.1 L1660.0,2272.2 L1657.1,2271.4 L1654.0,2270.8 L1651.7,2270.4 L1651.7,2270.4 L1649.4,2270.8 L1646.3,2271.4 L1643.4,2272.2 L1640.5,2273.1 L1637.8,2274.0 L1635.5,2275.0 L1634.2,2275.8 L1633.7,2276.6 L1633.8,2277.5 L1635.1,2278.2 L1638.8,2278.5 L1642.7,2278.8 L1645.1,2279.3 L1645.6,2279.9 L1642.1,2280.4 L1638.2,2280.8Z" fill="#64B200" stroke="#222" stroke-width="1.2"/>
<line x1="1714.6" y1="2280.8" x2="1714.6" y2="2274.8" stroke="#222" stroke-width="1.3"/>
<line x1="1777.5" y1="2280.8" x2="1777.5" y2="2277.8" stroke="#222" stroke-width="1.3"/>
<line x1="1839.9" y1="2280.8" x2="1839.9" y2="2275.8" stroke="#222" stroke-width="1.3"/>
<path d="M1911.2,2280.8 L1908.7,2280.4 L1906.2,2279.9 L1905.7,2279.3 L1906.2,2278.8 L1907.8,2278.6 L1909.6,2278.5 L1910.1,2277.8 L1910.2,2277.1 L1910.0,2276.4 L1909.4,2275.6 L1908.4,2274.8 L1907.2,2274.0 L1905.9,2273.2 L1904.6,2272.5 L1903.2,2271.9 L1902.2,2271.6 L1902.2,2271.6 L1901.2,2271.9 L1899.8,2272.5 L1898.5,2273.2 L1897.2,2274.0 L1896.0,2274.8 L1895.0,2275.6 L1894.4,2276.4 L1894.2,2277.1 L1894.3,2277.8 L1894.8,2278.5 L1896.6,2278.6 L1898.2,2278.8 L1898.7,2279.3 L1898.2,2279.9 L1895.7,2280.4 L1893.2,2280.8Z" fill="#00A6FF" stroke="#222" stroke-width="1.2"/>
<path d="M1974.2,2280.8 L1971.7,2280.4 L1969.2,2279.9 L1968.9,2279.3 L1969.7,2278.8 L1971.6,2278.6 L1973.5,2278.5 L1974.1,2277.8 L1974.2,2277.1 L1974.0,2276.4 L1973.3,2275.6 L1972.2,2274.8 L1970.8,2274.0 L1969.4,2273.2 L1967.9,2272.5 L1966.4,2271.9 L1965.2,2271.6 L1965.2,2271.6 L1964.0,2271.9 L1962.5,2272.5 L1961.0,2273.2 L1959.6,2274.0 L1958.2,2274.8 L1957.1,2275.6 L1956.4,2276.4 L1956.2,2277.1 L1956.3,2277.8 L1956.9,2278.5 L1958.8,2278.6 L1960.7,2278.8 L1961.5,2279.3 L1961.2,2279.9 L1958.7,2280.4 L1956.2,2280.8Z" fill="#B385FF" stroke="#222" stroke-width="1.2"/>
<path d="M2043.1,2280.8 L2038.8,2280.4 L2034.8,2279.9 L2035.4,2279.2 L2038.1,2278.8 L2042.4,2278.9 L2046.5,2279.0 L2048.0,2278.6 L2048.1,2278.0 L2047.5,2277.5 L2046.1,2276.9 L2043.6,2276.3 L2040.5,2275.7 L2037.3,2275.1 L2034.1,2274.5 L2030.7,2274.1 L2028.1,2273.9 L2028.1,2273.9 L2025.5,2274.1 L2022.1,2274.5 L2018.9,2275.1 L2015.7,2275.7 L2012.6,2276.3 L2010.1,2276.9 L2008.6,2277.5 L2008.1,2278.0 L2008.2,2278.6 L2009.7,2279.0 L2013.8,2278.9 L2018.1,2278.8 L2020.8,2279.2 L2021.3,2279.9 L2017.4,2280.4 L2013.1,2280.8Z" fill="#EF67EB" stroke="#222" stroke-width="1.2"/>
<line x1="2090.4" y1="2280.8" x2="2090.4" y2="2275.8" stroke="#222" stroke-width="1.3"/>
<path d="M1484.4,2315.4 L1478.3,2315.0 L1472.9,2314.5 L1473.7,2314.0 L1477.4,2313.4 L1483.4,2312.7 L1489.2,2311.9 L1491.2,2311.0 L1491.4,2309.9 L1490.6,2308.8 L1488.6,2307.7 L1485.1,2306.4 L1480.8,2305.2 L1476.3,2304.0 L1471.8,2303.0 L1467.0,2302.2 L1463.4,2301.6 L1463.4,2301.6 L1459.8,2302.2 L1455.0,2303.0 L1450.5,2304.0 L1446.0,2305.2 L1441.7,2306.4 L1438.2,2307.7 L1436.2,2308.8 L1435.4,2309.9 L1435.6,2311.0 L1437.6,2311.9 L1443.4,2312.7 L1449.4,2313.4 L1453.1,2314.0 L1454.0,2314.5 L1448.5,2315.0 L1442.4,2315.4Z" fill="#F8766D" stroke="#222" stroke-width="1.2"/>
<line x1="1526.4" y1="2315.4" x2="1526.4" y2="2312.4" stroke="#222" stroke-width="1.3"/>
<line x1="1651.7" y1="2315.4" x2="1651.7" y2="2312.4" stroke="#222" stroke-width="1.3"/>
<line x1="1714.6" y1="2315.4" x2="1714.6" y2="2308.4" stroke="#222" stroke-width="1.3"/>
<line x1="1839.9" y1="2315.4" x2="1839.9" y2="2309.4" stroke="#222" stroke-width="1.3"/>
<line x1="1902.2" y1="2315.4" x2="1902.2" y2="2309.4" stroke="#222" stroke-width="1.3"/>
<line x1="1965.2" y1="2315.4" x2="1965.2" y2="2311.4" stroke="#222" stroke-width="1.3"/>
<line x1="1463.4" y1="2350.0" x2="1463.4" y2="2345.0" stroke="#222" stroke-width="1.3"/>
<line x1="1526.4" y1="2350.0" x2="1526.4" y2="2346.0" stroke="#222" stroke-width="1.3"/>
<line x1="1589.3" y1="2350.0" x2="1589.3" y2="2346.0" stroke="#222" stroke-width="1.3"/>
<line x1="1651.7" y1="2350.0" x2="1651.7" y2="2346.0" stroke="#222" stroke-width="1.3"/>
<path d="M1729.6,2350.0 L1725.3,2349.7 L1721.3,2349.1 L1721.9,2348.7 L1724.6,2348.0 L1728.9,2346.8 L1733.0,2345.4 L1734.5,2344.1 L1734.6,2342.7 L1734.0,2341.2 L1732.6,2339.7 L1730.1,2338.1 L1727.0,2336.4 L1723.8,2334.9 L1720.6,2333.5 L1717.2,2332.4 L1714.6,2331.6 L1714.6,2331.6 L1712.0,2332.4 L1708.6,2333.5 L1705.4,2334.9 L1702.2,2336.4 L1699.1,2338.1 L1696.6,2339.7 L1695.1,2341.2 L1694.6,2342.7 L1694.7,2344.1 L1696.2,2345.4 L1700.3,2346.8 L1704.6,2348.0 L1707.3,2348.7 L1707.8,2349.1 L1703.9,2349.7 L1699.6,2350.0Z" fill="#00BD5C" stroke="#222" stroke-width="1.2"/>
<line x1="1777.5" y1="2350.0" x2="1777.5" y2="2346.0" stroke="#222" stroke-width="1.3"/>
<line x1="1839.9" y1="2350.0" x2="1839.9" y2="2343.0" stroke="#222" stroke-width="1.3"/>
<line x1="1902.2" y1="2350.0" x2="1902.2" y2="2346.0" stroke="#222" stroke-width="1.3"/>
<line x1="1965.2" y1="2350.0" x2="1965.2" y2="2346.0" stroke="#222" stroke-width="1.3"/>
<line x1="2090.4" y1="2350.0" x2="2090.4" y2="2346.0" stroke="#222" stroke-width="1.3"/>
<path d="M1482.9,2384.7 L1477.3,2384.3 L1472.2,2383.8 L1472.9,2383.2 L1476.4,2382.7 L1482.0,2382.4 L1487.3,2382.1 L1489.2,2381.4 L1489.4,2380.5 L1488.7,2379.7 L1486.8,2378.9 L1483.5,2378.0 L1479.5,2377.0 L1475.4,2376.1 L1471.2,2375.4 L1466.8,2374.7 L1463.4,2374.3 L1463.4,2374.3 L1460.0,2374.7 L1455.6,2375.4 L1451.4,2376.1 L1447.3,2377.0 L1443.3,2378.0 L1440.0,2378.9 L1438.1,2379.7 L1437.4,2380.5 L1437.6,2381.4 L1439.5,2382.1 L1444.8,2382.4 L1450.4,2382.7 L1453.9,2383.2 L1454.6,2383.8 L1449.5,2384.3 L1443.9,2384.7Z" fill="#F8766D" stroke="#222" stroke-width="1.2"/>
<path d="M1547.4,2384.7 L1541.3,2384.3 L1535.9,2383.8 L1536.7,2383.3 L1540.4,2382.7 L1546.4,2382.0 L1552.2,2381.2 L1554.2,2380.2 L1554.4,2379.2 L1553.6,2378.1 L1551.6,2377.0 L1548.1,2375.7 L1543.8,2374.5 L1539.3,2373.3 L1534.8,2372.3 L1530.0,2371.4 L1526.4,2370.9 L1526.4,2370.9 L1522.8,2371.4 L1518.0,2372.3 L1513.5,2373.3 L1509.0,2374.5 L1504.7,2375.7 L1501.2,2377.0 L1499.2,2378.1 L1498.4,2379.2 L1498.6,2380.2 L1500.6,2381.2 L1506.4,2382.0 L1512.4,2382.7 L1516.1,2383.3 L1517.0,2383.8 L1511.5,2384.3 L1505.4,2384.7Z" fill="#DB8E00" stroke="#222" stroke-width="1.2"/>
<path d="M1610.3,2384.7 L1604.2,2384.3 L1598.8,2383.8 L1599.6,2383.2 L1603.3,2382.7 L1609.3,2382.3 L1615.1,2381.8 L1617.1,2381.0 L1617.3,2380.1 L1616.5,2379.2 L1614.5,2378.2 L1611.0,2377.2 L1606.7,2376.2 L1602.2,2375.2 L1597.7,2374.3 L1592.9,2373.6 L1589.3,2373.2 L1589.3,2373.2 L1585.7,2373.6 L1580.9,2374.3 L1576.4,2375.2 L1571.9,2376.2 L1567.6,2377.2 L1564.1,2378.2 L1562.1,2379.2 L1561.3,2380.1 L1561.5,2381.0 L1563.5,2381.8 L1569.3,2382.3 L1575.3,2382.7 L1579.0,2383.2 L1579.8,2383.8 L1574.4,2384.3 L1568.3,2384.7Z" fill="#AEA200" stroke="#222" stroke-width="1.2"/>
<path d="M1671.2,2384.7 L1665.6,2384.3 L1660.5,2383.8 L1661.2,2383.2 L1664.7,2382.7 L1670.3,2382.3 L1675.6,2381.8 L1677.5,2381.0 L1677.7,2380.1 L1677.0,2379.2 L1675.1,2378.2 L1671.8,2377.2 L1667.8,2376.2 L1663.7,2375.2 L1659.5,2374.3 L1655.1,2373.6 L1651.7,2373.2 L1651.7,2373.2 L1648.3,2373.6 L1643.9,2374.3 L1639.7,2375.2 L1635.6,2376.2 L1631.6,2377.2 L1628.3,2378.2 L1626.4,2379.2 L1625.7,2380.1 L1625.9,2381.0 L1627.8,2381.8 L1633.1,2382.3 L1638.7,2382.7 L1642.2,2383.2 L1642.9,2383.8 L1637.8,2384.3 L1632.2,2384.7Z" fill="#64B200" stroke="#222" stroke-width="1.2"/>
<path d="M1725.1,2384.7 L1722.1,2384.3 L1719.3,2383.8 L1719.7,2383.3 L1721.6,2382.7 L1724.6,2382.0 L1727.5,2381.2 L1728.5,2380.2 L1728.6,2379.2 L1728.2,2378.1 L1727.2,2377.0 L1725.4,2375.7 L1723.3,2374.5 L1721.1,2373.3 L1718.8,2372.3 L1716.4,2371.4 L1714.6,2370.9 L1714.6,2370.9 L1712.8,2371.4 L1710.4,2372.3 L1708.1,2373.3 L1705.9,2374.5 L1703.8,2375.7 L1702.0,2377.0 L1701.0,2378.1 L1700.6,2379.2 L1700.7,2380.2 L1701.7,2381.2 L1704.6,2382.0 L1707.6,2382.7 L1709.5,2383.3 L1709.9,2383.8 L1707.1,2384.3 L1704.1,2384.7Z" fill="#00BD5C" stroke="#222" stroke-width="1.2"/>
<path d="M1798.5,2384.7 L1792.4,2384.3 L1787.0,2383.8 L1787.8,2383.3 L1791.5,2382.7 L1797.5,2382.0 L1803.3,2381.2 L1805.3,2380.2 L1805.5,2379.2 L1804.7,2378.1 L1802.7,2377.0 L1799.2,2375.7 L1794.9,2374.5 L1790.4,2373.3 L1785.9,2372.3 L1781.1,2371.4 L1777.5,2370.9 L1777.5,2370.9 L1773.9,2371.4 L1769.1,2372.3 L1764.6,2373.3 L1760.1,2374.5 L1755.8,2375.7 L1752.3,2377.0 L1750.3,2378.1 L1749.5,2379.2 L1749.7,2380.2 L1751.7,2381.2 L1757.5,2382.0 L1763.5,2382.7 L1767.2,2383.3 L1768.0,2383.8 L1762.6,2384.3 L1756.5,2384.7Z" fill="#00C1A7" stroke="#222" stroke-width="1.2"/>
<path d="M1853.4,2384.7 L1849.5,2384.3 L1846.0,2383.8 L1846.5,2383.2 L1848.9,2382.7 L1852.8,2382.1 L1856.5,2381.5 L1857.8,2380.6 L1857.9,2379.6 L1857.4,2378.6 L1856.1,2377.6 L1853.8,2376.5 L1851.1,2375.3 L1848.2,2374.2 L1845.3,2373.3 L1842.2,2372.5 L1839.9,2372.0 L1839.9,2372.0 L1837.6,2372.5 L1834.5,2373.3 L1831.6,2374.2 L1828.7,2375.3 L1826.0,2376.5 L1823.7,2377.6 L1822.4,2378.6 L1821.9,2379.6 L1822.0,2380.6 L1823.3,2381.5 L1827.0,2382.1 L1830.9,2382.7 L1833.3,2383.2 L1833.8,2383.8 L1830.3,2384.3 L1826.4,2384.7Z" fill="#00BADE" stroke="#222" stroke-width="1.2"/>
<path d="M1914.2,2384.7 L1910.7,2384.3 L1907.6,2383.8 L1908.1,2383.2 L1910.2,2382.7 L1913.6,2382.1 L1916.9,2381.5 L1918.1,2380.6 L1918.2,2379.6 L1917.8,2378.6 L1916.6,2377.6 L1914.6,2376.5 L1912.1,2375.3 L1909.6,2374.2 L1907.0,2373.3 L1904.3,2372.5 L1902.2,2372.0 L1902.2,2372.0 L1900.1,2372.5 L1897.4,2373.3 L1894.8,2374.2 L1892.3,2375.3 L1889.8,2376.5 L1887.8,2377.6 L1886.6,2378.6 L1886.2,2379.6 L1886.3,2380.6 L1887.5,2381.5 L1890.8,2382.1 L1894.2,2382.7 L1896.3,2383.2 L1896.8,2383.8 L1893.7,2384.3 L1890.2,2384.7Z" fill="#00A6FF" stroke="#222" stroke-width="1.2"/>
<path d="M1986.2,2384.7 L1980.1,2384.3 L1974.7,2383.8 L1975.5,2383.3 L1979.2,2382.7 L1985.2,2382.0 L1991.0,2381.2 L1993.0,2380.2 L1993.2,2379.2 L1992.4,2378.1 L1990.4,2377.0 L1986.9,2375.7 L1982.6,2374.5 L1978.1,2373.3 L1973.6,2372.3 L1968.8,2371.4 L1965.2,2370.9 L1965.2,2370.9 L1961.6,2371.4 L1956.8,2372.3 L1952.3,2373.3 L1947.8,2374.5 L1943.5,2375.7 L1940.0,2377.0 L1938.0,2378.1 L1937.2,2379.2 L1937.4,2380.2 L1939.4,2381.2 L1945.2,2382.0 L1951.2,2382.7 L1954.9,2383.3 L1955.8,2383.8 L1950.3,2384.3 L1944.2,2384.7Z" fill="#B385FF" stroke="#222" stroke-width="1.2"/>
<path d="M2047.6,2384.7 L2042.0,2384.3 L2036.9,2383.8 L2037.6,2383.3 L2041.1,2382.7 L2046.7,2382.0 L2052.0,2381.2 L2053.9,2380.2 L2054.1,2379.2 L2053.4,2378.1 L2051.5,2377.0 L2048.2,2375.7 L2044.2,2374.5 L2040.1,2373.3 L2035.9,2372.3 L2031.5,2371.4 L2028.1,2370.9 L2028.1,2370.9 L2024.7,2371.4 L2020.3,2372.3 L2016.1,2373.3 L2012.0,2374.5 L2008.0,2375.7 L2004.7,2377.0 L2002.8,2378.1 L2002.1,2379.2 L2002.3,2380.2 L2004.2,2381.2 L2009.5,2382.0 L2015.1,2382.7 L2018.6,2383.3 L2019.3,2383.8 L2014.2,2384.3 L2008.6,2384.7Z" fill="#EF67EB" stroke="#222" stroke-width="1.2"/>
<path d="M2099.4,2384.7 L2096.9,2384.3 L2094.5,2383.8 L2094.4,2383.2 L2095.4,2382.7 L2097.5,2382.5 L2099.6,2382.4 L2100.3,2381.8 L2100.4,2381.0 L2100.1,2380.3 L2099.4,2379.5 L2098.1,2378.7 L2096.6,2377.9 L2095.0,2377.1 L2093.4,2376.4 L2091.7,2375.8 L2090.4,2375.5 L2090.4,2375.5 L2089.1,2375.8 L2087.4,2376.4 L2085.8,2377.1 L2084.2,2377.9 L2082.7,2378.7 L2081.4,2379.5 L2080.7,2380.3 L2080.4,2381.0 L2080.5,2381.8 L2081.2,2382.4 L2083.3,2382.5 L2085.4,2382.7 L2086.4,2383.2 L2086.3,2383.8 L2083.9,2384.3 L2081.4,2384.7Z" fill="#FF63B6" stroke="#222" stroke-width="1.2"/>
<line x1="1463.4" y1="2419.3" x2="1463.4" y2="2416.3" stroke="#222" stroke-width="1.3"/>
<line x1="1526.4" y1="2419.3" x2="1526.4" y2="2415.3" stroke="#222" stroke-width="1.3"/>
<line x1="1589.3" y1="2419.3" x2="1589.3" y2="2412.3" stroke="#222" stroke-width="1.3"/>
<line x1="1651.7" y1="2419.3" x2="1651.7" y2="2413.3" stroke="#222" stroke-width="1.3"/>
<line x1="1714.6" y1="2419.3" x2="1714.6" y2="2411.3" stroke="#222" stroke-width="1.3"/>
<line x1="1777.5" y1="2419.3" x2="1777.5" y2="2414.3" stroke="#222" stroke-width="1.3"/>
<line x1="1839.9" y1="2419.3" x2="1839.9" y2="2412.3" stroke="#222" stroke-width="1.3"/>
<line x1="1902.2" y1="2419.3" x2="1902.2" y2="2414.3" stroke="#222" stroke-width="1.3"/>
<path d="M1980.2,2419.3 L1975.9,2418.9 L1972.0,2418.4 L1972.5,2417.9 L1975.2,2417.3 L1979.5,2416.4 L1983.6,2415.3 L1985.1,2414.1 L1985.2,2412.9 L1984.7,2411.6 L1983.2,2410.3 L1980.7,2408.9 L1977.6,2407.4 L1974.4,2406.0 L1971.2,2404.8 L1967.8,2403.9 L1965.2,2403.2 L1965.2,2403.2 L1962.6,2403.9 L1959.2,2404.8 L1956.0,2406.0 L1952.8,2407.4 L1949.7,2408.9 L1947.2,2410.3 L1945.8,2411.6 L1945.2,2412.9 L1945.3,2414.1 L1946.8,2415.3 L1950.9,2416.4 L1955.2,2417.3 L1957.9,2417.9 L1958.5,2418.4 L1954.5,2418.9 L1950.2,2419.3Z" fill="#B385FF" stroke="#222" stroke-width="1.2"/>
<line x1="2028.1" y1="2419.3" x2="2028.1" y2="2416.3" stroke="#222" stroke-width="1.3"/>
<line x1="2090.4" y1="2419.3" x2="2090.4" y2="2413.3" stroke="#222" stroke-width="1.3"/>
<line x1="1463.4" y1="2454.0" x2="1463.4" y2="2438.0" stroke="#222" stroke-width="1.3"/>
<line x1="1589.3" y1="2454.0" x2="1589.3" y2="2450.0" stroke="#222" stroke-width="1.3"/>
<line x1="1651.7" y1="2454.0" x2="1651.7" y2="2447.0" stroke="#222" stroke-width="1.3"/>
<line x1="1714.6" y1="2454.0" x2="1714.6" y2="2449.0" stroke="#222" stroke-width="1.3"/>
<line x1="1777.5" y1="2454.0" x2="1777.5" y2="2445.0" stroke="#222" stroke-width="1.3"/>
<line x1="1839.9" y1="2454.0" x2="1839.9" y2="2446.0" stroke="#222" stroke-width="1.3"/>
<line x1="1902.2" y1="2454.0" x2="1902.2" y2="2446.0" stroke="#222" stroke-width="1.3"/>
<path d="M1975.7,2454.0 L1972.7,2453.6 L1969.9,2453.1 L1970.3,2452.7 L1972.2,2452.0 L1975.2,2450.5 L1978.1,2448.8 L1979.1,2447.2 L1979.2,2445.7 L1978.8,2444.1 L1977.8,2442.4 L1976.0,2440.5 L1973.9,2438.6 L1971.7,2436.9 L1969.4,2435.3 L1967.0,2434.1 L1965.2,2433.3 L1965.2,2433.3 L1963.4,2434.1 L1961.0,2435.3 L1958.7,2436.9 L1956.5,2438.6 L1954.4,2440.5 L1952.6,2442.4 L1951.6,2444.1 L1951.2,2445.7 L1951.3,2447.2 L1952.3,2448.8 L1955.2,2450.5 L1958.2,2452.0 L1960.1,2452.7 L1960.5,2453.1 L1957.7,2453.6 L1954.7,2454.0Z" fill="#B385FF" stroke="#222" stroke-width="1.2"/>
<line x1="1526.4" y1="2488.6" x2="1526.4" y2="2484.6" stroke="#222" stroke-width="1.3"/>
<line x1="1589.3" y1="2488.6" x2="1589.3" y2="2483.6" stroke="#222" stroke-width="1.3"/>
<line x1="1651.7" y1="2488.6" x2="1651.7" y2="2484.6" stroke="#222" stroke-width="1.3"/>
<line x1="1714.6" y1="2488.6" x2="1714.6" y2="2476.6" stroke="#222" stroke-width="1.3"/>
<line x1="1777.5" y1="2488.6" x2="1777.5" y2="2476.6" stroke="#222" stroke-width="1.3"/>
<path d="M1974.2,2488.6 L1971.6,2488.2 L1969.2,2487.7 L1969.6,2487.2 L1971.2,2486.6 L1973.8,2485.9 L1976.2,2485.2 L1977.1,2484.2 L1977.2,2483.1 L1976.9,2482.0 L1976.0,2480.9 L1974.5,2479.6 L1972.6,2478.4 L1970.7,2477.2 L1968.8,2476.2 L1966.8,2475.4 L1965.2,2474.8 L1965.2,2474.8 L1963.6,2475.4 L1961.6,2476.2 L1959.7,2477.2 L1957.8,2478.4 L1955.9,2479.6 L1954.4,2480.9 L1953.5,2482.0 L1953.2,2483.1 L1953.3,2484.2 L1954.2,2485.2 L1956.6,2485.9 L1959.2,2486.6 L1960.8,2487.2 L1961.2,2487.7 L1958.8,2488.2 L1956.2,2488.6Z" fill="#B385FF" stroke="#222" stroke-width="1.2"/>
<line x1="2028.1" y1="2488.6" x2="2028.1" y2="2484.6" stroke="#222" stroke-width="1.3"/>
<line x1="2090.4" y1="2488.6" x2="2090.4" y2="2484.6" stroke="#222" stroke-width="1.3"/>
<line x1="1463.4" y1="2523.2" x2="1463.4" y2="2515.2" stroke="#222" stroke-width="1.3"/>
<line x1="1526.4" y1="2523.2" x2="1526.4" y2="2521.2" stroke="#222" stroke-width="1.3"/>
<line x1="1589.3" y1="2523.2" x2="1589.3" y2="2521.2" stroke="#222" stroke-width="1.3"/>
<line x1="1651.7" y1="2523.2" x2="1651.7" y2="2518.2" stroke="#222" stroke-width="1.3"/>
<line x1="1714.6" y1="2523.2" x2="1714.6" y2="2518.2" stroke="#222" stroke-width="1.3"/>
<line x1="1777.5" y1="2523.2" x2="1777.5" y2="2515.2" stroke="#222" stroke-width="1.3"/>
<line x1="1839.9" y1="2523.2" x2="1839.9" y2="2515.2" stroke="#222" stroke-width="1.3"/>
<line x1="1902.2" y1="2523.2" x2="1902.2" y2="2515.2" stroke="#222" stroke-width="1.3"/>
<line x1="1965.2" y1="2523.2" x2="1965.2" y2="2517.2" stroke="#222" stroke-width="1.3"/>
<path d="M2049.1,2523.2 L2043.0,2522.9 L2037.5,2522.3 L2038.4,2521.9 L2042.1,2521.2 L2048.1,2520.3 L2053.9,2519.2 L2055.9,2518.0 L2056.1,2516.8 L2055.3,2515.5 L2053.3,2514.2 L2049.8,2512.8 L2045.5,2511.3 L2041.0,2510.0 L2036.5,2508.8 L2031.7,2507.8 L2028.1,2507.1 L2028.1,2507.1 L2024.5,2507.8 L2019.7,2508.8 L2015.2,2510.0 L2010.7,2511.3 L2006.4,2512.8 L2002.9,2514.2 L2000.9,2515.5 L2000.1,2516.8 L2000.3,2518.0 L2002.3,2519.2 L2008.1,2520.3 L2014.1,2521.2 L2017.8,2521.9 L2018.6,2522.3 L2013.2,2522.9 L2007.1,2523.2Z" fill="#EF67EB" stroke="#222" stroke-width="1.2"/>
<line x1="2090.4" y1="2523.2" x2="2090.4" y2="2515.2" stroke="#222" stroke-width="1.3"/>
<line x1="1463.4" y1="2557.9" x2="1463.4" y2="2553.9" stroke="#222" stroke-width="1.3"/>
<line x1="1526.4" y1="2557.9" x2="1526.4" y2="2554.9" stroke="#222" stroke-width="1.3"/>
<line x1="1589.3" y1="2557.9" x2="1589.3" y2="2554.9" stroke="#222" stroke-width="1.3"/>
<line x1="1651.7" y1="2557.9" x2="1651.7" y2="2551.9" stroke="#222" stroke-width="1.3"/>
<line x1="1714.6" y1="2557.9" x2="1714.6" y2="2552.9" stroke="#222" stroke-width="1.3"/>
<line x1="1777.5" y1="2557.9" x2="1777.5" y2="2554.9" stroke="#222" stroke-width="1.3"/>
<line x1="1839.9" y1="2557.9" x2="1839.9" y2="2554.9" stroke="#222" stroke-width="1.3"/>
<line x1="1902.2" y1="2557.9" x2="1902.2" y2="2552.9" stroke="#222" stroke-width="1.3"/>
<line x1="1965.2" y1="2557.9" x2="1965.2" y2="2554.9" stroke="#222" stroke-width="1.3"/>
<line x1="2028.1" y1="2557.9" x2="2028.1" y2="2554.9" stroke="#222" stroke-width="1.3"/>
<path d="M2112.2,2557.9 L2105.9,2557.5 L2100.2,2557.0 L2101.0,2556.5 L2104.9,2555.9 L2111.1,2554.7 L2117.1,2553.3 L2119.2,2551.9 L2119.4,2550.5 L2118.6,2549.1 L2116.5,2547.6 L2112.8,2545.9 L2108.4,2544.3 L2103.8,2542.7 L2099.1,2541.3 L2094.2,2540.2 L2090.4,2539.5 L2090.4,2539.5 L2086.6,2540.2 L2081.7,2541.3 L2077.0,2542.7 L2072.4,2544.3 L2068.0,2545.9 L2064.3,2547.6 L2062.2,2549.1 L2061.4,2550.5 L2061.6,2551.9 L2063.7,2553.3 L2069.7,2554.7 L2075.9,2555.9 L2079.8,2556.5 L2080.6,2557.0 L2074.9,2557.5 L2068.7,2557.9Z" fill="#FF63B6" stroke="#222" stroke-width="1.2"/>
<line x1="1463.4" y1="2592.5" x2="1463.4" y2="2587.5" stroke="#222" stroke-width="1.3"/>
<line x1="1526.4" y1="2592.5" x2="1526.4" y2="2585.5" stroke="#222" stroke-width="1.3"/>
<line x1="1589.3" y1="2592.5" x2="1589.3" y2="2586.5" stroke="#222" stroke-width="1.3"/>
<line x1="1651.7" y1="2592.5" x2="1651.7" y2="2586.5" stroke="#222" stroke-width="1.3"/>
<line x1="1714.6" y1="2592.5" x2="1714.6" y2="2589.5" stroke="#222" stroke-width="1.3"/>
<line x1="1777.5" y1="2592.5" x2="1777.5" y2="2584.5" stroke="#222" stroke-width="1.3"/>
<line x1="1839.9" y1="2592.5" x2="1839.9" y2="2589.5" stroke="#222" stroke-width="1.3"/>
<line x1="1902.2" y1="2592.5" x2="1902.2" y2="2587.5" stroke="#222" stroke-width="1.3"/>
<line x1="1965.2" y1="2592.5" x2="1965.2" y2="2585.5" stroke="#222" stroke-width="1.3"/>
<line x1="2028.1" y1="2592.5" x2="2028.1" y2="2590.5" stroke="#222" stroke-width="1.3"/>
<path d="M2111.4,2592.5 L2105.3,2592.1 L2099.8,2591.6 L2100.7,2591.1 L2104.4,2590.5 L2110.4,2589.6 L2116.2,2588.5 L2118.2,2587.3 L2118.4,2586.1 L2117.6,2584.8 L2115.6,2583.5 L2112.1,2582.1 L2107.8,2580.6 L2103.3,2579.2 L2098.8,2578.0 L2094.0,2577.1 L2090.4,2576.4 L2090.4,2576.4 L2086.8,2577.1 L2082.0,2578.0 L2077.5,2579.2 L2073.0,2580.6 L2068.7,2582.1 L2065.2,2583.5 L2063.2,2584.8 L2062.4,2586.1 L2062.6,2587.3 L2064.6,2588.5 L2070.4,2589.6 L2076.4,2590.5 L2080.1,2591.1 L2081.0,2591.6 L2075.5,2592.1 L2069.4,2592.5Z" fill="#FF63B6" stroke="#222" stroke-width="1.2"/>
<line x1="1463.4" y1="2627.2" x2="1463.4" y2="2621.2" stroke="#222" stroke-width="1.3"/>
<line x1="1526.4" y1="2627.2" x2="1526.4" y2="2621.2" stroke="#222" stroke-width="1.3"/>
<line x1="1589.3" y1="2627.2" x2="1589.3" y2="2621.2" stroke="#222" stroke-width="1.3"/>
<line x1="1651.7" y1="2627.2" x2="1651.7" y2="2619.2" stroke="#222" stroke-width="1.3"/>
<line x1="1714.6" y1="2627.2" x2="1714.6" y2="2620.2" stroke="#222" stroke-width="1.3"/>
<line x1="1777.5" y1="2627.2" x2="1777.5" y2="2621.2" stroke="#222" stroke-width="1.3"/>
<line x1="1839.9" y1="2627.2" x2="1839.9" y2="2621.2" stroke="#222" stroke-width="1.3"/>
<line x1="1902.2" y1="2627.2" x2="1902.2" y2="2618.2" stroke="#222" stroke-width="1.3"/>
<line x1="1965.2" y1="2627.2" x2="1965.2" y2="2620.2" stroke="#222" stroke-width="1.3"/>
<line x1="2028.1" y1="2627.2" x2="2028.1" y2="2623.2" stroke="#222" stroke-width="1.3"/>
<path d="M2111.4,2627.2 L2105.3,2626.8 L2099.8,2626.3 L2100.7,2625.8 L2104.4,2625.2 L2110.4,2624.2 L2116.2,2623.1 L2118.2,2622.0 L2118.4,2620.7 L2117.6,2619.5 L2115.6,2618.1 L2112.1,2616.7 L2107.8,2615.2 L2103.3,2613.9 L2098.8,2612.7 L2094.0,2611.7 L2090.4,2611.1 L2090.4,2611.1 L2086.8,2611.7 L2082.0,2612.7 L2077.5,2613.9 L2073.0,2615.2 L2068.7,2616.7 L2065.2,2618.1 L2063.2,2619.5 L2062.4,2620.7 L2062.6,2622.0 L2064.6,2623.1 L2070.4,2624.2 L2076.4,2625.2 L2080.1,2625.8 L2081.0,2626.3 L2075.5,2626.8 L2069.4,2627.2Z" fill="#FF63B6" stroke="#222" stroke-width="1.2"/>
<g font-size="22" font-family='"Liberation Sans", Arial, sans-serif' fill="#111" text-anchor="middle">
<text x="1463.4" y="2654">0</text>
<text x="1526.4" y="2654">1</text>
<text x="1589.3" y="2654">2</text>
<text x="1651.7" y="2654">3</text>
<text x="1714.6" y="2654">4</text>
<text x="1777.5" y="2654">5</text>
<text x="1839.9" y="2654">6</text>
<text x="1902.2" y="2654">7</text>
<text x="1965.2" y="2654">8</text>
<text x="2028.1" y="2654">9</text>
<text x="2090.4" y="2654">10</text>
</g>
</svg>
</body></html>
